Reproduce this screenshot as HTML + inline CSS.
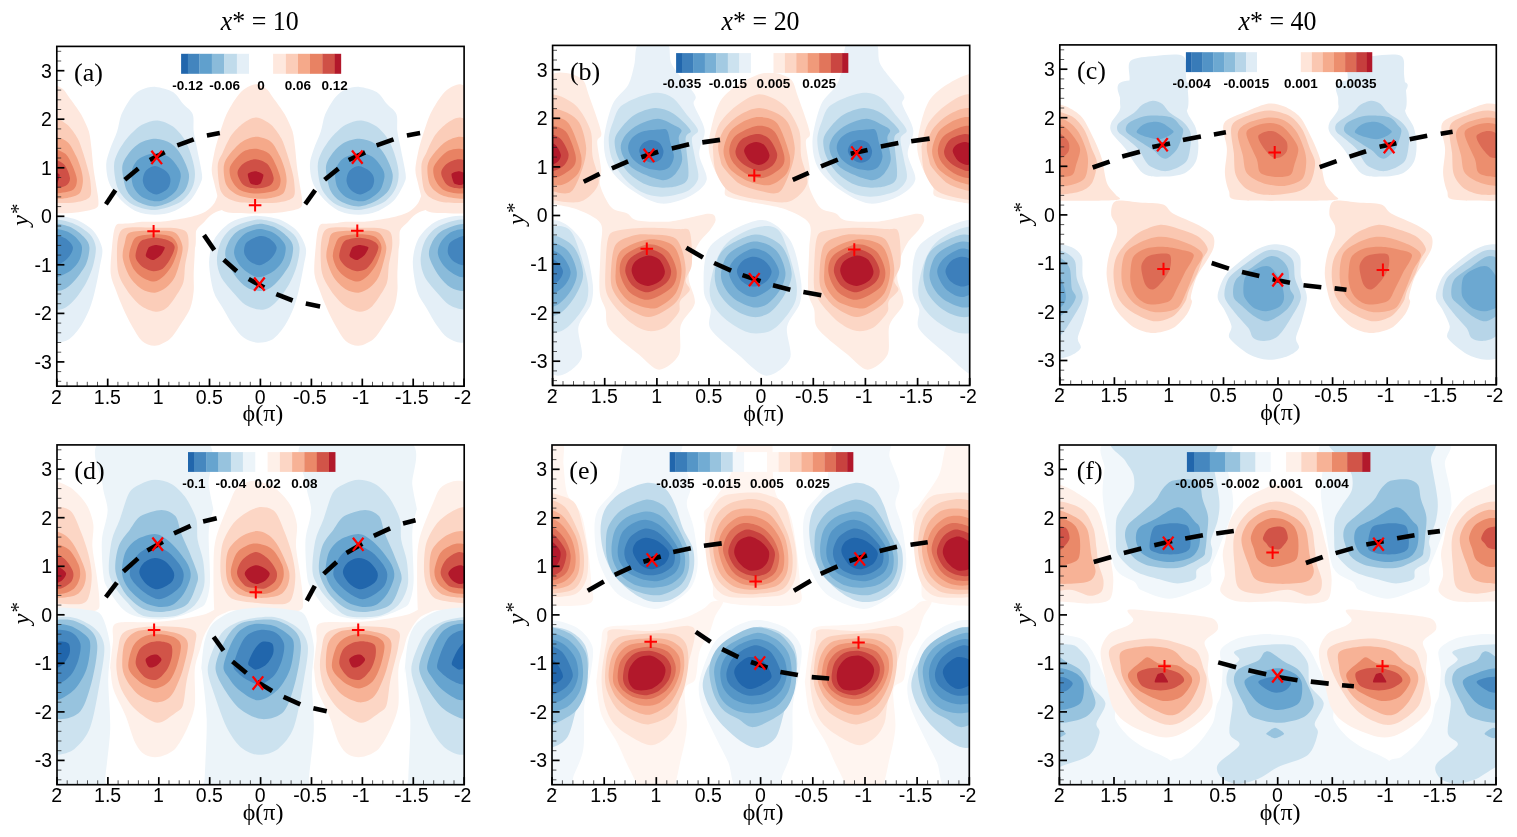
<!DOCTYPE html>
<html lang="en"><head><meta charset="utf-8"><title>Contour figure</title>
<style>
html,body{margin:0;padding:0;background:#fff}
svg{display:block}
.tk{font-family:"Liberation Sans",sans-serif;font-size:19.5px;fill:#000}
.cb{font-family:"Liberation Sans",sans-serif;font-size:13.5px;font-weight:bold;fill:#000;text-anchor:middle}
.sf{font-family:"Liberation Serif",serif;fill:#000}
</style></head>
<body>
<svg width="1517" height="837" viewBox="0 0 1517 837">
<rect width="1517" height="837" fill="#fff"/>
<g id="panel-a">
<clipPath id="clip-a"><rect x="56.8" y="46.4" width="407.3" height="339.8"/></clipPath>
<g clip-path="url(#clip-a)">
<path fill="#e4eff7" transform="translate(-203.7,0)" d="M155.8,86.9C160.4,87.3 168.9,89.5 173,92C177.1,94.6 180.4,100.7 183.3,104.1C186.3,107.4 191.2,110.3 192.8,114.4C194.3,118.5 193,126.5 193.7,131.6C194.3,136.8 195.9,142.5 197.1,148.8C198.3,155.2 201.4,168.6 201.9,173.8C202.4,178.9 202.3,179.2 200.5,183.2C198.8,187.2 194.3,196.2 190.2,200.5C186.1,204.7 178.3,209.5 173,211.6C167.7,213.8 160.4,214.7 154.9,214.7C149.5,214.7 141.9,213.8 136.9,211.6C131.8,209.5 125.5,204.7 121.4,200.5C117.3,196.2 111.6,188.7 109.3,183.2C107.1,177.8 106.1,169.5 106.2,164.3C106.4,159.2 108.6,153.7 110.2,148.8C111.8,143.9 115.4,136.8 117.1,131.6C118.8,126.5 119.2,119.6 121.4,114.4C123.6,109.3 128.6,100.9 131.7,97.2C134.8,93.5 138.4,91 142,89.5C145.6,87.9 151.2,86.5 155.8,86.9Z"/>
<path fill="#e4eff7" d="M155.8,86.9C160.4,87.3 168.9,89.5 173,92C177.1,94.6 180.4,100.7 183.3,104.1C186.3,107.4 191.2,110.3 192.8,114.4C194.3,118.5 193,126.5 193.7,131.6C194.3,136.8 195.9,142.5 197.1,148.8C198.3,155.2 201.4,168.6 201.9,173.8C202.4,178.9 202.3,179.2 200.5,183.2C198.8,187.2 194.3,196.2 190.2,200.5C186.1,204.7 178.3,209.5 173,211.6C167.7,213.8 160.4,214.7 154.9,214.7C149.5,214.7 141.9,213.8 136.9,211.6C131.8,209.5 125.5,204.7 121.4,200.5C117.3,196.2 111.6,188.7 109.3,183.2C107.1,177.8 106.1,169.5 106.2,164.3C106.4,159.2 108.6,153.7 110.2,148.8C111.8,143.9 115.4,136.8 117.1,131.6C118.8,126.5 119.2,119.6 121.4,114.4C123.6,109.3 128.6,100.9 131.7,97.2C134.8,93.5 138.4,91 142,89.5C145.6,87.9 151.2,86.5 155.8,86.9Z"/>
<path fill="#e4eff7" transform="translate(203.7,0)" d="M155.8,86.9C160.4,87.3 168.9,89.5 173,92C177.1,94.6 180.4,100.7 183.3,104.1C186.3,107.4 191.2,110.3 192.8,114.4C194.3,118.5 193,126.5 193.7,131.6C194.3,136.8 195.9,142.5 197.1,148.8C198.3,155.2 201.4,168.6 201.9,173.8C202.4,178.9 202.3,179.2 200.5,183.2C198.8,187.2 194.3,196.2 190.2,200.5C186.1,204.7 178.3,209.5 173,211.6C167.7,213.8 160.4,214.7 154.9,214.7C149.5,214.7 141.9,213.8 136.9,211.6C131.8,209.5 125.5,204.7 121.4,200.5C117.3,196.2 111.6,188.7 109.3,183.2C107.1,177.8 106.1,169.5 106.2,164.3C106.4,159.2 108.6,153.7 110.2,148.8C111.8,143.9 115.4,136.8 117.1,131.6C118.8,126.5 119.2,119.6 121.4,114.4C123.6,109.3 128.6,100.9 131.7,97.2C134.8,93.5 138.4,91 142,89.5C145.6,87.9 151.2,86.5 155.8,86.9Z"/>
<path fill="#fee8de" transform="translate(-203.7,0)" d="M255.6,84.3C258.7,84.3 263.3,86.7 265.9,88.6C268.5,90.5 270,93.3 272.8,97.2C275.6,101.1 281.9,109.3 284.9,114.4C287.8,119.6 291,126.5 292.6,131.6C294.1,136.8 294.5,143.7 295.2,148.8C295.8,154 296.3,160.9 296.9,166C297.5,171.2 298.7,178.1 299.5,183.2C300.3,188.4 302.1,196.7 302.1,200.5C302.1,204.2 302.8,206.4 299.5,208.2C296.1,210 286.3,211.7 279.7,212.5C273.1,213.3 263.3,213.4 255.6,213.4C247.9,213.4 233.5,213.4 228.1,212.5C222.7,211.6 220.9,209.1 219.5,207.3C218,205.5 219.4,204.1 218.6,200.5C217.8,196.8 215.3,187.9 214.3,183.2C213.3,178.6 211.6,174.6 211.7,169.5C211.9,164.3 213.9,154.5 215.2,148.8C216.5,143.2 218.7,136.8 220.3,131.6C222,126.5 223.9,119.6 226.4,114.4C228.8,109.3 233.8,101.1 236.7,97.2C239.5,93.3 242.4,90.5 245.3,88.6C248.1,86.7 252.5,84.3 255.6,84.3Z"/>
<path fill="#fee8de" d="M255.6,84.3C258.7,84.3 263.3,86.7 265.9,88.6C268.5,90.5 270,93.3 272.8,97.2C275.6,101.1 281.9,109.3 284.9,114.4C287.8,119.6 291,126.5 292.6,131.6C294.1,136.8 294.5,143.7 295.2,148.8C295.8,154 296.3,160.9 296.9,166C297.5,171.2 298.7,178.1 299.5,183.2C300.3,188.4 302.1,196.7 302.1,200.5C302.1,204.2 302.8,206.4 299.5,208.2C296.1,210 286.3,211.7 279.7,212.5C273.1,213.3 263.3,213.4 255.6,213.4C247.9,213.4 233.5,213.4 228.1,212.5C222.7,211.6 220.9,209.1 219.5,207.3C218,205.5 219.4,204.1 218.6,200.5C217.8,196.8 215.3,187.9 214.3,183.2C213.3,178.6 211.6,174.6 211.7,169.5C211.9,164.3 213.9,154.5 215.2,148.8C216.5,143.2 218.7,136.8 220.3,131.6C222,126.5 223.9,119.6 226.4,114.4C228.8,109.3 233.8,101.1 236.7,97.2C239.5,93.3 242.4,90.5 245.3,88.6C248.1,86.7 252.5,84.3 255.6,84.3Z"/>
<path fill="#fee8de" transform="translate(203.7,0)" d="M255.6,84.3C258.7,84.3 263.3,86.7 265.9,88.6C268.5,90.5 270,93.3 272.8,97.2C275.6,101.1 281.9,109.3 284.9,114.4C287.8,119.6 291,126.5 292.6,131.6C294.1,136.8 294.5,143.7 295.2,148.8C295.8,154 296.3,160.9 296.9,166C297.5,171.2 298.7,178.1 299.5,183.2C300.3,188.4 302.1,196.7 302.1,200.5C302.1,204.2 302.8,206.4 299.5,208.2C296.1,210 286.3,211.7 279.7,212.5C273.1,213.3 263.3,213.4 255.6,213.4C247.9,213.4 233.5,213.4 228.1,212.5C222.7,211.6 220.9,209.1 219.5,207.3C218,205.5 219.4,204.1 218.6,200.5C217.8,196.8 215.3,187.9 214.3,183.2C213.3,178.6 211.6,174.6 211.7,169.5C211.9,164.3 213.9,154.5 215.2,148.8C216.5,143.2 218.7,136.8 220.3,131.6C222,126.5 223.9,119.6 226.4,114.4C228.8,109.3 233.8,101.1 236.7,97.2C239.5,93.3 242.4,90.5 245.3,88.6C248.1,86.7 252.5,84.3 255.6,84.3Z"/>
<path fill="#fee8de" transform="translate(-203.7,0)" d="M115.4,226.5C117.3,222.8 118.9,224.2 124.8,223.6C130.8,223 147.2,222.7 154.9,222.7C162.7,222.7 170.6,223.2 176.5,223.6C182.3,224 190.9,222.2 193.7,225.3C196.4,228.5 195,237.3 195,244.6C195,251.9 193.9,266.9 193.7,273.8C193.5,280.8 194.2,285.9 193.7,291C193.1,296.2 192.3,303.1 190.2,308.2C188.2,313.4 183,320.8 179.9,325.5C176.8,330.1 173.3,336.2 169.6,339.2C165.8,342.3 159.1,345.5 154.9,345.8C150.8,346 145.5,344 142,340.9C138.6,337.9 134.6,330.4 131.7,325.5C128.9,320.5 125.4,313.4 123.1,308.2C120.8,303.1 118.1,296.2 116.2,291C114.4,285.9 111.4,280.3 110.7,273.8C110.1,267.4 111.2,255.1 111.9,248C112.6,240.9 113.4,230.2 115.4,226.5Z"/>
<path fill="#fee8de" d="M115.4,226.5C117.3,222.8 118.9,224.2 124.8,223.6C130.8,223 147.2,222.7 154.9,222.7C162.7,222.7 170.6,223.2 176.5,223.6C182.3,224 190.9,222.2 193.7,225.3C196.4,228.5 195,237.3 195,244.6C195,251.9 193.9,266.9 193.7,273.8C193.5,280.8 194.2,285.9 193.7,291C193.1,296.2 192.3,303.1 190.2,308.2C188.2,313.4 183,320.8 179.9,325.5C176.8,330.1 173.3,336.2 169.6,339.2C165.8,342.3 159.1,345.5 154.9,345.8C150.8,346 145.5,344 142,340.9C138.6,337.9 134.6,330.4 131.7,325.5C128.9,320.5 125.4,313.4 123.1,308.2C120.8,303.1 118.1,296.2 116.2,291C114.4,285.9 111.4,280.3 110.7,273.8C110.1,267.4 111.2,255.1 111.9,248C112.6,240.9 113.4,230.2 115.4,226.5Z"/>
<path fill="#fee8de" transform="translate(203.7,0)" d="M115.4,226.5C117.3,222.8 118.9,224.2 124.8,223.6C130.8,223 147.2,222.7 154.9,222.7C162.7,222.7 170.6,223.2 176.5,223.6C182.3,224 190.9,222.2 193.7,225.3C196.4,228.5 195,237.3 195,244.6C195,251.9 193.9,266.9 193.7,273.8C193.5,280.8 194.2,285.9 193.7,291C193.1,296.2 192.3,303.1 190.2,308.2C188.2,313.4 183,320.8 179.9,325.5C176.8,330.1 173.3,336.2 169.6,339.2C165.8,342.3 159.1,345.5 154.9,345.8C150.8,346 145.5,344 142,340.9C138.6,337.9 134.6,330.4 131.7,325.5C128.9,320.5 125.4,313.4 123.1,308.2C120.8,303.1 118.1,296.2 116.2,291C114.4,285.9 111.4,280.3 110.7,273.8C110.1,267.4 111.2,255.1 111.9,248C112.6,240.9 113.4,230.2 115.4,226.5Z"/>
<path fill="#e4eff7" transform="translate(-203.7,0)" d="M257.3,215.7C263,215.9 273.8,217.4 279.7,219.6C285.6,221.9 293,226.6 296.9,230.8C300.8,235.1 304.8,242.9 305.8,248C306.9,253.2 304.9,258.8 303.8,265.2C302.7,271.7 300.2,284.6 298.6,291C297.1,297.5 295.5,303.1 293.5,308.2C291.4,313.4 288,320.8 284.9,325.5C281.8,330.1 276.9,336.6 272.8,339.2C268.7,341.8 261.7,342.9 257.3,342.7C252.9,342.4 247.2,340.1 243.6,337.5C239.9,334.9 236.3,329.8 233.2,325.5C230.1,321.1 225.9,313.4 222.9,308.2C219.9,303.1 215.5,298 213.4,291C211.4,284.1 209,269.5 209.1,261.8C209.3,254 211.5,245.1 214.3,239.4C217.1,233.7 223.9,227.2 228.1,223.9C232.2,220.7 237.4,219.1 241.8,217.9C246.2,216.7 251.6,215.4 257.3,215.7Z"/>
<path fill="#e4eff7" d="M257.3,215.7C263,215.9 273.8,217.4 279.7,219.6C285.6,221.9 293,226.6 296.9,230.8C300.8,235.1 304.8,242.9 305.8,248C306.9,253.2 304.9,258.8 303.8,265.2C302.7,271.7 300.2,284.6 298.6,291C297.1,297.5 295.5,303.1 293.5,308.2C291.4,313.4 288,320.8 284.9,325.5C281.8,330.1 276.9,336.6 272.8,339.2C268.7,341.8 261.7,342.9 257.3,342.7C252.9,342.4 247.2,340.1 243.6,337.5C239.9,334.9 236.3,329.8 233.2,325.5C230.1,321.1 225.9,313.4 222.9,308.2C219.9,303.1 215.5,298 213.4,291C211.4,284.1 209,269.5 209.1,261.8C209.3,254 211.5,245.1 214.3,239.4C217.1,233.7 223.9,227.2 228.1,223.9C232.2,220.7 237.4,219.1 241.8,217.9C246.2,216.7 251.6,215.4 257.3,215.7Z"/>
<path fill="#e4eff7" transform="translate(203.7,0)" d="M257.3,215.7C263,215.9 273.8,217.4 279.7,219.6C285.6,221.9 293,226.6 296.9,230.8C300.8,235.1 304.8,242.9 305.8,248C306.9,253.2 304.9,258.8 303.8,265.2C302.7,271.7 300.2,284.6 298.6,291C297.1,297.5 295.5,303.1 293.5,308.2C291.4,313.4 288,320.8 284.9,325.5C281.8,330.1 276.9,336.6 272.8,339.2C268.7,341.8 261.7,342.9 257.3,342.7C252.9,342.4 247.2,340.1 243.6,337.5C239.9,334.9 236.3,329.8 233.2,325.5C230.1,321.1 225.9,313.4 222.9,308.2C219.9,303.1 215.5,298 213.4,291C211.4,284.1 209,269.5 209.1,261.8C209.3,254 211.5,245.1 214.3,239.4C217.1,233.7 223.9,227.2 228.1,223.9C232.2,220.7 237.4,219.1 241.8,217.9C246.2,216.7 251.6,215.4 257.3,215.7Z"/>
<path fill="#fee8de" transform="translate(-203.7,0)" d="M133.4,223.2C137.3,220.9 155.1,222.3 162.7,221.5C170.3,220.7 184.5,218.4 190.2,217C196,215.7 202.5,213.4 205.7,211.5C208.9,209.7 212.2,206 214.3,203.3C216.4,200.6 217.5,192.8 221.2,191.2C224.9,189.6 239.5,188.7 241.8,191.2C244.1,193.8 241.1,207.6 238.4,210.2C235.6,212.7 224.7,209.6 221.2,210.2C217.6,210.7 214,212.9 211.7,214.5C209.4,216.1 206,220 204,222.2C201.9,224.4 197.6,227.1 196.2,230.8C194.9,234.5 197.4,247.2 193.7,249.7C189.9,252.3 175.9,251.1 167.8,249.7C159.8,248.4 138,242.9 133.4,239.4C128.8,235.9 129.5,225.6 133.4,223.2Z"/>
<path fill="#fee8de" d="M133.4,223.2C137.3,220.9 155.1,222.3 162.7,221.5C170.3,220.7 184.5,218.4 190.2,217C196,215.7 202.5,213.4 205.7,211.5C208.9,209.7 212.2,206 214.3,203.3C216.4,200.6 217.5,192.8 221.2,191.2C224.9,189.6 239.5,188.7 241.8,191.2C244.1,193.8 241.1,207.6 238.4,210.2C235.6,212.7 224.7,209.6 221.2,210.2C217.6,210.7 214,212.9 211.7,214.5C209.4,216.1 206,220 204,222.2C201.9,224.4 197.6,227.1 196.2,230.8C194.9,234.5 197.4,247.2 193.7,249.7C189.9,252.3 175.9,251.1 167.8,249.7C159.8,248.4 138,242.9 133.4,239.4C128.8,235.9 129.5,225.6 133.4,223.2Z"/>
<path fill="#fee8de" transform="translate(203.7,0)" d="M133.4,223.2C137.3,220.9 155.1,222.3 162.7,221.5C170.3,220.7 184.5,218.4 190.2,217C196,215.7 202.5,213.4 205.7,211.5C208.9,209.7 212.2,206 214.3,203.3C216.4,200.6 217.5,192.8 221.2,191.2C224.9,189.6 239.5,188.7 241.8,191.2C244.1,193.8 241.1,207.6 238.4,210.2C235.6,212.7 224.7,209.6 221.2,210.2C217.6,210.7 214,212.9 211.7,214.5C209.4,216.1 206,220 204,222.2C201.9,224.4 197.6,227.1 196.2,230.8C194.9,234.5 197.4,247.2 193.7,249.7C189.9,252.3 175.9,251.1 167.8,249.7C159.8,248.4 138,242.9 133.4,239.4C128.8,235.9 129.5,225.6 133.4,223.2Z"/>
<path fill="#c0dbeb" transform="translate(-203.7,0)" d="M157.5,120.4C162.2,120.7 168.9,123.5 173,126.5C177.1,129.4 182.2,135.6 185.1,140.2C187.9,144.9 190.4,152.4 191.9,157.4C193.4,162.5 195,169.1 195,173.8C195,178.4 194.2,184.1 191.9,188.4C189.7,192.7 185.4,198.9 179.9,202.2C174.3,205.4 162.2,209.7 154.9,209.9C147.7,210.2 137.3,207.1 131.7,203.9C126.2,200.7 120.6,194.1 117.9,188.4C115.3,182.7 114,171.5 114,166C114,160.6 115.8,156.7 117.9,152.3C120.1,147.9 124.7,140.9 128.3,136.8C131.9,132.7 137.6,127.2 142,124.7C146.4,122.3 152.9,120.2 157.5,120.4Z"/>
<path fill="#c0dbeb" d="M157.5,120.4C162.2,120.7 168.9,123.5 173,126.5C177.1,129.4 182.2,135.6 185.1,140.2C187.9,144.9 190.4,152.4 191.9,157.4C193.4,162.5 195,169.1 195,173.8C195,178.4 194.2,184.1 191.9,188.4C189.7,192.7 185.4,198.9 179.9,202.2C174.3,205.4 162.2,209.7 154.9,209.9C147.7,210.2 137.3,207.1 131.7,203.9C126.2,200.7 120.6,194.1 117.9,188.4C115.3,182.7 114,171.5 114,166C114,160.6 115.8,156.7 117.9,152.3C120.1,147.9 124.7,140.9 128.3,136.8C131.9,132.7 137.6,127.2 142,124.7C146.4,122.3 152.9,120.2 157.5,120.4Z"/>
<path fill="#c0dbeb" transform="translate(203.7,0)" d="M157.5,120.4C162.2,120.7 168.9,123.5 173,126.5C177.1,129.4 182.2,135.6 185.1,140.2C187.9,144.9 190.4,152.4 191.9,157.4C193.4,162.5 195,169.1 195,173.8C195,178.4 194.2,184.1 191.9,188.4C189.7,192.7 185.4,198.9 179.9,202.2C174.3,205.4 162.2,209.7 154.9,209.9C147.7,210.2 137.3,207.1 131.7,203.9C126.2,200.7 120.6,194.1 117.9,188.4C115.3,182.7 114,171.5 114,166C114,160.6 115.8,156.7 117.9,152.3C120.1,147.9 124.7,140.9 128.3,136.8C131.9,132.7 137.6,127.2 142,124.7C146.4,122.3 152.9,120.2 157.5,120.4Z"/>
<path fill="#fbcdb9" transform="translate(-203.7,0)" d="M256.5,117.5C260.6,117.8 267.3,121.6 271.1,124.7C274.8,127.9 279.1,134.4 281.4,138.5C283.7,142.6 285,147.6 286.6,152.3C288.1,156.9 290.6,164.8 291.7,169.5C292.9,174.1 294.1,179.1 294.3,183.2C294.6,187.4 295.7,194.2 293.5,197C291.3,199.8 285.2,201.3 279.7,202.2C274.1,203.1 263.2,203.2 256.5,203C249.8,202.9 240.2,203 235,201.3C229.7,199.6 223.8,197.1 221.2,191.8C218.6,186.6 217.5,172 217.7,166C218,160.1 220.8,156.9 222.9,152.3C225,147.6 228.4,139.5 231.5,135.1C234.6,130.7 239.8,125.7 243.6,123C247.3,120.4 252.3,117.3 256.5,117.5Z"/>
<path fill="#fbcdb9" d="M256.5,117.5C260.6,117.8 267.3,121.6 271.1,124.7C274.8,127.9 279.1,134.4 281.4,138.5C283.7,142.6 285,147.6 286.6,152.3C288.1,156.9 290.6,164.8 291.7,169.5C292.9,174.1 294.1,179.1 294.3,183.2C294.6,187.4 295.7,194.2 293.5,197C291.3,199.8 285.2,201.3 279.7,202.2C274.1,203.1 263.2,203.2 256.5,203C249.8,202.9 240.2,203 235,201.3C229.7,199.6 223.8,197.1 221.2,191.8C218.6,186.6 217.5,172 217.7,166C218,160.1 220.8,156.9 222.9,152.3C225,147.6 228.4,139.5 231.5,135.1C234.6,130.7 239.8,125.7 243.6,123C247.3,120.4 252.3,117.3 256.5,117.5Z"/>
<path fill="#fbcdb9" transform="translate(203.7,0)" d="M256.5,117.5C260.6,117.8 267.3,121.6 271.1,124.7C274.8,127.9 279.1,134.4 281.4,138.5C283.7,142.6 285,147.6 286.6,152.3C288.1,156.9 290.6,164.8 291.7,169.5C292.9,174.1 294.1,179.1 294.3,183.2C294.6,187.4 295.7,194.2 293.5,197C291.3,199.8 285.2,201.3 279.7,202.2C274.1,203.1 263.2,203.2 256.5,203C249.8,202.9 240.2,203 235,201.3C229.7,199.6 223.8,197.1 221.2,191.8C218.6,186.6 217.5,172 217.7,166C218,160.1 220.8,156.9 222.9,152.3C225,147.6 228.4,139.5 231.5,135.1C234.6,130.7 239.8,125.7 243.6,123C247.3,120.4 252.3,117.3 256.5,117.5Z"/>
<path fill="#fbcdb9" transform="translate(-203.7,0)" d="M124.8,228.2C130.2,226.5 146.3,227.7 154.1,227.7C161.8,227.7 171.5,227.5 176.5,228.2C181.4,229 185,229.8 186.8,232.5C188.6,235.2 188.8,241.4 188.5,246.3C188.2,251.2 185.8,259.8 185.1,265.2C184.3,270.6 184.9,277.5 183.3,282.4C181.8,287.3 177.3,294 174.7,297.9C172.1,301.8 169,306.2 166.1,308.2C163.3,310.3 159.4,311.9 155.8,311.7C152.2,311.4 145.9,309.1 142,306.5C138.2,303.9 133.3,298.9 130,294.5C126.6,290.1 121.6,282.2 119.7,277.3C117.7,272.4 117.3,267.5 117.1,261.8C116.8,256.1 116.8,244.4 117.9,239.4C119.1,234.4 119.4,230 124.8,228.2Z"/>
<path fill="#fbcdb9" d="M124.8,228.2C130.2,226.5 146.3,227.7 154.1,227.7C161.8,227.7 171.5,227.5 176.5,228.2C181.4,229 185,229.8 186.8,232.5C188.6,235.2 188.8,241.4 188.5,246.3C188.2,251.2 185.8,259.8 185.1,265.2C184.3,270.6 184.9,277.5 183.3,282.4C181.8,287.3 177.3,294 174.7,297.9C172.1,301.8 169,306.2 166.1,308.2C163.3,310.3 159.4,311.9 155.8,311.7C152.2,311.4 145.9,309.1 142,306.5C138.2,303.9 133.3,298.9 130,294.5C126.6,290.1 121.6,282.2 119.7,277.3C117.7,272.4 117.3,267.5 117.1,261.8C116.8,256.1 116.8,244.4 117.9,239.4C119.1,234.4 119.4,230 124.8,228.2Z"/>
<path fill="#fbcdb9" transform="translate(203.7,0)" d="M124.8,228.2C130.2,226.5 146.3,227.7 154.1,227.7C161.8,227.7 171.5,227.5 176.5,228.2C181.4,229 185,229.8 186.8,232.5C188.6,235.2 188.8,241.4 188.5,246.3C188.2,251.2 185.8,259.8 185.1,265.2C184.3,270.6 184.9,277.5 183.3,282.4C181.8,287.3 177.3,294 174.7,297.9C172.1,301.8 169,306.2 166.1,308.2C163.3,310.3 159.4,311.9 155.8,311.7C152.2,311.4 145.9,309.1 142,306.5C138.2,303.9 133.3,298.9 130,294.5C126.6,290.1 121.6,282.2 119.7,277.3C117.7,272.4 117.3,267.5 117.1,261.8C116.8,256.1 116.8,244.4 117.9,239.4C119.1,234.4 119.4,230 124.8,228.2Z"/>
<path fill="#c0dbeb" transform="translate(-203.7,0)" d="M257.3,219.6C264,219.1 272.6,221.7 278,223.9C283.4,226.1 290.2,230.8 293.5,234.3C296.7,237.7 299,242.5 299.5,247.2C300,251.8 298.3,259.9 296.9,265.2C295.5,270.5 292.6,277.5 290,282.4C287.4,287.3 282.8,294.2 279.7,297.9C276.6,301.7 272.5,305.6 269.4,307.4C266.3,309.1 262.7,310 259,309.6C255.4,309.2 248.9,307.1 245.3,304.8C241.7,302.5 238.6,298.6 235,294.5C231.3,290.3 223.9,282.4 221.2,277.3C218.5,272.1 216.9,265.5 216.9,260.1C216.9,254.6 218.7,246 221.2,241.1C223.6,236.2 227.8,230.6 233.2,227.4C238.7,224.1 250.6,220.1 257.3,219.6Z"/>
<path fill="#c0dbeb" d="M257.3,219.6C264,219.1 272.6,221.7 278,223.9C283.4,226.1 290.2,230.8 293.5,234.3C296.7,237.7 299,242.5 299.5,247.2C300,251.8 298.3,259.9 296.9,265.2C295.5,270.5 292.6,277.5 290,282.4C287.4,287.3 282.8,294.2 279.7,297.9C276.6,301.7 272.5,305.6 269.4,307.4C266.3,309.1 262.7,310 259,309.6C255.4,309.2 248.9,307.1 245.3,304.8C241.7,302.5 238.6,298.6 235,294.5C231.3,290.3 223.9,282.4 221.2,277.3C218.5,272.1 216.9,265.5 216.9,260.1C216.9,254.6 218.7,246 221.2,241.1C223.6,236.2 227.8,230.6 233.2,227.4C238.7,224.1 250.6,220.1 257.3,219.6Z"/>
<path fill="#c0dbeb" transform="translate(203.7,0)" d="M257.3,219.6C264,219.1 272.6,221.7 278,223.9C283.4,226.1 290.2,230.8 293.5,234.3C296.7,237.7 299,242.5 299.5,247.2C300,251.8 298.3,259.9 296.9,265.2C295.5,270.5 292.6,277.5 290,282.4C287.4,287.3 282.8,294.2 279.7,297.9C276.6,301.7 272.5,305.6 269.4,307.4C266.3,309.1 262.7,310 259,309.6C255.4,309.2 248.9,307.1 245.3,304.8C241.7,302.5 238.6,298.6 235,294.5C231.3,290.3 223.9,282.4 221.2,277.3C218.5,272.1 216.9,265.5 216.9,260.1C216.9,254.6 218.7,246 221.2,241.1C223.6,236.2 227.8,230.6 233.2,227.4C238.7,224.1 250.6,220.1 257.3,219.6Z"/>
<path fill="#8abbda" transform="translate(-203.7,0)" d="M155.8,138.8C160.4,139 167.4,141.1 171.3,143.7C175.2,146.2 179,151.1 181.6,155.7C184.3,160.4 188.5,169.5 189,174.6C189.5,179.8 187.5,186.3 185.1,190.1C182.7,194 177.5,198 173,200.5C168.5,202.9 160.4,206.3 154.9,206.5C149.5,206.6 141.1,203.8 136.9,201.3C132.6,198.9 128.7,195.2 126.5,190.1C124.4,185.1 122,173.2 122.2,167.8C122.5,162.3 125.6,157.7 128.3,154C131,150.2 136.2,145.1 140.3,142.8C144.4,140.5 151.2,138.7 155.8,138.8Z"/>
<path fill="#8abbda" d="M155.8,138.8C160.4,139 167.4,141.1 171.3,143.7C175.2,146.2 179,151.1 181.6,155.7C184.3,160.4 188.5,169.5 189,174.6C189.5,179.8 187.5,186.3 185.1,190.1C182.7,194 177.5,198 173,200.5C168.5,202.9 160.4,206.3 154.9,206.5C149.5,206.6 141.1,203.8 136.9,201.3C132.6,198.9 128.7,195.2 126.5,190.1C124.4,185.1 122,173.2 122.2,167.8C122.5,162.3 125.6,157.7 128.3,154C131,150.2 136.2,145.1 140.3,142.8C144.4,140.5 151.2,138.7 155.8,138.8Z"/>
<path fill="#8abbda" transform="translate(203.7,0)" d="M155.8,138.8C160.4,139 167.4,141.1 171.3,143.7C175.2,146.2 179,151.1 181.6,155.7C184.3,160.4 188.5,169.5 189,174.6C189.5,179.8 187.5,186.3 185.1,190.1C182.7,194 177.5,198 173,200.5C168.5,202.9 160.4,206.3 154.9,206.5C149.5,206.6 141.1,203.8 136.9,201.3C132.6,198.9 128.7,195.2 126.5,190.1C124.4,185.1 122,173.2 122.2,167.8C122.5,162.3 125.6,157.7 128.3,154C131,150.2 136.2,145.1 140.3,142.8C144.4,140.5 151.2,138.7 155.8,138.8Z"/>
<path fill="#f5a98a" transform="translate(-203.7,0)" d="M256.5,136.8C260.9,136.8 267.6,139.1 271.1,141.9C274.6,144.8 277.6,151.6 279.7,155.7C281.8,159.8 283.8,165.6 284.9,169.5C285.9,173.3 286.8,177.9 286.6,181.5C286.3,185.1 285.5,191.1 283.1,193.6C280.8,196 275.1,197.1 271.1,197.9C267.1,198.6 261.4,199.1 256.5,198.7C251.6,198.3 242.9,197.4 238.4,195.3C233.9,193.2 228.5,189.4 226.4,185C224.2,180.6 223.3,170.7 223.8,166C224.3,161.4 227.1,157.6 229.8,154C232.5,150.4 237.8,144.5 241.8,141.9C245.8,139.4 252.1,136.8 256.5,136.8Z"/>
<path fill="#f5a98a" d="M256.5,136.8C260.9,136.8 267.6,139.1 271.1,141.9C274.6,144.8 277.6,151.6 279.7,155.7C281.8,159.8 283.8,165.6 284.9,169.5C285.9,173.3 286.8,177.9 286.6,181.5C286.3,185.1 285.5,191.1 283.1,193.6C280.8,196 275.1,197.1 271.1,197.9C267.1,198.6 261.4,199.1 256.5,198.7C251.6,198.3 242.9,197.4 238.4,195.3C233.9,193.2 228.5,189.4 226.4,185C224.2,180.6 223.3,170.7 223.8,166C224.3,161.4 227.1,157.6 229.8,154C232.5,150.4 237.8,144.5 241.8,141.9C245.8,139.4 252.1,136.8 256.5,136.8Z"/>
<path fill="#f5a98a" transform="translate(203.7,0)" d="M256.5,136.8C260.9,136.8 267.6,139.1 271.1,141.9C274.6,144.8 277.6,151.6 279.7,155.7C281.8,159.8 283.8,165.6 284.9,169.5C285.9,173.3 286.8,177.9 286.6,181.5C286.3,185.1 285.5,191.1 283.1,193.6C280.8,196 275.1,197.1 271.1,197.9C267.1,198.6 261.4,199.1 256.5,198.7C251.6,198.3 242.9,197.4 238.4,195.3C233.9,193.2 228.5,189.4 226.4,185C224.2,180.6 223.3,170.7 223.8,166C224.3,161.4 227.1,157.6 229.8,154C232.5,150.4 237.8,144.5 241.8,141.9C245.8,139.4 252.1,136.8 256.5,136.8Z"/>
<path fill="#f5a98a" transform="translate(-203.7,0)" d="M130,232.5C134.4,230.7 147.4,230.8 154.1,230.8C160.8,230.8 170.5,230.2 174.7,232.5C179,234.9 181.7,241.9 182.5,246.3C183.2,250.7 181.1,257.1 179.9,261.8C178.7,266.4 176.8,273.4 174.7,277.3C172.7,281.1 169.1,285.3 166.1,287.6C163.2,289.9 158.6,292.5 154.9,292.8C151.3,293 145.8,291.6 142,289.3C138.3,287 132.9,281.9 130,277.3C127.1,272.6 123.5,263.5 122.8,258.3C122,253.2 123.7,246.7 124.8,242.9C125.9,239 125.6,234.3 130,232.5Z"/>
<path fill="#f5a98a" d="M130,232.5C134.4,230.7 147.4,230.8 154.1,230.8C160.8,230.8 170.5,230.2 174.7,232.5C179,234.9 181.7,241.9 182.5,246.3C183.2,250.7 181.1,257.1 179.9,261.8C178.7,266.4 176.8,273.4 174.7,277.3C172.7,281.1 169.1,285.3 166.1,287.6C163.2,289.9 158.6,292.5 154.9,292.8C151.3,293 145.8,291.6 142,289.3C138.3,287 132.9,281.9 130,277.3C127.1,272.6 123.5,263.5 122.8,258.3C122,253.2 123.7,246.7 124.8,242.9C125.9,239 125.6,234.3 130,232.5Z"/>
<path fill="#f5a98a" transform="translate(203.7,0)" d="M130,232.5C134.4,230.7 147.4,230.8 154.1,230.8C160.8,230.8 170.5,230.2 174.7,232.5C179,234.9 181.7,241.9 182.5,246.3C183.2,250.7 181.1,257.1 179.9,261.8C178.7,266.4 176.8,273.4 174.7,277.3C172.7,281.1 169.1,285.3 166.1,287.6C163.2,289.9 158.6,292.5 154.9,292.8C151.3,293 145.8,291.6 142,289.3C138.3,287 132.9,281.9 130,277.3C127.1,272.6 123.5,263.5 122.8,258.3C122,253.2 123.7,246.7 124.8,242.9C125.9,239 125.6,234.3 130,232.5Z"/>
<path fill="#8abbda" transform="translate(-203.7,0)" d="M259,223.9C264.7,223.5 271.9,226.2 276.3,228.2C280.6,230.3 285.8,234.9 288.3,237.7C290.8,240.5 292.9,243.3 293.1,247.2C293.4,251 292,258.7 290,263.5C288,268.3 282.8,275.2 279.7,279C276.6,282.7 272.5,286.6 269.4,288.5C266.3,290.3 262.4,291.2 259,291C255.7,290.9 250.6,289.9 247,287.6C243.4,285.3 238.2,280.2 235,275.5C231.7,270.9 226.5,261.5 225.5,256.6C224.5,251.7 226.1,246.7 228.1,242.9C230,239 233.7,233.6 238.4,230.8C243,228 253.4,224.3 259,223.9Z"/>
<path fill="#8abbda" d="M259,223.9C264.7,223.5 271.9,226.2 276.3,228.2C280.6,230.3 285.8,234.9 288.3,237.7C290.8,240.5 292.9,243.3 293.1,247.2C293.4,251 292,258.7 290,263.5C288,268.3 282.8,275.2 279.7,279C276.6,282.7 272.5,286.6 269.4,288.5C266.3,290.3 262.4,291.2 259,291C255.7,290.9 250.6,289.9 247,287.6C243.4,285.3 238.2,280.2 235,275.5C231.7,270.9 226.5,261.5 225.5,256.6C224.5,251.7 226.1,246.7 228.1,242.9C230,239 233.7,233.6 238.4,230.8C243,228 253.4,224.3 259,223.9Z"/>
<path fill="#8abbda" transform="translate(203.7,0)" d="M259,223.9C264.7,223.5 271.9,226.2 276.3,228.2C280.6,230.3 285.8,234.9 288.3,237.7C290.8,240.5 292.9,243.3 293.1,247.2C293.4,251 292,258.7 290,263.5C288,268.3 282.8,275.2 279.7,279C276.6,282.7 272.5,286.6 269.4,288.5C266.3,290.3 262.4,291.2 259,291C255.7,290.9 250.6,289.9 247,287.6C243.4,285.3 238.2,280.2 235,275.5C231.7,270.9 226.5,261.5 225.5,256.6C224.5,251.7 226.1,246.7 228.1,242.9C230,239 233.7,233.6 238.4,230.8C243,228 253.4,224.3 259,223.9Z"/>
<path fill="#60a0cd" transform="translate(-203.7,0)" d="M155.8,153.1C160.4,152.9 166.2,155.2 169.6,157.4C172.9,159.6 176.5,164.9 178.2,167.8C179.8,170.6 181,173 180.8,176.4C180.5,179.7 178.6,186.8 176.5,190.1C174.3,193.5 169.2,197.1 166.1,198.7C163,200.4 159.4,201.6 155.8,201.3C152.2,201.1 145.4,199.2 142,197C138.7,194.8 135,190.6 133.4,186.7C131.9,182.8 130.9,175.3 131.7,171.2C132.5,167.1 135,161.9 138.6,159.2C142.2,156.4 151.2,153.4 155.8,153.1Z"/>
<path fill="#60a0cd" d="M155.8,153.1C160.4,152.9 166.2,155.2 169.6,157.4C172.9,159.6 176.5,164.9 178.2,167.8C179.8,170.6 181,173 180.8,176.4C180.5,179.7 178.6,186.8 176.5,190.1C174.3,193.5 169.2,197.1 166.1,198.7C163,200.4 159.4,201.6 155.8,201.3C152.2,201.1 145.4,199.2 142,197C138.7,194.8 135,190.6 133.4,186.7C131.9,182.8 130.9,175.3 131.7,171.2C132.5,167.1 135,161.9 138.6,159.2C142.2,156.4 151.2,153.4 155.8,153.1Z"/>
<path fill="#60a0cd" transform="translate(203.7,0)" d="M155.8,153.1C160.4,152.9 166.2,155.2 169.6,157.4C172.9,159.6 176.5,164.9 178.2,167.8C179.8,170.6 181,173 180.8,176.4C180.5,179.7 178.6,186.8 176.5,190.1C174.3,193.5 169.2,197.1 166.1,198.7C163,200.4 159.4,201.6 155.8,201.3C152.2,201.1 145.4,199.2 142,197C138.7,194.8 135,190.6 133.4,186.7C131.9,182.8 130.9,175.3 131.7,171.2C132.5,167.1 135,161.9 138.6,159.2C142.2,156.4 151.2,153.4 155.8,153.1Z"/>
<path fill="#e88263" transform="translate(-203.7,0)" d="M256.5,148.8C260.1,149.3 266.4,151.4 269.4,154C272.3,156.6 274.6,162.2 276.3,166C277.9,169.9 280.6,176.2 280.6,179.8C280.6,183.4 279.9,188.1 276.3,190.1C272.6,192.2 261.9,193.6 256.5,193.6C251,193.6 243.9,192.2 240.1,190.1C236.4,188.1 233.1,183.2 231.5,179.8C230,176.4 229,171.1 229.8,167.8C230.6,164.4 234.4,160 236.7,157.4C239,154.9 242.3,151.8 245.3,150.5C248.2,149.3 252.8,148.3 256.5,148.8Z"/>
<path fill="#e88263" d="M256.5,148.8C260.1,149.3 266.4,151.4 269.4,154C272.3,156.6 274.6,162.2 276.3,166C277.9,169.9 280.6,176.2 280.6,179.8C280.6,183.4 279.9,188.1 276.3,190.1C272.6,192.2 261.9,193.6 256.5,193.6C251,193.6 243.9,192.2 240.1,190.1C236.4,188.1 233.1,183.2 231.5,179.8C230,176.4 229,171.1 229.8,167.8C230.6,164.4 234.4,160 236.7,157.4C239,154.9 242.3,151.8 245.3,150.5C248.2,149.3 252.8,148.3 256.5,148.8Z"/>
<path fill="#e88263" transform="translate(203.7,0)" d="M256.5,148.8C260.1,149.3 266.4,151.4 269.4,154C272.3,156.6 274.6,162.2 276.3,166C277.9,169.9 280.6,176.2 280.6,179.8C280.6,183.4 279.9,188.1 276.3,190.1C272.6,192.2 261.9,193.6 256.5,193.6C251,193.6 243.9,192.2 240.1,190.1C236.4,188.1 233.1,183.2 231.5,179.8C230,176.4 229,171.1 229.8,167.8C230.6,164.4 234.4,160 236.7,157.4C239,154.9 242.3,151.8 245.3,150.5C248.2,149.3 252.8,148.3 256.5,148.8Z"/>
<path fill="#e88263" transform="translate(-203.7,0)" d="M136.9,236.8C140.2,235.3 148.9,234.3 154.1,234.3C159.2,234.3 167.7,234.9 171.3,236.8C174.8,238.8 177.6,243.2 177.8,247.2C178.1,251.2 175,259.2 173,263.5C171,267.8 167.2,272.8 164.4,275.5C161.6,278.3 157.4,281.3 154.1,281.6C150.7,281.8 145.1,279.2 142,277.3C138.9,275.3 135.4,271.8 133.4,268.7C131.5,265.6 129.4,260.2 129.1,256.6C128.9,253 130.5,247.5 131.7,244.6C132.9,241.6 133.5,238.4 136.9,236.8Z"/>
<path fill="#e88263" d="M136.9,236.8C140.2,235.3 148.9,234.3 154.1,234.3C159.2,234.3 167.7,234.9 171.3,236.8C174.8,238.8 177.6,243.2 177.8,247.2C178.1,251.2 175,259.2 173,263.5C171,267.8 167.2,272.8 164.4,275.5C161.6,278.3 157.4,281.3 154.1,281.6C150.7,281.8 145.1,279.2 142,277.3C138.9,275.3 135.4,271.8 133.4,268.7C131.5,265.6 129.4,260.2 129.1,256.6C128.9,253 130.5,247.5 131.7,244.6C132.9,241.6 133.5,238.4 136.9,236.8Z"/>
<path fill="#e88263" transform="translate(203.7,0)" d="M136.9,236.8C140.2,235.3 148.9,234.3 154.1,234.3C159.2,234.3 167.7,234.9 171.3,236.8C174.8,238.8 177.6,243.2 177.8,247.2C178.1,251.2 175,259.2 173,263.5C171,267.8 167.2,272.8 164.4,275.5C161.6,278.3 157.4,281.3 154.1,281.6C150.7,281.8 145.1,279.2 142,277.3C138.9,275.3 135.4,271.8 133.4,268.7C131.5,265.6 129.4,260.2 129.1,256.6C128.9,253 130.5,247.5 131.7,244.6C132.9,241.6 133.5,238.4 136.9,236.8Z"/>
<path fill="#60a0cd" transform="translate(-203.7,0)" d="M259,229.1C263.2,229 269.5,231 272.8,232.5C276.2,234.1 279.5,237.2 281.4,239.4C283.3,241.6 285.5,244.1 285.7,247.2C286,250.3 284.8,256.6 283.1,260.1C281.5,263.5 278.1,267.8 274.5,270.4C270.9,273 263.2,277 259,277.3C254.9,277.5 250.1,274.2 247,272.1C243.9,270 240.3,266.3 238.4,263.5C236.5,260.7 234.4,256.3 234.1,253.2C233.8,250.1 235,245.8 236.7,242.9C238.4,239.9 241.9,235.5 245.3,233.4C248.6,231.3 254.9,229.2 259,229.1Z"/>
<path fill="#60a0cd" d="M259,229.1C263.2,229 269.5,231 272.8,232.5C276.2,234.1 279.5,237.2 281.4,239.4C283.3,241.6 285.5,244.1 285.7,247.2C286,250.3 284.8,256.6 283.1,260.1C281.5,263.5 278.1,267.8 274.5,270.4C270.9,273 263.2,277 259,277.3C254.9,277.5 250.1,274.2 247,272.1C243.9,270 240.3,266.3 238.4,263.5C236.5,260.7 234.4,256.3 234.1,253.2C233.8,250.1 235,245.8 236.7,242.9C238.4,239.9 241.9,235.5 245.3,233.4C248.6,231.3 254.9,229.2 259,229.1Z"/>
<path fill="#60a0cd" transform="translate(203.7,0)" d="M259,229.1C263.2,229 269.5,231 272.8,232.5C276.2,234.1 279.5,237.2 281.4,239.4C283.3,241.6 285.5,244.1 285.7,247.2C286,250.3 284.8,256.6 283.1,260.1C281.5,263.5 278.1,267.8 274.5,270.4C270.9,273 263.2,277 259,277.3C254.9,277.5 250.1,274.2 247,272.1C243.9,270 240.3,266.3 238.4,263.5C236.5,260.7 234.4,256.3 234.1,253.2C233.8,250.1 235,245.8 236.7,242.9C238.4,239.9 241.9,235.5 245.3,233.4C248.6,231.3 254.9,229.2 259,229.1Z"/>
<path fill="#4385be" transform="translate(-203.7,0)" d="M154.9,166C158,166 163.8,169.3 166.1,171.2C168.4,173.1 170.2,176.4 170.4,178.9C170.7,181.5 169.9,186.1 167.8,188.4C165.8,190.7 159.8,194.2 156.7,194.4C153.6,194.7 149.3,192.1 147.2,190.1C145.1,188.2 143.2,184.4 142.9,181.5C142.6,178.7 143.7,173.5 145.5,171.2C147.3,168.9 151.8,166 154.9,166Z"/>
<path fill="#4385be" d="M154.9,166C158,166 163.8,169.3 166.1,171.2C168.4,173.1 170.2,176.4 170.4,178.9C170.7,181.5 169.9,186.1 167.8,188.4C165.8,190.7 159.8,194.2 156.7,194.4C153.6,194.7 149.3,192.1 147.2,190.1C145.1,188.2 143.2,184.4 142.9,181.5C142.6,178.7 143.7,173.5 145.5,171.2C147.3,168.9 151.8,166 154.9,166Z"/>
<path fill="#4385be" transform="translate(203.7,0)" d="M154.9,166C158,166 163.8,169.3 166.1,171.2C168.4,173.1 170.2,176.4 170.4,178.9C170.7,181.5 169.9,186.1 167.8,188.4C165.8,190.7 159.8,194.2 156.7,194.4C153.6,194.7 149.3,192.1 147.2,190.1C145.1,188.2 143.2,184.4 142.9,181.5C142.6,178.7 143.7,173.5 145.5,171.2C147.3,168.9 151.8,166 154.9,166Z"/>
<path fill="#cf5046" transform="translate(-203.7,0)" d="M255.6,159.2C259.2,159.3 264.9,161.5 267.6,164.3C270.4,167.2 273.4,174.9 273.7,178.1C273.9,181.3 272.1,184.3 269.4,185.8C266.7,187.4 259.5,188.5 255.6,188.4C251.7,188.3 246.3,187.3 243.6,185C240.8,182.6 237.5,176.1 237.5,172.9C237.5,169.7 240.8,165.5 243.6,163.5C246.3,161.4 252,159 255.6,159.2Z"/>
<path fill="#cf5046" d="M255.6,159.2C259.2,159.3 264.9,161.5 267.6,164.3C270.4,167.2 273.4,174.9 273.7,178.1C273.9,181.3 272.1,184.3 269.4,185.8C266.7,187.4 259.5,188.5 255.6,188.4C251.7,188.3 246.3,187.3 243.6,185C240.8,182.6 237.5,176.1 237.5,172.9C237.5,169.7 240.8,165.5 243.6,163.5C246.3,161.4 252,159 255.6,159.2Z"/>
<path fill="#cf5046" transform="translate(203.7,0)" d="M255.6,159.2C259.2,159.3 264.9,161.5 267.6,164.3C270.4,167.2 273.4,174.9 273.7,178.1C273.9,181.3 272.1,184.3 269.4,185.8C266.7,187.4 259.5,188.5 255.6,188.4C251.7,188.3 246.3,187.3 243.6,185C240.8,182.6 237.5,176.1 237.5,172.9C237.5,169.7 240.8,165.5 243.6,163.5C246.3,161.4 252,159 255.6,159.2Z"/>
<path fill="#cf5046" transform="translate(-203.7,0)" d="M142,240.3C144.6,239 151.1,237.7 154.9,237.7C158.8,237.7 164.9,238.9 167.8,240.3C170.8,241.6 174.5,243.8 174.7,246.8C175,249.8 171.4,256.8 169.6,260.1C167.8,263.3 165.1,267 162.7,268.7C160.2,270.3 156.1,271.4 153.2,271.2C150.4,271.1 146.1,269.2 143.8,267.8C141.4,266.4 139,263.6 137.7,261.8C136.5,260 135.5,258.1 135.5,255.8C135.5,253.4 136.8,248.6 137.7,246.3C138.7,244 139.5,241.6 142,240.3Z"/>
<path fill="#cf5046" d="M142,240.3C144.6,239 151.1,237.7 154.9,237.7C158.8,237.7 164.9,238.9 167.8,240.3C170.8,241.6 174.5,243.8 174.7,246.8C175,249.8 171.4,256.8 169.6,260.1C167.8,263.3 165.1,267 162.7,268.7C160.2,270.3 156.1,271.4 153.2,271.2C150.4,271.1 146.1,269.2 143.8,267.8C141.4,266.4 139,263.6 137.7,261.8C136.5,260 135.5,258.1 135.5,255.8C135.5,253.4 136.8,248.6 137.7,246.3C138.7,244 139.5,241.6 142,240.3Z"/>
<path fill="#cf5046" transform="translate(203.7,0)" d="M142,240.3C144.6,239 151.1,237.7 154.9,237.7C158.8,237.7 164.9,238.9 167.8,240.3C170.8,241.6 174.5,243.8 174.7,246.8C175,249.8 171.4,256.8 169.6,260.1C167.8,263.3 165.1,267 162.7,268.7C160.2,270.3 156.1,271.4 153.2,271.2C150.4,271.1 146.1,269.2 143.8,267.8C141.4,266.4 139,263.6 137.7,261.8C136.5,260 135.5,258.1 135.5,255.8C135.5,253.4 136.8,248.6 137.7,246.3C138.7,244 139.5,241.6 142,240.3Z"/>
<path fill="#4385be" transform="translate(-203.7,0)" d="M259.9,236C263.3,235.5 266.9,236.9 269.4,238.6C271.9,240.2 276.1,244.4 276.6,247.2C277.1,249.9 274.4,254.3 272.8,256.6C271.2,258.9 268,261.4 265.9,262.6C263.9,263.9 261.4,265.4 259,265.2C256.7,265.1 252.5,263.2 250.4,261.8C248.4,260.4 246.2,257.6 245.3,255.8C244.3,254 243.8,251.8 244.1,249.7C244.3,247.7 244.6,244.1 247,242C249.4,239.9 256.5,236.5 259.9,236Z"/>
<path fill="#4385be" d="M259.9,236C263.3,235.5 266.9,236.9 269.4,238.6C271.9,240.2 276.1,244.4 276.6,247.2C277.1,249.9 274.4,254.3 272.8,256.6C271.2,258.9 268,261.4 265.9,262.6C263.9,263.9 261.4,265.4 259,265.2C256.7,265.1 252.5,263.2 250.4,261.8C248.4,260.4 246.2,257.6 245.3,255.8C244.3,254 243.8,251.8 244.1,249.7C244.3,247.7 244.6,244.1 247,242C249.4,239.9 256.5,236.5 259.9,236Z"/>
<path fill="#4385be" transform="translate(203.7,0)" d="M259.9,236C263.3,235.5 266.9,236.9 269.4,238.6C271.9,240.2 276.1,244.4 276.6,247.2C277.1,249.9 274.4,254.3 272.8,256.6C271.2,258.9 268,261.4 265.9,262.6C263.9,263.9 261.4,265.4 259,265.2C256.7,265.1 252.5,263.2 250.4,261.8C248.4,260.4 246.2,257.6 245.3,255.8C244.3,254 243.8,251.8 244.1,249.7C244.3,247.7 244.6,244.1 247,242C249.4,239.9 256.5,236.5 259.9,236Z"/>
<path fill="#b2182b" transform="translate(-203.7,0)" d="M247.9,173.8C248.4,172.6 254.1,171.1 255.6,171.2C257.2,171.3 262.8,173.4 263.3,174.6C263.9,175.8 261.5,182.2 260.8,183.2C260.1,184.3 257.5,185 256.5,185C255.4,185 251.3,184.4 250.4,183.2C249.6,182.1 247.3,175 247.9,173.8Z"/>
<path fill="#b2182b" d="M247.9,173.8C248.4,172.6 254.1,171.1 255.6,171.2C257.2,171.3 262.8,173.4 263.3,174.6C263.9,175.8 261.5,182.2 260.8,183.2C260.1,184.3 257.5,185 256.5,185C255.4,185 251.3,184.4 250.4,183.2C249.6,182.1 247.3,175 247.9,173.8Z"/>
<path fill="#b2182b" transform="translate(203.7,0)" d="M247.9,173.8C248.4,172.6 254.1,171.1 255.6,171.2C257.2,171.3 262.8,173.4 263.3,174.6C263.9,175.8 261.5,182.2 260.8,183.2C260.1,184.3 257.5,185 256.5,185C255.4,185 251.3,184.4 250.4,183.2C249.6,182.1 247.3,175 247.9,173.8Z"/>
<path fill="#b2182b" transform="translate(-203.7,0)" d="M155.8,244.9C157.4,244.9 164.2,246.2 164.7,247.2C165.3,248.2 162.1,253.6 161,254.9C159.8,256.2 154.6,259.8 153.2,260.1C151.8,260.3 147.9,258 147.2,257.5C146.5,257 145.6,255.9 145.8,254.9C146,253.9 147.9,248.2 148.9,247.2C149.9,246.2 154.2,244.9 155.8,244.9Z"/>
<path fill="#b2182b" d="M155.8,244.9C157.4,244.9 164.2,246.2 164.7,247.2C165.3,248.2 162.1,253.6 161,254.9C159.8,256.2 154.6,259.8 153.2,260.1C151.8,260.3 147.9,258 147.2,257.5C146.5,257 145.6,255.9 145.8,254.9C146,253.9 147.9,248.2 148.9,247.2C149.9,246.2 154.2,244.9 155.8,244.9Z"/>
<path fill="#b2182b" transform="translate(203.7,0)" d="M155.8,244.9C157.4,244.9 164.2,246.2 164.7,247.2C165.3,248.2 162.1,253.6 161,254.9C159.8,256.2 154.6,259.8 153.2,260.1C151.8,260.3 147.9,258 147.2,257.5C146.5,257 145.6,255.9 145.8,254.9C146,253.9 147.9,248.2 148.9,247.2C149.9,246.2 154.2,244.9 155.8,244.9Z"/>
</g>
<rect x="181.1" y="53.8" width="7.16" height="20" fill="#2166ac"/>
<rect x="187.9" y="53.8" width="11.64" height="20" fill="#4385be"/>
<rect x="199.3" y="53.8" width="12.82" height="20" fill="#60a0cd"/>
<rect x="211.8" y="53.8" width="12.56" height="20" fill="#8abbda"/>
<rect x="224.1" y="53.8" width="13.09" height="20" fill="#c0dbeb"/>
<rect x="236.9" y="53.8" width="12.43" height="20" fill="#e4eff7"/>
<rect x="249" y="53.8" width="24.43" height="20" fill="#ffffff"/>
<rect x="273.1" y="53.8" width="13.09" height="20" fill="#fee8de"/>
<rect x="285.9" y="53.8" width="12.43" height="20" fill="#fbcdb9"/>
<rect x="298" y="53.8" width="12.30" height="20" fill="#f5a98a"/>
<rect x="310" y="53.8" width="12.69" height="20" fill="#e88263"/>
<rect x="322.4" y="53.8" width="12.69" height="20" fill="#cf5046"/>
<rect x="334.8" y="53.8" width="6.36" height="20" fill="#b2182b"/>
<text class="cb" x="187.7" y="89.9">-0.12</text>
<text class="cb" x="224.6" y="89.9">-0.06</text>
<text class="cb" x="261" y="89.9">0</text>
<text class="cb" x="297.8" y="89.9">0.06</text>
<text class="cb" x="334.7" y="89.9">0.12</text>
<g clip-path="url(#clip-a)">
<line x1="105.9" y1="204.2" x2="115.4" y2="190.1" stroke="#000" stroke-width="4.6"/>
<line x1="124.8" y1="179.8" x2="138.3" y2="168.6" stroke="#000" stroke-width="4.6"/>
<line x1="149.8" y1="160" x2="164.7" y2="152.3" stroke="#000" stroke-width="4.6"/>
<line x1="177.3" y1="145.4" x2="193.7" y2="139.4" stroke="#000" stroke-width="4.6"/>
<line x1="206.9" y1="135.4" x2="219.8" y2="133" stroke="#000" stroke-width="4.6"/>
<line x1="305.2" y1="204.2" x2="315.2" y2="190.1" stroke="#000" stroke-width="4.6"/>
<line x1="324.6" y1="179.8" x2="338.4" y2="168.6" stroke="#000" stroke-width="4.6"/>
<line x1="348.7" y1="160" x2="365.1" y2="152.3" stroke="#000" stroke-width="4.6"/>
<line x1="376.6" y1="145.4" x2="393.5" y2="139.4" stroke="#000" stroke-width="4.6"/>
<line x1="406.9" y1="135.4" x2="420.1" y2="133" stroke="#000" stroke-width="4.6"/>
<line x1="204" y1="235.1" x2="214.3" y2="250.1" stroke="#000" stroke-width="4.6"/>
<line x1="223.8" y1="259.7" x2="236.7" y2="271.2" stroke="#000" stroke-width="4.6"/>
<line x1="248.7" y1="279" x2="264.2" y2="287.6" stroke="#000" stroke-width="4.6"/>
<line x1="276.3" y1="294.1" x2="292.6" y2="300.5" stroke="#000" stroke-width="4.6"/>
<line x1="305.8" y1="303.6" x2="320.1" y2="306.5" stroke="#000" stroke-width="4.6"/>
<path d="M151.4,150.8 L162,164.1 M151.4,164.1 L162,150.8" stroke="#ff0000" stroke-width="2.25" fill="none"/>
<path d="M352,150.5 L362.6,163.7 M352,163.7 L362.6,150.5" stroke="#ff0000" stroke-width="2.25" fill="none"/>
<path d="M254.1,277.5 L264.7,290.8 M254.1,290.8 L264.7,277.5" stroke="#ff0000" stroke-width="2.25" fill="none"/>
<path d="M248.8,205.3 L261.4,205.3 M255.1,199 L255.1,211.6" stroke="#ff0000" stroke-width="2.0" fill="none"/>
<path d="M147.3,231.3 L159.9,231.3 M153.6,225 L153.6,237.6" stroke="#ff0000" stroke-width="2.0" fill="none"/>
<path d="M351,230.8 L363.6,230.8 M357.3,224.5 L357.3,237.1" stroke="#ff0000" stroke-width="2.0" fill="none"/>
</g>
<line x1="56.8" y1="386.2" x2="56.8" y2="378.6" stroke="#000" stroke-width="1.7"/>
<line x1="67" y1="386.2" x2="67" y2="381.8" stroke="#222" stroke-width="0.75"/>
<line x1="77.2" y1="386.2" x2="77.2" y2="381.8" stroke="#222" stroke-width="0.75"/>
<line x1="87.3" y1="386.2" x2="87.3" y2="381.8" stroke="#222" stroke-width="0.75"/>
<line x1="97.5" y1="386.2" x2="97.5" y2="381.8" stroke="#222" stroke-width="0.75"/>
<line x1="107.7" y1="386.2" x2="107.7" y2="378.6" stroke="#000" stroke-width="1.7"/>
<line x1="117.9" y1="386.2" x2="117.9" y2="381.8" stroke="#222" stroke-width="0.75"/>
<line x1="128.1" y1="386.2" x2="128.1" y2="381.8" stroke="#222" stroke-width="0.75"/>
<line x1="138.3" y1="386.2" x2="138.3" y2="381.8" stroke="#222" stroke-width="0.75"/>
<line x1="148.4" y1="386.2" x2="148.4" y2="381.8" stroke="#222" stroke-width="0.75"/>
<line x1="158.6" y1="386.2" x2="158.6" y2="378.6" stroke="#000" stroke-width="1.7"/>
<line x1="168.8" y1="386.2" x2="168.8" y2="381.8" stroke="#222" stroke-width="0.75"/>
<line x1="179" y1="386.2" x2="179" y2="381.8" stroke="#222" stroke-width="0.75"/>
<line x1="189.2" y1="386.2" x2="189.2" y2="381.8" stroke="#222" stroke-width="0.75"/>
<line x1="199.4" y1="386.2" x2="199.4" y2="381.8" stroke="#222" stroke-width="0.75"/>
<line x1="209.5" y1="386.2" x2="209.5" y2="378.6" stroke="#000" stroke-width="1.7"/>
<line x1="219.7" y1="386.2" x2="219.7" y2="381.8" stroke="#222" stroke-width="0.75"/>
<line x1="229.9" y1="386.2" x2="229.9" y2="381.8" stroke="#222" stroke-width="0.75"/>
<line x1="240.1" y1="386.2" x2="240.1" y2="381.8" stroke="#222" stroke-width="0.75"/>
<line x1="250.3" y1="386.2" x2="250.3" y2="381.8" stroke="#222" stroke-width="0.75"/>
<line x1="260.4" y1="386.2" x2="260.4" y2="378.6" stroke="#000" stroke-width="1.7"/>
<line x1="270.6" y1="386.2" x2="270.6" y2="381.8" stroke="#222" stroke-width="0.75"/>
<line x1="280.8" y1="386.2" x2="280.8" y2="381.8" stroke="#222" stroke-width="0.75"/>
<line x1="291" y1="386.2" x2="291" y2="381.8" stroke="#222" stroke-width="0.75"/>
<line x1="301.2" y1="386.2" x2="301.2" y2="381.8" stroke="#222" stroke-width="0.75"/>
<line x1="311.4" y1="386.2" x2="311.4" y2="378.6" stroke="#000" stroke-width="1.7"/>
<line x1="321.5" y1="386.2" x2="321.5" y2="381.8" stroke="#222" stroke-width="0.75"/>
<line x1="331.7" y1="386.2" x2="331.7" y2="381.8" stroke="#222" stroke-width="0.75"/>
<line x1="341.9" y1="386.2" x2="341.9" y2="381.8" stroke="#222" stroke-width="0.75"/>
<line x1="352.1" y1="386.2" x2="352.1" y2="381.8" stroke="#222" stroke-width="0.75"/>
<line x1="362.3" y1="386.2" x2="362.3" y2="378.6" stroke="#000" stroke-width="1.7"/>
<line x1="372.5" y1="386.2" x2="372.5" y2="381.8" stroke="#222" stroke-width="0.75"/>
<line x1="382.6" y1="386.2" x2="382.6" y2="381.8" stroke="#222" stroke-width="0.75"/>
<line x1="392.8" y1="386.2" x2="392.8" y2="381.8" stroke="#222" stroke-width="0.75"/>
<line x1="403" y1="386.2" x2="403" y2="381.8" stroke="#222" stroke-width="0.75"/>
<line x1="413.2" y1="386.2" x2="413.2" y2="378.6" stroke="#000" stroke-width="1.7"/>
<line x1="423.4" y1="386.2" x2="423.4" y2="381.8" stroke="#222" stroke-width="0.75"/>
<line x1="433.6" y1="386.2" x2="433.6" y2="381.8" stroke="#222" stroke-width="0.75"/>
<line x1="443.7" y1="386.2" x2="443.7" y2="381.8" stroke="#222" stroke-width="0.75"/>
<line x1="453.9" y1="386.2" x2="453.9" y2="381.8" stroke="#222" stroke-width="0.75"/>
<line x1="464.1" y1="386.2" x2="464.1" y2="378.6" stroke="#000" stroke-width="1.7"/>
<line x1="56.8" y1="51.3" x2="61.2" y2="51.3" stroke="#222" stroke-width="0.75"/>
<line x1="56.8" y1="61" x2="61.2" y2="61" stroke="#222" stroke-width="0.75"/>
<line x1="56.8" y1="70.7" x2="64.4" y2="70.7" stroke="#000" stroke-width="1.7"/>
<line x1="56.8" y1="80.4" x2="61.2" y2="80.4" stroke="#222" stroke-width="0.75"/>
<line x1="56.8" y1="90.1" x2="61.2" y2="90.1" stroke="#222" stroke-width="0.75"/>
<line x1="56.8" y1="99.8" x2="61.2" y2="99.8" stroke="#222" stroke-width="0.75"/>
<line x1="56.8" y1="109.5" x2="61.2" y2="109.5" stroke="#222" stroke-width="0.75"/>
<line x1="56.8" y1="119.2" x2="64.4" y2="119.2" stroke="#000" stroke-width="1.7"/>
<line x1="56.8" y1="128.9" x2="61.2" y2="128.9" stroke="#222" stroke-width="0.75"/>
<line x1="56.8" y1="138.6" x2="61.2" y2="138.6" stroke="#222" stroke-width="0.75"/>
<line x1="56.8" y1="148.3" x2="61.2" y2="148.3" stroke="#222" stroke-width="0.75"/>
<line x1="56.8" y1="158" x2="61.2" y2="158" stroke="#222" stroke-width="0.75"/>
<line x1="56.8" y1="167.8" x2="64.4" y2="167.8" stroke="#000" stroke-width="1.7"/>
<line x1="56.8" y1="177.5" x2="61.2" y2="177.5" stroke="#222" stroke-width="0.75"/>
<line x1="56.8" y1="187.2" x2="61.2" y2="187.2" stroke="#222" stroke-width="0.75"/>
<line x1="56.8" y1="196.9" x2="61.2" y2="196.9" stroke="#222" stroke-width="0.75"/>
<line x1="56.8" y1="206.6" x2="61.2" y2="206.6" stroke="#222" stroke-width="0.75"/>
<line x1="56.8" y1="216.3" x2="64.4" y2="216.3" stroke="#000" stroke-width="1.7"/>
<line x1="56.8" y1="226" x2="61.2" y2="226" stroke="#222" stroke-width="0.75"/>
<line x1="56.8" y1="235.7" x2="61.2" y2="235.7" stroke="#222" stroke-width="0.75"/>
<line x1="56.8" y1="245.4" x2="61.2" y2="245.4" stroke="#222" stroke-width="0.75"/>
<line x1="56.8" y1="255.1" x2="61.2" y2="255.1" stroke="#222" stroke-width="0.75"/>
<line x1="56.8" y1="264.8" x2="64.4" y2="264.8" stroke="#000" stroke-width="1.7"/>
<line x1="56.8" y1="274.6" x2="61.2" y2="274.6" stroke="#222" stroke-width="0.75"/>
<line x1="56.8" y1="284.3" x2="61.2" y2="284.3" stroke="#222" stroke-width="0.75"/>
<line x1="56.8" y1="294" x2="61.2" y2="294" stroke="#222" stroke-width="0.75"/>
<line x1="56.8" y1="303.7" x2="61.2" y2="303.7" stroke="#222" stroke-width="0.75"/>
<line x1="56.8" y1="313.4" x2="64.4" y2="313.4" stroke="#000" stroke-width="1.7"/>
<line x1="56.8" y1="323.1" x2="61.2" y2="323.1" stroke="#222" stroke-width="0.75"/>
<line x1="56.8" y1="332.8" x2="61.2" y2="332.8" stroke="#222" stroke-width="0.75"/>
<line x1="56.8" y1="342.5" x2="61.2" y2="342.5" stroke="#222" stroke-width="0.75"/>
<line x1="56.8" y1="352.2" x2="61.2" y2="352.2" stroke="#222" stroke-width="0.75"/>
<line x1="56.8" y1="361.9" x2="64.4" y2="361.9" stroke="#000" stroke-width="1.7"/>
<line x1="56.8" y1="371.6" x2="61.2" y2="371.6" stroke="#222" stroke-width="0.75"/>
<line x1="56.8" y1="381.3" x2="61.2" y2="381.3" stroke="#222" stroke-width="0.75"/>
<line x1="56.8" y1="391.1" x2="61.2" y2="391.1" stroke="#222" stroke-width="0.75"/>
<rect x="56.8" y="46.4" width="407.3" height="339.8" fill="none" stroke="#000" stroke-width="1.65"/>
<text class="tk" text-anchor="middle" x="56.5" y="403.5">2</text>
<text class="tk" text-anchor="middle" x="107.4" y="403.5">1.5</text>
<text class="tk" text-anchor="middle" x="158.3" y="403.5">1</text>
<text class="tk" text-anchor="middle" x="209.2" y="403.5">0.5</text>
<text class="tk" text-anchor="middle" x="260.1" y="403.5">0</text>
<text class="tk" text-anchor="middle" x="309.9" y="403.5">-0.5</text>
<text class="tk" text-anchor="middle" x="360.8" y="403.5">-1</text>
<text class="tk" text-anchor="middle" x="411.7" y="403.5">-1.5</text>
<text class="tk" text-anchor="middle" x="462.6" y="403.5">-2</text>
<text class="tk" text-anchor="end" x="51.8" y="368.8">-3</text>
<text class="tk" text-anchor="end" x="51.8" y="320.3">-2</text>
<text class="tk" text-anchor="end" x="51.8" y="271.7">-1</text>
<text class="tk" text-anchor="end" x="51.8" y="223.2">0</text>
<text class="tk" text-anchor="end" x="51.8" y="174.7">1</text>
<text class="tk" text-anchor="end" x="51.8" y="126.1">2</text>
<text class="tk" text-anchor="end" x="51.8" y="77.6">3</text>
<text class="sf" font-size="24" text-anchor="middle" x="262.9" y="421.4">ϕ(π)</text>
<text class="sf" font-size="24" font-style="italic" text-anchor="middle" transform="translate(28.4,215.1) rotate(-90)">y<tspan font-size="21" dy="-3.2">*</tspan></text>
<text class="sf" font-size="26" x="74.1" y="80.6">(a)</text>
<text class="sf" font-size="28" x="220.8" y="30.1" textLength="78" lengthAdjust="spacingAndGlyphs"><tspan font-style="italic">x</tspan>* = 10</text>
</g>
<g id="panel-b">
<clipPath id="clip-b"><rect x="552.6" y="45.4" width="417.1" height="340.1"/></clipPath>
<g clip-path="url(#clip-b)">
<path fill="#feece3" transform="translate(-208.6,0)" d="M766.1,72.7C773.9,71.8 785.2,75 789.9,78.6C794.7,82.2 794.9,88.4 797.9,96.5C800.8,104.5 808.6,125.3 809.8,132.2C811,139 805.8,136.4 805.8,142.1C805.8,147.7 809.3,163.3 809.8,169.8C810.2,176.4 807.2,180 808.8,185.7C810.3,191.3 816,203.3 820.1,207.5C824.2,211.7 832.1,211.5 835.9,213.5C839.8,215.4 839.3,219.2 845.9,220.4C852.4,221.6 868.9,222.4 879.6,221.4C890.3,220.4 910.5,214.1 917.2,213.8C923.9,213.5 923.9,217.1 924.2,219.4C924.5,221.7 921.7,225.7 919.2,229.3C916.7,232.9 910.3,238.4 907.3,243.2C904.3,248 900.9,255.6 899.4,261C897.9,266.5 896.8,273.1 897.4,279.5C898,285.8 904.5,296.4 903.4,303.3C902.2,310.1 891.9,317.3 889.5,325.1C887.1,332.8 890.8,348.1 887.5,354.8C884.2,361.5 873.6,369.7 867.7,369.7C861.7,369.7 855.3,360.9 847.8,354.8C840.4,348.7 823.2,335.9 818.1,329C813,322.2 815.6,314.9 814.1,309.2C812.6,303.6 808.9,300.4 808.2,291.4C807.4,282.4 809,259.3 809.2,249.1C809.3,238.9 812.7,229.3 809.2,223.4C805.7,217.4 793,212.4 786,209.5C778.9,206.6 767.5,205.1 762.2,203.9C756.8,202.8 755.6,203.1 750.3,201.9C744.9,200.8 730.4,198.4 726.5,196C722.6,193.6 726.3,189.6 724.5,185.7C722.7,181.8 717,176.1 714.6,169.8C712.2,163.6 708,153.9 708.6,144.1C709.2,134.2 714.1,113.3 718.6,104.4C723,95.5 731.2,89.3 738.4,84.6C745.5,79.8 758.4,73.6 766.1,72.7Z"/>
<path fill="#feece3" d="M766.1,72.7C773.9,71.8 785.2,75 789.9,78.6C794.7,82.2 794.9,88.4 797.9,96.5C800.8,104.5 808.6,125.3 809.8,132.2C811,139 805.8,136.4 805.8,142.1C805.8,147.7 809.3,163.3 809.8,169.8C810.2,176.4 807.2,180 808.8,185.7C810.3,191.3 816,203.3 820.1,207.5C824.2,211.7 832.1,211.5 835.9,213.5C839.8,215.4 839.3,219.2 845.9,220.4C852.4,221.6 868.9,222.4 879.6,221.4C890.3,220.4 910.5,214.1 917.2,213.8C923.9,213.5 923.9,217.1 924.2,219.4C924.5,221.7 921.7,225.7 919.2,229.3C916.7,232.9 910.3,238.4 907.3,243.2C904.3,248 900.9,255.6 899.4,261C897.9,266.5 896.8,273.1 897.4,279.5C898,285.8 904.5,296.4 903.4,303.3C902.2,310.1 891.9,317.3 889.5,325.1C887.1,332.8 890.8,348.1 887.5,354.8C884.2,361.5 873.6,369.7 867.7,369.7C861.7,369.7 855.3,360.9 847.8,354.8C840.4,348.7 823.2,335.9 818.1,329C813,322.2 815.6,314.9 814.1,309.2C812.6,303.6 808.9,300.4 808.2,291.4C807.4,282.4 809,259.3 809.2,249.1C809.3,238.9 812.7,229.3 809.2,223.4C805.7,217.4 793,212.4 786,209.5C778.9,206.6 767.5,205.1 762.2,203.9C756.8,202.8 755.6,203.1 750.3,201.9C744.9,200.8 730.4,198.4 726.5,196C722.6,193.6 726.3,189.6 724.5,185.7C722.7,181.8 717,176.1 714.6,169.8C712.2,163.6 708,153.9 708.6,144.1C709.2,134.2 714.1,113.3 718.6,104.4C723,95.5 731.2,89.3 738.4,84.6C745.5,79.8 758.4,73.6 766.1,72.7Z"/>
<path fill="#feece3" transform="translate(208.6,0)" d="M766.1,72.7C773.9,71.8 785.2,75 789.9,78.6C794.7,82.2 794.9,88.4 797.9,96.5C800.8,104.5 808.6,125.3 809.8,132.2C811,139 805.8,136.4 805.8,142.1C805.8,147.7 809.3,163.3 809.8,169.8C810.2,176.4 807.2,180 808.8,185.7C810.3,191.3 816,203.3 820.1,207.5C824.2,211.7 832.1,211.5 835.9,213.5C839.8,215.4 839.3,219.2 845.9,220.4C852.4,221.6 868.9,222.4 879.6,221.4C890.3,220.4 910.5,214.1 917.2,213.8C923.9,213.5 923.9,217.1 924.2,219.4C924.5,221.7 921.7,225.7 919.2,229.3C916.7,232.9 910.3,238.4 907.3,243.2C904.3,248 900.9,255.6 899.4,261C897.9,266.5 896.8,273.1 897.4,279.5C898,285.8 904.5,296.4 903.4,303.3C902.2,310.1 891.9,317.3 889.5,325.1C887.1,332.8 890.8,348.1 887.5,354.8C884.2,361.5 873.6,369.7 867.7,369.7C861.7,369.7 855.3,360.9 847.8,354.8C840.4,348.7 823.2,335.9 818.1,329C813,322.2 815.6,314.9 814.1,309.2C812.6,303.6 808.9,300.4 808.2,291.4C807.4,282.4 809,259.3 809.2,249.1C809.3,238.9 812.7,229.3 809.2,223.4C805.7,217.4 793,212.4 786,209.5C778.9,206.6 767.5,205.1 762.2,203.9C756.8,202.8 755.6,203.1 750.3,201.9C744.9,200.8 730.4,198.4 726.5,196C722.6,193.6 726.3,189.6 724.5,185.7C722.7,181.8 717,176.1 714.6,169.8C712.2,163.6 708,153.9 708.6,144.1C709.2,134.2 714.1,113.3 718.6,104.4C723,95.5 731.2,89.3 738.4,84.6C745.5,79.8 758.4,73.6 766.1,72.7Z"/>
<path fill="#e8f1f8" transform="translate(-208.6,0)" d="M639.2,43C634.3,46.3 635.9,58.6 634.3,64.8C632.7,71.1 631.6,78.7 628.3,84.7C625.1,90.6 616.1,96.2 612.5,104.5C608.8,112.8 604.4,130.7 603.9,140.2C603.5,149.7 605.4,160.5 609.5,167.9C613.6,175.4 623.6,184.4 631.3,189.7C639,195.1 652.1,202.7 661.1,203.6C670,204.5 684,199.3 690.8,195.7C697.6,192.1 705.4,186.1 706.7,179.8C707.9,173.6 699.4,161.5 699.1,154.1C698.8,146.6 705.5,137.7 704.7,130.3C703.9,122.8 695.3,109.8 693.8,104.5C692.3,99.1 698,100.5 694.8,94.6C691.5,88.6 676.1,72.6 672,64.8C667.8,57.1 671.9,46.3 667,43C662.1,39.7 644.2,39.7 639.2,43Z"/>
<path fill="#e8f1f8" d="M639.2,43C634.3,46.3 635.9,58.6 634.3,64.8C632.7,71.1 631.6,78.7 628.3,84.7C625.1,90.6 616.1,96.2 612.5,104.5C608.8,112.8 604.4,130.7 603.9,140.2C603.5,149.7 605.4,160.5 609.5,167.9C613.6,175.4 623.6,184.4 631.3,189.7C639,195.1 652.1,202.7 661.1,203.6C670,204.5 684,199.3 690.8,195.7C697.6,192.1 705.4,186.1 706.7,179.8C707.9,173.6 699.4,161.5 699.1,154.1C698.8,146.6 705.5,137.7 704.7,130.3C703.9,122.8 695.3,109.8 693.8,104.5C692.3,99.1 698,100.5 694.8,94.6C691.5,88.6 676.1,72.6 672,64.8C667.8,57.1 671.9,46.3 667,43C662.1,39.7 644.2,39.7 639.2,43Z"/>
<path fill="#e8f1f8" transform="translate(208.6,0)" d="M639.2,43C634.3,46.3 635.9,58.6 634.3,64.8C632.7,71.1 631.6,78.7 628.3,84.7C625.1,90.6 616.1,96.2 612.5,104.5C608.8,112.8 604.4,130.7 603.9,140.2C603.5,149.7 605.4,160.5 609.5,167.9C613.6,175.4 623.6,184.4 631.3,189.7C639,195.1 652.1,202.7 661.1,203.6C670,204.5 684,199.3 690.8,195.7C697.6,192.1 705.4,186.1 706.7,179.8C707.9,173.6 699.4,161.5 699.1,154.1C698.8,146.6 705.5,137.7 704.7,130.3C703.9,122.8 695.3,109.8 693.8,104.5C692.3,99.1 698,100.5 694.8,94.6C691.5,88.6 676.1,72.6 672,64.8C667.8,57.1 671.9,46.3 667,43C662.1,39.7 644.2,39.7 639.2,43Z"/>
<path fill="#e8f1f8" transform="translate(-208.6,0)" d="M760.2,220C772.1,219.1 783.8,230.9 789.9,239.8C796,248.8 799.4,270 800.8,279.5C802.3,289 801.9,296.1 799.9,303.3C797.8,310.4 788.5,318.7 787,327.1C785.5,335.4 793.1,351.5 789.9,358.8C786.8,366.1 773.9,376.2 766.1,375.7C758.4,375.1 746.7,361.8 738.4,354.8C730.1,347.8 714.8,335.9 710.6,329.1C706.5,322.2 711.7,315.2 710.6,309.2C709.6,303.3 703.7,298.9 703.7,289.4C703.7,279.9 702.1,256.2 710.6,245.8C719.1,235.4 748.3,220.9 760.2,220Z"/>
<path fill="#e8f1f8" d="M760.2,220C772.1,219.1 783.8,230.9 789.9,239.8C796,248.8 799.4,270 800.8,279.5C802.3,289 801.9,296.1 799.9,303.3C797.8,310.4 788.5,318.7 787,327.1C785.5,335.4 793.1,351.5 789.9,358.8C786.8,366.1 773.9,376.2 766.1,375.7C758.4,375.1 746.7,361.8 738.4,354.8C730.1,347.8 714.8,335.9 710.6,329.1C706.5,322.2 711.7,315.2 710.6,309.2C709.6,303.3 703.7,298.9 703.7,289.4C703.7,279.9 702.1,256.2 710.6,245.8C719.1,235.4 748.3,220.9 760.2,220Z"/>
<path fill="#e8f1f8" transform="translate(208.6,0)" d="M760.2,220C772.1,219.1 783.8,230.9 789.9,239.8C796,248.8 799.4,270 800.8,279.5C802.3,289 801.9,296.1 799.9,303.3C797.8,310.4 788.5,318.7 787,327.1C785.5,335.4 793.1,351.5 789.9,358.8C786.8,366.1 773.9,376.2 766.1,375.7C758.4,375.1 746.7,361.8 738.4,354.8C730.1,347.8 714.8,335.9 710.6,329.1C706.5,322.2 711.7,315.2 710.6,309.2C709.6,303.3 703.7,298.9 703.7,289.4C703.7,279.9 702.1,256.2 710.6,245.8C719.1,235.4 748.3,220.9 760.2,220Z"/>
<path fill="#cce2ef" transform="translate(-208.6,0)" d="M608.7,138.5C608.9,132.7 611.8,125.3 613.6,120.5C615.3,115.7 616.8,110.2 620.5,106.6C624.2,103.1 632.9,99 638.5,96.9C644.1,94.9 652.7,92.6 657.9,92.8C663.1,93 668.8,95 673.2,98.3C677.5,101.6 683.3,110.2 687,115C690.8,119.7 697.4,126.7 698.1,130.2C698.8,133.7 692.3,134.1 691.9,138.5C691.5,142.9 694.4,153.3 695.3,159.3C696.3,165.3 699.4,173.9 698.1,178.7C696.9,183.5 692.4,188.5 687,191.2C681.6,193.9 668.7,196.5 662.1,196.7C655.4,196.9 648.3,195.3 642.7,192.6C637.1,189.9 629.2,183.7 624.7,178.7C620.1,173.7 614.6,165.3 612.2,159.3C609.8,153.3 608.5,144.3 608.7,138.5Z"/>
<path fill="#cce2ef" d="M608.7,138.5C608.9,132.7 611.8,125.3 613.6,120.5C615.3,115.7 616.8,110.2 620.5,106.6C624.2,103.1 632.9,99 638.5,96.9C644.1,94.9 652.7,92.6 657.9,92.8C663.1,93 668.8,95 673.2,98.3C677.5,101.6 683.3,110.2 687,115C690.8,119.7 697.4,126.7 698.1,130.2C698.8,133.7 692.3,134.1 691.9,138.5C691.5,142.9 694.4,153.3 695.3,159.3C696.3,165.3 699.4,173.9 698.1,178.7C696.9,183.5 692.4,188.5 687,191.2C681.6,193.9 668.7,196.5 662.1,196.7C655.4,196.9 648.3,195.3 642.7,192.6C637.1,189.9 629.2,183.7 624.7,178.7C620.1,173.7 614.6,165.3 612.2,159.3C609.8,153.3 608.5,144.3 608.7,138.5Z"/>
<path fill="#cce2ef" transform="translate(208.6,0)" d="M608.7,138.5C608.9,132.7 611.8,125.3 613.6,120.5C615.3,115.7 616.8,110.2 620.5,106.6C624.2,103.1 632.9,99 638.5,96.9C644.1,94.9 652.7,92.6 657.9,92.8C663.1,93 668.8,95 673.2,98.3C677.5,101.6 683.3,110.2 687,115C690.8,119.7 697.4,126.7 698.1,130.2C698.8,133.7 692.3,134.1 691.9,138.5C691.5,142.9 694.4,153.3 695.3,159.3C696.3,165.3 699.4,173.9 698.1,178.7C696.9,183.5 692.4,188.5 687,191.2C681.6,193.9 668.7,196.5 662.1,196.7C655.4,196.9 648.3,195.3 642.7,192.6C637.1,189.9 629.2,183.7 624.7,178.7C620.1,173.7 614.6,165.3 612.2,159.3C609.8,153.3 608.5,144.3 608.7,138.5Z"/>
<path fill="#fcd6c5" transform="translate(-208.6,0)" d="M713.1,145.4C714,141.9 715.5,130.5 718.9,124.7C722.3,118.8 729.5,111.2 735.5,106.6C741.6,102.1 751.8,94.4 759.1,94.2C766.4,94 778.1,99.8 784.1,105.2C790.1,110.7 796.6,122.6 799.1,130.3C801.7,137.9 799.9,148 801.1,156C802.3,164.1 808.9,177 807.1,183.8C805.3,190.6 796.4,199.3 789.2,201.6C782.1,204 768.4,201.1 759.5,199.7C750.6,198.2 736.3,195.9 729.7,191.7C723.2,187.6 718.4,178.4 715.9,171.9C713.3,165.4 713.3,152.1 712.9,148.1C712.5,144.1 712.2,149 713.1,145.4Z"/>
<path fill="#fcd6c5" d="M713.1,145.4C714,141.9 715.5,130.5 718.9,124.7C722.3,118.8 729.5,111.2 735.5,106.6C741.6,102.1 751.8,94.4 759.1,94.2C766.4,94 778.1,99.8 784.1,105.2C790.1,110.7 796.6,122.6 799.1,130.3C801.7,137.9 799.9,148 801.1,156C802.3,164.1 808.9,177 807.1,183.8C805.3,190.6 796.4,199.3 789.2,201.6C782.1,204 768.4,201.1 759.5,199.7C750.6,198.2 736.3,195.9 729.7,191.7C723.2,187.6 718.4,178.4 715.9,171.9C713.3,165.4 713.3,152.1 712.9,148.1C712.5,144.1 712.2,149 713.1,145.4Z"/>
<path fill="#fcd6c5" transform="translate(208.6,0)" d="M713.1,145.4C714,141.9 715.5,130.5 718.9,124.7C722.3,118.8 729.5,111.2 735.5,106.6C741.6,102.1 751.8,94.4 759.1,94.2C766.4,94 778.1,99.8 784.1,105.2C790.1,110.7 796.6,122.6 799.1,130.3C801.7,137.9 799.9,148 801.1,156C802.3,164.1 808.9,177 807.1,183.8C805.3,190.6 796.4,199.3 789.2,201.6C782.1,204 768.4,201.1 759.5,199.7C750.6,198.2 736.3,195.9 729.7,191.7C723.2,187.6 718.4,178.4 715.9,171.9C713.3,165.4 713.3,152.1 712.9,148.1C712.5,144.1 712.2,149 713.1,145.4Z"/>
<path fill="#fcd6c5" transform="translate(-208.6,0)" d="M605.2,276.2C605.5,268.1 606.1,245.7 608,238.8C609.9,231.9 611.7,232.1 617.7,230.5C623.8,228.8 639.1,227.9 648.2,227.7C657.4,227.5 672.5,228.5 678.7,229.1C685,229.7 687.8,226.7 689.8,231.9C691.8,237.1 692.5,256.5 691.9,263.7C691.3,271 686,276.4 685.6,280.4C685.3,284.3 690.6,287 689.8,290.1C689,293.2 681.8,297.8 680.1,301.2C678.4,304.5 681,308.3 678.7,312.3C676.4,316.2 669.4,324.7 664.9,327.5C660.3,330.3 653.2,331.6 648.2,331C643.2,330.3 636.6,327 631.6,323.3C626.6,319.7 618.7,311.3 615,306.7C611.2,302.1 608.1,297.4 606.6,292.9C605.2,288.3 605,284.3 605.2,276.2Z"/>
<path fill="#fcd6c5" d="M605.2,276.2C605.5,268.1 606.1,245.7 608,238.8C609.9,231.9 611.7,232.1 617.7,230.5C623.8,228.8 639.1,227.9 648.2,227.7C657.4,227.5 672.5,228.5 678.7,229.1C685,229.7 687.8,226.7 689.8,231.9C691.8,237.1 692.5,256.5 691.9,263.7C691.3,271 686,276.4 685.6,280.4C685.3,284.3 690.6,287 689.8,290.1C689,293.2 681.8,297.8 680.1,301.2C678.4,304.5 681,308.3 678.7,312.3C676.4,316.2 669.4,324.7 664.9,327.5C660.3,330.3 653.2,331.6 648.2,331C643.2,330.3 636.6,327 631.6,323.3C626.6,319.7 618.7,311.3 615,306.7C611.2,302.1 608.1,297.4 606.6,292.9C605.2,288.3 605,284.3 605.2,276.2Z"/>
<path fill="#fcd6c5" transform="translate(208.6,0)" d="M605.2,276.2C605.5,268.1 606.1,245.7 608,238.8C609.9,231.9 611.7,232.1 617.7,230.5C623.8,228.8 639.1,227.9 648.2,227.7C657.4,227.5 672.5,228.5 678.7,229.1C685,229.7 687.8,226.7 689.8,231.9C691.8,237.1 692.5,256.5 691.9,263.7C691.3,271 686,276.4 685.6,280.4C685.3,284.3 690.6,287 689.8,290.1C689,293.2 681.8,297.8 680.1,301.2C678.4,304.5 681,308.3 678.7,312.3C676.4,316.2 669.4,324.7 664.9,327.5C660.3,330.3 653.2,331.6 648.2,331C643.2,330.3 636.6,327 631.6,323.3C626.6,319.7 618.7,311.3 615,306.7C611.2,302.1 608.1,297.4 606.6,292.9C605.2,288.3 605,284.3 605.2,276.2Z"/>
<path fill="#cce2ef" transform="translate(-208.6,0)" d="M709.6,289.4C709.9,282.3 713.5,267.1 716.6,259.7C719.7,252.2 724.2,244.7 730.5,239.8C736.7,234.9 750.8,228.1 758.2,226.9C765.6,225.8 774.5,224.6 780,231.9C785.5,239.2 792.5,265.4 794.9,275.5C797.3,285.6 797.5,292.8 795.9,299.3C794.3,305.9 787.9,314.4 784,319.1C780.1,323.9 775.2,329 770.1,331C765.1,333.1 756.2,334.2 750.3,333C744.3,331.8 735.8,327 730.5,323.1C725.1,319.2 717.7,312.3 714.6,307.2C711.5,302.2 709.3,296.5 709.6,289.4Z"/>
<path fill="#cce2ef" d="M709.6,289.4C709.9,282.3 713.5,267.1 716.6,259.7C719.7,252.2 724.2,244.7 730.5,239.8C736.7,234.9 750.8,228.1 758.2,226.9C765.6,225.8 774.5,224.6 780,231.9C785.5,239.2 792.5,265.4 794.9,275.5C797.3,285.6 797.5,292.8 795.9,299.3C794.3,305.9 787.9,314.4 784,319.1C780.1,323.9 775.2,329 770.1,331C765.1,333.1 756.2,334.2 750.3,333C744.3,331.8 735.8,327 730.5,323.1C725.1,319.2 717.7,312.3 714.6,307.2C711.5,302.2 709.3,296.5 709.6,289.4Z"/>
<path fill="#cce2ef" transform="translate(208.6,0)" d="M709.6,289.4C709.9,282.3 713.5,267.1 716.6,259.7C719.7,252.2 724.2,244.7 730.5,239.8C736.7,234.9 750.8,228.1 758.2,226.9C765.6,225.8 774.5,224.6 780,231.9C785.5,239.2 792.5,265.4 794.9,275.5C797.3,285.6 797.5,292.8 795.9,299.3C794.3,305.9 787.9,314.4 784,319.1C780.1,323.9 775.2,329 770.1,331C765.1,333.1 756.2,334.2 750.3,333C744.3,331.8 735.8,327 730.5,323.1C725.1,319.2 717.7,312.3 714.6,307.2C711.5,302.2 709.3,296.5 709.6,289.4Z"/>
<path fill="#a3cae2" transform="translate(-208.6,0)" d="M614.7,139.9C615.1,135.7 617.5,132.6 620.5,128.8C623.4,125.1 629.2,118.1 634.4,115C639.6,111.8 649.3,108.2 655.1,108C661,107.8 667.9,110.2 673.2,113.6C678.5,116.9 688.6,126.5 690.5,130.2C692.4,133.9 686,131.7 685.6,138.5C685.3,145.4 689.5,168.9 688.4,175.9C687.4,183 682.7,183.9 678.7,185.6C674.8,187.4 667.1,187.9 662.1,187.7C657.1,187.5 650.4,186.4 645.4,184.3C640.5,182.1 633,177.3 628.8,173.2C624.7,169 619.8,161.5 617.7,156.5C615.6,151.5 614.3,144.1 614.7,139.9Z"/>
<path fill="#a3cae2" d="M614.7,139.9C615.1,135.7 617.5,132.6 620.5,128.8C623.4,125.1 629.2,118.1 634.4,115C639.6,111.8 649.3,108.2 655.1,108C661,107.8 667.9,110.2 673.2,113.6C678.5,116.9 688.6,126.5 690.5,130.2C692.4,133.9 686,131.7 685.6,138.5C685.3,145.4 689.5,168.9 688.4,175.9C687.4,183 682.7,183.9 678.7,185.6C674.8,187.4 667.1,187.9 662.1,187.7C657.1,187.5 650.4,186.4 645.4,184.3C640.5,182.1 633,177.3 628.8,173.2C624.7,169 619.8,161.5 617.7,156.5C615.6,151.5 614.3,144.1 614.7,139.9Z"/>
<path fill="#a3cae2" transform="translate(208.6,0)" d="M614.7,139.9C615.1,135.7 617.5,132.6 620.5,128.8C623.4,125.1 629.2,118.1 634.4,115C639.6,111.8 649.3,108.2 655.1,108C661,107.8 667.9,110.2 673.2,113.6C678.5,116.9 688.6,126.5 690.5,130.2C692.4,133.9 686,131.7 685.6,138.5C685.3,145.4 689.5,168.9 688.4,175.9C687.4,183 682.7,183.9 678.7,185.6C674.8,187.4 667.1,187.9 662.1,187.7C657.1,187.5 650.4,186.4 645.4,184.3C640.5,182.1 633,177.3 628.8,173.2C624.7,169 619.8,161.5 617.7,156.5C615.6,151.5 614.3,144.1 614.7,139.9Z"/>
<path fill="#f8baa0" transform="translate(-208.6,0)" d="M718.2,145.4C718.8,140.9 721.2,133.4 724.5,128.8C727.7,124.2 734.5,118.1 739.7,115C744.9,111.8 753.1,108 759.1,108C765.1,108 775.3,112.2 779.9,115C784.5,117.7 787.4,121.1 789.6,126C791.8,131 794.5,141.8 794.8,148.1C795,154.4 793.5,161.3 791.2,167.9C788.9,174.5 784.1,188.7 779.3,192.1C774.6,195.5 765.4,192 759.5,190.7C753.5,189.5 745,187.2 739.7,183.8C734.3,180.4 726.7,171.6 723.8,167.9C720.9,164.3 721.1,162.7 720.3,159.3C719.5,155.9 717.6,150 718.2,145.4Z"/>
<path fill="#f8baa0" d="M718.2,145.4C718.8,140.9 721.2,133.4 724.5,128.8C727.7,124.2 734.5,118.1 739.7,115C744.9,111.8 753.1,108 759.1,108C765.1,108 775.3,112.2 779.9,115C784.5,117.7 787.4,121.1 789.6,126C791.8,131 794.5,141.8 794.8,148.1C795,154.4 793.5,161.3 791.2,167.9C788.9,174.5 784.1,188.7 779.3,192.1C774.6,195.5 765.4,192 759.5,190.7C753.5,189.5 745,187.2 739.7,183.8C734.3,180.4 726.7,171.6 723.8,167.9C720.9,164.3 721.1,162.7 720.3,159.3C719.5,155.9 717.6,150 718.2,145.4Z"/>
<path fill="#f8baa0" transform="translate(208.6,0)" d="M718.2,145.4C718.8,140.9 721.2,133.4 724.5,128.8C727.7,124.2 734.5,118.1 739.7,115C744.9,111.8 753.1,108 759.1,108C765.1,108 775.3,112.2 779.9,115C784.5,117.7 787.4,121.1 789.6,126C791.8,131 794.5,141.8 794.8,148.1C795,154.4 793.5,161.3 791.2,167.9C788.9,174.5 784.1,188.7 779.3,192.1C774.6,195.5 765.4,192 759.5,190.7C753.5,189.5 745,187.2 739.7,183.8C734.3,180.4 726.7,171.6 723.8,167.9C720.9,164.3 721.1,162.7 720.3,159.3C719.5,155.9 717.6,150 718.2,145.4Z"/>
<path fill="#f8baa0" transform="translate(-208.6,0)" d="M610.8,276.2C611,269.4 611.8,251.8 615,245.7C618.1,239.7 626.6,237.7 631.6,236C636.6,234.3 641.6,233.9 648.2,234.4C654.9,234.8 670.3,233.8 675.9,238.8C681.6,243.8 685,259.4 685.6,267.9C686.3,276.4 682.6,289.6 680.1,295.6C677.6,301.7 673.8,304.9 669,308.1C664.2,311.3 654.7,317.3 648.2,317.1C641.8,316.9 631.2,310.6 626,306.7C620.8,302.9 615.9,296 613.6,291.5C611.3,286.9 610.6,283.1 610.8,276.2Z"/>
<path fill="#f8baa0" d="M610.8,276.2C611,269.4 611.8,251.8 615,245.7C618.1,239.7 626.6,237.7 631.6,236C636.6,234.3 641.6,233.9 648.2,234.4C654.9,234.8 670.3,233.8 675.9,238.8C681.6,243.8 685,259.4 685.6,267.9C686.3,276.4 682.6,289.6 680.1,295.6C677.6,301.7 673.8,304.9 669,308.1C664.2,311.3 654.7,317.3 648.2,317.1C641.8,316.9 631.2,310.6 626,306.7C620.8,302.9 615.9,296 613.6,291.5C611.3,286.9 610.6,283.1 610.8,276.2Z"/>
<path fill="#f8baa0" transform="translate(208.6,0)" d="M610.8,276.2C611,269.4 611.8,251.8 615,245.7C618.1,239.7 626.6,237.7 631.6,236C636.6,234.3 641.6,233.9 648.2,234.4C654.9,234.8 670.3,233.8 675.9,238.8C681.6,243.8 685,259.4 685.6,267.9C686.3,276.4 682.6,289.6 680.1,295.6C677.6,301.7 673.8,304.9 669,308.1C664.2,311.3 654.7,317.3 648.2,317.1C641.8,316.9 631.2,310.6 626,306.7C620.8,302.9 615.9,296 613.6,291.5C611.3,286.9 610.6,283.1 610.8,276.2Z"/>
<path fill="#a3cae2" transform="translate(-208.6,0)" d="M714.8,273.4C715.4,267 717,255.7 723.1,249.9C729.1,244.1 746.2,235.3 755,234.6C763.7,234 775.8,239.9 781.3,245.7C786.8,251.5 791.3,266 791.7,273.4C792.1,280.9 787.3,289.8 784.1,295.6C780.8,301.4 774.8,309 770.2,312.3C765.6,315.5 759,317.5 753.6,317.1C748.2,316.7 739.4,313.1 734.2,309.5C729,305.8 721.8,298.3 718.9,292.9C716,287.4 714.1,279.9 714.8,273.4Z"/>
<path fill="#a3cae2" d="M714.8,273.4C715.4,267 717,255.7 723.1,249.9C729.1,244.1 746.2,235.3 755,234.6C763.7,234 775.8,239.9 781.3,245.7C786.8,251.5 791.3,266 791.7,273.4C792.1,280.9 787.3,289.8 784.1,295.6C780.8,301.4 774.8,309 770.2,312.3C765.6,315.5 759,317.5 753.6,317.1C748.2,316.7 739.4,313.1 734.2,309.5C729,305.8 721.8,298.3 718.9,292.9C716,287.4 714.1,279.9 714.8,273.4Z"/>
<path fill="#a3cae2" transform="translate(208.6,0)" d="M714.8,273.4C715.4,267 717,255.7 723.1,249.9C729.1,244.1 746.2,235.3 755,234.6C763.7,234 775.8,239.9 781.3,245.7C786.8,251.5 791.3,266 791.7,273.4C792.1,280.9 787.3,289.8 784.1,295.6C780.8,301.4 774.8,309 770.2,312.3C765.6,315.5 759,317.5 753.6,317.1C748.2,316.7 739.4,313.1 734.2,309.5C729,305.8 721.8,298.3 718.9,292.9C716,287.4 714.1,279.9 714.8,273.4Z"/>
<path fill="#79b0d5" transform="translate(-208.6,0)" d="M620.8,145.4C621.2,142.1 623.4,137.5 626,134.4C628.7,131.2 633.7,127 638.5,124.7C643.3,122.3 652.7,118.8 657.9,118.8C663.1,118.8 669.6,122.9 673.2,124.7C676.7,126.4 680.7,128.1 681.5,130.2C682.3,132.3 678.6,134.1 678.7,138.5C678.8,142.9 682.6,154.1 682.2,159.3C681.8,164.5 678.5,170 675.9,173.2C673.3,176.3 669,179.7 664.9,180.1C660.7,180.5 653.2,177.8 648.2,175.9C643.2,174.1 635.3,170.5 631.6,167.6C627.8,164.7 624.9,159.9 623.3,156.5C621.6,153.2 620.4,148.8 620.8,145.4Z"/>
<path fill="#79b0d5" d="M620.8,145.4C621.2,142.1 623.4,137.5 626,134.4C628.7,131.2 633.7,127 638.5,124.7C643.3,122.3 652.7,118.8 657.9,118.8C663.1,118.8 669.6,122.9 673.2,124.7C676.7,126.4 680.7,128.1 681.5,130.2C682.3,132.3 678.6,134.1 678.7,138.5C678.8,142.9 682.6,154.1 682.2,159.3C681.8,164.5 678.5,170 675.9,173.2C673.3,176.3 669,179.7 664.9,180.1C660.7,180.5 653.2,177.8 648.2,175.9C643.2,174.1 635.3,170.5 631.6,167.6C627.8,164.7 624.9,159.9 623.3,156.5C621.6,153.2 620.4,148.8 620.8,145.4Z"/>
<path fill="#79b0d5" transform="translate(208.6,0)" d="M620.8,145.4C621.2,142.1 623.4,137.5 626,134.4C628.7,131.2 633.7,127 638.5,124.7C643.3,122.3 652.7,118.8 657.9,118.8C663.1,118.8 669.6,122.9 673.2,124.7C676.7,126.4 680.7,128.1 681.5,130.2C682.3,132.3 678.6,134.1 678.7,138.5C678.8,142.9 682.6,154.1 682.2,159.3C681.8,164.5 678.5,170 675.9,173.2C673.3,176.3 669,179.7 664.9,180.1C660.7,180.5 653.2,177.8 648.2,175.9C643.2,174.1 635.3,170.5 631.6,167.6C627.8,164.7 624.9,159.9 623.3,156.5C621.6,153.2 620.4,148.8 620.8,145.4Z"/>
<path fill="#f09a7a" transform="translate(-208.6,0)" d="M723.8,148.2C724.5,144.1 727.2,135.5 730,131.6C732.8,127.6 738.1,124.1 742.5,121.9C746.8,119.7 753.9,116.8 759.1,117C764.3,117.2 772.6,117.5 777.1,123.3C781.7,129 788.1,147.7 789.6,155.1C791.1,162.6 789.7,168.7 786.8,173.2C783.9,177.6 775.8,183.7 770.2,185C764.6,186.2 755.2,183.7 749.4,181.5C743.6,179.3 735,173.7 731.4,170.4C727.7,167.1 726.3,162.6 725.1,159.3C724,156 723,152.4 723.8,148.2Z"/>
<path fill="#f09a7a" d="M723.8,148.2C724.5,144.1 727.2,135.5 730,131.6C732.8,127.6 738.1,124.1 742.5,121.9C746.8,119.7 753.9,116.8 759.1,117C764.3,117.2 772.6,117.5 777.1,123.3C781.7,129 788.1,147.7 789.6,155.1C791.1,162.6 789.7,168.7 786.8,173.2C783.9,177.6 775.8,183.7 770.2,185C764.6,186.2 755.2,183.7 749.4,181.5C743.6,179.3 735,173.7 731.4,170.4C727.7,167.1 726.3,162.6 725.1,159.3C724,156 723,152.4 723.8,148.2Z"/>
<path fill="#f09a7a" transform="translate(208.6,0)" d="M723.8,148.2C724.5,144.1 727.2,135.5 730,131.6C732.8,127.6 738.1,124.1 742.5,121.9C746.8,119.7 753.9,116.8 759.1,117C764.3,117.2 772.6,117.5 777.1,123.3C781.7,129 788.1,147.7 789.6,155.1C791.1,162.6 789.7,168.7 786.8,173.2C783.9,177.6 775.8,183.7 770.2,185C764.6,186.2 755.2,183.7 749.4,181.5C743.6,179.3 735,173.7 731.4,170.4C727.7,167.1 726.3,162.6 725.1,159.3C724,156 723,152.4 723.8,148.2Z"/>
<path fill="#f09a7a" transform="translate(-208.6,0)" d="M615.6,273.4C616.1,268 615.6,256.4 620.5,251.3C625.4,246.2 640.3,240.3 648.2,239.5C656.1,238.7 668.2,241.3 673.2,245.7C678.2,250.2 681.1,262.2 681.5,269.3C681.9,276.4 679.3,287.2 675.9,292.9C672.6,298.5 663.5,304.4 659.3,306.7C655.1,309 652.8,308.9 648.2,308.1C643.6,307.3 633.4,304.3 628.8,301.2C624.2,298 619.7,291.5 617.7,287.3C615.7,283.1 615.2,278.9 615.6,273.4Z"/>
<path fill="#f09a7a" d="M615.6,273.4C616.1,268 615.6,256.4 620.5,251.3C625.4,246.2 640.3,240.3 648.2,239.5C656.1,238.7 668.2,241.3 673.2,245.7C678.2,250.2 681.1,262.2 681.5,269.3C681.9,276.4 679.3,287.2 675.9,292.9C672.6,298.5 663.5,304.4 659.3,306.7C655.1,309 652.8,308.9 648.2,308.1C643.6,307.3 633.4,304.3 628.8,301.2C624.2,298 619.7,291.5 617.7,287.3C615.7,283.1 615.2,278.9 615.6,273.4Z"/>
<path fill="#f09a7a" transform="translate(208.6,0)" d="M615.6,273.4C616.1,268 615.6,256.4 620.5,251.3C625.4,246.2 640.3,240.3 648.2,239.5C656.1,238.7 668.2,241.3 673.2,245.7C678.2,250.2 681.1,262.2 681.5,269.3C681.9,276.4 679.3,287.2 675.9,292.9C672.6,298.5 663.5,304.4 659.3,306.7C655.1,309 652.8,308.9 648.2,308.1C643.6,307.3 633.4,304.3 628.8,301.2C624.2,298 619.7,291.5 617.7,287.3C615.7,283.1 615.2,278.9 615.6,273.4Z"/>
<path fill="#79b0d5" transform="translate(-208.6,0)" d="M721,273.4C721.6,268.5 723.7,258.8 728.6,254C733.5,249.3 746.5,242.2 753.6,241.6C760.6,240.9 771,245.3 775.7,249.9C780.5,254.5 784.8,266 785.4,272.1C786.1,278.1 782.6,285.3 779.9,290.1C777.2,294.9 771.4,301.3 767.4,303.9C763.5,306.5 758.3,308 753.6,307.4C748.8,306.8 739.9,302.8 735.5,299.8C731.2,296.8 726.6,291.3 724.5,287.3C722.3,283.4 720.4,278.4 721,273.4Z"/>
<path fill="#79b0d5" d="M721,273.4C721.6,268.5 723.7,258.8 728.6,254C733.5,249.3 746.5,242.2 753.6,241.6C760.6,240.9 771,245.3 775.7,249.9C780.5,254.5 784.8,266 785.4,272.1C786.1,278.1 782.6,285.3 779.9,290.1C777.2,294.9 771.4,301.3 767.4,303.9C763.5,306.5 758.3,308 753.6,307.4C748.8,306.8 739.9,302.8 735.5,299.8C731.2,296.8 726.6,291.3 724.5,287.3C722.3,283.4 720.4,278.4 721,273.4Z"/>
<path fill="#79b0d5" transform="translate(208.6,0)" d="M721,273.4C721.6,268.5 723.7,258.8 728.6,254C733.5,249.3 746.5,242.2 753.6,241.6C760.6,240.9 771,245.3 775.7,249.9C780.5,254.5 784.8,266 785.4,272.1C786.1,278.1 782.6,285.3 779.9,290.1C777.2,294.9 771.4,301.3 767.4,303.9C763.5,306.5 758.3,308 753.6,307.4C748.8,306.8 739.9,302.8 735.5,299.8C731.2,296.8 726.6,291.3 724.5,287.3C722.3,283.4 720.4,278.4 721,273.4Z"/>
<path fill="#5898c9" transform="translate(-208.6,0)" d="M628.1,148.2C627.9,145.1 629.4,141 631.6,138.5C633.8,136 638.5,132.9 642.7,131.6C646.8,130.2 655.7,129.7 659.3,129.5C662.9,129.3 665.3,128.2 666.9,130.2C668.6,132.2 669.4,138.7 670.4,142.7C671.4,146.6 674.1,152.8 673.9,156.5C673.7,160.3 671.2,165.5 669,167.6C666.8,169.7 662.8,170.4 659.3,170.4C655.8,170.4 649.4,169.3 645.4,167.6C641.5,166 635.6,162.2 633,159.3C630.4,156.4 628.3,151.3 628.1,148.2Z"/>
<path fill="#5898c9" d="M628.1,148.2C627.9,145.1 629.4,141 631.6,138.5C633.8,136 638.5,132.9 642.7,131.6C646.8,130.2 655.7,129.7 659.3,129.5C662.9,129.3 665.3,128.2 666.9,130.2C668.6,132.2 669.4,138.7 670.4,142.7C671.4,146.6 674.1,152.8 673.9,156.5C673.7,160.3 671.2,165.5 669,167.6C666.8,169.7 662.8,170.4 659.3,170.4C655.8,170.4 649.4,169.3 645.4,167.6C641.5,166 635.6,162.2 633,159.3C630.4,156.4 628.3,151.3 628.1,148.2Z"/>
<path fill="#5898c9" transform="translate(208.6,0)" d="M628.1,148.2C627.9,145.1 629.4,141 631.6,138.5C633.8,136 638.5,132.9 642.7,131.6C646.8,130.2 655.7,129.7 659.3,129.5C662.9,129.3 665.3,128.2 666.9,130.2C668.6,132.2 669.4,138.7 670.4,142.7C671.4,146.6 674.1,152.8 673.9,156.5C673.7,160.3 671.2,165.5 669,167.6C666.8,169.7 662.8,170.4 659.3,170.4C655.8,170.4 649.4,169.3 645.4,167.6C641.5,166 635.6,162.2 633,159.3C630.4,156.4 628.3,151.3 628.1,148.2Z"/>
<path fill="#e1755b" transform="translate(-208.6,0)" d="M729.3,149.6C729.7,145.7 731.3,139.3 735.5,135.7C739.8,132.2 751.9,126.4 757.7,125.8C763.5,125.1 770.4,127.2 774.4,131.6C778.3,136 783,149.7 784.1,155.1C785.1,160.6 784.4,164.2 781.3,167.6C778.2,171.1 768.7,177.2 763.3,178C757.9,178.9 749.8,175.6 745.2,173.2C740.7,170.8 735.2,165.6 732.8,162.1C730.4,158.5 728.9,153.6 729.3,149.6Z"/>
<path fill="#e1755b" d="M729.3,149.6C729.7,145.7 731.3,139.3 735.5,135.7C739.8,132.2 751.9,126.4 757.7,125.8C763.5,125.1 770.4,127.2 774.4,131.6C778.3,136 783,149.7 784.1,155.1C785.1,160.6 784.4,164.2 781.3,167.6C778.2,171.1 768.7,177.2 763.3,178C757.9,178.9 749.8,175.6 745.2,173.2C740.7,170.8 735.2,165.6 732.8,162.1C730.4,158.5 728.9,153.6 729.3,149.6Z"/>
<path fill="#e1755b" transform="translate(208.6,0)" d="M729.3,149.6C729.7,145.7 731.3,139.3 735.5,135.7C739.8,132.2 751.9,126.4 757.7,125.8C763.5,125.1 770.4,127.2 774.4,131.6C778.3,136 783,149.7 784.1,155.1C785.1,160.6 784.4,164.2 781.3,167.6C778.2,171.1 768.7,177.2 763.3,178C757.9,178.9 749.8,175.6 745.2,173.2C740.7,170.8 735.2,165.6 732.8,162.1C730.4,158.5 728.9,153.6 729.3,149.6Z"/>
<path fill="#e1755b" transform="translate(-208.6,0)" d="M619.8,272.1C619.2,266.7 620.4,259.6 624.7,255.4C628.9,251.3 641.8,245 648.2,244.3C654.7,243.7 663.4,247.3 667.6,251.3C671.9,255.2 676,265.3 676.6,270.7C677.3,276.1 676,282.9 671.8,287.3C667.5,291.7 654.7,299.2 648.2,299.8C641.8,300.4 633.1,295.6 628.8,291.5C624.5,287.3 620.4,277.5 619.8,272.1Z"/>
<path fill="#e1755b" d="M619.8,272.1C619.2,266.7 620.4,259.6 624.7,255.4C628.9,251.3 641.8,245 648.2,244.3C654.7,243.7 663.4,247.3 667.6,251.3C671.9,255.2 676,265.3 676.6,270.7C677.3,276.1 676,282.9 671.8,287.3C667.5,291.7 654.7,299.2 648.2,299.8C641.8,300.4 633.1,295.6 628.8,291.5C624.5,287.3 620.4,277.5 619.8,272.1Z"/>
<path fill="#e1755b" transform="translate(208.6,0)" d="M619.8,272.1C619.2,266.7 620.4,259.6 624.7,255.4C628.9,251.3 641.8,245 648.2,244.3C654.7,243.7 663.4,247.3 667.6,251.3C671.9,255.2 676,265.3 676.6,270.7C677.3,276.1 676,282.9 671.8,287.3C667.5,291.7 654.7,299.2 648.2,299.8C641.8,300.4 633.1,295.6 628.8,291.5C624.5,287.3 620.4,277.5 619.8,272.1Z"/>
<path fill="#5898c9" transform="translate(-208.6,0)" d="M728.6,272.1C728.4,267.5 731.8,261.7 735.5,258.2C739.3,254.7 748.4,248.9 753.6,248.5C758.8,248.1 766.4,251.9 770.2,255.4C774,259 779,267.3 779.2,272.1C779.4,276.8 775.4,283.6 771.6,287.3C767.7,291 758.8,296.8 753.6,297C748.4,297.2 740.7,292.4 736.9,288.7C733.2,285 728.8,276.6 728.6,272.1Z"/>
<path fill="#5898c9" d="M728.6,272.1C728.4,267.5 731.8,261.7 735.5,258.2C739.3,254.7 748.4,248.9 753.6,248.5C758.8,248.1 766.4,251.9 770.2,255.4C774,259 779,267.3 779.2,272.1C779.4,276.8 775.4,283.6 771.6,287.3C767.7,291 758.8,296.8 753.6,297C748.4,297.2 740.7,292.4 736.9,288.7C733.2,285 728.8,276.6 728.6,272.1Z"/>
<path fill="#5898c9" transform="translate(208.6,0)" d="M728.6,272.1C728.4,267.5 731.8,261.7 735.5,258.2C739.3,254.7 748.4,248.9 753.6,248.5C758.8,248.1 766.4,251.9 770.2,255.4C774,259 779,267.3 779.2,272.1C779.4,276.8 775.4,283.6 771.6,287.3C767.7,291 758.8,296.8 753.6,297C748.4,297.2 740.7,292.4 736.9,288.7C733.2,285 728.8,276.6 728.6,272.1Z"/>
<path fill="#3d7fbb" transform="translate(-208.6,0)" d="M639.2,151C639,148.6 640.9,145 642.7,143.4C644.4,141.7 648.5,140 651,139.9C653.5,139.8 657.4,141 659.3,142.7C661.2,144.3 663.3,148.5 663.5,151C663.7,153.5 662.4,157.5 660.7,159.3C659,161.1 654.9,162.8 652.4,162.8C649.9,162.8 646,161.1 644.1,159.3C642.1,157.5 639.4,153.4 639.2,151Z"/>
<path fill="#3d7fbb" d="M639.2,151C639,148.6 640.9,145 642.7,143.4C644.4,141.7 648.5,140 651,139.9C653.5,139.8 657.4,141 659.3,142.7C661.2,144.3 663.3,148.5 663.5,151C663.7,153.5 662.4,157.5 660.7,159.3C659,161.1 654.9,162.8 652.4,162.8C649.9,162.8 646,161.1 644.1,159.3C642.1,157.5 639.4,153.4 639.2,151Z"/>
<path fill="#3d7fbb" transform="translate(208.6,0)" d="M639.2,151C639,148.6 640.9,145 642.7,143.4C644.4,141.7 648.5,140 651,139.9C653.5,139.8 657.4,141 659.3,142.7C661.2,144.3 663.3,148.5 663.5,151C663.7,153.5 662.4,157.5 660.7,159.3C659,161.1 654.9,162.8 652.4,162.8C649.9,162.8 646,161.1 644.1,159.3C642.1,157.5 639.4,153.4 639.2,151Z"/>
<path fill="#ca4641" transform="translate(-208.6,0)" d="M735.5,151C736,148.1 738,142.4 741.1,139.9C744.2,137.4 752.2,134.3 756.3,134.1C760.5,133.9 765.7,135.6 768.8,138.5C771.9,141.5 776.5,149.8 777.1,153.8C777.8,157.7 775.5,162.3 773,164.9C770.5,167.5 764.4,170.9 760.5,171.1C756.5,171.3 750,168 746.6,166.2C743.3,164.5 740,161.6 738.3,159.3C736.7,157 735.1,153.9 735.5,151Z"/>
<path fill="#ca4641" d="M735.5,151C736,148.1 738,142.4 741.1,139.9C744.2,137.4 752.2,134.3 756.3,134.1C760.5,133.9 765.7,135.6 768.8,138.5C771.9,141.5 776.5,149.8 777.1,153.8C777.8,157.7 775.5,162.3 773,164.9C770.5,167.5 764.4,170.9 760.5,171.1C756.5,171.3 750,168 746.6,166.2C743.3,164.5 740,161.6 738.3,159.3C736.7,157 735.1,153.9 735.5,151Z"/>
<path fill="#ca4641" transform="translate(208.6,0)" d="M735.5,151C736,148.1 738,142.4 741.1,139.9C744.2,137.4 752.2,134.3 756.3,134.1C760.5,133.9 765.7,135.6 768.8,138.5C771.9,141.5 776.5,149.8 777.1,153.8C777.8,157.7 775.5,162.3 773,164.9C770.5,167.5 764.4,170.9 760.5,171.1C756.5,171.3 750,168 746.6,166.2C743.3,164.5 740,161.6 738.3,159.3C736.7,157 735.1,153.9 735.5,151Z"/>
<path fill="#ca4641" transform="translate(-208.6,0)" d="M625.3,271.4C624.9,267.2 626.8,261.5 630.2,258.2C633.6,254.9 643.2,249.6 648.2,249.2C653.2,248.8 660,252.2 663.5,255.4C666.9,258.6 670.7,266.5 671.1,270.7C671.5,274.8 669.7,279.9 666.2,283.1C662.8,286.4 653.2,291.7 648.2,292.2C643.2,292.6 636.4,289 633,285.9C629.5,282.8 625.8,275.5 625.3,271.4Z"/>
<path fill="#ca4641" d="M625.3,271.4C624.9,267.2 626.8,261.5 630.2,258.2C633.6,254.9 643.2,249.6 648.2,249.2C653.2,248.8 660,252.2 663.5,255.4C666.9,258.6 670.7,266.5 671.1,270.7C671.5,274.8 669.7,279.9 666.2,283.1C662.8,286.4 653.2,291.7 648.2,292.2C643.2,292.6 636.4,289 633,285.9C629.5,282.8 625.8,275.5 625.3,271.4Z"/>
<path fill="#ca4641" transform="translate(208.6,0)" d="M625.3,271.4C624.9,267.2 626.8,261.5 630.2,258.2C633.6,254.9 643.2,249.6 648.2,249.2C653.2,248.8 660,252.2 663.5,255.4C666.9,258.6 670.7,266.5 671.1,270.7C671.5,274.8 669.7,279.9 666.2,283.1C662.8,286.4 653.2,291.7 648.2,292.2C643.2,292.6 636.4,289 633,285.9C629.5,282.8 625.8,275.5 625.3,271.4Z"/>
<path fill="#3d7fbb" transform="translate(-208.6,0)" d="M736.9,271.4C736.9,268.2 740,263.2 742.5,261C745,258.8 750.2,256.8 753.6,256.8C756.9,256.8 762,258.8 764.7,261C767.4,263.2 771.4,268.2 771.6,271.4C771.8,274.5 768.7,279.5 766,281.8C763.3,284 757.1,286.6 753.6,286.6C750,286.6 745,284 742.5,281.8C740,279.5 736.9,274.5 736.9,271.4Z"/>
<path fill="#3d7fbb" d="M736.9,271.4C736.9,268.2 740,263.2 742.5,261C745,258.8 750.2,256.8 753.6,256.8C756.9,256.8 762,258.8 764.7,261C767.4,263.2 771.4,268.2 771.6,271.4C771.8,274.5 768.7,279.5 766,281.8C763.3,284 757.1,286.6 753.6,286.6C750,286.6 745,284 742.5,281.8C740,279.5 736.9,274.5 736.9,271.4Z"/>
<path fill="#3d7fbb" transform="translate(208.6,0)" d="M736.9,271.4C736.9,268.2 740,263.2 742.5,261C745,258.8 750.2,256.8 753.6,256.8C756.9,256.8 762,258.8 764.7,261C767.4,263.2 771.4,268.2 771.6,271.4C771.8,274.5 768.7,279.5 766,281.8C763.3,284 757.1,286.6 753.6,286.6C750,286.6 745,284 742.5,281.8C740,279.5 736.9,274.5 736.9,271.4Z"/>
<path fill="#b2182b" transform="translate(-208.6,0)" d="M744.1,151C743.9,148.6 746.2,146.1 748,144.8C749.8,143.4 753.8,141.9 756.3,142C758.8,142.1 762.7,143.5 764.7,145.4C766.6,147.4 769.3,152.7 769.5,155.1C769.7,157.6 767.7,160.6 766,162.1C764.4,163.5 760.9,165.1 758.4,164.9C755.9,164.6 751.5,162.8 749.4,160.7C747.3,158.6 744.3,153.4 744.1,151Z"/>
<path fill="#b2182b" d="M744.1,151C743.9,148.6 746.2,146.1 748,144.8C749.8,143.4 753.8,141.9 756.3,142C758.8,142.1 762.7,143.5 764.7,145.4C766.6,147.4 769.3,152.7 769.5,155.1C769.7,157.6 767.7,160.6 766,162.1C764.4,163.5 760.9,165.1 758.4,164.9C755.9,164.6 751.5,162.8 749.4,160.7C747.3,158.6 744.3,153.4 744.1,151Z"/>
<path fill="#b2182b" transform="translate(208.6,0)" d="M744.1,151C743.9,148.6 746.2,146.1 748,144.8C749.8,143.4 753.8,141.9 756.3,142C758.8,142.1 762.7,143.5 764.7,145.4C766.6,147.4 769.3,152.7 769.5,155.1C769.7,157.6 767.7,160.6 766,162.1C764.4,163.5 760.9,165.1 758.4,164.9C755.9,164.6 751.5,162.8 749.4,160.7C747.3,158.6 744.3,153.4 744.1,151Z"/>
<path fill="#b2182b" transform="translate(-208.6,0)" d="M631.6,270.7C631.4,267.6 633.2,263.3 635.7,261C638.2,258.7 644.7,255.6 648.2,255.4C651.8,255.2 656.8,257.2 659.3,259.6C661.8,262 664.6,268.2 664.9,271.4C665.1,274.5 663.2,278.2 660.7,280.4C658.2,282.6 651.8,285.7 648.2,285.9C644.7,286.1 639.6,284 637.1,281.8C634.6,279.5 631.8,273.8 631.6,270.7Z"/>
<path fill="#b2182b" d="M631.6,270.7C631.4,267.6 633.2,263.3 635.7,261C638.2,258.7 644.7,255.6 648.2,255.4C651.8,255.2 656.8,257.2 659.3,259.6C661.8,262 664.6,268.2 664.9,271.4C665.1,274.5 663.2,278.2 660.7,280.4C658.2,282.6 651.8,285.7 648.2,285.9C644.7,286.1 639.6,284 637.1,281.8C634.6,279.5 631.8,273.8 631.6,270.7Z"/>
<path fill="#b2182b" transform="translate(208.6,0)" d="M631.6,270.7C631.4,267.6 633.2,263.3 635.7,261C638.2,258.7 644.7,255.6 648.2,255.4C651.8,255.2 656.8,257.2 659.3,259.6C661.8,262 664.6,268.2 664.9,271.4C665.1,274.5 663.2,278.2 660.7,280.4C658.2,282.6 651.8,285.7 648.2,285.9C644.7,286.1 639.6,284 637.1,281.8C634.6,279.5 631.8,273.8 631.6,270.7Z"/>
</g>
<rect x="676.1" y="53.1" width="6.23" height="19.8" fill="#2166ac"/>
<rect x="682" y="53.1" width="11.37" height="19.8" fill="#3d7fbb"/>
<rect x="693.1" y="53.1" width="12.03" height="19.8" fill="#5898c9"/>
<rect x="704.8" y="53.1" width="11.51" height="19.8" fill="#79b0d5"/>
<rect x="716.1" y="53.1" width="12.03" height="19.8" fill="#a3cae2"/>
<rect x="727.8" y="53.1" width="11.77" height="19.8" fill="#cce2ef"/>
<rect x="739.3" y="53.1" width="11.90" height="19.8" fill="#e8f1f8"/>
<rect x="750.9" y="53.1" width="22.98" height="19.8" fill="#ffffff"/>
<rect x="773.5" y="53.1" width="11.64" height="19.8" fill="#feece3"/>
<rect x="784.9" y="53.1" width="11.77" height="19.8" fill="#fcd6c5"/>
<rect x="796.3" y="53.1" width="11.77" height="19.8" fill="#f8baa0"/>
<rect x="807.8" y="53.1" width="11.64" height="19.8" fill="#f09a7a"/>
<rect x="819.1" y="53.1" width="12.03" height="19.8" fill="#e1755b"/>
<rect x="830.9" y="53.1" width="11.51" height="19.8" fill="#ca4641"/>
<rect x="842.1" y="53.1" width="6.23" height="19.8" fill="#b2182b"/>
<text class="cb" x="682" y="88.3">-0.035</text>
<text class="cb" x="727.8" y="88.3">-0.015</text>
<text class="cb" x="773.5" y="88.3">0.005</text>
<text class="cb" x="819.1" y="88.3">0.025</text>
<g clip-path="url(#clip-b)">
<line x1="583.7" y1="181.8" x2="599.6" y2="173.9" stroke="#000" stroke-width="4.6"/>
<line x1="611.9" y1="168.3" x2="628.1" y2="161.4" stroke="#000" stroke-width="4.6"/>
<line x1="641.3" y1="157.2" x2="658.2" y2="151.7" stroke="#000" stroke-width="4.6"/>
<line x1="671.8" y1="148.5" x2="689.1" y2="144.3" stroke="#000" stroke-width="4.6"/>
<line x1="702.3" y1="142.4" x2="720" y2="139.9" stroke="#000" stroke-width="4.6"/>
<line x1="792.8" y1="179.8" x2="808.7" y2="172.9" stroke="#000" stroke-width="4.6"/>
<line x1="821" y1="166.3" x2="837.8" y2="159.6" stroke="#000" stroke-width="4.6"/>
<line x1="850.7" y1="153.7" x2="867.5" y2="150.1" stroke="#000" stroke-width="4.6"/>
<line x1="880.8" y1="146.5" x2="898.3" y2="143.1" stroke="#000" stroke-width="4.6"/>
<line x1="911.2" y1="141.2" x2="929.6" y2="138.6" stroke="#000" stroke-width="4.6"/>
<line x1="686.3" y1="247.8" x2="703" y2="257.5" stroke="#000" stroke-width="4.6"/>
<line x1="714.1" y1="263" x2="731.1" y2="270.7" stroke="#000" stroke-width="4.6"/>
<line x1="742.5" y1="275.1" x2="760.5" y2="281.1" stroke="#000" stroke-width="4.6"/>
<line x1="773" y1="285.2" x2="790.3" y2="289.8" stroke="#000" stroke-width="4.6"/>
<line x1="803.4" y1="292" x2="821.3" y2="295.3" stroke="#000" stroke-width="4.6"/>
<path d="M643.6,148.8 L654.2,162.1 M643.6,162.1 L654.2,148.8" stroke="#ff0000" stroke-width="2.25" fill="none"/>
<path d="M851.3,146.4 L861.9,159.7 M851.3,159.7 L861.9,146.4" stroke="#ff0000" stroke-width="2.25" fill="none"/>
<path d="M749,273.1 L759.6,286.3 M749,286.3 L759.6,273.1" stroke="#ff0000" stroke-width="2.25" fill="none"/>
<path d="M748,175.5 L760.6,175.5 M754.3,169.2 L754.3,181.8" stroke="#ff0000" stroke-width="2.0" fill="none"/>
<path d="M640.5,248.8 L653.1,248.8 M646.8,242.5 L646.8,255.1" stroke="#ff0000" stroke-width="2.0" fill="none"/>
<path d="M848,249.6 L860.6,249.6 M854.3,243.3 L854.3,255.9" stroke="#ff0000" stroke-width="2.0" fill="none"/>
</g>
<line x1="552.6" y1="385.5" x2="552.6" y2="377.9" stroke="#000" stroke-width="1.7"/>
<line x1="563" y1="385.5" x2="563" y2="381.1" stroke="#222" stroke-width="0.75"/>
<line x1="573.5" y1="385.5" x2="573.5" y2="381.1" stroke="#222" stroke-width="0.75"/>
<line x1="583.9" y1="385.5" x2="583.9" y2="381.1" stroke="#222" stroke-width="0.75"/>
<line x1="594.3" y1="385.5" x2="594.3" y2="381.1" stroke="#222" stroke-width="0.75"/>
<line x1="604.7" y1="385.5" x2="604.7" y2="377.9" stroke="#000" stroke-width="1.7"/>
<line x1="615.2" y1="385.5" x2="615.2" y2="381.1" stroke="#222" stroke-width="0.75"/>
<line x1="625.6" y1="385.5" x2="625.6" y2="381.1" stroke="#222" stroke-width="0.75"/>
<line x1="636" y1="385.5" x2="636" y2="381.1" stroke="#222" stroke-width="0.75"/>
<line x1="646.4" y1="385.5" x2="646.4" y2="381.1" stroke="#222" stroke-width="0.75"/>
<line x1="656.9" y1="385.5" x2="656.9" y2="377.9" stroke="#000" stroke-width="1.7"/>
<line x1="667.3" y1="385.5" x2="667.3" y2="381.1" stroke="#222" stroke-width="0.75"/>
<line x1="677.7" y1="385.5" x2="677.7" y2="381.1" stroke="#222" stroke-width="0.75"/>
<line x1="688.2" y1="385.5" x2="688.2" y2="381.1" stroke="#222" stroke-width="0.75"/>
<line x1="698.6" y1="385.5" x2="698.6" y2="381.1" stroke="#222" stroke-width="0.75"/>
<line x1="709" y1="385.5" x2="709" y2="377.9" stroke="#000" stroke-width="1.7"/>
<line x1="719.4" y1="385.5" x2="719.4" y2="381.1" stroke="#222" stroke-width="0.75"/>
<line x1="729.9" y1="385.5" x2="729.9" y2="381.1" stroke="#222" stroke-width="0.75"/>
<line x1="740.3" y1="385.5" x2="740.3" y2="381.1" stroke="#222" stroke-width="0.75"/>
<line x1="750.7" y1="385.5" x2="750.7" y2="381.1" stroke="#222" stroke-width="0.75"/>
<line x1="761.2" y1="385.5" x2="761.2" y2="377.9" stroke="#000" stroke-width="1.7"/>
<line x1="771.6" y1="385.5" x2="771.6" y2="381.1" stroke="#222" stroke-width="0.75"/>
<line x1="782" y1="385.5" x2="782" y2="381.1" stroke="#222" stroke-width="0.75"/>
<line x1="792.4" y1="385.5" x2="792.4" y2="381.1" stroke="#222" stroke-width="0.75"/>
<line x1="802.9" y1="385.5" x2="802.9" y2="381.1" stroke="#222" stroke-width="0.75"/>
<line x1="813.3" y1="385.5" x2="813.3" y2="377.9" stroke="#000" stroke-width="1.7"/>
<line x1="823.7" y1="385.5" x2="823.7" y2="381.1" stroke="#222" stroke-width="0.75"/>
<line x1="834.1" y1="385.5" x2="834.1" y2="381.1" stroke="#222" stroke-width="0.75"/>
<line x1="844.6" y1="385.5" x2="844.6" y2="381.1" stroke="#222" stroke-width="0.75"/>
<line x1="855" y1="385.5" x2="855" y2="381.1" stroke="#222" stroke-width="0.75"/>
<line x1="865.4" y1="385.5" x2="865.4" y2="377.9" stroke="#000" stroke-width="1.7"/>
<line x1="875.9" y1="385.5" x2="875.9" y2="381.1" stroke="#222" stroke-width="0.75"/>
<line x1="886.3" y1="385.5" x2="886.3" y2="381.1" stroke="#222" stroke-width="0.75"/>
<line x1="896.7" y1="385.5" x2="896.7" y2="381.1" stroke="#222" stroke-width="0.75"/>
<line x1="907.1" y1="385.5" x2="907.1" y2="381.1" stroke="#222" stroke-width="0.75"/>
<line x1="917.6" y1="385.5" x2="917.6" y2="377.9" stroke="#000" stroke-width="1.7"/>
<line x1="928" y1="385.5" x2="928" y2="381.1" stroke="#222" stroke-width="0.75"/>
<line x1="938.4" y1="385.5" x2="938.4" y2="381.1" stroke="#222" stroke-width="0.75"/>
<line x1="948.8" y1="385.5" x2="948.8" y2="381.1" stroke="#222" stroke-width="0.75"/>
<line x1="959.3" y1="385.5" x2="959.3" y2="381.1" stroke="#222" stroke-width="0.75"/>
<line x1="969.7" y1="385.5" x2="969.7" y2="377.9" stroke="#000" stroke-width="1.7"/>
<line x1="552.6" y1="50.3" x2="557" y2="50.3" stroke="#222" stroke-width="0.75"/>
<line x1="552.6" y1="60" x2="557" y2="60" stroke="#222" stroke-width="0.75"/>
<line x1="552.6" y1="69.7" x2="560.2" y2="69.7" stroke="#000" stroke-width="1.7"/>
<line x1="552.6" y1="79.4" x2="557" y2="79.4" stroke="#222" stroke-width="0.75"/>
<line x1="552.6" y1="89.1" x2="557" y2="89.1" stroke="#222" stroke-width="0.75"/>
<line x1="552.6" y1="98.8" x2="557" y2="98.8" stroke="#222" stroke-width="0.75"/>
<line x1="552.6" y1="108.6" x2="557" y2="108.6" stroke="#222" stroke-width="0.75"/>
<line x1="552.6" y1="118.3" x2="560.2" y2="118.3" stroke="#000" stroke-width="1.7"/>
<line x1="552.6" y1="128" x2="557" y2="128" stroke="#222" stroke-width="0.75"/>
<line x1="552.6" y1="137.7" x2="557" y2="137.7" stroke="#222" stroke-width="0.75"/>
<line x1="552.6" y1="147.4" x2="557" y2="147.4" stroke="#222" stroke-width="0.75"/>
<line x1="552.6" y1="157.1" x2="557" y2="157.1" stroke="#222" stroke-width="0.75"/>
<line x1="552.6" y1="166.9" x2="560.2" y2="166.9" stroke="#000" stroke-width="1.7"/>
<line x1="552.6" y1="176.6" x2="557" y2="176.6" stroke="#222" stroke-width="0.75"/>
<line x1="552.6" y1="186.3" x2="557" y2="186.3" stroke="#222" stroke-width="0.75"/>
<line x1="552.6" y1="196" x2="557" y2="196" stroke="#222" stroke-width="0.75"/>
<line x1="552.6" y1="205.7" x2="557" y2="205.7" stroke="#222" stroke-width="0.75"/>
<line x1="552.6" y1="215.5" x2="560.2" y2="215.5" stroke="#000" stroke-width="1.7"/>
<line x1="552.6" y1="225.2" x2="557" y2="225.2" stroke="#222" stroke-width="0.75"/>
<line x1="552.6" y1="234.9" x2="557" y2="234.9" stroke="#222" stroke-width="0.75"/>
<line x1="552.6" y1="244.6" x2="557" y2="244.6" stroke="#222" stroke-width="0.75"/>
<line x1="552.6" y1="254.3" x2="557" y2="254.3" stroke="#222" stroke-width="0.75"/>
<line x1="552.6" y1="264" x2="560.2" y2="264" stroke="#000" stroke-width="1.7"/>
<line x1="552.6" y1="273.8" x2="557" y2="273.8" stroke="#222" stroke-width="0.75"/>
<line x1="552.6" y1="283.5" x2="557" y2="283.5" stroke="#222" stroke-width="0.75"/>
<line x1="552.6" y1="293.2" x2="557" y2="293.2" stroke="#222" stroke-width="0.75"/>
<line x1="552.6" y1="302.9" x2="557" y2="302.9" stroke="#222" stroke-width="0.75"/>
<line x1="552.6" y1="312.6" x2="560.2" y2="312.6" stroke="#000" stroke-width="1.7"/>
<line x1="552.6" y1="322.3" x2="557" y2="322.3" stroke="#222" stroke-width="0.75"/>
<line x1="552.6" y1="332.1" x2="557" y2="332.1" stroke="#222" stroke-width="0.75"/>
<line x1="552.6" y1="341.8" x2="557" y2="341.8" stroke="#222" stroke-width="0.75"/>
<line x1="552.6" y1="351.5" x2="557" y2="351.5" stroke="#222" stroke-width="0.75"/>
<line x1="552.6" y1="361.2" x2="560.2" y2="361.2" stroke="#000" stroke-width="1.7"/>
<line x1="552.6" y1="370.9" x2="557" y2="370.9" stroke="#222" stroke-width="0.75"/>
<line x1="552.6" y1="380.6" x2="557" y2="380.6" stroke="#222" stroke-width="0.75"/>
<line x1="552.6" y1="390.4" x2="557" y2="390.4" stroke="#222" stroke-width="0.75"/>
<rect x="552.6" y="45.4" width="417.1" height="340.1" fill="none" stroke="#000" stroke-width="1.65"/>
<text class="tk" text-anchor="middle" x="552.3" y="402.8">2</text>
<text class="tk" text-anchor="middle" x="604.4" y="402.8">1.5</text>
<text class="tk" text-anchor="middle" x="656.6" y="402.8">1</text>
<text class="tk" text-anchor="middle" x="708.7" y="402.8">0.5</text>
<text class="tk" text-anchor="middle" x="760.9" y="402.8">0</text>
<text class="tk" text-anchor="middle" x="811.8" y="402.8">-0.5</text>
<text class="tk" text-anchor="middle" x="863.9" y="402.8">-1</text>
<text class="tk" text-anchor="middle" x="916.1" y="402.8">-1.5</text>
<text class="tk" text-anchor="middle" x="968.2" y="402.8">-2</text>
<text class="tk" text-anchor="end" x="547.6" y="368.1">-3</text>
<text class="tk" text-anchor="end" x="547.6" y="319.5">-2</text>
<text class="tk" text-anchor="end" x="547.6" y="270.9">-1</text>
<text class="tk" text-anchor="end" x="547.6" y="222.3">0</text>
<text class="tk" text-anchor="end" x="547.6" y="173.8">1</text>
<text class="tk" text-anchor="end" x="547.6" y="125.2">2</text>
<text class="tk" text-anchor="end" x="547.6" y="76.6">3</text>
<text class="sf" font-size="24" text-anchor="middle" x="763.7" y="420.7">ϕ(π)</text>
<text class="sf" font-size="24" font-style="italic" text-anchor="middle" transform="translate(524.2,214.2) rotate(-90)">y<tspan font-size="21" dy="-3.2">*</tspan></text>
<text class="sf" font-size="26" x="569.9" y="79.6">(b)</text>
<text class="sf" font-size="28" x="721.6" y="30.1" textLength="78" lengthAdjust="spacingAndGlyphs"><tspan font-style="italic">x</tspan>* = 20</text>
</g>
<g id="panel-c">
<clipPath id="clip-c"><rect x="1059.8" y="44.9" width="436.5" height="339.9"/></clipPath>
<g clip-path="url(#clip-c)">
<path fill="#dfecf5" transform="translate(-218.2,0)" d="M1122.2,81.7C1112.5,84.6 1121.2,96.7 1120.8,101.1C1120.4,105.5 1120.9,107.5 1119.4,110.8C1118,114.1 1112.2,119.9 1111.1,123.3C1109.9,126.6 1109.7,129.2 1111.8,133C1113.9,136.7 1120.3,142.2 1125,148.2C1129.6,154.2 1137.1,168.9 1143,173.2C1148.8,177.4 1157.5,176.6 1163.8,176.6C1170,176.6 1179.8,175.4 1184.6,173.2C1189.3,171 1193.6,166.2 1195.6,162.1C1197.7,157.9 1198.4,150.6 1198.4,145.4C1198.4,140.2 1197.3,132.4 1195.6,127.4C1194,122.4 1188.8,117 1187.3,112.2C1185.9,107.4 1186.3,100.1 1185.9,95.5C1185.6,91 1194.8,83.8 1185.2,81.7C1175.7,79.6 1131.8,78.8 1122.2,81.7Z"/>
<path fill="#dfecf5" d="M1122.2,81.7C1112.5,84.6 1121.2,96.7 1120.8,101.1C1120.4,105.5 1120.9,107.5 1119.4,110.8C1118,114.1 1112.2,119.9 1111.1,123.3C1109.9,126.6 1109.7,129.2 1111.8,133C1113.9,136.7 1120.3,142.2 1125,148.2C1129.6,154.2 1137.1,168.9 1143,173.2C1148.8,177.4 1157.5,176.6 1163.8,176.6C1170,176.6 1179.8,175.4 1184.6,173.2C1189.3,171 1193.6,166.2 1195.6,162.1C1197.7,157.9 1198.4,150.6 1198.4,145.4C1198.4,140.2 1197.3,132.4 1195.6,127.4C1194,122.4 1188.8,117 1187.3,112.2C1185.9,107.4 1186.3,100.1 1185.9,95.5C1185.6,91 1194.8,83.8 1185.2,81.7C1175.7,79.6 1131.8,78.8 1122.2,81.7Z"/>
<path fill="#dfecf5" transform="translate(218.2,0)" d="M1122.2,81.7C1112.5,84.6 1121.2,96.7 1120.8,101.1C1120.4,105.5 1120.9,107.5 1119.4,110.8C1118,114.1 1112.2,119.9 1111.1,123.3C1109.9,126.6 1109.7,129.2 1111.8,133C1113.9,136.7 1120.3,142.2 1125,148.2C1129.6,154.2 1137.1,168.9 1143,173.2C1148.8,177.4 1157.5,176.6 1163.8,176.6C1170,176.6 1179.8,175.4 1184.6,173.2C1189.3,171 1193.6,166.2 1195.6,162.1C1197.7,157.9 1198.4,150.6 1198.4,145.4C1198.4,140.2 1197.3,132.4 1195.6,127.4C1194,122.4 1188.8,117 1187.3,112.2C1185.9,107.4 1186.3,100.1 1185.9,95.5C1185.6,91 1194.8,83.8 1185.2,81.7C1175.7,79.6 1131.8,78.8 1122.2,81.7Z"/>
<path fill="#dfecf5" transform="translate(-218.2,0)" d="M1130.4,60.9C1134.3,57.1 1147.3,56.6 1155.2,55.9C1163.1,55.2 1178.3,53.1 1182.9,55.9C1187.5,58.7 1185.3,66.6 1185.9,74.7C1186.5,82.9 1190.9,104.5 1186.9,110.4C1182.9,116.4 1168.7,114.4 1159.1,114.4C1149.6,114.4 1129.1,114 1123.5,110.4C1117.8,106.9 1120.6,95.1 1121.5,90.6C1122.4,86.1 1128.1,85.2 1129.4,80.7C1130.7,76.2 1126.5,64.6 1130.4,60.9Z"/>
<path fill="#dfecf5" d="M1130.4,60.9C1134.3,57.1 1147.3,56.6 1155.2,55.9C1163.1,55.2 1178.3,53.1 1182.9,55.9C1187.5,58.7 1185.3,66.6 1185.9,74.7C1186.5,82.9 1190.9,104.5 1186.9,110.4C1182.9,116.4 1168.7,114.4 1159.1,114.4C1149.6,114.4 1129.1,114 1123.5,110.4C1117.8,106.9 1120.6,95.1 1121.5,90.6C1122.4,86.1 1128.1,85.2 1129.4,80.7C1130.7,76.2 1126.5,64.6 1130.4,60.9Z"/>
<path fill="#dfecf5" transform="translate(218.2,0)" d="M1130.4,60.9C1134.3,57.1 1147.3,56.6 1155.2,55.9C1163.1,55.2 1178.3,53.1 1182.9,55.9C1187.5,58.7 1185.3,66.6 1185.9,74.7C1186.5,82.9 1190.9,104.5 1186.9,110.4C1182.9,116.4 1168.7,114.4 1159.1,114.4C1149.6,114.4 1129.1,114 1123.5,110.4C1117.8,106.9 1120.6,95.1 1121.5,90.6C1122.4,86.1 1128.1,85.2 1129.4,80.7C1130.7,76.2 1126.5,64.6 1130.4,60.9Z"/>
<path fill="#fee5d9" transform="translate(-218.2,0)" d="M1223.9,123.5C1226.9,117.8 1240.1,114.5 1246.7,111.6C1253.4,108.6 1262.9,104.4 1268.6,103.6C1274.2,102.9 1279.7,104.5 1284.4,106.6C1289.2,108.7 1296.1,112.6 1300.3,117.5C1304.4,122.4 1309.2,133.1 1312.2,139.3C1315.1,145.6 1318.2,152.6 1320.1,159.1C1322,165.7 1323,177.6 1325.1,182.9C1327.1,188.3 1332.4,192.3 1334,194.8C1335.6,197.4 1341.6,198.9 1336,199.8C1330.3,200.7 1311.2,200.8 1296.3,200.8C1281.4,200.8 1246.9,201.3 1236.8,199.8C1226.7,198.3 1230.7,194.9 1228.9,190.9C1227.1,186.9 1225.2,179.3 1224.9,173C1224.6,166.8 1227.1,156.7 1226.9,149.2C1226.8,141.8 1221,129.1 1223.9,123.5Z"/>
<path fill="#fee5d9" d="M1223.9,123.5C1226.9,117.8 1240.1,114.5 1246.7,111.6C1253.4,108.6 1262.9,104.4 1268.6,103.6C1274.2,102.9 1279.7,104.5 1284.4,106.6C1289.2,108.7 1296.1,112.6 1300.3,117.5C1304.4,122.4 1309.2,133.1 1312.2,139.3C1315.1,145.6 1318.2,152.6 1320.1,159.1C1322,165.7 1323,177.6 1325.1,182.9C1327.1,188.3 1332.4,192.3 1334,194.8C1335.6,197.4 1341.6,198.9 1336,199.8C1330.3,200.7 1311.2,200.8 1296.3,200.8C1281.4,200.8 1246.9,201.3 1236.8,199.8C1226.7,198.3 1230.7,194.9 1228.9,190.9C1227.1,186.9 1225.2,179.3 1224.9,173C1224.6,166.8 1227.1,156.7 1226.9,149.2C1226.8,141.8 1221,129.1 1223.9,123.5Z"/>
<path fill="#fee5d9" transform="translate(218.2,0)" d="M1223.9,123.5C1226.9,117.8 1240.1,114.5 1246.7,111.6C1253.4,108.6 1262.9,104.4 1268.6,103.6C1274.2,102.9 1279.7,104.5 1284.4,106.6C1289.2,108.7 1296.1,112.6 1300.3,117.5C1304.4,122.4 1309.2,133.1 1312.2,139.3C1315.1,145.6 1318.2,152.6 1320.1,159.1C1322,165.7 1323,177.6 1325.1,182.9C1327.1,188.3 1332.4,192.3 1334,194.8C1335.6,197.4 1341.6,198.9 1336,199.8C1330.3,200.7 1311.2,200.8 1296.3,200.8C1281.4,200.8 1246.9,201.3 1236.8,199.8C1226.7,198.3 1230.7,194.9 1228.9,190.9C1227.1,186.9 1225.2,179.3 1224.9,173C1224.6,166.8 1227.1,156.7 1226.9,149.2C1226.8,141.8 1221,129.1 1223.9,123.5Z"/>
<path fill="#fee5d9" transform="translate(-218.2,0)" d="M1115.5,201.2C1119.7,199.4 1132.2,202 1139.3,202.5C1146.5,203.1 1158.1,202.9 1163.1,204.5C1168.2,206.2 1167.7,210.3 1173,213.5C1178.4,216.6 1192.8,222.1 1198.8,225.3C1204.7,228.6 1210.4,232 1212.7,235.3C1214.9,238.5 1214.6,243.3 1213.7,247.2C1212.8,251 1209.3,256.3 1206.7,260.7C1204.2,265.1 1199.2,271.2 1196.8,276.6C1194.4,281.9 1191.6,292.5 1190.9,296.4C1190.1,300.2 1192.5,299.7 1191.9,302.3C1191.3,305 1189.7,310.4 1186.9,314.2C1184.1,318.1 1178.1,325.3 1173,328.1C1168,330.9 1158.8,333.1 1153.2,333.1C1147.5,333.1 1140.4,330.9 1135.3,328.1C1130.3,325.3 1123.1,318.4 1119.5,314.2C1115.9,310.1 1113.5,306.3 1111.6,300.3C1109.6,294.4 1106.9,281.7 1106.6,274.6C1106.3,267.4 1108.1,258.7 1109.6,252.8C1111.1,246.9 1115.5,239.4 1116.5,235.3C1117.6,231.1 1117.3,228.5 1116.5,225.3C1115.7,222.2 1111.3,218.1 1111.2,214.4C1111,210.8 1111.3,202.9 1115.5,201.2Z"/>
<path fill="#fee5d9" d="M1115.5,201.2C1119.7,199.4 1132.2,202 1139.3,202.5C1146.5,203.1 1158.1,202.9 1163.1,204.5C1168.2,206.2 1167.7,210.3 1173,213.5C1178.4,216.6 1192.8,222.1 1198.8,225.3C1204.7,228.6 1210.4,232 1212.7,235.3C1214.9,238.5 1214.6,243.3 1213.7,247.2C1212.8,251 1209.3,256.3 1206.7,260.7C1204.2,265.1 1199.2,271.2 1196.8,276.6C1194.4,281.9 1191.6,292.5 1190.9,296.4C1190.1,300.2 1192.5,299.7 1191.9,302.3C1191.3,305 1189.7,310.4 1186.9,314.2C1184.1,318.1 1178.1,325.3 1173,328.1C1168,330.9 1158.8,333.1 1153.2,333.1C1147.5,333.1 1140.4,330.9 1135.3,328.1C1130.3,325.3 1123.1,318.4 1119.5,314.2C1115.9,310.1 1113.5,306.3 1111.6,300.3C1109.6,294.4 1106.9,281.7 1106.6,274.6C1106.3,267.4 1108.1,258.7 1109.6,252.8C1111.1,246.9 1115.5,239.4 1116.5,235.3C1117.6,231.1 1117.3,228.5 1116.5,225.3C1115.7,222.2 1111.3,218.1 1111.2,214.4C1111,210.8 1111.3,202.9 1115.5,201.2Z"/>
<path fill="#fee5d9" transform="translate(218.2,0)" d="M1115.5,201.2C1119.7,199.4 1132.2,202 1139.3,202.5C1146.5,203.1 1158.1,202.9 1163.1,204.5C1168.2,206.2 1167.7,210.3 1173,213.5C1178.4,216.6 1192.8,222.1 1198.8,225.3C1204.7,228.6 1210.4,232 1212.7,235.3C1214.9,238.5 1214.6,243.3 1213.7,247.2C1212.8,251 1209.3,256.3 1206.7,260.7C1204.2,265.1 1199.2,271.2 1196.8,276.6C1194.4,281.9 1191.6,292.5 1190.9,296.4C1190.1,300.2 1192.5,299.7 1191.9,302.3C1191.3,305 1189.7,310.4 1186.9,314.2C1184.1,318.1 1178.1,325.3 1173,328.1C1168,330.9 1158.8,333.1 1153.2,333.1C1147.5,333.1 1140.4,330.9 1135.3,328.1C1130.3,325.3 1123.1,318.4 1119.5,314.2C1115.9,310.1 1113.5,306.3 1111.6,300.3C1109.6,294.4 1106.9,281.7 1106.6,274.6C1106.3,267.4 1108.1,258.7 1109.6,252.8C1111.1,246.9 1115.5,239.4 1116.5,235.3C1117.6,231.1 1117.3,228.5 1116.5,225.3C1115.7,222.2 1111.3,218.1 1111.2,214.4C1111,210.8 1111.3,202.9 1115.5,201.2Z"/>
<path fill="#dfecf5" transform="translate(-218.2,0)" d="M1217.6,296.8C1217.6,291.7 1221.5,281.7 1224.6,276.6C1227.7,271.4 1233.4,266.8 1238.5,262.7C1243.5,258.5 1252.9,251.6 1258.3,248.8C1263.6,246 1269.4,244.5 1274.1,244.2C1278.9,244 1286.1,245.3 1290,247.2C1293.9,249.1 1298.3,252.3 1299.9,256.7C1301.6,261.1 1299.9,270.5 1300.9,276.6C1302,282.7 1306.7,290.8 1306.9,297.4C1307,303.9 1303.5,314.1 1301.9,320.2C1300.3,326.3 1296.4,333.9 1296,338C1295.5,342.2 1300.1,345.3 1298.9,347.9C1297.7,350.6 1292.6,354.1 1288,355.9C1283.4,357.7 1274.1,360.1 1268.2,359.8C1262.2,359.5 1254.2,357.2 1248.4,353.9C1242.6,350.6 1232.1,342.2 1229.5,338C1227,333.9 1232.3,330.3 1231.5,326.1C1230.8,322 1226.7,314.7 1224.6,310.3C1222.5,305.9 1217.6,301.8 1217.6,296.8Z"/>
<path fill="#dfecf5" d="M1217.6,296.8C1217.6,291.7 1221.5,281.7 1224.6,276.6C1227.7,271.4 1233.4,266.8 1238.5,262.7C1243.5,258.5 1252.9,251.6 1258.3,248.8C1263.6,246 1269.4,244.5 1274.1,244.2C1278.9,244 1286.1,245.3 1290,247.2C1293.9,249.1 1298.3,252.3 1299.9,256.7C1301.6,261.1 1299.9,270.5 1300.9,276.6C1302,282.7 1306.7,290.8 1306.9,297.4C1307,303.9 1303.5,314.1 1301.9,320.2C1300.3,326.3 1296.4,333.9 1296,338C1295.5,342.2 1300.1,345.3 1298.9,347.9C1297.7,350.6 1292.6,354.1 1288,355.9C1283.4,357.7 1274.1,360.1 1268.2,359.8C1262.2,359.5 1254.2,357.2 1248.4,353.9C1242.6,350.6 1232.1,342.2 1229.5,338C1227,333.9 1232.3,330.3 1231.5,326.1C1230.8,322 1226.7,314.7 1224.6,310.3C1222.5,305.9 1217.6,301.8 1217.6,296.8Z"/>
<path fill="#dfecf5" transform="translate(218.2,0)" d="M1217.6,296.8C1217.6,291.7 1221.5,281.7 1224.6,276.6C1227.7,271.4 1233.4,266.8 1238.5,262.7C1243.5,258.5 1252.9,251.6 1258.3,248.8C1263.6,246 1269.4,244.5 1274.1,244.2C1278.9,244 1286.1,245.3 1290,247.2C1293.9,249.1 1298.3,252.3 1299.9,256.7C1301.6,261.1 1299.9,270.5 1300.9,276.6C1302,282.7 1306.7,290.8 1306.9,297.4C1307,303.9 1303.5,314.1 1301.9,320.2C1300.3,326.3 1296.4,333.9 1296,338C1295.5,342.2 1300.1,345.3 1298.9,347.9C1297.7,350.6 1292.6,354.1 1288,355.9C1283.4,357.7 1274.1,360.1 1268.2,359.8C1262.2,359.5 1254.2,357.2 1248.4,353.9C1242.6,350.6 1232.1,342.2 1229.5,338C1227,333.9 1232.3,330.3 1231.5,326.1C1230.8,322 1226.7,314.7 1224.6,310.3C1222.5,305.9 1217.6,301.8 1217.6,296.8Z"/>
<path fill="#b7d5e8" transform="translate(-218.2,0)" d="M1118,131.6C1116.9,129.3 1116.2,126.2 1118.7,123.3C1121.2,120.4 1131.2,114.9 1134.7,112.2C1138.1,109.5 1138.9,107 1141.6,105.2C1144.3,103.5 1149.6,101 1152.7,100.8C1155.8,100.6 1159.9,102.2 1162.4,103.9C1164.9,105.6 1166.2,109.5 1169.3,112.2C1172.4,114.9 1180,119 1183.2,121.9C1186.3,124.8 1189,128.5 1190.1,131.6C1191.2,134.7 1191.4,138.1 1190.8,142.7C1190.2,147.2 1189.6,157.8 1185.9,162.1C1182.3,166.3 1172.1,170.7 1166.5,171.1C1160.9,171.5 1152.7,168.1 1148.5,164.9C1144.4,161.6 1142.1,153.6 1138.8,149.6C1135.5,145.7 1129.5,141.2 1126.3,138.5C1123.2,135.8 1119.2,133.9 1118,131.6Z"/>
<path fill="#b7d5e8" d="M1118,131.6C1116.9,129.3 1116.2,126.2 1118.7,123.3C1121.2,120.4 1131.2,114.9 1134.7,112.2C1138.1,109.5 1138.9,107 1141.6,105.2C1144.3,103.5 1149.6,101 1152.7,100.8C1155.8,100.6 1159.9,102.2 1162.4,103.9C1164.9,105.6 1166.2,109.5 1169.3,112.2C1172.4,114.9 1180,119 1183.2,121.9C1186.3,124.8 1189,128.5 1190.1,131.6C1191.2,134.7 1191.4,138.1 1190.8,142.7C1190.2,147.2 1189.6,157.8 1185.9,162.1C1182.3,166.3 1172.1,170.7 1166.5,171.1C1160.9,171.5 1152.7,168.1 1148.5,164.9C1144.4,161.6 1142.1,153.6 1138.8,149.6C1135.5,145.7 1129.5,141.2 1126.3,138.5C1123.2,135.8 1119.2,133.9 1118,131.6Z"/>
<path fill="#b7d5e8" transform="translate(218.2,0)" d="M1118,131.6C1116.9,129.3 1116.2,126.2 1118.7,123.3C1121.2,120.4 1131.2,114.9 1134.7,112.2C1138.1,109.5 1138.9,107 1141.6,105.2C1144.3,103.5 1149.6,101 1152.7,100.8C1155.8,100.6 1159.9,102.2 1162.4,103.9C1164.9,105.6 1166.2,109.5 1169.3,112.2C1172.4,114.9 1180,119 1183.2,121.9C1186.3,124.8 1189,128.5 1190.1,131.6C1191.2,134.7 1191.4,138.1 1190.8,142.7C1190.2,147.2 1189.6,157.8 1185.9,162.1C1182.3,166.3 1172.1,170.7 1166.5,171.1C1160.9,171.5 1152.7,168.1 1148.5,164.9C1144.4,161.6 1142.1,153.6 1138.8,149.6C1135.5,145.7 1129.5,141.2 1126.3,138.5C1123.2,135.8 1119.2,133.9 1118,131.6Z"/>
<path fill="#fac7b1" transform="translate(-218.2,0)" d="M1231.9,125.4C1234.4,119.6 1244.9,116.8 1250.7,114.5C1256.5,112.3 1264.6,110.3 1270.5,110.6C1276.5,110.9 1285.6,113.7 1290.4,116.5C1295.1,119.3 1299.3,124.5 1302.3,129.4C1305.2,134.3 1308.3,144.2 1310.2,149.2C1312.1,154.3 1315.1,158.1 1315.1,163.1C1315.1,168.2 1313,178.6 1310.2,182.9C1307.4,187.2 1302.9,190.1 1296.3,191.9C1289.8,193.6 1274,195.3 1266.6,194.8C1259.1,194.4 1251.4,191.9 1246.7,188.9C1242.1,185.9 1237.8,180.4 1235.8,175C1233.9,169.6 1234.4,160.6 1233.9,153.2C1233.3,145.8 1229.3,131.2 1231.9,125.4Z"/>
<path fill="#fac7b1" d="M1231.9,125.4C1234.4,119.6 1244.9,116.8 1250.7,114.5C1256.5,112.3 1264.6,110.3 1270.5,110.6C1276.5,110.9 1285.6,113.7 1290.4,116.5C1295.1,119.3 1299.3,124.5 1302.3,129.4C1305.2,134.3 1308.3,144.2 1310.2,149.2C1312.1,154.3 1315.1,158.1 1315.1,163.1C1315.1,168.2 1313,178.6 1310.2,182.9C1307.4,187.2 1302.9,190.1 1296.3,191.9C1289.8,193.6 1274,195.3 1266.6,194.8C1259.1,194.4 1251.4,191.9 1246.7,188.9C1242.1,185.9 1237.8,180.4 1235.8,175C1233.9,169.6 1234.4,160.6 1233.9,153.2C1233.3,145.8 1229.3,131.2 1231.9,125.4Z"/>
<path fill="#fac7b1" transform="translate(218.2,0)" d="M1231.9,125.4C1234.4,119.6 1244.9,116.8 1250.7,114.5C1256.5,112.3 1264.6,110.3 1270.5,110.6C1276.5,110.9 1285.6,113.7 1290.4,116.5C1295.1,119.3 1299.3,124.5 1302.3,129.4C1305.2,134.3 1308.3,144.2 1310.2,149.2C1312.1,154.3 1315.1,158.1 1315.1,163.1C1315.1,168.2 1313,178.6 1310.2,182.9C1307.4,187.2 1302.9,190.1 1296.3,191.9C1289.8,193.6 1274,195.3 1266.6,194.8C1259.1,194.4 1251.4,191.9 1246.7,188.9C1242.1,185.9 1237.8,180.4 1235.8,175C1233.9,169.6 1234.4,160.6 1233.9,153.2C1233.3,145.8 1229.3,131.2 1231.9,125.4Z"/>
<path fill="#fac7b1" transform="translate(-218.2,0)" d="M1135.3,234.9C1129.1,239.4 1120.8,248.8 1117.5,254.7C1114.2,260.7 1113.5,268.3 1113.5,274.6C1113.5,280.8 1115.1,291 1117.5,296.4C1119.9,301.7 1124,306.5 1129.4,310.3C1134.8,314 1146.6,320.3 1153.2,321.2C1159.7,322.1 1168.3,319 1173,316.2C1177.8,313.4 1182.5,306.2 1184.9,302.3C1187.3,298.5 1187.1,294.6 1188.9,290.4C1190.7,286.3 1194.7,279.3 1196.8,274.6C1198.9,269.8 1201.1,262.6 1202.8,258.7C1204.4,254.8 1208.3,252.1 1207.7,248.8C1207.1,245.5 1203.1,239.9 1198.8,236.9C1194.5,233.9 1184.9,230.8 1179,229C1173,227.2 1165.7,224.1 1159.1,225C1152.6,225.9 1141.6,230.5 1135.3,234.9Z"/>
<path fill="#fac7b1" d="M1135.3,234.9C1129.1,239.4 1120.8,248.8 1117.5,254.7C1114.2,260.7 1113.5,268.3 1113.5,274.6C1113.5,280.8 1115.1,291 1117.5,296.4C1119.9,301.7 1124,306.5 1129.4,310.3C1134.8,314 1146.6,320.3 1153.2,321.2C1159.7,322.1 1168.3,319 1173,316.2C1177.8,313.4 1182.5,306.2 1184.9,302.3C1187.3,298.5 1187.1,294.6 1188.9,290.4C1190.7,286.3 1194.7,279.3 1196.8,274.6C1198.9,269.8 1201.1,262.6 1202.8,258.7C1204.4,254.8 1208.3,252.1 1207.7,248.8C1207.1,245.5 1203.1,239.9 1198.8,236.9C1194.5,233.9 1184.9,230.8 1179,229C1173,227.2 1165.7,224.1 1159.1,225C1152.6,225.9 1141.6,230.5 1135.3,234.9Z"/>
<path fill="#fac7b1" transform="translate(218.2,0)" d="M1135.3,234.9C1129.1,239.4 1120.8,248.8 1117.5,254.7C1114.2,260.7 1113.5,268.3 1113.5,274.6C1113.5,280.8 1115.1,291 1117.5,296.4C1119.9,301.7 1124,306.5 1129.4,310.3C1134.8,314 1146.6,320.3 1153.2,321.2C1159.7,322.1 1168.3,319 1173,316.2C1177.8,313.4 1182.5,306.2 1184.9,302.3C1187.3,298.5 1187.1,294.6 1188.9,290.4C1190.7,286.3 1194.7,279.3 1196.8,274.6C1198.9,269.8 1201.1,262.6 1202.8,258.7C1204.4,254.8 1208.3,252.1 1207.7,248.8C1207.1,245.5 1203.1,239.9 1198.8,236.9C1194.5,233.9 1184.9,230.8 1179,229C1173,227.2 1165.7,224.1 1159.1,225C1152.6,225.9 1141.6,230.5 1135.3,234.9Z"/>
<path fill="#b7d5e8" transform="translate(-218.2,0)" d="M1224.6,296.8C1223.7,291.7 1225.6,283.4 1228.5,278.5C1231.5,273.7 1238.8,268.8 1244.4,264.7C1250.1,260.5 1260.6,252.7 1266.2,250.8C1271.9,248.8 1278.1,250.3 1282.1,251.8C1286.1,253.3 1291,256.7 1293,260.7C1294.9,264.7 1293.8,273 1295,278.5C1296.2,284 1301.4,291.7 1300.9,297.4C1300.5,303 1295.4,310.4 1292,316.2C1288.6,322 1282.3,332.3 1278.1,336C1273.9,339.8 1267.9,340.7 1264.2,341C1260.5,341.3 1255.7,340 1253.3,338C1250.9,336.1 1251.2,332 1248.4,328.1C1245.5,324.2 1238.1,316.9 1234.5,312.2C1230.9,307.5 1225.5,301.8 1224.6,296.8Z"/>
<path fill="#b7d5e8" d="M1224.6,296.8C1223.7,291.7 1225.6,283.4 1228.5,278.5C1231.5,273.7 1238.8,268.8 1244.4,264.7C1250.1,260.5 1260.6,252.7 1266.2,250.8C1271.9,248.8 1278.1,250.3 1282.1,251.8C1286.1,253.3 1291,256.7 1293,260.7C1294.9,264.7 1293.8,273 1295,278.5C1296.2,284 1301.4,291.7 1300.9,297.4C1300.5,303 1295.4,310.4 1292,316.2C1288.6,322 1282.3,332.3 1278.1,336C1273.9,339.8 1267.9,340.7 1264.2,341C1260.5,341.3 1255.7,340 1253.3,338C1250.9,336.1 1251.2,332 1248.4,328.1C1245.5,324.2 1238.1,316.9 1234.5,312.2C1230.9,307.5 1225.5,301.8 1224.6,296.8Z"/>
<path fill="#b7d5e8" transform="translate(218.2,0)" d="M1224.6,296.8C1223.7,291.7 1225.6,283.4 1228.5,278.5C1231.5,273.7 1238.8,268.8 1244.4,264.7C1250.1,260.5 1260.6,252.7 1266.2,250.8C1271.9,248.8 1278.1,250.3 1282.1,251.8C1286.1,253.3 1291,256.7 1293,260.7C1294.9,264.7 1293.8,273 1295,278.5C1296.2,284 1301.4,291.7 1300.9,297.4C1300.5,303 1295.4,310.4 1292,316.2C1288.6,322 1282.3,332.3 1278.1,336C1273.9,339.8 1267.9,340.7 1264.2,341C1260.5,341.3 1255.7,340 1253.3,338C1250.9,336.1 1251.2,332 1248.4,328.1C1245.5,324.2 1238.1,316.9 1234.5,312.2C1230.9,307.5 1225.5,301.8 1224.6,296.8Z"/>
<path fill="#8dbddb" transform="translate(-218.2,0)" d="M1126.3,131.6C1125,129.1 1126.1,125.5 1128.4,123.3C1130.7,121.1 1137.5,118.2 1141.6,117C1145.6,115.9 1150.9,115.5 1155.4,115.6C1160,115.7 1168.3,116.2 1172.1,117.7C1175.8,119.3 1178.7,124 1180.4,126C1182.1,128.1 1183.6,128.3 1183.2,131.6C1182.8,134.9 1179.9,144.3 1177.6,148.2C1175.3,152.2 1170.4,156.6 1167.9,157.9C1165.4,159.3 1163.3,158.5 1161,157.2C1158.7,156 1156.2,152.2 1152.7,149.6C1149.1,147 1141.4,142.6 1137.4,139.9C1133.5,137.2 1127.7,134.1 1126.3,131.6Z"/>
<path fill="#8dbddb" d="M1126.3,131.6C1125,129.1 1126.1,125.5 1128.4,123.3C1130.7,121.1 1137.5,118.2 1141.6,117C1145.6,115.9 1150.9,115.5 1155.4,115.6C1160,115.7 1168.3,116.2 1172.1,117.7C1175.8,119.3 1178.7,124 1180.4,126C1182.1,128.1 1183.6,128.3 1183.2,131.6C1182.8,134.9 1179.9,144.3 1177.6,148.2C1175.3,152.2 1170.4,156.6 1167.9,157.9C1165.4,159.3 1163.3,158.5 1161,157.2C1158.7,156 1156.2,152.2 1152.7,149.6C1149.1,147 1141.4,142.6 1137.4,139.9C1133.5,137.2 1127.7,134.1 1126.3,131.6Z"/>
<path fill="#8dbddb" transform="translate(218.2,0)" d="M1126.3,131.6C1125,129.1 1126.1,125.5 1128.4,123.3C1130.7,121.1 1137.5,118.2 1141.6,117C1145.6,115.9 1150.9,115.5 1155.4,115.6C1160,115.7 1168.3,116.2 1172.1,117.7C1175.8,119.3 1178.7,124 1180.4,126C1182.1,128.1 1183.6,128.3 1183.2,131.6C1182.8,134.9 1179.9,144.3 1177.6,148.2C1175.3,152.2 1170.4,156.6 1167.9,157.9C1165.4,159.3 1163.3,158.5 1161,157.2C1158.7,156 1156.2,152.2 1152.7,149.6C1149.1,147 1141.4,142.6 1137.4,139.9C1133.5,137.2 1127.7,134.1 1126.3,131.6Z"/>
<path fill="#f5ab8d" transform="translate(-218.2,0)" d="M1237.8,133.4C1238.4,128.6 1242.1,125.8 1246.7,123.5C1251.4,121.1 1262.9,117.9 1268.6,117.5C1274.2,117.1 1280.3,118.4 1284.4,120.5C1288.6,122.6 1293.3,127.1 1296.3,131.4C1299.3,135.7 1302.8,144.5 1304.2,149.2C1305.7,154 1306.5,158.6 1306.2,163.1C1305.9,167.6 1305.5,175.5 1302.3,179C1299,182.4 1290.4,185.3 1284.4,185.9C1278.5,186.5 1268.3,184.9 1262.6,182.9C1257,181 1249.7,177.2 1246.7,173C1243.8,168.9 1244.1,161.1 1242.8,155.2C1241.4,149.2 1237.2,138.1 1237.8,133.4Z"/>
<path fill="#f5ab8d" d="M1237.8,133.4C1238.4,128.6 1242.1,125.8 1246.7,123.5C1251.4,121.1 1262.9,117.9 1268.6,117.5C1274.2,117.1 1280.3,118.4 1284.4,120.5C1288.6,122.6 1293.3,127.1 1296.3,131.4C1299.3,135.7 1302.8,144.5 1304.2,149.2C1305.7,154 1306.5,158.6 1306.2,163.1C1305.9,167.6 1305.5,175.5 1302.3,179C1299,182.4 1290.4,185.3 1284.4,185.9C1278.5,186.5 1268.3,184.9 1262.6,182.9C1257,181 1249.7,177.2 1246.7,173C1243.8,168.9 1244.1,161.1 1242.8,155.2C1241.4,149.2 1237.2,138.1 1237.8,133.4Z"/>
<path fill="#f5ab8d" transform="translate(218.2,0)" d="M1237.8,133.4C1238.4,128.6 1242.1,125.8 1246.7,123.5C1251.4,121.1 1262.9,117.9 1268.6,117.5C1274.2,117.1 1280.3,118.4 1284.4,120.5C1288.6,122.6 1293.3,127.1 1296.3,131.4C1299.3,135.7 1302.8,144.5 1304.2,149.2C1305.7,154 1306.5,158.6 1306.2,163.1C1305.9,167.6 1305.5,175.5 1302.3,179C1299,182.4 1290.4,185.3 1284.4,185.9C1278.5,186.5 1268.3,184.9 1262.6,182.9C1257,181 1249.7,177.2 1246.7,173C1243.8,168.9 1244.1,161.1 1242.8,155.2C1241.4,149.2 1237.2,138.1 1237.8,133.4Z"/>
<path fill="#f5ab8d" transform="translate(-218.2,0)" d="M1121.5,270.6C1121.8,265.3 1122.8,256.9 1125.4,252.8C1128.1,248.6 1134.9,245.2 1139.3,242.8C1143.8,240.5 1150.4,238 1155.2,237.3C1159.9,236.5 1165.7,236.8 1171,237.9C1176.4,239 1186.1,242.3 1190.9,244.8C1195.6,247.4 1202.2,250.9 1202.8,254.7C1203.4,258.6 1197.2,265.3 1194.8,270.6C1192.5,276 1189.6,284.8 1186.9,290.4C1184.2,296.1 1181.7,305 1177,308.3C1172.2,311.5 1161.4,312.8 1155.2,312.2C1148.9,311.6 1140.1,307.9 1135.3,304.3C1130.6,300.7 1125.5,293.5 1123.5,288.5C1121.4,283.4 1121.2,276 1121.5,270.6Z"/>
<path fill="#f5ab8d" d="M1121.5,270.6C1121.8,265.3 1122.8,256.9 1125.4,252.8C1128.1,248.6 1134.9,245.2 1139.3,242.8C1143.8,240.5 1150.4,238 1155.2,237.3C1159.9,236.5 1165.7,236.8 1171,237.9C1176.4,239 1186.1,242.3 1190.9,244.8C1195.6,247.4 1202.2,250.9 1202.8,254.7C1203.4,258.6 1197.2,265.3 1194.8,270.6C1192.5,276 1189.6,284.8 1186.9,290.4C1184.2,296.1 1181.7,305 1177,308.3C1172.2,311.5 1161.4,312.8 1155.2,312.2C1148.9,311.6 1140.1,307.9 1135.3,304.3C1130.6,300.7 1125.5,293.5 1123.5,288.5C1121.4,283.4 1121.2,276 1121.5,270.6Z"/>
<path fill="#f5ab8d" transform="translate(218.2,0)" d="M1121.5,270.6C1121.8,265.3 1122.8,256.9 1125.4,252.8C1128.1,248.6 1134.9,245.2 1139.3,242.8C1143.8,240.5 1150.4,238 1155.2,237.3C1159.9,236.5 1165.7,236.8 1171,237.9C1176.4,239 1186.1,242.3 1190.9,244.8C1195.6,247.4 1202.2,250.9 1202.8,254.7C1203.4,258.6 1197.2,265.3 1194.8,270.6C1192.5,276 1189.6,284.8 1186.9,290.4C1184.2,296.1 1181.7,305 1177,308.3C1172.2,311.5 1161.4,312.8 1155.2,312.2C1148.9,311.6 1140.1,307.9 1135.3,304.3C1130.6,300.7 1125.5,293.5 1123.5,288.5C1121.4,283.4 1121.2,276 1121.5,270.6Z"/>
<path fill="#8dbddb" transform="translate(-218.2,0)" d="M1233.5,296.8C1232.5,292.9 1233,284.7 1235.5,280.5C1238,276.3 1245.4,272.2 1250.4,268.6C1255.3,265.1 1263.7,258.2 1268.2,256.7C1272.7,255.2 1277.1,256.9 1280.1,258.7C1283.1,260.5 1286.5,264.2 1288,268.6C1289.5,273.1 1289.1,284.1 1290,288.5C1290.9,292.8 1294.6,294.1 1294,297.4C1293.4,300.6 1289.9,306.7 1286,310.3C1282.2,313.8 1273,320.3 1268.2,321.2C1263.4,322.1 1258.2,318.4 1254.3,316.2C1250.4,314 1245.5,309.2 1242.4,306.3C1239.3,303.4 1234.5,300.6 1233.5,296.8Z"/>
<path fill="#8dbddb" d="M1233.5,296.8C1232.5,292.9 1233,284.7 1235.5,280.5C1238,276.3 1245.4,272.2 1250.4,268.6C1255.3,265.1 1263.7,258.2 1268.2,256.7C1272.7,255.2 1277.1,256.9 1280.1,258.7C1283.1,260.5 1286.5,264.2 1288,268.6C1289.5,273.1 1289.1,284.1 1290,288.5C1290.9,292.8 1294.6,294.1 1294,297.4C1293.4,300.6 1289.9,306.7 1286,310.3C1282.2,313.8 1273,320.3 1268.2,321.2C1263.4,322.1 1258.2,318.4 1254.3,316.2C1250.4,314 1245.5,309.2 1242.4,306.3C1239.3,303.4 1234.5,300.6 1233.5,296.8Z"/>
<path fill="#8dbddb" transform="translate(218.2,0)" d="M1233.5,296.8C1232.5,292.9 1233,284.7 1235.5,280.5C1238,276.3 1245.4,272.2 1250.4,268.6C1255.3,265.1 1263.7,258.2 1268.2,256.7C1272.7,255.2 1277.1,256.9 1280.1,258.7C1283.1,260.5 1286.5,264.2 1288,268.6C1289.5,273.1 1289.1,284.1 1290,288.5C1290.9,292.8 1294.6,294.1 1294,297.4C1293.4,300.6 1289.9,306.7 1286,310.3C1282.2,313.8 1273,320.3 1268.2,321.2C1263.4,322.1 1258.2,318.4 1254.3,316.2C1250.4,314 1245.5,309.2 1242.4,306.3C1239.3,303.4 1234.5,300.6 1233.5,296.8Z"/>
<path fill="#6ca8d1" transform="translate(-218.2,0)" d="M1136.7,132.3C1136.1,130.4 1140.6,126.2 1143,124.7C1145.4,123.1 1149.8,122.1 1152.7,121.9C1155.6,121.7 1159.7,122.2 1162.4,123.3C1165.1,124.3 1169,127.5 1170.7,128.8C1172.4,130.2 1174.1,131 1173.5,132.3C1172.8,133.5 1168.8,136.1 1166.5,137.1C1164.2,138.2 1161.1,139.2 1158.2,139.2C1155.3,139.2 1150.4,138.2 1147.1,137.1C1143.9,136.1 1137.4,134.1 1136.7,132.3Z"/>
<path fill="#6ca8d1" d="M1136.7,132.3C1136.1,130.4 1140.6,126.2 1143,124.7C1145.4,123.1 1149.8,122.1 1152.7,121.9C1155.6,121.7 1159.7,122.2 1162.4,123.3C1165.1,124.3 1169,127.5 1170.7,128.8C1172.4,130.2 1174.1,131 1173.5,132.3C1172.8,133.5 1168.8,136.1 1166.5,137.1C1164.2,138.2 1161.1,139.2 1158.2,139.2C1155.3,139.2 1150.4,138.2 1147.1,137.1C1143.9,136.1 1137.4,134.1 1136.7,132.3Z"/>
<path fill="#6ca8d1" transform="translate(218.2,0)" d="M1136.7,132.3C1136.1,130.4 1140.6,126.2 1143,124.7C1145.4,123.1 1149.8,122.1 1152.7,121.9C1155.6,121.7 1159.7,122.2 1162.4,123.3C1165.1,124.3 1169,127.5 1170.7,128.8C1172.4,130.2 1174.1,131 1173.5,132.3C1172.8,133.5 1168.8,136.1 1166.5,137.1C1164.2,138.2 1161.1,139.2 1158.2,139.2C1155.3,139.2 1150.4,138.2 1147.1,137.1C1143.9,136.1 1137.4,134.1 1136.7,132.3Z"/>
<path fill="#ec8e6e" transform="translate(-218.2,0)" d="M1246.3,133.4C1246.3,128.3 1253,127 1256.7,125.4C1260.3,123.9 1266.7,122.9 1270.5,123.1C1274.4,123.2 1279.2,124.3 1282.4,126.4C1285.7,128.6 1290,133.9 1292.3,137.3C1294.7,140.8 1298,145.1 1298.3,149.2C1298.6,153.4 1295.5,161.2 1294.3,165.1C1293.1,169 1293,173.2 1290.4,175C1287.7,176.8 1280.9,177.3 1276.5,177C1272,176.7 1263.6,175.7 1260.6,173C1257.6,170.3 1258.8,165.1 1256.7,159.1C1254.5,153.2 1246.3,138.4 1246.3,133.4Z"/>
<path fill="#ec8e6e" d="M1246.3,133.4C1246.3,128.3 1253,127 1256.7,125.4C1260.3,123.9 1266.7,122.9 1270.5,123.1C1274.4,123.2 1279.2,124.3 1282.4,126.4C1285.7,128.6 1290,133.9 1292.3,137.3C1294.7,140.8 1298,145.1 1298.3,149.2C1298.6,153.4 1295.5,161.2 1294.3,165.1C1293.1,169 1293,173.2 1290.4,175C1287.7,176.8 1280.9,177.3 1276.5,177C1272,176.7 1263.6,175.7 1260.6,173C1257.6,170.3 1258.8,165.1 1256.7,159.1C1254.5,153.2 1246.3,138.4 1246.3,133.4Z"/>
<path fill="#ec8e6e" transform="translate(218.2,0)" d="M1246.3,133.4C1246.3,128.3 1253,127 1256.7,125.4C1260.3,123.9 1266.7,122.9 1270.5,123.1C1274.4,123.2 1279.2,124.3 1282.4,126.4C1285.7,128.6 1290,133.9 1292.3,137.3C1294.7,140.8 1298,145.1 1298.3,149.2C1298.6,153.4 1295.5,161.2 1294.3,165.1C1293.1,169 1293,173.2 1290.4,175C1287.7,176.8 1280.9,177.3 1276.5,177C1272,176.7 1263.6,175.7 1260.6,173C1257.6,170.3 1258.8,165.1 1256.7,159.1C1254.5,153.2 1246.3,138.4 1246.3,133.4Z"/>
<path fill="#ec8e6e" transform="translate(-218.2,0)" d="M1130.4,272.6C1130.7,268.4 1131.1,260.3 1133.4,256.7C1135.6,253.2 1140.8,250.3 1145.3,248.8C1149.7,247.3 1157.8,246.7 1163.1,246.8C1168.5,247 1176.3,248.5 1181,249.8C1185.6,251 1193.2,251.7 1193.8,255.1C1194.4,258.6 1187.4,267.6 1184.9,272.6C1182.4,277.6 1179.4,284.1 1177,288.5C1174.6,292.8 1173.2,299 1169.1,301.3C1164.9,303.7 1154.1,305.1 1149.2,304.3C1144.3,303.6 1139.1,299.4 1136.3,296.4C1133.6,293.4 1131.9,288.1 1131,284.5C1130.1,280.9 1130,276.8 1130.4,272.6Z"/>
<path fill="#ec8e6e" d="M1130.4,272.6C1130.7,268.4 1131.1,260.3 1133.4,256.7C1135.6,253.2 1140.8,250.3 1145.3,248.8C1149.7,247.3 1157.8,246.7 1163.1,246.8C1168.5,247 1176.3,248.5 1181,249.8C1185.6,251 1193.2,251.7 1193.8,255.1C1194.4,258.6 1187.4,267.6 1184.9,272.6C1182.4,277.6 1179.4,284.1 1177,288.5C1174.6,292.8 1173.2,299 1169.1,301.3C1164.9,303.7 1154.1,305.1 1149.2,304.3C1144.3,303.6 1139.1,299.4 1136.3,296.4C1133.6,293.4 1131.9,288.1 1131,284.5C1130.1,280.9 1130,276.8 1130.4,272.6Z"/>
<path fill="#ec8e6e" transform="translate(218.2,0)" d="M1130.4,272.6C1130.7,268.4 1131.1,260.3 1133.4,256.7C1135.6,253.2 1140.8,250.3 1145.3,248.8C1149.7,247.3 1157.8,246.7 1163.1,246.8C1168.5,247 1176.3,248.5 1181,249.8C1185.6,251 1193.2,251.7 1193.8,255.1C1194.4,258.6 1187.4,267.6 1184.9,272.6C1182.4,277.6 1179.4,284.1 1177,288.5C1174.6,292.8 1173.2,299 1169.1,301.3C1164.9,303.7 1154.1,305.1 1149.2,304.3C1144.3,303.6 1139.1,299.4 1136.3,296.4C1133.6,293.4 1131.9,288.1 1131,284.5C1130.1,280.9 1130,276.8 1130.4,272.6Z"/>
<path fill="#6ca8d1" transform="translate(-218.2,0)" d="M1243.4,292.8C1243.3,289.3 1243.2,280.7 1245.4,276.9C1247.6,273.2 1254.6,269.5 1258.3,268C1262,266.5 1266.9,265.2 1270.2,267C1273.5,268.9 1278,276.1 1280.1,280.5C1282.2,285 1284.1,292.9 1284.1,296.8C1284.1,300.6 1282.8,304.1 1280.1,306.3C1277.4,308.5 1270.1,311 1266.2,311.3C1262.3,311.5 1257.3,309.9 1254.3,308.3C1251.3,306.6 1248,302.7 1246.4,300.3C1244.7,298 1243.6,296.3 1243.4,292.8Z"/>
<path fill="#6ca8d1" d="M1243.4,292.8C1243.3,289.3 1243.2,280.7 1245.4,276.9C1247.6,273.2 1254.6,269.5 1258.3,268C1262,266.5 1266.9,265.2 1270.2,267C1273.5,268.9 1278,276.1 1280.1,280.5C1282.2,285 1284.1,292.9 1284.1,296.8C1284.1,300.6 1282.8,304.1 1280.1,306.3C1277.4,308.5 1270.1,311 1266.2,311.3C1262.3,311.5 1257.3,309.9 1254.3,308.3C1251.3,306.6 1248,302.7 1246.4,300.3C1244.7,298 1243.6,296.3 1243.4,292.8Z"/>
<path fill="#6ca8d1" transform="translate(218.2,0)" d="M1243.4,292.8C1243.3,289.3 1243.2,280.7 1245.4,276.9C1247.6,273.2 1254.6,269.5 1258.3,268C1262,266.5 1266.9,265.2 1270.2,267C1273.5,268.9 1278,276.1 1280.1,280.5C1282.2,285 1284.1,292.9 1284.1,296.8C1284.1,300.6 1282.8,304.1 1280.1,306.3C1277.4,308.5 1270.1,311 1266.2,311.3C1262.3,311.5 1257.3,309.9 1254.3,308.3C1251.3,306.6 1248,302.7 1246.4,300.3C1244.7,298 1243.6,296.3 1243.4,292.8Z"/>
<path fill="#dc6b55" transform="translate(-218.2,0)" d="M1258.6,135.3C1259.7,133.9 1263.9,131.8 1266.6,131.4C1269.2,130.9 1273.5,130.9 1276.5,132.4C1279.5,133.9 1284.9,138.5 1286.4,141.3C1287.9,144.1 1287.7,148.8 1286.8,151.2C1285.9,153.6 1282.6,156.3 1280.5,157.2C1278.3,158.1 1274.9,158.3 1272.5,157.2C1270.1,156 1266.5,151.6 1264.6,149.2C1262.7,146.8 1260.5,143.4 1259.6,141.3C1258.7,139.2 1257.6,136.8 1258.6,135.3Z"/>
<path fill="#dc6b55" d="M1258.6,135.3C1259.7,133.9 1263.9,131.8 1266.6,131.4C1269.2,130.9 1273.5,130.9 1276.5,132.4C1279.5,133.9 1284.9,138.5 1286.4,141.3C1287.9,144.1 1287.7,148.8 1286.8,151.2C1285.9,153.6 1282.6,156.3 1280.5,157.2C1278.3,158.1 1274.9,158.3 1272.5,157.2C1270.1,156 1266.5,151.6 1264.6,149.2C1262.7,146.8 1260.5,143.4 1259.6,141.3C1258.7,139.2 1257.6,136.8 1258.6,135.3Z"/>
<path fill="#dc6b55" transform="translate(218.2,0)" d="M1258.6,135.3C1259.7,133.9 1263.9,131.8 1266.6,131.4C1269.2,130.9 1273.5,130.9 1276.5,132.4C1279.5,133.9 1284.9,138.5 1286.4,141.3C1287.9,144.1 1287.7,148.8 1286.8,151.2C1285.9,153.6 1282.6,156.3 1280.5,157.2C1278.3,158.1 1274.9,158.3 1272.5,157.2C1270.1,156 1266.5,151.6 1264.6,149.2C1262.7,146.8 1260.5,143.4 1259.6,141.3C1258.7,139.2 1257.6,136.8 1258.6,135.3Z"/>
<path fill="#dc6b55" transform="translate(-218.2,0)" d="M1141.3,266.6C1141.6,262.5 1144.6,258.7 1147.2,256.7C1149.9,254.8 1155.7,254 1159.1,253.8C1162.6,253.5 1168.4,252.9 1170,255.1C1171.7,257.4 1171.1,264.8 1170,268.6C1169,272.4 1165.6,277.4 1163.1,280.5C1160.6,283.6 1155.9,288.8 1153.2,289.4C1150.5,290 1147,287.9 1145.3,284.5C1143.5,281.1 1141,270.8 1141.3,266.6Z"/>
<path fill="#dc6b55" d="M1141.3,266.6C1141.6,262.5 1144.6,258.7 1147.2,256.7C1149.9,254.8 1155.7,254 1159.1,253.8C1162.6,253.5 1168.4,252.9 1170,255.1C1171.7,257.4 1171.1,264.8 1170,268.6C1169,272.4 1165.6,277.4 1163.1,280.5C1160.6,283.6 1155.9,288.8 1153.2,289.4C1150.5,290 1147,287.9 1145.3,284.5C1143.5,281.1 1141,270.8 1141.3,266.6Z"/>
<path fill="#dc6b55" transform="translate(218.2,0)" d="M1141.3,266.6C1141.6,262.5 1144.6,258.7 1147.2,256.7C1149.9,254.8 1155.7,254 1159.1,253.8C1162.6,253.5 1168.4,252.9 1170,255.1C1171.7,257.4 1171.1,264.8 1170,268.6C1169,272.4 1165.6,277.4 1163.1,280.5C1160.6,283.6 1155.9,288.8 1153.2,289.4C1150.5,290 1147,287.9 1145.3,284.5C1143.5,281.1 1141,270.8 1141.3,266.6Z"/>
</g>
<rect x="1185.9" y="52.2" width="5.52" height="19.9" fill="#2166ac"/>
<rect x="1191.2" y="52.2" width="11.37" height="19.9" fill="#387bb8"/>
<rect x="1202.2" y="52.2" width="11.22" height="19.9" fill="#5293c6"/>
<rect x="1213.2" y="52.2" width="11.37" height="19.9" fill="#6ca8d1"/>
<rect x="1224.2" y="52.2" width="11.22" height="19.9" fill="#8dbddb"/>
<rect x="1235.1" y="52.2" width="11.22" height="19.9" fill="#b7d5e8"/>
<rect x="1246.1" y="52.2" width="11.22" height="19.9" fill="#dfecf5"/>
<rect x="1257" y="52.2" width="44.12" height="19.9" fill="#ffffff"/>
<rect x="1300.8" y="52.2" width="11.37" height="19.9" fill="#fee5d9"/>
<rect x="1311.9" y="52.2" width="11.37" height="19.9" fill="#fac7b1"/>
<rect x="1322.9" y="52.2" width="11.37" height="19.9" fill="#f5ab8d"/>
<rect x="1334" y="52.2" width="11.37" height="19.9" fill="#ec8e6e"/>
<rect x="1345.1" y="52.2" width="11.37" height="19.9" fill="#dc6b55"/>
<rect x="1356.2" y="52.2" width="11.06" height="19.9" fill="#c63e3d"/>
<rect x="1366.9" y="52.2" width="5.36" height="19.9" fill="#b2182b"/>
<text class="cb" x="1191.6" y="87.8">-0.004</text>
<text class="cb" x="1246.5" y="87.8">-0.0015</text>
<text class="cb" x="1300.8" y="87.8">0.001</text>
<text class="cb" x="1355.9" y="87.8">0.0035</text>
<g clip-path="url(#clip-c)">
<line x1="1092.7" y1="167.5" x2="1109.6" y2="161.6" stroke="#000" stroke-width="4.6"/>
<line x1="1122.2" y1="156.5" x2="1139.9" y2="151.7" stroke="#000" stroke-width="4.6"/>
<line x1="1152.4" y1="147.1" x2="1170" y2="143.4" stroke="#000" stroke-width="4.6"/>
<line x1="1182.9" y1="139.9" x2="1200.9" y2="136.4" stroke="#000" stroke-width="4.6"/>
<line x1="1213.9" y1="134.4" x2="1225.9" y2="132.3" stroke="#000" stroke-width="4.6"/>
<line x1="1319.7" y1="167.1" x2="1336.6" y2="161.1" stroke="#000" stroke-width="4.6"/>
<line x1="1349.5" y1="156.6" x2="1366.1" y2="151.2" stroke="#000" stroke-width="4.6"/>
<line x1="1379.6" y1="146.8" x2="1396.4" y2="143.3" stroke="#000" stroke-width="4.6"/>
<line x1="1409.7" y1="139.3" x2="1427.2" y2="135.7" stroke="#000" stroke-width="4.6"/>
<line x1="1440.7" y1="133.8" x2="1452.6" y2="131.8" stroke="#000" stroke-width="4.6"/>
<line x1="1211.7" y1="263" x2="1228.9" y2="268.6" stroke="#000" stroke-width="4.6"/>
<line x1="1242" y1="271.9" x2="1259.3" y2="275.9" stroke="#000" stroke-width="4.6"/>
<line x1="1272.6" y1="279.3" x2="1290" y2="282.8" stroke="#000" stroke-width="4.6"/>
<line x1="1303.5" y1="285.2" x2="1321.3" y2="287.2" stroke="#000" stroke-width="4.6"/>
<line x1="1334.6" y1="288.4" x2="1346.5" y2="289.8" stroke="#000" stroke-width="4.6"/>
<path d="M1157.1,138.1 L1167.7,151.4 M1157.1,151.4 L1167.7,138.1" stroke="#ff0000" stroke-width="2.25" fill="none"/>
<path d="M1383.8,140 L1394.4,153.3 M1383.8,153.3 L1394.4,140" stroke="#ff0000" stroke-width="2.25" fill="none"/>
<path d="M1272.4,273.2 L1283,286.5 M1272.4,286.5 L1283,273.2" stroke="#ff0000" stroke-width="2.25" fill="none"/>
<path d="M1268.4,152.4 L1281,152.4 M1274.7,146.1 L1274.7,158.7" stroke="#ff0000" stroke-width="2.0" fill="none"/>
<path d="M1157.2,269 L1169.8,269 M1163.5,262.7 L1163.5,275.3" stroke="#ff0000" stroke-width="2.0" fill="none"/>
<path d="M1376.6,269.9 L1389.2,269.9 M1382.9,263.6 L1382.9,276.2" stroke="#ff0000" stroke-width="2.0" fill="none"/>
</g>
<line x1="1059.8" y1="384.8" x2="1059.8" y2="377.2" stroke="#000" stroke-width="1.7"/>
<line x1="1070.7" y1="384.8" x2="1070.7" y2="380.4" stroke="#222" stroke-width="0.75"/>
<line x1="1081.6" y1="384.8" x2="1081.6" y2="380.4" stroke="#222" stroke-width="0.75"/>
<line x1="1092.5" y1="384.8" x2="1092.5" y2="380.4" stroke="#222" stroke-width="0.75"/>
<line x1="1103.5" y1="384.8" x2="1103.5" y2="380.4" stroke="#222" stroke-width="0.75"/>
<line x1="1114.4" y1="384.8" x2="1114.4" y2="377.2" stroke="#000" stroke-width="1.7"/>
<line x1="1125.3" y1="384.8" x2="1125.3" y2="380.4" stroke="#222" stroke-width="0.75"/>
<line x1="1136.2" y1="384.8" x2="1136.2" y2="380.4" stroke="#222" stroke-width="0.75"/>
<line x1="1147.1" y1="384.8" x2="1147.1" y2="380.4" stroke="#222" stroke-width="0.75"/>
<line x1="1158" y1="384.8" x2="1158" y2="380.4" stroke="#222" stroke-width="0.75"/>
<line x1="1168.9" y1="384.8" x2="1168.9" y2="377.2" stroke="#000" stroke-width="1.7"/>
<line x1="1179.8" y1="384.8" x2="1179.8" y2="380.4" stroke="#222" stroke-width="0.75"/>
<line x1="1190.8" y1="384.8" x2="1190.8" y2="380.4" stroke="#222" stroke-width="0.75"/>
<line x1="1201.7" y1="384.8" x2="1201.7" y2="380.4" stroke="#222" stroke-width="0.75"/>
<line x1="1212.6" y1="384.8" x2="1212.6" y2="380.4" stroke="#222" stroke-width="0.75"/>
<line x1="1223.5" y1="384.8" x2="1223.5" y2="377.2" stroke="#000" stroke-width="1.7"/>
<line x1="1234.4" y1="384.8" x2="1234.4" y2="380.4" stroke="#222" stroke-width="0.75"/>
<line x1="1245.3" y1="384.8" x2="1245.3" y2="380.4" stroke="#222" stroke-width="0.75"/>
<line x1="1256.2" y1="384.8" x2="1256.2" y2="380.4" stroke="#222" stroke-width="0.75"/>
<line x1="1267.1" y1="384.8" x2="1267.1" y2="380.4" stroke="#222" stroke-width="0.75"/>
<line x1="1278" y1="384.8" x2="1278" y2="377.2" stroke="#000" stroke-width="1.7"/>
<line x1="1289" y1="384.8" x2="1289" y2="380.4" stroke="#222" stroke-width="0.75"/>
<line x1="1299.9" y1="384.8" x2="1299.9" y2="380.4" stroke="#222" stroke-width="0.75"/>
<line x1="1310.8" y1="384.8" x2="1310.8" y2="380.4" stroke="#222" stroke-width="0.75"/>
<line x1="1321.7" y1="384.8" x2="1321.7" y2="380.4" stroke="#222" stroke-width="0.75"/>
<line x1="1332.6" y1="384.8" x2="1332.6" y2="377.2" stroke="#000" stroke-width="1.7"/>
<line x1="1343.5" y1="384.8" x2="1343.5" y2="380.4" stroke="#222" stroke-width="0.75"/>
<line x1="1354.4" y1="384.8" x2="1354.4" y2="380.4" stroke="#222" stroke-width="0.75"/>
<line x1="1365.3" y1="384.8" x2="1365.3" y2="380.4" stroke="#222" stroke-width="0.75"/>
<line x1="1376.3" y1="384.8" x2="1376.3" y2="380.4" stroke="#222" stroke-width="0.75"/>
<line x1="1387.2" y1="384.8" x2="1387.2" y2="377.2" stroke="#000" stroke-width="1.7"/>
<line x1="1398.1" y1="384.8" x2="1398.1" y2="380.4" stroke="#222" stroke-width="0.75"/>
<line x1="1409" y1="384.8" x2="1409" y2="380.4" stroke="#222" stroke-width="0.75"/>
<line x1="1419.9" y1="384.8" x2="1419.9" y2="380.4" stroke="#222" stroke-width="0.75"/>
<line x1="1430.8" y1="384.8" x2="1430.8" y2="380.4" stroke="#222" stroke-width="0.75"/>
<line x1="1441.7" y1="384.8" x2="1441.7" y2="377.2" stroke="#000" stroke-width="1.7"/>
<line x1="1452.7" y1="384.8" x2="1452.7" y2="380.4" stroke="#222" stroke-width="0.75"/>
<line x1="1463.6" y1="384.8" x2="1463.6" y2="380.4" stroke="#222" stroke-width="0.75"/>
<line x1="1474.5" y1="384.8" x2="1474.5" y2="380.4" stroke="#222" stroke-width="0.75"/>
<line x1="1485.4" y1="384.8" x2="1485.4" y2="380.4" stroke="#222" stroke-width="0.75"/>
<line x1="1496.3" y1="384.8" x2="1496.3" y2="377.2" stroke="#000" stroke-width="1.7"/>
<line x1="1059.8" y1="49.8" x2="1064.2" y2="49.8" stroke="#222" stroke-width="0.75"/>
<line x1="1059.8" y1="59.5" x2="1064.2" y2="59.5" stroke="#222" stroke-width="0.75"/>
<line x1="1059.8" y1="69.2" x2="1067.4" y2="69.2" stroke="#000" stroke-width="1.7"/>
<line x1="1059.8" y1="78.9" x2="1064.2" y2="78.9" stroke="#222" stroke-width="0.75"/>
<line x1="1059.8" y1="88.6" x2="1064.2" y2="88.6" stroke="#222" stroke-width="0.75"/>
<line x1="1059.8" y1="98.3" x2="1064.2" y2="98.3" stroke="#222" stroke-width="0.75"/>
<line x1="1059.8" y1="108" x2="1064.2" y2="108" stroke="#222" stroke-width="0.75"/>
<line x1="1059.8" y1="117.7" x2="1067.4" y2="117.7" stroke="#000" stroke-width="1.7"/>
<line x1="1059.8" y1="127.4" x2="1064.2" y2="127.4" stroke="#222" stroke-width="0.75"/>
<line x1="1059.8" y1="137.2" x2="1064.2" y2="137.2" stroke="#222" stroke-width="0.75"/>
<line x1="1059.8" y1="146.9" x2="1064.2" y2="146.9" stroke="#222" stroke-width="0.75"/>
<line x1="1059.8" y1="156.6" x2="1064.2" y2="156.6" stroke="#222" stroke-width="0.75"/>
<line x1="1059.8" y1="166.3" x2="1067.4" y2="166.3" stroke="#000" stroke-width="1.7"/>
<line x1="1059.8" y1="176" x2="1064.2" y2="176" stroke="#222" stroke-width="0.75"/>
<line x1="1059.8" y1="185.7" x2="1064.2" y2="185.7" stroke="#222" stroke-width="0.75"/>
<line x1="1059.8" y1="195.4" x2="1064.2" y2="195.4" stroke="#222" stroke-width="0.75"/>
<line x1="1059.8" y1="205.1" x2="1064.2" y2="205.1" stroke="#222" stroke-width="0.75"/>
<line x1="1059.8" y1="214.9" x2="1067.4" y2="214.9" stroke="#000" stroke-width="1.7"/>
<line x1="1059.8" y1="224.6" x2="1064.2" y2="224.6" stroke="#222" stroke-width="0.75"/>
<line x1="1059.8" y1="234.3" x2="1064.2" y2="234.3" stroke="#222" stroke-width="0.75"/>
<line x1="1059.8" y1="244" x2="1064.2" y2="244" stroke="#222" stroke-width="0.75"/>
<line x1="1059.8" y1="253.7" x2="1064.2" y2="253.7" stroke="#222" stroke-width="0.75"/>
<line x1="1059.8" y1="263.4" x2="1067.4" y2="263.4" stroke="#000" stroke-width="1.7"/>
<line x1="1059.8" y1="273.1" x2="1064.2" y2="273.1" stroke="#222" stroke-width="0.75"/>
<line x1="1059.8" y1="282.8" x2="1064.2" y2="282.8" stroke="#222" stroke-width="0.75"/>
<line x1="1059.8" y1="292.5" x2="1064.2" y2="292.5" stroke="#222" stroke-width="0.75"/>
<line x1="1059.8" y1="302.3" x2="1064.2" y2="302.3" stroke="#222" stroke-width="0.75"/>
<line x1="1059.8" y1="312" x2="1067.4" y2="312" stroke="#000" stroke-width="1.7"/>
<line x1="1059.8" y1="321.7" x2="1064.2" y2="321.7" stroke="#222" stroke-width="0.75"/>
<line x1="1059.8" y1="331.4" x2="1064.2" y2="331.4" stroke="#222" stroke-width="0.75"/>
<line x1="1059.8" y1="341.1" x2="1064.2" y2="341.1" stroke="#222" stroke-width="0.75"/>
<line x1="1059.8" y1="350.8" x2="1064.2" y2="350.8" stroke="#222" stroke-width="0.75"/>
<line x1="1059.8" y1="360.5" x2="1067.4" y2="360.5" stroke="#000" stroke-width="1.7"/>
<line x1="1059.8" y1="370.2" x2="1064.2" y2="370.2" stroke="#222" stroke-width="0.75"/>
<line x1="1059.8" y1="379.9" x2="1064.2" y2="379.9" stroke="#222" stroke-width="0.75"/>
<line x1="1059.8" y1="389.7" x2="1064.2" y2="389.7" stroke="#222" stroke-width="0.75"/>
<rect x="1059.8" y="44.9" width="436.5" height="339.9" fill="none" stroke="#000" stroke-width="1.65"/>
<text class="tk" text-anchor="middle" x="1059.5" y="402.1">2</text>
<text class="tk" text-anchor="middle" x="1114.1" y="402.1">1.5</text>
<text class="tk" text-anchor="middle" x="1168.6" y="402.1">1</text>
<text class="tk" text-anchor="middle" x="1223.2" y="402.1">0.5</text>
<text class="tk" text-anchor="middle" x="1277.8" y="402.1">0</text>
<text class="tk" text-anchor="middle" x="1331.1" y="402.1">-0.5</text>
<text class="tk" text-anchor="middle" x="1385.7" y="402.1">-1</text>
<text class="tk" text-anchor="middle" x="1440.2" y="402.1">-1.5</text>
<text class="tk" text-anchor="middle" x="1494.8" y="402.1">-2</text>
<text class="tk" text-anchor="end" x="1054.8" y="367.4">-3</text>
<text class="tk" text-anchor="end" x="1054.8" y="318.9">-2</text>
<text class="tk" text-anchor="end" x="1054.8" y="270.3">-1</text>
<text class="tk" text-anchor="end" x="1054.8" y="221.8">0</text>
<text class="tk" text-anchor="end" x="1054.8" y="173.2">1</text>
<text class="tk" text-anchor="end" x="1054.8" y="124.6">2</text>
<text class="tk" text-anchor="end" x="1054.8" y="76.1">3</text>
<text class="sf" font-size="24" text-anchor="middle" x="1280.5" y="420">ϕ(π)</text>
<text class="sf" font-size="24" font-style="italic" text-anchor="middle" transform="translate(1031.4,213.7) rotate(-90)">y<tspan font-size="21" dy="-3.2">*</tspan></text>
<text class="sf" font-size="26" x="1077.1" y="79.1">(c)</text>
<text class="sf" font-size="28" x="1238.5" y="30.1" textLength="78" lengthAdjust="spacingAndGlyphs"><tspan font-style="italic">x</tspan>* = 40</text>
</g>
<g id="panel-d">
<clipPath id="clip-d"><rect x="57" y="444.9" width="407.2" height="339.8"/></clipPath>
<g clip-path="url(#clip-d)">
<path fill="#ecf4f9" transform="translate(-203.6,0)" d="M101.6,441C86.3,447.6 101.7,474.2 102.6,484.7C103.5,495.1 107.7,502.2 107.6,510.4C107.5,518.7 102.6,530.1 101.9,539.7C101.3,549.2 102.5,567 103.3,574.3C104.1,581.6 104.6,583 107.5,588.2C110.4,593.4 118.4,604.7 122.7,609C127.1,613.2 131.2,615.1 136.6,616.6C142,618.2 152.5,619.4 158.8,619.4C165,619.4 172.1,618.3 178.2,616.6C184.2,615 194.8,610.5 199,608.3C203.1,606.1 204.2,606.1 205.9,602C207.6,598 209.6,591.6 210,581.2C210.5,570.8 208.2,543.3 208.7,532.7C209.1,522.1 212.1,513.9 212.8,510.5C213.6,507.2 214.3,514.3 213.6,510.4C213,506.5 210,495.1 208.7,484.7C207.3,474.2 220.8,447.6 204.7,441C188.7,434.5 116.9,434.5 101.6,441Z"/>
<path fill="#ecf4f9" d="M101.6,441C86.3,447.6 101.7,474.2 102.6,484.7C103.5,495.1 107.7,502.2 107.6,510.4C107.5,518.7 102.6,530.1 101.9,539.7C101.3,549.2 102.5,567 103.3,574.3C104.1,581.6 104.6,583 107.5,588.2C110.4,593.4 118.4,604.7 122.7,609C127.1,613.2 131.2,615.1 136.6,616.6C142,618.2 152.5,619.4 158.8,619.4C165,619.4 172.1,618.3 178.2,616.6C184.2,615 194.8,610.5 199,608.3C203.1,606.1 204.2,606.1 205.9,602C207.6,598 209.6,591.6 210,581.2C210.5,570.8 208.2,543.3 208.7,532.7C209.1,522.1 212.1,513.9 212.8,510.5C213.6,507.2 214.3,514.3 213.6,510.4C213,506.5 210,495.1 208.7,484.7C207.3,474.2 220.8,447.6 204.7,441C188.7,434.5 116.9,434.5 101.6,441Z"/>
<path fill="#ecf4f9" transform="translate(203.6,0)" d="M101.6,441C86.3,447.6 101.7,474.2 102.6,484.7C103.5,495.1 107.7,502.2 107.6,510.4C107.5,518.7 102.6,530.1 101.9,539.7C101.3,549.2 102.5,567 103.3,574.3C104.1,581.6 104.6,583 107.5,588.2C110.4,593.4 118.4,604.7 122.7,609C127.1,613.2 131.2,615.1 136.6,616.6C142,618.2 152.5,619.4 158.8,619.4C165,619.4 172.1,618.3 178.2,616.6C184.2,615 194.8,610.5 199,608.3C203.1,606.1 204.2,606.1 205.9,602C207.6,598 209.6,591.6 210,581.2C210.5,570.8 208.2,543.3 208.7,532.7C209.1,522.1 212.1,513.9 212.8,510.5C213.6,507.2 214.3,514.3 213.6,510.4C213,506.5 210,495.1 208.7,484.7C207.3,474.2 220.8,447.6 204.7,441C188.7,434.5 116.9,434.5 101.6,441Z"/>
<path fill="#fef0e9" transform="translate(-203.6,0)" d="M254.3,480.7C259.6,480.8 268.8,484.1 274.1,487.6C279.5,491.2 286.6,499 290,504.5C293.4,510 296,518 296.9,524.3C297.8,530.6 295.5,539.1 296,546.6C296.5,554.1 299.1,566.4 300.1,574.3C301.2,582.2 302.9,593.9 302.9,599.3C302.9,604.7 304.3,608.5 300.1,610.3C296,612.2 285.2,611.7 275.2,611.7C265.2,611.7 242.6,609.9 233.6,610.3C224.7,610.8 218.5,614.7 215.6,614.5C212.7,614.3 214.5,615 214.2,609C213.9,602.9 213.3,584.7 213.5,574.3C213.7,563.9 213,550.7 215.6,539.7C218.1,528.6 227.1,508.5 230.5,500.5C233.9,492.6 234.8,489.6 238.4,486.6C242,483.7 248.9,480.5 254.3,480.7Z"/>
<path fill="#fef0e9" d="M254.3,480.7C259.6,480.8 268.8,484.1 274.1,487.6C279.5,491.2 286.6,499 290,504.5C293.4,510 296,518 296.9,524.3C297.8,530.6 295.5,539.1 296,546.6C296.5,554.1 299.1,566.4 300.1,574.3C301.2,582.2 302.9,593.9 302.9,599.3C302.9,604.7 304.3,608.5 300.1,610.3C296,612.2 285.2,611.7 275.2,611.7C265.2,611.7 242.6,609.9 233.6,610.3C224.7,610.8 218.5,614.7 215.6,614.5C212.7,614.3 214.5,615 214.2,609C213.9,602.9 213.3,584.7 213.5,574.3C213.7,563.9 213,550.7 215.6,539.7C218.1,528.6 227.1,508.5 230.5,500.5C233.9,492.6 234.8,489.6 238.4,486.6C242,483.7 248.9,480.5 254.3,480.7Z"/>
<path fill="#fef0e9" transform="translate(203.6,0)" d="M254.3,480.7C259.6,480.8 268.8,484.1 274.1,487.6C279.5,491.2 286.6,499 290,504.5C293.4,510 296,518 296.9,524.3C297.8,530.6 295.5,539.1 296,546.6C296.5,554.1 299.1,566.4 300.1,574.3C301.2,582.2 302.9,593.9 302.9,599.3C302.9,604.7 304.3,608.5 300.1,610.3C296,612.2 285.2,611.7 275.2,611.7C265.2,611.7 242.6,609.9 233.6,610.3C224.7,610.8 218.5,614.7 215.6,614.5C212.7,614.3 214.5,615 214.2,609C213.9,602.9 213.3,584.7 213.5,574.3C213.7,563.9 213,550.7 215.6,539.7C218.1,528.6 227.1,508.5 230.5,500.5C233.9,492.6 234.8,489.6 238.4,486.6C242,483.7 248.9,480.5 254.3,480.7Z"/>
<path fill="#fef0e9" transform="translate(-203.6,0)" d="M110.2,666.5C110.6,662.3 112.2,648 113,641.6C113.9,635.1 110.2,626.5 115.8,623.6C121.4,620.7 141.1,622.8 150.4,622.2C159.8,621.6 169.9,620.7 178.2,619.4C186.5,618.2 199.7,615.9 205.9,613.9C212.1,611.8 216.4,608.5 219.8,605.5C223.1,602.6 224.7,596.1 228.1,594.5C231.4,592.8 241.1,592.4 241.9,594.5C242.8,596.5 237.6,604.8 233.6,608.3C229.7,611.9 220,614.1 215.6,618C211.2,622 206.8,630.1 204.5,634.7C202.2,639.2 201.8,643.3 200.3,648.5C198.9,653.7 195.6,660.8 194.8,669.3C194,677.8 196,696.3 194.8,705.3C193.6,714.2 189.8,722.5 186.9,729.1C183.9,735.6 179.1,744.7 175,748.9C170.8,753 163.6,755.9 159.1,756.8C154.6,757.7 148.8,756.9 145.2,754.8C141.7,752.7 138.3,748.9 135.3,742.9C132.3,737 128.7,723.2 125.4,715.2C122.1,707.1 115.7,696.2 113.5,689.4C111.3,682.6 111,673 110.5,669.6C110,666.1 109.9,670.7 110.2,666.5Z"/>
<path fill="#fef0e9" d="M110.2,666.5C110.6,662.3 112.2,648 113,641.6C113.9,635.1 110.2,626.5 115.8,623.6C121.4,620.7 141.1,622.8 150.4,622.2C159.8,621.6 169.9,620.7 178.2,619.4C186.5,618.2 199.7,615.9 205.9,613.9C212.1,611.8 216.4,608.5 219.8,605.5C223.1,602.6 224.7,596.1 228.1,594.5C231.4,592.8 241.1,592.4 241.9,594.5C242.8,596.5 237.6,604.8 233.6,608.3C229.7,611.9 220,614.1 215.6,618C211.2,622 206.8,630.1 204.5,634.7C202.2,639.2 201.8,643.3 200.3,648.5C198.9,653.7 195.6,660.8 194.8,669.3C194,677.8 196,696.3 194.8,705.3C193.6,714.2 189.8,722.5 186.9,729.1C183.9,735.6 179.1,744.7 175,748.9C170.8,753 163.6,755.9 159.1,756.8C154.6,757.7 148.8,756.9 145.2,754.8C141.7,752.7 138.3,748.9 135.3,742.9C132.3,737 128.7,723.2 125.4,715.2C122.1,707.1 115.7,696.2 113.5,689.4C111.3,682.6 111,673 110.5,669.6C110,666.1 109.9,670.7 110.2,666.5Z"/>
<path fill="#fef0e9" transform="translate(203.6,0)" d="M110.2,666.5C110.6,662.3 112.2,648 113,641.6C113.9,635.1 110.2,626.5 115.8,623.6C121.4,620.7 141.1,622.8 150.4,622.2C159.8,621.6 169.9,620.7 178.2,619.4C186.5,618.2 199.7,615.9 205.9,613.9C212.1,611.8 216.4,608.5 219.8,605.5C223.1,602.6 224.7,596.1 228.1,594.5C231.4,592.8 241.1,592.4 241.9,594.5C242.8,596.5 237.6,604.8 233.6,608.3C229.7,611.9 220,614.1 215.6,618C211.2,622 206.8,630.1 204.5,634.7C202.2,639.2 201.8,643.3 200.3,648.5C198.9,653.7 195.6,660.8 194.8,669.3C194,677.8 196,696.3 194.8,705.3C193.6,714.2 189.8,722.5 186.9,729.1C183.9,735.6 179.1,744.7 175,748.9C170.8,753 163.6,755.9 159.1,756.8C154.6,757.7 148.8,756.9 145.2,754.8C141.7,752.7 138.3,748.9 135.3,742.9C132.3,737 128.7,723.2 125.4,715.2C122.1,707.1 115.7,696.2 113.5,689.4C111.3,682.6 111,673 110.5,669.6C110,666.1 109.9,670.7 110.2,666.5Z"/>
<path fill="#ecf4f9" transform="translate(-203.6,0)" d="M201,672.1C201.5,667.9 202.7,648.9 204.5,641.6C206.3,634.3 208.5,628.1 212.8,623.6C217.2,619 226.3,613.5 233.6,611.1C240.9,608.7 253,607.8 261.3,607.6C269.7,607.4 282.5,608.6 289.1,609.7C295.6,610.8 301.3,609.8 305,615.2C308.7,620.7 312.7,636.1 313.8,645.8C314.8,655.4 311.8,667 311.8,679.5C311.8,692 314.2,714.2 313.8,729.1C313.3,743.9 309.7,768.2 308.8,778.6C307.9,789 323.4,795.5 307.8,798.5C292.2,801.4 220.2,801.4 204.7,798.5C189.2,795.5 204.4,790.5 204.7,778.6C205,766.7 207.1,735.5 206.7,719.1C206.2,702.8 202.6,676.6 201.7,669.6C200.9,662.5 200.6,676.3 201,672.1Z"/>
<path fill="#ecf4f9" d="M201,672.1C201.5,667.9 202.7,648.9 204.5,641.6C206.3,634.3 208.5,628.1 212.8,623.6C217.2,619 226.3,613.5 233.6,611.1C240.9,608.7 253,607.8 261.3,607.6C269.7,607.4 282.5,608.6 289.1,609.7C295.6,610.8 301.3,609.8 305,615.2C308.7,620.7 312.7,636.1 313.8,645.8C314.8,655.4 311.8,667 311.8,679.5C311.8,692 314.2,714.2 313.8,729.1C313.3,743.9 309.7,768.2 308.8,778.6C307.9,789 323.4,795.5 307.8,798.5C292.2,801.4 220.2,801.4 204.7,798.5C189.2,795.5 204.4,790.5 204.7,778.6C205,766.7 207.1,735.5 206.7,719.1C206.2,702.8 202.6,676.6 201.7,669.6C200.9,662.5 200.6,676.3 201,672.1Z"/>
<path fill="#ecf4f9" transform="translate(203.6,0)" d="M201,672.1C201.5,667.9 202.7,648.9 204.5,641.6C206.3,634.3 208.5,628.1 212.8,623.6C217.2,619 226.3,613.5 233.6,611.1C240.9,608.7 253,607.8 261.3,607.6C269.7,607.4 282.5,608.6 289.1,609.7C295.6,610.8 301.3,609.8 305,615.2C308.7,620.7 312.7,636.1 313.8,645.8C314.8,655.4 311.8,667 311.8,679.5C311.8,692 314.2,714.2 313.8,729.1C313.3,743.9 309.7,768.2 308.8,778.6C307.9,789 323.4,795.5 307.8,798.5C292.2,801.4 220.2,801.4 204.7,798.5C189.2,795.5 204.4,790.5 204.7,778.6C205,766.7 207.1,735.5 206.7,719.1C206.2,702.8 202.6,676.6 201.7,669.6C200.9,662.5 200.6,676.3 201,672.1Z"/>
<path fill="#cce2ef" transform="translate(-203.6,0)" d="M108.9,571.5C108.2,564.5 110,548.9 111.6,541C113.3,533.1 117.3,526.1 120,518.9C122.6,511.6 126.2,497.9 129.4,492.6C132.6,487.3 137.4,485.6 141.3,483.7C145.1,481.7 150.7,479.7 155.1,479.7C159.6,479.7 166.5,481.1 171,483.7C175.5,486.2 181.1,491.3 184.9,496.6C188.7,501.8 194.3,512.4 196.2,518.9C198.1,525.3 196.5,533.4 197.6,539.7C198.6,545.9 202.1,554 203.1,560.4C204.2,566.9 204.9,577.2 204.5,582.6C204.1,588 202.2,592.7 200.3,596.5C198.5,600.2 195.8,604.7 192,607.6C188.3,610.5 182.7,614.6 175.4,615.9C168.1,617.1 150.8,618 143.5,615.9C136.2,613.8 131,606.2 126.9,602C122.7,597.9 118.5,592.7 115.8,588.2C113.1,583.6 109.5,578.6 108.9,571.5Z"/>
<path fill="#cce2ef" d="M108.9,571.5C108.2,564.5 110,548.9 111.6,541C113.3,533.1 117.3,526.1 120,518.9C122.6,511.6 126.2,497.9 129.4,492.6C132.6,487.3 137.4,485.6 141.3,483.7C145.1,481.7 150.7,479.7 155.1,479.7C159.6,479.7 166.5,481.1 171,483.7C175.5,486.2 181.1,491.3 184.9,496.6C188.7,501.8 194.3,512.4 196.2,518.9C198.1,525.3 196.5,533.4 197.6,539.7C198.6,545.9 202.1,554 203.1,560.4C204.2,566.9 204.9,577.2 204.5,582.6C204.1,588 202.2,592.7 200.3,596.5C198.5,600.2 195.8,604.7 192,607.6C188.3,610.5 182.7,614.6 175.4,615.9C168.1,617.1 150.8,618 143.5,615.9C136.2,613.8 131,606.2 126.9,602C122.7,597.9 118.5,592.7 115.8,588.2C113.1,583.6 109.5,578.6 108.9,571.5Z"/>
<path fill="#cce2ef" transform="translate(203.6,0)" d="M108.9,571.5C108.2,564.5 110,548.9 111.6,541C113.3,533.1 117.3,526.1 120,518.9C122.6,511.6 126.2,497.9 129.4,492.6C132.6,487.3 137.4,485.6 141.3,483.7C145.1,481.7 150.7,479.7 155.1,479.7C159.6,479.7 166.5,481.1 171,483.7C175.5,486.2 181.1,491.3 184.9,496.6C188.7,501.8 194.3,512.4 196.2,518.9C198.1,525.3 196.5,533.4 197.6,539.7C198.6,545.9 202.1,554 203.1,560.4C204.2,566.9 204.9,577.2 204.5,582.6C204.1,588 202.2,592.7 200.3,596.5C198.5,600.2 195.8,604.7 192,607.6C188.3,610.5 182.7,614.6 175.4,615.9C168.1,617.1 150.8,618 143.5,615.9C136.2,613.8 131,606.2 126.9,602C122.7,597.9 118.5,592.7 115.8,588.2C113.1,583.6 109.5,578.6 108.9,571.5Z"/>
<path fill="#fcd6c5" transform="translate(-203.6,0)" d="M220.4,571.5C220.2,564.9 220.5,551.1 222.5,543.8C224.5,536.5 229.9,527.8 233.6,523C237.4,518.2 243.3,514.3 247.5,511.9C251.6,509.5 257.2,507.1 261.3,507.1C265.5,507.1 271.7,508.1 275.2,511.9C278.7,515.8 282.4,526.5 284.9,532.7C287.4,539 290.3,547.3 291.8,553.5C293.4,559.8 295.1,568.3 295.3,574.3C295.5,580.3 294.6,589.3 293.2,593.7C291.9,598.1 291.1,602 286.3,603.4C281.5,604.9 269.2,604 261.3,603.4C253.4,602.8 239.2,601.5 233.6,599.3C228,597 225.9,592.3 223.9,588.2C221.9,584 220.7,578.2 220.4,571.5Z"/>
<path fill="#fcd6c5" d="M220.4,571.5C220.2,564.9 220.5,551.1 222.5,543.8C224.5,536.5 229.9,527.8 233.6,523C237.4,518.2 243.3,514.3 247.5,511.9C251.6,509.5 257.2,507.1 261.3,507.1C265.5,507.1 271.7,508.1 275.2,511.9C278.7,515.8 282.4,526.5 284.9,532.7C287.4,539 290.3,547.3 291.8,553.5C293.4,559.8 295.1,568.3 295.3,574.3C295.5,580.3 294.6,589.3 293.2,593.7C291.9,598.1 291.1,602 286.3,603.4C281.5,604.9 269.2,604 261.3,603.4C253.4,602.8 239.2,601.5 233.6,599.3C228,597 225.9,592.3 223.9,588.2C221.9,584 220.7,578.2 220.4,571.5Z"/>
<path fill="#fcd6c5" transform="translate(203.6,0)" d="M220.4,571.5C220.2,564.9 220.5,551.1 222.5,543.8C224.5,536.5 229.9,527.8 233.6,523C237.4,518.2 243.3,514.3 247.5,511.9C251.6,509.5 257.2,507.1 261.3,507.1C265.5,507.1 271.7,508.1 275.2,511.9C278.7,515.8 282.4,526.5 284.9,532.7C287.4,539 290.3,547.3 291.8,553.5C293.4,559.8 295.1,568.3 295.3,574.3C295.5,580.3 294.6,589.3 293.2,593.7C291.9,598.1 291.1,602 286.3,603.4C281.5,604.9 269.2,604 261.3,603.4C253.4,602.8 239.2,601.5 233.6,599.3C228,597 225.9,592.3 223.9,588.2C221.9,584 220.7,578.2 220.4,571.5Z"/>
<path fill="#fcd6c5" transform="translate(-203.6,0)" d="M124.4,631.9C118.8,635.4 119.1,644.1 117.9,649.7C116.7,655.4 115.9,663.6 116.5,669.6C117,675.5 118.6,683.5 121.4,689.4C124.3,695.3 130,704.2 135.3,709.2C140.7,714.2 151.2,722.1 157.1,722.7C163.1,723.3 171.1,715.8 175,713.2C178.8,710.6 181.1,710.3 182.9,705.3C184.7,700.2 185.1,688.4 186.9,679.5C188.7,670.6 193.9,653.2 194.8,645.8C195.7,638.3 198.8,632.8 192.8,629.9C186.9,627 165.4,626 155.1,626.3C144.9,626.6 130,628.4 124.4,631.9Z"/>
<path fill="#fcd6c5" d="M124.4,631.9C118.8,635.4 119.1,644.1 117.9,649.7C116.7,655.4 115.9,663.6 116.5,669.6C117,675.5 118.6,683.5 121.4,689.4C124.3,695.3 130,704.2 135.3,709.2C140.7,714.2 151.2,722.1 157.1,722.7C163.1,723.3 171.1,715.8 175,713.2C178.8,710.6 181.1,710.3 182.9,705.3C184.7,700.2 185.1,688.4 186.9,679.5C188.7,670.6 193.9,653.2 194.8,645.8C195.7,638.3 198.8,632.8 192.8,629.9C186.9,627 165.4,626 155.1,626.3C144.9,626.6 130,628.4 124.4,631.9Z"/>
<path fill="#fcd6c5" transform="translate(203.6,0)" d="M124.4,631.9C118.8,635.4 119.1,644.1 117.9,649.7C116.7,655.4 115.9,663.6 116.5,669.6C117,675.5 118.6,683.5 121.4,689.4C124.3,695.3 130,704.2 135.3,709.2C140.7,714.2 151.2,722.1 157.1,722.7C163.1,723.3 171.1,715.8 175,713.2C178.8,710.6 181.1,710.3 182.9,705.3C184.7,700.2 185.1,688.4 186.9,679.5C188.7,670.6 193.9,653.2 194.8,645.8C195.7,638.3 198.8,632.8 192.8,629.9C186.9,627 165.4,626 155.1,626.3C144.9,626.6 130,628.4 124.4,631.9Z"/>
<path fill="#cce2ef" transform="translate(-203.6,0)" d="M207.7,669.6C207.7,662.1 212.1,651.7 214.6,645.8C217.2,639.8 220.1,633.8 224.5,629.9C229,626 236.9,621.9 244.4,620C251.8,618.1 266.1,615.8 274.1,617C282.1,618.2 292.8,623.6 297.9,627.9C303,632.2 306.9,638 307.8,645.8C308.7,653.5 305.9,667.3 303.9,679.5C301.8,691.7 297.8,716.7 293.9,727.1C290.1,737.5 283.4,744.7 278.1,748.9C272.7,753 263.9,755.1 258.2,754.8C252.6,754.5 245.2,751.1 240.4,746.9C235.6,742.7 230.4,734.8 226.5,727.1C222.7,719.3 217.5,704 214.6,695.3C211.8,686.7 207.7,677 207.7,669.6Z"/>
<path fill="#cce2ef" d="M207.7,669.6C207.7,662.1 212.1,651.7 214.6,645.8C217.2,639.8 220.1,633.8 224.5,629.9C229,626 236.9,621.9 244.4,620C251.8,618.1 266.1,615.8 274.1,617C282.1,618.2 292.8,623.6 297.9,627.9C303,632.2 306.9,638 307.8,645.8C308.7,653.5 305.9,667.3 303.9,679.5C301.8,691.7 297.8,716.7 293.9,727.1C290.1,737.5 283.4,744.7 278.1,748.9C272.7,753 263.9,755.1 258.2,754.8C252.6,754.5 245.2,751.1 240.4,746.9C235.6,742.7 230.4,734.8 226.5,727.1C222.7,719.3 217.5,704 214.6,695.3C211.8,686.7 207.7,677 207.7,669.6Z"/>
<path fill="#cce2ef" transform="translate(203.6,0)" d="M207.7,669.6C207.7,662.1 212.1,651.7 214.6,645.8C217.2,639.8 220.1,633.8 224.5,629.9C229,626 236.9,621.9 244.4,620C251.8,618.1 266.1,615.8 274.1,617C282.1,618.2 292.8,623.6 297.9,627.9C303,632.2 306.9,638 307.8,645.8C308.7,653.5 305.9,667.3 303.9,679.5C301.8,691.7 297.8,716.7 293.9,727.1C290.1,737.5 283.4,744.7 278.1,748.9C272.7,753 263.9,755.1 258.2,754.8C252.6,754.5 245.2,751.1 240.4,746.9C235.6,742.7 230.4,734.8 226.5,727.1C222.7,719.3 217.5,704 214.6,695.3C211.8,686.7 207.7,677 207.7,669.6Z"/>
<path fill="#97c3de" transform="translate(-203.6,0)" d="M115.5,571.5C114.5,564.5 116.4,552.8 118.6,546.6C120.7,540.3 126.3,534.5 129.7,530C133,525.4 136,519.1 140.7,516.1C145.5,513.1 156.3,509.9 161.5,509.9C166.7,509.9 172.5,512.7 175.4,516.1C178.3,519.5 178.9,527.3 180.9,532.7C183,538.1 186.8,545.9 189.3,552.1C191.8,558.4 196.5,569.3 197.6,574.3C198.6,579.3 197.9,580.8 196.2,585.4C194.5,590 191.3,600.9 186.5,604.8C181.7,608.8 170.8,611.1 164.3,611.7C157.9,612.4 149.3,611.7 143.5,609C137.7,606.3 129.7,599.3 125.5,593.7C121.3,588.1 116.6,578.6 115.5,571.5Z"/>
<path fill="#97c3de" d="M115.5,571.5C114.5,564.5 116.4,552.8 118.6,546.6C120.7,540.3 126.3,534.5 129.7,530C133,525.4 136,519.1 140.7,516.1C145.5,513.1 156.3,509.9 161.5,509.9C166.7,509.9 172.5,512.7 175.4,516.1C178.3,519.5 178.9,527.3 180.9,532.7C183,538.1 186.8,545.9 189.3,552.1C191.8,558.4 196.5,569.3 197.6,574.3C198.6,579.3 197.9,580.8 196.2,585.4C194.5,590 191.3,600.9 186.5,604.8C181.7,608.8 170.8,611.1 164.3,611.7C157.9,612.4 149.3,611.7 143.5,609C137.7,606.3 129.7,599.3 125.5,593.7C121.3,588.1 116.6,578.6 115.5,571.5Z"/>
<path fill="#97c3de" transform="translate(203.6,0)" d="M115.5,571.5C114.5,564.5 116.4,552.8 118.6,546.6C120.7,540.3 126.3,534.5 129.7,530C133,525.4 136,519.1 140.7,516.1C145.5,513.1 156.3,509.9 161.5,509.9C166.7,509.9 172.5,512.7 175.4,516.1C178.3,519.5 178.9,527.3 180.9,532.7C183,538.1 186.8,545.9 189.3,552.1C191.8,558.4 196.5,569.3 197.6,574.3C198.6,579.3 197.9,580.8 196.2,585.4C194.5,590 191.3,600.9 186.5,604.8C181.7,608.8 170.8,611.1 164.3,611.7C157.9,612.4 149.3,611.7 143.5,609C137.7,606.3 129.7,599.3 125.5,593.7C121.3,588.1 116.6,578.6 115.5,571.5Z"/>
<path fill="#f7b296" transform="translate(-203.6,0)" d="M226,571.5C225.8,566.3 225.9,555.9 228.1,550.7C230.3,545.5 236.2,539.8 240.5,536.9C244.9,533.9 252.6,531.1 257.2,531.1C261.8,531.1 267.5,533.9 271,536.9C274.6,539.8 278,545.5 280.7,550.7C283.4,555.9 288,566.3 289.1,571.5C290.1,576.7 289.1,581.9 287.7,585.4C286.2,588.9 283.3,593.2 279.4,595.1C275.4,597 267.2,597.9 261.3,597.9C255.5,597.9 245.3,597 240.5,595.1C235.8,593.2 231.6,588.9 229.5,585.4C227.3,581.9 226.2,576.7 226,571.5Z"/>
<path fill="#f7b296" d="M226,571.5C225.8,566.3 225.9,555.9 228.1,550.7C230.3,545.5 236.2,539.8 240.5,536.9C244.9,533.9 252.6,531.1 257.2,531.1C261.8,531.1 267.5,533.9 271,536.9C274.6,539.8 278,545.5 280.7,550.7C283.4,555.9 288,566.3 289.1,571.5C290.1,576.7 289.1,581.9 287.7,585.4C286.2,588.9 283.3,593.2 279.4,595.1C275.4,597 267.2,597.9 261.3,597.9C255.5,597.9 245.3,597 240.5,595.1C235.8,593.2 231.6,588.9 229.5,585.4C227.3,581.9 226.2,576.7 226,571.5Z"/>
<path fill="#f7b296" transform="translate(203.6,0)" d="M226,571.5C225.8,566.3 225.9,555.9 228.1,550.7C230.3,545.5 236.2,539.8 240.5,536.9C244.9,533.9 252.6,531.1 257.2,531.1C261.8,531.1 267.5,533.9 271,536.9C274.6,539.8 278,545.5 280.7,550.7C283.4,555.9 288,566.3 289.1,571.5C290.1,576.7 289.1,581.9 287.7,585.4C286.2,588.9 283.3,593.2 279.4,595.1C275.4,597 267.2,597.9 261.3,597.9C255.5,597.9 245.3,597 240.5,595.1C235.8,593.2 231.6,588.9 229.5,585.4C227.3,581.9 226.2,576.7 226,571.5Z"/>
<path fill="#f7b296" transform="translate(-203.6,0)" d="M122.4,667.6C122,661.9 122.5,649.1 124.4,643.8C126.3,638.4 130.7,634 135.3,631.9C139.9,629.8 148.6,629.6 155.1,629.9C161.7,630.2 174,631.8 178.9,633.9C183.8,636 187.3,638.4 187.9,643.8C188.5,649.1 184.8,662.7 182.9,669.6C181,676.4 177.3,684.9 175,689.4C172.6,693.9 170,697.4 167,699.3C164.1,701.2 159.3,702.9 155.1,702.3C151,701.7 143.4,698.5 139.3,695.3C135.1,692.2 129.9,685.6 127.4,681.5C124.9,677.3 122.9,673.2 122.4,667.6Z"/>
<path fill="#f7b296" d="M122.4,667.6C122,661.9 122.5,649.1 124.4,643.8C126.3,638.4 130.7,634 135.3,631.9C139.9,629.8 148.6,629.6 155.1,629.9C161.7,630.2 174,631.8 178.9,633.9C183.8,636 187.3,638.4 187.9,643.8C188.5,649.1 184.8,662.7 182.9,669.6C181,676.4 177.3,684.9 175,689.4C172.6,693.9 170,697.4 167,699.3C164.1,701.2 159.3,702.9 155.1,702.3C151,701.7 143.4,698.5 139.3,695.3C135.1,692.2 129.9,685.6 127.4,681.5C124.9,677.3 122.9,673.2 122.4,667.6Z"/>
<path fill="#f7b296" transform="translate(203.6,0)" d="M122.4,667.6C122,661.9 122.5,649.1 124.4,643.8C126.3,638.4 130.7,634 135.3,631.9C139.9,629.8 148.6,629.6 155.1,629.9C161.7,630.2 174,631.8 178.9,633.9C183.8,636 187.3,638.4 187.9,643.8C188.5,649.1 184.8,662.7 182.9,669.6C181,676.4 177.3,684.9 175,689.4C172.6,693.9 170,697.4 167,699.3C164.1,701.2 159.3,702.9 155.1,702.3C151,701.7 143.4,698.5 139.3,695.3C135.1,692.2 129.9,685.6 127.4,681.5C124.9,677.3 122.9,673.2 122.4,667.6Z"/>
<path fill="#97c3de" transform="translate(-203.6,0)" d="M215.6,669.6C215,663.6 218.3,655.4 220.6,649.7C222.8,644.1 226.9,636.1 230.5,631.9C234.1,627.7 237.8,623.8 244.4,622C250.9,620.2 266.7,618.8 274.1,620C281.5,621.2 289.9,626 293.9,629.9C298,633.8 300.6,638.3 300.9,645.8C301.2,653.2 298.4,669.7 295.9,679.5C293.4,689.3 289.1,705.3 284,711.2C279,717.2 268.8,719.4 262.2,719.1C255.7,718.8 246.1,713.7 240.4,709.2C234.8,704.8 228.3,695.3 224.5,689.4C220.8,683.5 216.2,675.5 215.6,669.6Z"/>
<path fill="#97c3de" d="M215.6,669.6C215,663.6 218.3,655.4 220.6,649.7C222.8,644.1 226.9,636.1 230.5,631.9C234.1,627.7 237.8,623.8 244.4,622C250.9,620.2 266.7,618.8 274.1,620C281.5,621.2 289.9,626 293.9,629.9C298,633.8 300.6,638.3 300.9,645.8C301.2,653.2 298.4,669.7 295.9,679.5C293.4,689.3 289.1,705.3 284,711.2C279,717.2 268.8,719.4 262.2,719.1C255.7,718.8 246.1,713.7 240.4,709.2C234.8,704.8 228.3,695.3 224.5,689.4C220.8,683.5 216.2,675.5 215.6,669.6Z"/>
<path fill="#97c3de" transform="translate(203.6,0)" d="M215.6,669.6C215,663.6 218.3,655.4 220.6,649.7C222.8,644.1 226.9,636.1 230.5,631.9C234.1,627.7 237.8,623.8 244.4,622C250.9,620.2 266.7,618.8 274.1,620C281.5,621.2 289.9,626 293.9,629.9C298,633.8 300.6,638.3 300.9,645.8C301.2,653.2 298.4,669.7 295.9,679.5C293.4,689.3 289.1,705.3 284,711.2C279,717.2 268.8,719.4 262.2,719.1C255.7,718.8 246.1,713.7 240.4,709.2C234.8,704.8 228.3,695.3 224.5,689.4C220.8,683.5 216.2,675.5 215.6,669.6Z"/>
<path fill="#66a4cf" transform="translate(-203.6,0)" d="M122,572.9C121.6,567.5 123.3,557.1 125.5,552.1C127.7,547.1 132.2,542.4 136.6,539.7C141,537 150,534.1 154.6,534.1C159.2,534.1 163.5,537.2 167.1,539.7C170.6,542.1 175,547 178.2,550.7C181.3,554.5 186,560.7 187.9,564.6C189.7,568.6 191.3,572.7 190.6,577.1C190,581.4 186.4,589.6 183.7,593.7C181,597.9 176.4,602.8 172.6,604.8C168.9,606.8 163.1,607.3 158.8,606.9C154.4,606.5 148.1,604.8 143.5,602C138.9,599.2 131.5,592.5 128.3,588.2C125,583.8 122.4,578.3 122,572.9Z"/>
<path fill="#66a4cf" d="M122,572.9C121.6,567.5 123.3,557.1 125.5,552.1C127.7,547.1 132.2,542.4 136.6,539.7C141,537 150,534.1 154.6,534.1C159.2,534.1 163.5,537.2 167.1,539.7C170.6,542.1 175,547 178.2,550.7C181.3,554.5 186,560.7 187.9,564.6C189.7,568.6 191.3,572.7 190.6,577.1C190,581.4 186.4,589.6 183.7,593.7C181,597.9 176.4,602.8 172.6,604.8C168.9,606.8 163.1,607.3 158.8,606.9C154.4,606.5 148.1,604.8 143.5,602C138.9,599.2 131.5,592.5 128.3,588.2C125,583.8 122.4,578.3 122,572.9Z"/>
<path fill="#66a4cf" transform="translate(203.6,0)" d="M122,572.9C121.6,567.5 123.3,557.1 125.5,552.1C127.7,547.1 132.2,542.4 136.6,539.7C141,537 150,534.1 154.6,534.1C159.2,534.1 163.5,537.2 167.1,539.7C170.6,542.1 175,547 178.2,550.7C181.3,554.5 186,560.7 187.9,564.6C189.7,568.6 191.3,572.7 190.6,577.1C190,581.4 186.4,589.6 183.7,593.7C181,597.9 176.4,602.8 172.6,604.8C168.9,606.8 163.1,607.3 158.8,606.9C154.4,606.5 148.1,604.8 143.5,602C138.9,599.2 131.5,592.5 128.3,588.2C125,583.8 122.4,578.3 122,572.9Z"/>
<path fill="#ea8969" transform="translate(-203.6,0)" d="M230.8,571.5C231,567 233.9,557.5 236.4,553.5C238.9,549.6 244.1,546.7 247.5,545.2C250.8,543.7 254.8,543.2 258.6,543.8C262.3,544.4 268.9,546.2 272.4,549.4C276,552.5 280.5,560.4 282.1,564.6C283.8,568.8 284.1,573.5 283.5,577.1C282.9,580.6 280.7,585.7 278,588.2C275.3,590.7 270.1,593.1 265.5,593.7C260.9,594.3 252,593.8 247.5,592.3C242.9,590.9 237.5,587.1 235,584C232.5,580.9 230.6,576.1 230.8,571.5Z"/>
<path fill="#ea8969" d="M230.8,571.5C231,567 233.9,557.5 236.4,553.5C238.9,549.6 244.1,546.7 247.5,545.2C250.8,543.7 254.8,543.2 258.6,543.8C262.3,544.4 268.9,546.2 272.4,549.4C276,552.5 280.5,560.4 282.1,564.6C283.8,568.8 284.1,573.5 283.5,577.1C282.9,580.6 280.7,585.7 278,588.2C275.3,590.7 270.1,593.1 265.5,593.7C260.9,594.3 252,593.8 247.5,592.3C242.9,590.9 237.5,587.1 235,584C232.5,580.9 230.6,576.1 230.8,571.5Z"/>
<path fill="#ea8969" transform="translate(203.6,0)" d="M230.8,571.5C231,567 233.9,557.5 236.4,553.5C238.9,549.6 244.1,546.7 247.5,545.2C250.8,543.7 254.8,543.2 258.6,543.8C262.3,544.4 268.9,546.2 272.4,549.4C276,552.5 280.5,560.4 282.1,564.6C283.8,568.8 284.1,573.5 283.5,577.1C282.9,580.6 280.7,585.7 278,588.2C275.3,590.7 270.1,593.1 265.5,593.7C260.9,594.3 252,593.8 247.5,592.3C242.9,590.9 237.5,587.1 235,584C232.5,580.9 230.6,576.1 230.8,571.5Z"/>
<path fill="#ea8969" transform="translate(-203.6,0)" d="M128.4,667.6C127.5,662.2 130.8,650.5 133.3,645.8C135.9,641 141.1,637.6 145.2,635.9C149.4,634.1 156.6,634 161.1,634.3C165.6,634.6 172,636.1 175,637.8C177.9,639.6 180.6,641.6 180.9,645.8C181.2,649.9 178.7,660.3 177,665.6C175.2,671 172.3,678 169,681.5C165.7,684.9 159.6,688.4 155.1,688.4C150.7,688.4 143.3,684.6 139.3,681.5C135.3,678.3 129.3,672.9 128.4,667.6Z"/>
<path fill="#ea8969" d="M128.4,667.6C127.5,662.2 130.8,650.5 133.3,645.8C135.9,641 141.1,637.6 145.2,635.9C149.4,634.1 156.6,634 161.1,634.3C165.6,634.6 172,636.1 175,637.8C177.9,639.6 180.6,641.6 180.9,645.8C181.2,649.9 178.7,660.3 177,665.6C175.2,671 172.3,678 169,681.5C165.7,684.9 159.6,688.4 155.1,688.4C150.7,688.4 143.3,684.6 139.3,681.5C135.3,678.3 129.3,672.9 128.4,667.6Z"/>
<path fill="#ea8969" transform="translate(203.6,0)" d="M128.4,667.6C127.5,662.2 130.8,650.5 133.3,645.8C135.9,641 141.1,637.6 145.2,635.9C149.4,634.1 156.6,634 161.1,634.3C165.6,634.6 172,636.1 175,637.8C177.9,639.6 180.6,641.6 180.9,645.8C181.2,649.9 178.7,660.3 177,665.6C175.2,671 172.3,678 169,681.5C165.7,684.9 159.6,688.4 155.1,688.4C150.7,688.4 143.3,684.6 139.3,681.5C135.3,678.3 129.3,672.9 128.4,667.6Z"/>
<path fill="#66a4cf" transform="translate(-203.6,0)" d="M223.5,667.6C223.5,663.4 226.3,655.1 228.5,649.7C230.7,644.4 234.6,635.8 238.4,631.9C242.3,628 248.9,624.9 254.3,624C259.6,623.1 268.8,624.2 274.1,625.9C279.5,627.7 287,632.9 290,635.9C292.9,638.8 293.9,640.7 293.9,645.8C293.9,650.8 292.4,663 290,669.6C287.6,676.1 282.8,684.8 278.1,689.4C273.3,694 264.2,700.3 258.2,700.3C252.3,700.3 242.9,692.8 238.4,689.4C234,686 230.7,680.8 228.5,677.5C226.3,674.2 223.5,671.8 223.5,667.6Z"/>
<path fill="#66a4cf" d="M223.5,667.6C223.5,663.4 226.3,655.1 228.5,649.7C230.7,644.4 234.6,635.8 238.4,631.9C242.3,628 248.9,624.9 254.3,624C259.6,623.1 268.8,624.2 274.1,625.9C279.5,627.7 287,632.9 290,635.9C292.9,638.8 293.9,640.7 293.9,645.8C293.9,650.8 292.4,663 290,669.6C287.6,676.1 282.8,684.8 278.1,689.4C273.3,694 264.2,700.3 258.2,700.3C252.3,700.3 242.9,692.8 238.4,689.4C234,686 230.7,680.8 228.5,677.5C226.3,674.2 223.5,671.8 223.5,667.6Z"/>
<path fill="#66a4cf" transform="translate(203.6,0)" d="M223.5,667.6C223.5,663.4 226.3,655.1 228.5,649.7C230.7,644.4 234.6,635.8 238.4,631.9C242.3,628 248.9,624.9 254.3,624C259.6,623.1 268.8,624.2 274.1,625.9C279.5,627.7 287,632.9 290,635.9C292.9,638.8 293.9,640.7 293.9,645.8C293.9,650.8 292.4,663 290,669.6C287.6,676.1 282.8,684.8 278.1,689.4C273.3,694 264.2,700.3 258.2,700.3C252.3,700.3 242.9,692.8 238.4,689.4C234,686 230.7,680.8 228.5,677.5C226.3,674.2 223.5,671.8 223.5,667.6Z"/>
<path fill="#4587bf" transform="translate(-203.6,0)" d="M129.7,572.9C129.9,568.8 133.9,560 136.6,556.3C139.3,552.5 144.6,549.4 147.7,548C150.8,546.5 154,545.8 157.4,546.6C160.7,547.4 166.5,550.8 169.9,553.5C173.2,556.2 177.5,561.5 179.6,564.6C181.6,567.7 183.5,571.2 183.7,574.3C183.9,577.4 183,582.3 180.9,585.4C178.9,588.5 173.2,593 169.9,595.1C166.5,597.2 162.3,599.5 158.8,599.3C155.2,599 149.8,596 146.3,593.7C142.8,591.4 137.7,587.1 135.2,584C132.7,580.9 129.4,577.1 129.7,572.9Z"/>
<path fill="#4587bf" d="M129.7,572.9C129.9,568.8 133.9,560 136.6,556.3C139.3,552.5 144.6,549.4 147.7,548C150.8,546.5 154,545.8 157.4,546.6C160.7,547.4 166.5,550.8 169.9,553.5C173.2,556.2 177.5,561.5 179.6,564.6C181.6,567.7 183.5,571.2 183.7,574.3C183.9,577.4 183,582.3 180.9,585.4C178.9,588.5 173.2,593 169.9,595.1C166.5,597.2 162.3,599.5 158.8,599.3C155.2,599 149.8,596 146.3,593.7C142.8,591.4 137.7,587.1 135.2,584C132.7,580.9 129.4,577.1 129.7,572.9Z"/>
<path fill="#4587bf" transform="translate(203.6,0)" d="M129.7,572.9C129.9,568.8 133.9,560 136.6,556.3C139.3,552.5 144.6,549.4 147.7,548C150.8,546.5 154,545.8 157.4,546.6C160.7,547.4 166.5,550.8 169.9,553.5C173.2,556.2 177.5,561.5 179.6,564.6C181.6,567.7 183.5,571.2 183.7,574.3C183.9,577.4 183,582.3 180.9,585.4C178.9,588.5 173.2,593 169.9,595.1C166.5,597.2 162.3,599.5 158.8,599.3C155.2,599 149.8,596 146.3,593.7C142.8,591.4 137.7,587.1 135.2,584C132.7,580.9 129.4,577.1 129.7,572.9Z"/>
<path fill="#d15448" transform="translate(-203.6,0)" d="M237.1,573.6C236.7,569.9 239.1,563.7 241.9,560.4C244.7,557.2 251.8,552.3 255.8,552.1C259.7,551.9 265.1,556.1 268.3,559.1C271.4,562 275.5,568.2 276.6,571.5C277.6,574.9 276.9,578.7 275.2,581.2C273.5,583.7 268.3,587.1 265.5,588.2C262.7,589.2 259.6,588.6 256.5,588.2C253.4,587.8 247.6,587.6 244.7,585.4C241.8,583.2 237.5,577.4 237.1,573.6Z"/>
<path fill="#d15448" d="M237.1,573.6C236.7,569.9 239.1,563.7 241.9,560.4C244.7,557.2 251.8,552.3 255.8,552.1C259.7,551.9 265.1,556.1 268.3,559.1C271.4,562 275.5,568.2 276.6,571.5C277.6,574.9 276.9,578.7 275.2,581.2C273.5,583.7 268.3,587.1 265.5,588.2C262.7,589.2 259.6,588.6 256.5,588.2C253.4,587.8 247.6,587.6 244.7,585.4C241.8,583.2 237.5,577.4 237.1,573.6Z"/>
<path fill="#d15448" transform="translate(203.6,0)" d="M237.1,573.6C236.7,569.9 239.1,563.7 241.9,560.4C244.7,557.2 251.8,552.3 255.8,552.1C259.7,551.9 265.1,556.1 268.3,559.1C271.4,562 275.5,568.2 276.6,571.5C277.6,574.9 276.9,578.7 275.2,581.2C273.5,583.7 268.3,587.1 265.5,588.2C262.7,589.2 259.6,588.6 256.5,588.2C253.4,587.8 247.6,587.6 244.7,585.4C241.8,583.2 237.5,577.4 237.1,573.6Z"/>
<path fill="#d15448" transform="translate(-203.6,0)" d="M135.9,664.6C135,660.4 137.3,653 139.3,649.7C141.3,646.5 145.9,644.1 149.2,642.8C152.5,641.6 157.8,641.1 161.1,641.4C164.4,641.7 169.4,642.6 171,644.8C172.6,646.9 172.6,652 172,655.7C171.4,659.4 169.3,666 167,669.6C164.8,673.1 160.4,678.3 157.1,679.5C153.9,680.7 148.4,679.7 145.2,677.5C142,675.3 136.8,668.8 135.9,664.6Z"/>
<path fill="#d15448" d="M135.9,664.6C135,660.4 137.3,653 139.3,649.7C141.3,646.5 145.9,644.1 149.2,642.8C152.5,641.6 157.8,641.1 161.1,641.4C164.4,641.7 169.4,642.6 171,644.8C172.6,646.9 172.6,652 172,655.7C171.4,659.4 169.3,666 167,669.6C164.8,673.1 160.4,678.3 157.1,679.5C153.9,680.7 148.4,679.7 145.2,677.5C142,675.3 136.8,668.8 135.9,664.6Z"/>
<path fill="#d15448" transform="translate(203.6,0)" d="M135.9,664.6C135,660.4 137.3,653 139.3,649.7C141.3,646.5 145.9,644.1 149.2,642.8C152.5,641.6 157.8,641.1 161.1,641.4C164.4,641.7 169.4,642.6 171,644.8C172.6,646.9 172.6,652 172,655.7C171.4,659.4 169.3,666 167,669.6C164.8,673.1 160.4,678.3 157.1,679.5C153.9,680.7 148.4,679.7 145.2,677.5C142,675.3 136.8,668.8 135.9,664.6Z"/>
<path fill="#4587bf" transform="translate(-203.6,0)" d="M233.5,665.6C233.8,662.3 236.5,654.2 238.4,649.7C240.4,645.3 243.1,638.8 246.4,635.9C249.6,632.9 255.8,630.4 260.2,629.9C264.7,629.5 272.5,630.8 276.1,632.9C279.7,635 283.1,639.8 284,643.8C284.9,647.8 283.5,654.9 282,659.7C280.6,664.4 277.4,671.8 274.1,675.5C270.8,679.2 264.4,683.8 260.2,684.4C256.1,685 249.9,681.4 246.4,679.5C242.8,677.6 238.4,673.6 236.4,671.6C234.5,669.5 233.2,668.9 233.5,665.6Z"/>
<path fill="#4587bf" d="M233.5,665.6C233.8,662.3 236.5,654.2 238.4,649.7C240.4,645.3 243.1,638.8 246.4,635.9C249.6,632.9 255.8,630.4 260.2,629.9C264.7,629.5 272.5,630.8 276.1,632.9C279.7,635 283.1,639.8 284,643.8C284.9,647.8 283.5,654.9 282,659.7C280.6,664.4 277.4,671.8 274.1,675.5C270.8,679.2 264.4,683.8 260.2,684.4C256.1,685 249.9,681.4 246.4,679.5C242.8,677.6 238.4,673.6 236.4,671.6C234.5,669.5 233.2,668.9 233.5,665.6Z"/>
<path fill="#4587bf" transform="translate(203.6,0)" d="M233.5,665.6C233.8,662.3 236.5,654.2 238.4,649.7C240.4,645.3 243.1,638.8 246.4,635.9C249.6,632.9 255.8,630.4 260.2,629.9C264.7,629.5 272.5,630.8 276.1,632.9C279.7,635 283.1,639.8 284,643.8C284.9,647.8 283.5,654.9 282,659.7C280.6,664.4 277.4,671.8 274.1,675.5C270.8,679.2 264.4,683.8 260.2,684.4C256.1,685 249.9,681.4 246.4,679.5C242.8,677.6 238.4,673.6 236.4,671.6C234.5,669.5 233.2,668.9 233.5,665.6Z"/>
<path fill="#2166ac" transform="translate(-203.6,0)" d="M139.4,572.9C138.9,569.8 141.2,565.4 143.5,563.2C145.8,561 151.3,558.3 154.6,558.1C157.9,557.9 162.8,559.6 165.7,561.8C168.6,564.1 173.2,569.8 174,572.9C174.8,576 173.7,580.2 171.2,582.6C168.7,585.1 161.1,589.1 157.4,589.3C153.6,589.5 149,586.5 146.3,584C143.6,581.6 139.8,576 139.4,572.9Z"/>
<path fill="#2166ac" d="M139.4,572.9C138.9,569.8 141.2,565.4 143.5,563.2C145.8,561 151.3,558.3 154.6,558.1C157.9,557.9 162.8,559.6 165.7,561.8C168.6,564.1 173.2,569.8 174,572.9C174.8,576 173.7,580.2 171.2,582.6C168.7,585.1 161.1,589.1 157.4,589.3C153.6,589.5 149,586.5 146.3,584C143.6,581.6 139.8,576 139.4,572.9Z"/>
<path fill="#2166ac" transform="translate(203.6,0)" d="M139.4,572.9C138.9,569.8 141.2,565.4 143.5,563.2C145.8,561 151.3,558.3 154.6,558.1C157.9,557.9 162.8,559.6 165.7,561.8C168.6,564.1 173.2,569.8 174,572.9C174.8,576 173.7,580.2 171.2,582.6C168.7,585.1 161.1,589.1 157.4,589.3C153.6,589.5 149,586.5 146.3,584C143.6,581.6 139.8,576 139.4,572.9Z"/>
<path fill="#b2192b" transform="translate(-203.6,0)" d="M244.7,573.6C244.7,571.7 247.1,569.3 248.9,568.1C250.6,566.8 254.2,565.3 256.5,565.3C258.8,565.3 262.1,566.8 264.1,568.1C266.1,569.3 269.4,571.7 269.7,573.6C269.9,575.5 267.5,579 265.5,580.5C263.5,582.1 259,584 256.5,584C254,584 250.6,582.1 248.9,580.5C247.1,579 244.7,575.5 244.7,573.6Z"/>
<path fill="#b2192b" d="M244.7,573.6C244.7,571.7 247.1,569.3 248.9,568.1C250.6,566.8 254.2,565.3 256.5,565.3C258.8,565.3 262.1,566.8 264.1,568.1C266.1,569.3 269.4,571.7 269.7,573.6C269.9,575.5 267.5,579 265.5,580.5C263.5,582.1 259,584 256.5,584C254,584 250.6,582.1 248.9,580.5C247.1,579 244.7,575.5 244.7,573.6Z"/>
<path fill="#b2192b" transform="translate(203.6,0)" d="M244.7,573.6C244.7,571.7 247.1,569.3 248.9,568.1C250.6,566.8 254.2,565.3 256.5,565.3C258.8,565.3 262.1,566.8 264.1,568.1C266.1,569.3 269.4,571.7 269.7,573.6C269.9,575.5 267.5,579 265.5,580.5C263.5,582.1 259,584 256.5,584C254,584 250.6,582.1 248.9,580.5C247.1,579 244.7,575.5 244.7,573.6Z"/>
<path fill="#b2192b" transform="translate(-203.6,0)" d="M145.6,659.7C145.9,657.9 149.5,656 151.2,655.3C152.9,654.6 155.6,654 157.1,654.7C158.7,655.4 161.6,658 161.5,659.7C161.3,661.4 158,664.9 156.1,666C154.3,667.1 150.8,668.1 149.2,667.2C147.6,666.2 145.3,661.4 145.6,659.7Z"/>
<path fill="#b2192b" d="M145.6,659.7C145.9,657.9 149.5,656 151.2,655.3C152.9,654.6 155.6,654 157.1,654.7C158.7,655.4 161.6,658 161.5,659.7C161.3,661.4 158,664.9 156.1,666C154.3,667.1 150.8,668.1 149.2,667.2C147.6,666.2 145.3,661.4 145.6,659.7Z"/>
<path fill="#b2192b" transform="translate(203.6,0)" d="M145.6,659.7C145.9,657.9 149.5,656 151.2,655.3C152.9,654.6 155.6,654 157.1,654.7C158.7,655.4 161.6,658 161.5,659.7C161.3,661.4 158,664.9 156.1,666C154.3,667.1 150.8,668.1 149.2,667.2C147.6,666.2 145.3,661.4 145.6,659.7Z"/>
<path fill="#2166ac" transform="translate(-203.6,0)" d="M248.3,662.6C248.9,660.1 252.2,652.9 254.3,649.7C256.4,646.6 259.5,642.8 262.2,641.8C264.9,640.9 270.5,641.6 272.1,643.4C273.8,645.2 274,650.5 273.1,653.7C272.2,656.9 268.7,662.2 266.2,664.6C263.7,667 258.6,669.3 256.3,669.6C253.9,669.9 251.5,667.6 250.3,666.6C249.1,665.6 247.7,665.2 248.3,662.6Z"/>
<path fill="#2166ac" d="M248.3,662.6C248.9,660.1 252.2,652.9 254.3,649.7C256.4,646.6 259.5,642.8 262.2,641.8C264.9,640.9 270.5,641.6 272.1,643.4C273.8,645.2 274,650.5 273.1,653.7C272.2,656.9 268.7,662.2 266.2,664.6C263.7,667 258.6,669.3 256.3,669.6C253.9,669.9 251.5,667.6 250.3,666.6C249.1,665.6 247.7,665.2 248.3,662.6Z"/>
<path fill="#2166ac" transform="translate(203.6,0)" d="M248.3,662.6C248.9,660.1 252.2,652.9 254.3,649.7C256.4,646.6 259.5,642.8 262.2,641.8C264.9,640.9 270.5,641.6 272.1,643.4C273.8,645.2 274,650.5 273.1,653.7C272.2,656.9 268.7,662.2 266.2,664.6C263.7,667 258.6,669.3 256.3,669.6C253.9,669.9 251.5,667.6 250.3,666.6C249.1,665.6 247.7,665.2 248.3,662.6Z"/>
</g>
<rect x="188" y="452.1" width="6.31" height="19.8" fill="#2166ac"/>
<rect x="194" y="452.1" width="12.64" height="19.8" fill="#4587bf"/>
<rect x="206.4" y="452.1" width="12.32" height="19.8" fill="#66a4cf"/>
<rect x="218.4" y="452.1" width="12.80" height="19.8" fill="#97c3de"/>
<rect x="230.9" y="452.1" width="12.32" height="19.8" fill="#cce2ef"/>
<rect x="242.9" y="452.1" width="12.80" height="19.8" fill="#ecf4f9"/>
<rect x="255.4" y="452.1" width="12.48" height="19.8" fill="#ffffff"/>
<rect x="267.6" y="452.1" width="12.64" height="19.8" fill="#fef0e9"/>
<rect x="279.9" y="452.1" width="12.48" height="19.8" fill="#fcd6c5"/>
<rect x="292.1" y="452.1" width="12.64" height="19.8" fill="#f7b296"/>
<rect x="304.4" y="452.1" width="12.64" height="19.8" fill="#ea8969"/>
<rect x="316.8" y="452.1" width="12.48" height="19.8" fill="#d15448"/>
<rect x="329" y="452.1" width="6.47" height="19.8" fill="#b2192b"/>
<text class="cb" x="194" y="488">-0.1</text>
<text class="cb" x="230.9" y="488">-0.04</text>
<text class="cb" x="267.6" y="488">0.02</text>
<text class="cb" x="304.4" y="488">0.08</text>
<g clip-path="url(#clip-d)">
<line x1="105.8" y1="597.2" x2="116.9" y2="582.6" stroke="#000" stroke-width="4.6"/>
<line x1="123.4" y1="571.5" x2="138" y2="558.4" stroke="#000" stroke-width="4.6"/>
<line x1="147.4" y1="550.5" x2="162.9" y2="541.7" stroke="#000" stroke-width="4.6"/>
<line x1="174" y1="533.4" x2="190.6" y2="525.8" stroke="#000" stroke-width="4.6"/>
<line x1="203.1" y1="521.4" x2="216.7" y2="518.2" stroke="#000" stroke-width="4.6"/>
<line x1="306.8" y1="600.7" x2="314.8" y2="585.8" stroke="#000" stroke-width="4.6"/>
<line x1="323.7" y1="573.9" x2="336.6" y2="562" stroke="#000" stroke-width="4.6"/>
<line x1="346.5" y1="553.1" x2="362.3" y2="543.7" stroke="#000" stroke-width="4.6"/>
<line x1="373.8" y1="535.8" x2="390.1" y2="528.3" stroke="#000" stroke-width="4.6"/>
<line x1="403" y1="523.5" x2="415.5" y2="520.3" stroke="#000" stroke-width="4.6"/>
<line x1="213.6" y1="636.9" x2="223.5" y2="650.7" stroke="#000" stroke-width="4.6"/>
<line x1="232.5" y1="661.6" x2="246.4" y2="673.1" stroke="#000" stroke-width="4.6"/>
<line x1="257.3" y1="681.9" x2="272.1" y2="691" stroke="#000" stroke-width="4.6"/>
<line x1="283.6" y1="696.9" x2="300.3" y2="704.3" stroke="#000" stroke-width="4.6"/>
<line x1="313.4" y1="708.2" x2="326.7" y2="711.2" stroke="#000" stroke-width="4.6"/>
<path d="M152.4,537.5 L163,550.7 M152.4,550.7 L163,537.5" stroke="#ff0000" stroke-width="2.25" fill="none"/>
<path d="M352.9,537.7 L363.5,550.9 M352.9,550.9 L363.5,537.7" stroke="#ff0000" stroke-width="2.25" fill="none"/>
<path d="M252.6,676.4 L263.2,689.7 M252.6,689.7 L263.2,676.4" stroke="#ff0000" stroke-width="2.25" fill="none"/>
<path d="M249.5,592.3 L262.1,592.3 M255.8,586 L255.8,598.6" stroke="#ff0000" stroke-width="2.0" fill="none"/>
<path d="M147.8,629.9 L160.4,629.9 M154.1,623.6 L154.1,636.2" stroke="#ff0000" stroke-width="2.0" fill="none"/>
<path d="M351.9,629.9 L364.5,629.9 M358.2,623.6 L358.2,636.2" stroke="#ff0000" stroke-width="2.0" fill="none"/>
</g>
<line x1="57" y1="784.7" x2="57" y2="777.1" stroke="#000" stroke-width="1.7"/>
<line x1="67.2" y1="784.7" x2="67.2" y2="780.3" stroke="#222" stroke-width="0.75"/>
<line x1="77.4" y1="784.7" x2="77.4" y2="780.3" stroke="#222" stroke-width="0.75"/>
<line x1="87.5" y1="784.7" x2="87.5" y2="780.3" stroke="#222" stroke-width="0.75"/>
<line x1="97.7" y1="784.7" x2="97.7" y2="780.3" stroke="#222" stroke-width="0.75"/>
<line x1="107.9" y1="784.7" x2="107.9" y2="777.1" stroke="#000" stroke-width="1.7"/>
<line x1="118.1" y1="784.7" x2="118.1" y2="780.3" stroke="#222" stroke-width="0.75"/>
<line x1="128.3" y1="784.7" x2="128.3" y2="780.3" stroke="#222" stroke-width="0.75"/>
<line x1="138.4" y1="784.7" x2="138.4" y2="780.3" stroke="#222" stroke-width="0.75"/>
<line x1="148.6" y1="784.7" x2="148.6" y2="780.3" stroke="#222" stroke-width="0.75"/>
<line x1="158.8" y1="784.7" x2="158.8" y2="777.1" stroke="#000" stroke-width="1.7"/>
<line x1="169" y1="784.7" x2="169" y2="780.3" stroke="#222" stroke-width="0.75"/>
<line x1="179.2" y1="784.7" x2="179.2" y2="780.3" stroke="#222" stroke-width="0.75"/>
<line x1="189.3" y1="784.7" x2="189.3" y2="780.3" stroke="#222" stroke-width="0.75"/>
<line x1="199.5" y1="784.7" x2="199.5" y2="780.3" stroke="#222" stroke-width="0.75"/>
<line x1="209.7" y1="784.7" x2="209.7" y2="777.1" stroke="#000" stroke-width="1.7"/>
<line x1="219.9" y1="784.7" x2="219.9" y2="780.3" stroke="#222" stroke-width="0.75"/>
<line x1="230.1" y1="784.7" x2="230.1" y2="780.3" stroke="#222" stroke-width="0.75"/>
<line x1="240.2" y1="784.7" x2="240.2" y2="780.3" stroke="#222" stroke-width="0.75"/>
<line x1="250.4" y1="784.7" x2="250.4" y2="780.3" stroke="#222" stroke-width="0.75"/>
<line x1="260.6" y1="784.7" x2="260.6" y2="777.1" stroke="#000" stroke-width="1.7"/>
<line x1="270.8" y1="784.7" x2="270.8" y2="780.3" stroke="#222" stroke-width="0.75"/>
<line x1="281" y1="784.7" x2="281" y2="780.3" stroke="#222" stroke-width="0.75"/>
<line x1="291.1" y1="784.7" x2="291.1" y2="780.3" stroke="#222" stroke-width="0.75"/>
<line x1="301.3" y1="784.7" x2="301.3" y2="780.3" stroke="#222" stroke-width="0.75"/>
<line x1="311.5" y1="784.7" x2="311.5" y2="777.1" stroke="#000" stroke-width="1.7"/>
<line x1="321.7" y1="784.7" x2="321.7" y2="780.3" stroke="#222" stroke-width="0.75"/>
<line x1="331.9" y1="784.7" x2="331.9" y2="780.3" stroke="#222" stroke-width="0.75"/>
<line x1="342" y1="784.7" x2="342" y2="780.3" stroke="#222" stroke-width="0.75"/>
<line x1="352.2" y1="784.7" x2="352.2" y2="780.3" stroke="#222" stroke-width="0.75"/>
<line x1="362.4" y1="784.7" x2="362.4" y2="777.1" stroke="#000" stroke-width="1.7"/>
<line x1="372.6" y1="784.7" x2="372.6" y2="780.3" stroke="#222" stroke-width="0.75"/>
<line x1="382.8" y1="784.7" x2="382.8" y2="780.3" stroke="#222" stroke-width="0.75"/>
<line x1="392.9" y1="784.7" x2="392.9" y2="780.3" stroke="#222" stroke-width="0.75"/>
<line x1="403.1" y1="784.7" x2="403.1" y2="780.3" stroke="#222" stroke-width="0.75"/>
<line x1="413.3" y1="784.7" x2="413.3" y2="777.1" stroke="#000" stroke-width="1.7"/>
<line x1="423.5" y1="784.7" x2="423.5" y2="780.3" stroke="#222" stroke-width="0.75"/>
<line x1="433.7" y1="784.7" x2="433.7" y2="780.3" stroke="#222" stroke-width="0.75"/>
<line x1="443.8" y1="784.7" x2="443.8" y2="780.3" stroke="#222" stroke-width="0.75"/>
<line x1="454" y1="784.7" x2="454" y2="780.3" stroke="#222" stroke-width="0.75"/>
<line x1="464.2" y1="784.7" x2="464.2" y2="777.1" stroke="#000" stroke-width="1.7"/>
<line x1="57" y1="449.8" x2="61.4" y2="449.8" stroke="#222" stroke-width="0.75"/>
<line x1="57" y1="459.5" x2="61.4" y2="459.5" stroke="#222" stroke-width="0.75"/>
<line x1="57" y1="469.2" x2="64.6" y2="469.2" stroke="#000" stroke-width="1.7"/>
<line x1="57" y1="478.9" x2="61.4" y2="478.9" stroke="#222" stroke-width="0.75"/>
<line x1="57" y1="488.6" x2="61.4" y2="488.6" stroke="#222" stroke-width="0.75"/>
<line x1="57" y1="498.3" x2="61.4" y2="498.3" stroke="#222" stroke-width="0.75"/>
<line x1="57" y1="508" x2="61.4" y2="508" stroke="#222" stroke-width="0.75"/>
<line x1="57" y1="517.7" x2="64.6" y2="517.7" stroke="#000" stroke-width="1.7"/>
<line x1="57" y1="527.4" x2="61.4" y2="527.4" stroke="#222" stroke-width="0.75"/>
<line x1="57" y1="537.1" x2="61.4" y2="537.1" stroke="#222" stroke-width="0.75"/>
<line x1="57" y1="546.8" x2="61.4" y2="546.8" stroke="#222" stroke-width="0.75"/>
<line x1="57" y1="556.5" x2="61.4" y2="556.5" stroke="#222" stroke-width="0.75"/>
<line x1="57" y1="566.3" x2="64.6" y2="566.3" stroke="#000" stroke-width="1.7"/>
<line x1="57" y1="576" x2="61.4" y2="576" stroke="#222" stroke-width="0.75"/>
<line x1="57" y1="585.7" x2="61.4" y2="585.7" stroke="#222" stroke-width="0.75"/>
<line x1="57" y1="595.4" x2="61.4" y2="595.4" stroke="#222" stroke-width="0.75"/>
<line x1="57" y1="605.1" x2="61.4" y2="605.1" stroke="#222" stroke-width="0.75"/>
<line x1="57" y1="614.8" x2="64.6" y2="614.8" stroke="#000" stroke-width="1.7"/>
<line x1="57" y1="624.5" x2="61.4" y2="624.5" stroke="#222" stroke-width="0.75"/>
<line x1="57" y1="634.2" x2="61.4" y2="634.2" stroke="#222" stroke-width="0.75"/>
<line x1="57" y1="643.9" x2="61.4" y2="643.9" stroke="#222" stroke-width="0.75"/>
<line x1="57" y1="653.6" x2="61.4" y2="653.6" stroke="#222" stroke-width="0.75"/>
<line x1="57" y1="663.3" x2="64.6" y2="663.3" stroke="#000" stroke-width="1.7"/>
<line x1="57" y1="673.1" x2="61.4" y2="673.1" stroke="#222" stroke-width="0.75"/>
<line x1="57" y1="682.8" x2="61.4" y2="682.8" stroke="#222" stroke-width="0.75"/>
<line x1="57" y1="692.5" x2="61.4" y2="692.5" stroke="#222" stroke-width="0.75"/>
<line x1="57" y1="702.2" x2="61.4" y2="702.2" stroke="#222" stroke-width="0.75"/>
<line x1="57" y1="711.9" x2="64.6" y2="711.9" stroke="#000" stroke-width="1.7"/>
<line x1="57" y1="721.6" x2="61.4" y2="721.6" stroke="#222" stroke-width="0.75"/>
<line x1="57" y1="731.3" x2="61.4" y2="731.3" stroke="#222" stroke-width="0.75"/>
<line x1="57" y1="741" x2="61.4" y2="741" stroke="#222" stroke-width="0.75"/>
<line x1="57" y1="750.7" x2="61.4" y2="750.7" stroke="#222" stroke-width="0.75"/>
<line x1="57" y1="760.4" x2="64.6" y2="760.4" stroke="#000" stroke-width="1.7"/>
<line x1="57" y1="770.1" x2="61.4" y2="770.1" stroke="#222" stroke-width="0.75"/>
<line x1="57" y1="779.8" x2="61.4" y2="779.8" stroke="#222" stroke-width="0.75"/>
<line x1="57" y1="789.6" x2="61.4" y2="789.6" stroke="#222" stroke-width="0.75"/>
<rect x="57" y="444.9" width="407.2" height="339.8" fill="none" stroke="#000" stroke-width="1.65"/>
<text class="tk" text-anchor="middle" x="56.7" y="802">2</text>
<text class="tk" text-anchor="middle" x="107.6" y="802">1.5</text>
<text class="tk" text-anchor="middle" x="158.5" y="802">1</text>
<text class="tk" text-anchor="middle" x="209.4" y="802">0.5</text>
<text class="tk" text-anchor="middle" x="260.3" y="802">0</text>
<text class="tk" text-anchor="middle" x="310" y="802">-0.5</text>
<text class="tk" text-anchor="middle" x="360.9" y="802">-1</text>
<text class="tk" text-anchor="middle" x="411.8" y="802">-1.5</text>
<text class="tk" text-anchor="middle" x="462.7" y="802">-2</text>
<text class="tk" text-anchor="end" x="52" y="767.3">-3</text>
<text class="tk" text-anchor="end" x="52" y="718.8">-2</text>
<text class="tk" text-anchor="end" x="52" y="670.2">-1</text>
<text class="tk" text-anchor="end" x="52" y="621.7">0</text>
<text class="tk" text-anchor="end" x="52" y="573.2">1</text>
<text class="tk" text-anchor="end" x="52" y="524.6">2</text>
<text class="tk" text-anchor="end" x="52" y="476.1">3</text>
<text class="sf" font-size="24" text-anchor="middle" x="263.1" y="819.9">ϕ(π)</text>
<text class="sf" font-size="24" font-style="italic" text-anchor="middle" transform="translate(28.6,613.6) rotate(-90)">y<tspan font-size="21" dy="-3.2">*</tspan></text>
<text class="sf" font-size="26" x="74.3" y="479.1">(d)</text>
</g>
<g id="panel-e">
<clipPath id="clip-e"><rect x="552" y="445" width="417.3" height="339.7"/></clipPath>
<g clip-path="url(#clip-e)">
<path fill="#f2f7fb" transform="translate(-208.6,0)" d="M627.3,441C618.1,447.6 621.9,474.2 617.4,484.7C613,495.1 601,503 597.6,510.4C594.2,517.9 594.3,526.2 594.6,534.2C594.9,542.3 596.2,555 599.6,564C603,572.9 609.7,587 617.4,593.7C625.2,600.4 643.1,607.1 651.1,608.6C659.2,610.1 665,606.7 671,603.6C676.9,600.5 686.8,593.7 690.8,587.8C694.8,581.8 697.3,572.9 697.7,564C698.2,555 695.4,537.2 693.8,528.3C692.1,519.4 687.3,511 686.8,504.5C686.4,497.9 691.7,491.8 690.8,484.7C689.9,477.5 682.7,463.4 680.9,456.9C679.1,450.4 686.9,443.4 678.9,441C670.9,438.7 636.6,434.5 627.3,441Z"/>
<path fill="#f2f7fb" d="M627.3,441C618.1,447.6 621.9,474.2 617.4,484.7C613,495.1 601,503 597.6,510.4C594.2,517.9 594.3,526.2 594.6,534.2C594.9,542.3 596.2,555 599.6,564C603,572.9 609.7,587 617.4,593.7C625.2,600.4 643.1,607.1 651.1,608.6C659.2,610.1 665,606.7 671,603.6C676.9,600.5 686.8,593.7 690.8,587.8C694.8,581.8 697.3,572.9 697.7,564C698.2,555 695.4,537.2 693.8,528.3C692.1,519.4 687.3,511 686.8,504.5C686.4,497.9 691.7,491.8 690.8,484.7C689.9,477.5 682.7,463.4 680.9,456.9C679.1,450.4 686.9,443.4 678.9,441C670.9,438.7 636.6,434.5 627.3,441Z"/>
<path fill="#f2f7fb" transform="translate(208.6,0)" d="M627.3,441C618.1,447.6 621.9,474.2 617.4,484.7C613,495.1 601,503 597.6,510.4C594.2,517.9 594.3,526.2 594.6,534.2C594.9,542.3 596.2,555 599.6,564C603,572.9 609.7,587 617.4,593.7C625.2,600.4 643.1,607.1 651.1,608.6C659.2,610.1 665,606.7 671,603.6C676.9,600.5 686.8,593.7 690.8,587.8C694.8,581.8 697.3,572.9 697.7,564C698.2,555 695.4,537.2 693.8,528.3C692.1,519.4 687.3,511 686.8,504.5C686.4,497.9 691.7,491.8 690.8,484.7C689.9,477.5 682.7,463.4 680.9,456.9C679.1,450.4 686.9,443.4 678.9,441C670.9,438.7 636.6,434.5 627.3,441Z"/>
<path fill="#fff5f0" transform="translate(-208.6,0)" d="M740.4,441C734.4,446.1 734.9,465.2 730.5,474.7C726,484.3 714.6,498.5 710.6,504.5C706.6,510.4 704,508.5 703.7,514.4C703.4,520.3 707.3,533.7 708.6,544.1C710,554.6 711.4,575.5 712.6,583.8C713.8,592.1 710.9,596.4 716.6,599.7C722.2,602.9 738.1,605 750.3,605.6C762.5,606.2 790.4,606.9 797.9,603.6C805.3,600.4 800.1,592.7 799.9,583.8C799.6,574.9 797.4,554.6 795.9,544.1C794.4,533.7 792.9,521.8 789.9,514.4C787,507 778.7,502 776.1,494.6C773.4,487.1 773,472.9 772.1,464.8C771.2,456.8 774.9,444.6 770.1,441C765.4,437.5 746.3,436 740.4,441Z"/>
<path fill="#fff5f0" d="M740.4,441C734.4,446.1 734.9,465.2 730.5,474.7C726,484.3 714.6,498.5 710.6,504.5C706.6,510.4 704,508.5 703.7,514.4C703.4,520.3 707.3,533.7 708.6,544.1C710,554.6 711.4,575.5 712.6,583.8C713.8,592.1 710.9,596.4 716.6,599.7C722.2,602.9 738.1,605 750.3,605.6C762.5,606.2 790.4,606.9 797.9,603.6C805.3,600.4 800.1,592.7 799.9,583.8C799.6,574.9 797.4,554.6 795.9,544.1C794.4,533.7 792.9,521.8 789.9,514.4C787,507 778.7,502 776.1,494.6C773.4,487.1 773,472.9 772.1,464.8C771.2,456.8 774.9,444.6 770.1,441C765.4,437.5 746.3,436 740.4,441Z"/>
<path fill="#fff5f0" transform="translate(208.6,0)" d="M740.4,441C734.4,446.1 734.9,465.2 730.5,474.7C726,484.3 714.6,498.5 710.6,504.5C706.6,510.4 704,508.5 703.7,514.4C703.4,520.3 707.3,533.7 708.6,544.1C710,554.6 711.4,575.5 712.6,583.8C713.8,592.1 710.9,596.4 716.6,599.7C722.2,602.9 738.1,605 750.3,605.6C762.5,606.2 790.4,606.9 797.9,603.6C805.3,600.4 800.1,592.7 799.9,583.8C799.6,574.9 797.4,554.6 795.9,544.1C794.4,533.7 792.9,521.8 789.9,514.4C787,507 778.7,502 776.1,494.6C773.4,487.1 773,472.9 772.1,464.8C771.2,456.8 774.9,444.6 770.1,441C765.4,437.5 746.3,436 740.4,441Z"/>
<path fill="#fff5f0" transform="translate(-208.6,0)" d="M596.9,676.5C597.6,670.4 599.8,651.9 601.1,644.7C602.3,637.4 600.7,630.9 605.2,628C609.8,625.1 623.5,626 631.6,625.2C639.7,624.5 651,624.4 659.3,623.2C667.6,621.9 680.4,619.1 687,616.9C693.7,614.7 699.9,610.9 703.7,608.6C707.4,606.3 709.1,602.7 712,601.7C714.9,600.6 722.7,599.4 723.1,601.7C723.5,604 716.8,612.1 714.8,616.9C712.7,621.7 711.5,628.4 709.2,633.6C706.9,638.8 701.6,644.7 699.5,651.6C697.4,658.4 697.5,673.6 695.3,679.3C693.1,685 686.1,682.2 684.8,689.4C683.6,696.6 687.4,716.7 686.8,727.1C686.2,737.5 683.3,749.3 680.9,758.8C678.5,768.3 676.6,785.8 671,790.5C665.3,795.3 649.5,793.8 643.2,790.5C637,787.3 633.2,775.8 629.3,768.7C625.5,761.6 621.6,751 617.4,742.9C613.3,734.9 604.7,723.8 601.6,715.2C598.4,706.5 597.3,691.2 596.6,685.4C595.9,679.6 596.3,682.7 596.9,676.5Z"/>
<path fill="#fff5f0" d="M596.9,676.5C597.6,670.4 599.8,651.9 601.1,644.7C602.3,637.4 600.7,630.9 605.2,628C609.8,625.1 623.5,626 631.6,625.2C639.7,624.5 651,624.4 659.3,623.2C667.6,621.9 680.4,619.1 687,616.9C693.7,614.7 699.9,610.9 703.7,608.6C707.4,606.3 709.1,602.7 712,601.7C714.9,600.6 722.7,599.4 723.1,601.7C723.5,604 716.8,612.1 714.8,616.9C712.7,621.7 711.5,628.4 709.2,633.6C706.9,638.8 701.6,644.7 699.5,651.6C697.4,658.4 697.5,673.6 695.3,679.3C693.1,685 686.1,682.2 684.8,689.4C683.6,696.6 687.4,716.7 686.8,727.1C686.2,737.5 683.3,749.3 680.9,758.8C678.5,768.3 676.6,785.8 671,790.5C665.3,795.3 649.5,793.8 643.2,790.5C637,787.3 633.2,775.8 629.3,768.7C625.5,761.6 621.6,751 617.4,742.9C613.3,734.9 604.7,723.8 601.6,715.2C598.4,706.5 597.3,691.2 596.6,685.4C595.9,679.6 596.3,682.7 596.9,676.5Z"/>
<path fill="#fff5f0" transform="translate(208.6,0)" d="M596.9,676.5C597.6,670.4 599.8,651.9 601.1,644.7C602.3,637.4 600.7,630.9 605.2,628C609.8,625.1 623.5,626 631.6,625.2C639.7,624.5 651,624.4 659.3,623.2C667.6,621.9 680.4,619.1 687,616.9C693.7,614.7 699.9,610.9 703.7,608.6C707.4,606.3 709.1,602.7 712,601.7C714.9,600.6 722.7,599.4 723.1,601.7C723.5,604 716.8,612.1 714.8,616.9C712.7,621.7 711.5,628.4 709.2,633.6C706.9,638.8 701.6,644.7 699.5,651.6C697.4,658.4 697.5,673.6 695.3,679.3C693.1,685 686.1,682.2 684.8,689.4C683.6,696.6 687.4,716.7 686.8,727.1C686.2,737.5 683.3,749.3 680.9,758.8C678.5,768.3 676.6,785.8 671,790.5C665.3,795.3 649.5,793.8 643.2,790.5C637,787.3 633.2,775.8 629.3,768.7C625.5,761.6 621.6,751 617.4,742.9C613.3,734.9 604.7,723.8 601.6,715.2C598.4,706.5 597.3,691.2 596.6,685.4C595.9,679.6 596.3,682.7 596.9,676.5Z"/>
<path fill="#f2f7fb" transform="translate(-208.6,0)" d="M716.6,639.8C711.2,645.8 707.4,656.5 704.7,663.6C702,670.8 699,680.6 698.7,687.4C698.4,694.3 700,701.5 702.7,709.2C705.4,717 712.7,730.9 716.6,739C720.4,747 725.2,755 728.5,762.8C731.7,770.5 730.9,786.4 738.4,790.5C745.8,794.7 771.5,792.6 778,790.5C784.6,788.4 779.9,782.9 782,776.6C784.1,770.4 790.3,759.6 791.9,748.9C793.6,738.2 791.7,717.2 792.9,705.3C794.1,693.4 798.7,678.5 799.9,669.6C801,660.6 802.9,652 800.8,645.8C798.8,639.5 792.1,631.8 786,627.9C779.9,624.1 767,620.6 760.2,620C753.4,619.4 746.9,621 740.4,624C733.8,626.9 721.9,633.9 716.6,639.8Z"/>
<path fill="#f2f7fb" d="M716.6,639.8C711.2,645.8 707.4,656.5 704.7,663.6C702,670.8 699,680.6 698.7,687.4C698.4,694.3 700,701.5 702.7,709.2C705.4,717 712.7,730.9 716.6,739C720.4,747 725.2,755 728.5,762.8C731.7,770.5 730.9,786.4 738.4,790.5C745.8,794.7 771.5,792.6 778,790.5C784.6,788.4 779.9,782.9 782,776.6C784.1,770.4 790.3,759.6 791.9,748.9C793.6,738.2 791.7,717.2 792.9,705.3C794.1,693.4 798.7,678.5 799.9,669.6C801,660.6 802.9,652 800.8,645.8C798.8,639.5 792.1,631.8 786,627.9C779.9,624.1 767,620.6 760.2,620C753.4,619.4 746.9,621 740.4,624C733.8,626.9 721.9,633.9 716.6,639.8Z"/>
<path fill="#f2f7fb" transform="translate(208.6,0)" d="M716.6,639.8C711.2,645.8 707.4,656.5 704.7,663.6C702,670.8 699,680.6 698.7,687.4C698.4,694.3 700,701.5 702.7,709.2C705.4,717 712.7,730.9 716.6,739C720.4,747 725.2,755 728.5,762.8C731.7,770.5 730.9,786.4 738.4,790.5C745.8,794.7 771.5,792.6 778,790.5C784.6,788.4 779.9,782.9 782,776.6C784.1,770.4 790.3,759.6 791.9,748.9C793.6,738.2 791.7,717.2 792.9,705.3C794.1,693.4 798.7,678.5 799.9,669.6C801,660.6 802.9,652 800.8,645.8C798.8,639.5 792.1,631.8 786,627.9C779.9,624.1 767,620.6 760.2,620C753.4,619.4 746.9,621 740.4,624C733.8,626.9 721.9,633.9 716.6,639.8Z"/>
<path fill="#c2dcec" transform="translate(-208.6,0)" d="M600.6,528.3C600.9,521.7 602.4,513.8 605.5,508.5C608.7,503.1 615.2,496.5 621.4,492.6C627.6,488.7 640.6,483.3 647.2,482.7C653.7,482.1 660.9,485.4 665,488.6C669.2,491.9 672.3,498.5 674.9,504.5C677.6,510.4 680.2,521.7 682.9,528.3C685.5,534.8 691.1,542.2 692.8,548.1C694.4,554.1 694.7,562 693.8,567.9C692.9,573.9 690.3,583 686.8,587.8C683.4,592.5 676.3,597.6 671,599.7C665.6,601.7 657.1,602.8 651.1,601.6C645.2,600.5 637,595.9 631.3,591.7C625.7,587.6 617.6,579.8 613.5,573.9C609.3,567.9 605.5,558.9 603.6,552.1C601.6,545.2 600.3,534.8 600.6,528.3Z"/>
<path fill="#c2dcec" d="M600.6,528.3C600.9,521.7 602.4,513.8 605.5,508.5C608.7,503.1 615.2,496.5 621.4,492.6C627.6,488.7 640.6,483.3 647.2,482.7C653.7,482.1 660.9,485.4 665,488.6C669.2,491.9 672.3,498.5 674.9,504.5C677.6,510.4 680.2,521.7 682.9,528.3C685.5,534.8 691.1,542.2 692.8,548.1C694.4,554.1 694.7,562 693.8,567.9C692.9,573.9 690.3,583 686.8,587.8C683.4,592.5 676.3,597.6 671,599.7C665.6,601.7 657.1,602.8 651.1,601.6C645.2,600.5 637,595.9 631.3,591.7C625.7,587.6 617.6,579.8 613.5,573.9C609.3,567.9 605.5,558.9 603.6,552.1C601.6,545.2 600.3,534.8 600.6,528.3Z"/>
<path fill="#c2dcec" transform="translate(208.6,0)" d="M600.6,528.3C600.9,521.7 602.4,513.8 605.5,508.5C608.7,503.1 615.2,496.5 621.4,492.6C627.6,488.7 640.6,483.3 647.2,482.7C653.7,482.1 660.9,485.4 665,488.6C669.2,491.9 672.3,498.5 674.9,504.5C677.6,510.4 680.2,521.7 682.9,528.3C685.5,534.8 691.1,542.2 692.8,548.1C694.4,554.1 694.7,562 693.8,567.9C692.9,573.9 690.3,583 686.8,587.8C683.4,592.5 676.3,597.6 671,599.7C665.6,601.7 657.1,602.8 651.1,601.6C645.2,600.5 637,595.9 631.3,591.7C625.7,587.6 617.6,579.8 613.5,573.9C609.3,567.9 605.5,558.9 603.6,552.1C601.6,545.2 600.3,534.8 600.6,528.3Z"/>
<path fill="#fee5d9" transform="translate(-208.6,0)" d="M705,539.9C705,532.4 705.3,524.2 707.8,517.7C710.3,511.3 715.3,500.7 721.7,496.9C728.1,493.2 743.6,492.9 750.3,492.6C757,492.2 761.1,492.9 766.1,494.6C771.2,496.3 780.1,498.3 784.1,503.9C788,509.4 790.5,523.9 792.4,531.6C794.2,539.3 796.1,548.1 796.5,555.1C797,562.2 797,572.9 795.1,578.7C793.3,584.5 789.9,591.2 784.1,594C778.2,596.8 764.7,597 756.3,597.4C748,597.8 734.9,598.3 728.6,596.7C722.4,595.2 717.9,591.4 714.8,587C711.6,582.7 709.3,574.7 707.8,567.6C706.4,560.6 705,547.4 705,539.9Z"/>
<path fill="#fee5d9" d="M705,539.9C705,532.4 705.3,524.2 707.8,517.7C710.3,511.3 715.3,500.7 721.7,496.9C728.1,493.2 743.6,492.9 750.3,492.6C757,492.2 761.1,492.9 766.1,494.6C771.2,496.3 780.1,498.3 784.1,503.9C788,509.4 790.5,523.9 792.4,531.6C794.2,539.3 796.1,548.1 796.5,555.1C797,562.2 797,572.9 795.1,578.7C793.3,584.5 789.9,591.2 784.1,594C778.2,596.8 764.7,597 756.3,597.4C748,597.8 734.9,598.3 728.6,596.7C722.4,595.2 717.9,591.4 714.8,587C711.6,582.7 709.3,574.7 707.8,567.6C706.4,560.6 705,547.4 705,539.9Z"/>
<path fill="#fee5d9" transform="translate(208.6,0)" d="M705,539.9C705,532.4 705.3,524.2 707.8,517.7C710.3,511.3 715.3,500.7 721.7,496.9C728.1,493.2 743.6,492.9 750.3,492.6C757,492.2 761.1,492.9 766.1,494.6C771.2,496.3 780.1,498.3 784.1,503.9C788,509.4 790.5,523.9 792.4,531.6C794.2,539.3 796.1,548.1 796.5,555.1C797,562.2 797,572.9 795.1,578.7C793.3,584.5 789.9,591.2 784.1,594C778.2,596.8 764.7,597 756.3,597.4C748,597.8 734.9,598.3 728.6,596.7C722.4,595.2 717.9,591.4 714.8,587C711.6,582.7 709.3,574.7 707.8,567.6C706.4,560.6 705,547.4 705,539.9Z"/>
<path fill="#fee5d9" transform="translate(-208.6,0)" d="M607.1,639.8C605.6,646.7 602,666 601.6,675.5C601.2,685 602.8,696.1 604.5,703.3C606.3,710.4 609.5,718.1 613.5,723.1C617.5,728.2 625.7,733.7 631.3,737C637,740.3 645.8,745.3 651.1,745.3C656.5,745.3 663.3,740.3 667,737C670.7,733.7 674.1,728.2 675.9,723.1C677.7,718.1 677.3,711.3 678.9,703.3C680.5,695.2 684.5,679.7 686.8,669.6C689.2,659.5 694.5,642.4 694.8,635.9C695.1,629.3 695.4,626.7 688.8,625.9C682.3,625.2 662.7,630.4 651.1,630.9C639.5,631.4 618.1,628.2 611.5,629.5C604.9,630.9 608.6,632.9 607.1,639.8Z"/>
<path fill="#fee5d9" d="M607.1,639.8C605.6,646.7 602,666 601.6,675.5C601.2,685 602.8,696.1 604.5,703.3C606.3,710.4 609.5,718.1 613.5,723.1C617.5,728.2 625.7,733.7 631.3,737C637,740.3 645.8,745.3 651.1,745.3C656.5,745.3 663.3,740.3 667,737C670.7,733.7 674.1,728.2 675.9,723.1C677.7,718.1 677.3,711.3 678.9,703.3C680.5,695.2 684.5,679.7 686.8,669.6C689.2,659.5 694.5,642.4 694.8,635.9C695.1,629.3 695.4,626.7 688.8,625.9C682.3,625.2 662.7,630.4 651.1,630.9C639.5,631.4 618.1,628.2 611.5,629.5C604.9,630.9 608.6,632.9 607.1,639.8Z"/>
<path fill="#fee5d9" transform="translate(208.6,0)" d="M607.1,639.8C605.6,646.7 602,666 601.6,675.5C601.2,685 602.8,696.1 604.5,703.3C606.3,710.4 609.5,718.1 613.5,723.1C617.5,728.2 625.7,733.7 631.3,737C637,740.3 645.8,745.3 651.1,745.3C656.5,745.3 663.3,740.3 667,737C670.7,733.7 674.1,728.2 675.9,723.1C677.7,718.1 677.3,711.3 678.9,703.3C680.5,695.2 684.5,679.7 686.8,669.6C689.2,659.5 694.5,642.4 694.8,635.9C695.1,629.3 695.4,626.7 688.8,625.9C682.3,625.2 662.7,630.4 651.1,630.9C639.5,631.4 618.1,628.2 611.5,629.5C604.9,630.9 608.6,632.9 607.1,639.8Z"/>
<path fill="#c2dcec" transform="translate(-208.6,0)" d="M702.7,685.4C702.7,679.5 705.4,671.6 708.6,665.6C711.9,659.7 718.3,651.1 724.5,645.8C730.8,640.4 744.6,632.7 750.3,629.9C755.9,627.1 757.7,626.6 762.2,626.9C766.6,627.2 775.3,629.1 780,631.9C784.8,634.7 791.4,640.1 793.9,645.8C796.4,651.4 798.1,660.6 796.9,669.6C795.7,678.5 789.1,695.1 786,705.3C782.8,715.4 780.2,730.6 776.1,737C771.9,743.4 763.6,747.3 758.2,747.9C752.9,748.5 746,744.7 740.4,741C734.7,737.2 725.3,728.5 720.5,723.1C715.8,717.8 711.3,710.9 708.6,705.3C706,699.6 702.7,691.4 702.7,685.4Z"/>
<path fill="#c2dcec" d="M702.7,685.4C702.7,679.5 705.4,671.6 708.6,665.6C711.9,659.7 718.3,651.1 724.5,645.8C730.8,640.4 744.6,632.7 750.3,629.9C755.9,627.1 757.7,626.6 762.2,626.9C766.6,627.2 775.3,629.1 780,631.9C784.8,634.7 791.4,640.1 793.9,645.8C796.4,651.4 798.1,660.6 796.9,669.6C795.7,678.5 789.1,695.1 786,705.3C782.8,715.4 780.2,730.6 776.1,737C771.9,743.4 763.6,747.3 758.2,747.9C752.9,748.5 746,744.7 740.4,741C734.7,737.2 725.3,728.5 720.5,723.1C715.8,717.8 711.3,710.9 708.6,705.3C706,699.6 702.7,691.4 702.7,685.4Z"/>
<path fill="#c2dcec" transform="translate(208.6,0)" d="M702.7,685.4C702.7,679.5 705.4,671.6 708.6,665.6C711.9,659.7 718.3,651.1 724.5,645.8C730.8,640.4 744.6,632.7 750.3,629.9C755.9,627.1 757.7,626.6 762.2,626.9C766.6,627.2 775.3,629.1 780,631.9C784.8,634.7 791.4,640.1 793.9,645.8C796.4,651.4 798.1,660.6 796.9,669.6C795.7,678.5 789.1,695.1 786,705.3C782.8,715.4 780.2,730.6 776.1,737C771.9,743.4 763.6,747.3 758.2,747.9C752.9,748.5 746,744.7 740.4,741C734.7,737.2 725.3,728.5 720.5,723.1C715.8,717.8 711.3,710.9 708.6,705.3C706,699.6 702.7,691.4 702.7,685.4Z"/>
<path fill="#97c3de" transform="translate(-208.6,0)" d="M605.9,545.4C606,540.7 605.8,532.6 608,527.4C610.2,522.2 614.9,515 620.5,510.8C626.1,506.6 639.2,500.6 645.4,499.7C651.7,498.8 658.1,502.1 662.1,504.6C666,507 669.1,512.3 671.8,516.3C674.5,520.4 677.6,526.4 680.1,531.6C682.6,536.8 687.2,545.2 688.4,551C689.7,556.8 689.7,565.2 688.4,570.4C687.2,575.6 684,582 680.1,585.6C676.1,589.3 667.3,593.4 662.1,594.7C656.9,595.9 650.6,595.1 645.4,594C640.2,592.8 632.2,589.9 627.4,587C622.6,584.1 616.6,578.7 613.6,574.6C610.5,570.4 608.5,563.7 607.3,559.3C606.2,554.9 605.8,550.2 605.9,545.4Z"/>
<path fill="#97c3de" d="M605.9,545.4C606,540.7 605.8,532.6 608,527.4C610.2,522.2 614.9,515 620.5,510.8C626.1,506.6 639.2,500.6 645.4,499.7C651.7,498.8 658.1,502.1 662.1,504.6C666,507 669.1,512.3 671.8,516.3C674.5,520.4 677.6,526.4 680.1,531.6C682.6,536.8 687.2,545.2 688.4,551C689.7,556.8 689.7,565.2 688.4,570.4C687.2,575.6 684,582 680.1,585.6C676.1,589.3 667.3,593.4 662.1,594.7C656.9,595.9 650.6,595.1 645.4,594C640.2,592.8 632.2,589.9 627.4,587C622.6,584.1 616.6,578.7 613.6,574.6C610.5,570.4 608.5,563.7 607.3,559.3C606.2,554.9 605.8,550.2 605.9,545.4Z"/>
<path fill="#97c3de" transform="translate(208.6,0)" d="M605.9,545.4C606,540.7 605.8,532.6 608,527.4C610.2,522.2 614.9,515 620.5,510.8C626.1,506.6 639.2,500.6 645.4,499.7C651.7,498.8 658.1,502.1 662.1,504.6C666,507 669.1,512.3 671.8,516.3C674.5,520.4 677.6,526.4 680.1,531.6C682.6,536.8 687.2,545.2 688.4,551C689.7,556.8 689.7,565.2 688.4,570.4C687.2,575.6 684,582 680.1,585.6C676.1,589.3 667.3,593.4 662.1,594.7C656.9,595.9 650.6,595.1 645.4,594C640.2,592.8 632.2,589.9 627.4,587C622.6,584.1 616.6,578.7 613.6,574.6C610.5,570.4 608.5,563.7 607.3,559.3C606.2,554.9 605.8,550.2 605.9,545.4Z"/>
<path fill="#fbcfbb" transform="translate(-208.6,0)" d="M709.2,542.7C709.6,535.6 711.8,523.5 714.8,517.7C717.7,511.9 723,506.7 728.6,503.9C734.2,501.1 745.5,498.6 752.2,499C758.8,499.4 767.8,501.7 773,506.6C778.2,511.5 783.9,524.3 786.8,531.6C789.7,538.9 791.8,548.5 792.4,555.1C793,561.8 792.7,570.7 791,575.9C789.3,581.1 786.5,587.1 781.3,589.8C776.1,592.5 763.4,593.5 756.3,594C749.3,594.4 739.8,594.4 734.2,592.6C728.5,590.7 722.2,585.6 718.9,581.5C715.6,577.3 713.4,570.7 712,564.9C710.5,559 708.8,549.7 709.2,542.7Z"/>
<path fill="#fbcfbb" d="M709.2,542.7C709.6,535.6 711.8,523.5 714.8,517.7C717.7,511.9 723,506.7 728.6,503.9C734.2,501.1 745.5,498.6 752.2,499C758.8,499.4 767.8,501.7 773,506.6C778.2,511.5 783.9,524.3 786.8,531.6C789.7,538.9 791.8,548.5 792.4,555.1C793,561.8 792.7,570.7 791,575.9C789.3,581.1 786.5,587.1 781.3,589.8C776.1,592.5 763.4,593.5 756.3,594C749.3,594.4 739.8,594.4 734.2,592.6C728.5,590.7 722.2,585.6 718.9,581.5C715.6,577.3 713.4,570.7 712,564.9C710.5,559 708.8,549.7 709.2,542.7Z"/>
<path fill="#fbcfbb" transform="translate(208.6,0)" d="M709.2,542.7C709.6,535.6 711.8,523.5 714.8,517.7C717.7,511.9 723,506.7 728.6,503.9C734.2,501.1 745.5,498.6 752.2,499C758.8,499.4 767.8,501.7 773,506.6C778.2,511.5 783.9,524.3 786.8,531.6C789.7,538.9 791.8,548.5 792.4,555.1C793,561.8 792.7,570.7 791,575.9C789.3,581.1 786.5,587.1 781.3,589.8C776.1,592.5 763.4,593.5 756.3,594C749.3,594.4 739.8,594.4 734.2,592.6C728.5,590.7 722.2,585.6 718.9,581.5C715.6,577.3 713.4,570.7 712,564.9C710.5,559 708.8,549.7 709.2,542.7Z"/>
<path fill="#fbcfbb" transform="translate(-208.6,0)" d="M605,677.9C605,671.7 606.1,657.6 608,651.6C609.9,645.6 612.1,640.4 617.7,637.7C623.3,635.1 637.1,634.4 645.4,633.8C653.8,633.3 667.1,632.8 673.2,634.3C679.2,635.7 683.4,639 685.6,643.3C687.9,647.5 688.6,656 688.4,662.7C688.2,669.3 686.1,681 684.3,687.6C682.4,694.3 678.6,702.5 675.9,707C673.2,711.6 670.4,715.5 666.2,718.1C662.1,720.7 653.4,724.1 648.2,724.4C643,724.6 636.2,721.7 631.6,719.5C627,717.3 621.3,713.8 617.7,709.8C614.2,705.9 609.9,698 608,693.2C606.1,688.4 605,684.2 605,677.9Z"/>
<path fill="#fbcfbb" d="M605,677.9C605,671.7 606.1,657.6 608,651.6C609.9,645.6 612.1,640.4 617.7,637.7C623.3,635.1 637.1,634.4 645.4,633.8C653.8,633.3 667.1,632.8 673.2,634.3C679.2,635.7 683.4,639 685.6,643.3C687.9,647.5 688.6,656 688.4,662.7C688.2,669.3 686.1,681 684.3,687.6C682.4,694.3 678.6,702.5 675.9,707C673.2,711.6 670.4,715.5 666.2,718.1C662.1,720.7 653.4,724.1 648.2,724.4C643,724.6 636.2,721.7 631.6,719.5C627,717.3 621.3,713.8 617.7,709.8C614.2,705.9 609.9,698 608,693.2C606.1,688.4 605,684.2 605,677.9Z"/>
<path fill="#fbcfbb" transform="translate(208.6,0)" d="M605,677.9C605,671.7 606.1,657.6 608,651.6C609.9,645.6 612.1,640.4 617.7,637.7C623.3,635.1 637.1,634.4 645.4,633.8C653.8,633.3 667.1,632.8 673.2,634.3C679.2,635.7 683.4,639 685.6,643.3C687.9,647.5 688.6,656 688.4,662.7C688.2,669.3 686.1,681 684.3,687.6C682.4,694.3 678.6,702.5 675.9,707C673.2,711.6 670.4,715.5 666.2,718.1C662.1,720.7 653.4,724.1 648.2,724.4C643,724.6 636.2,721.7 631.6,719.5C627,717.3 621.3,713.8 617.7,709.8C614.2,705.9 609.9,698 608,693.2C606.1,688.4 605,684.2 605,677.9Z"/>
<path fill="#97c3de" transform="translate(-208.6,0)" d="M709.2,671C709.2,665.2 710.9,658.9 713.4,654.4C715.9,649.8 719.8,644.5 725.8,640.5C731.9,636.4 745.7,628.4 753.6,627.3C761.5,626.3 772.5,629.9 778.5,633.6C784.5,637.2 791.1,645.8 793.8,651.6C796.5,657.4 796.5,666.1 796.5,672.4C796.5,678.6 795.8,687.1 793.8,693.2C791.7,699.2 788.6,707.5 782.7,712.6C776.7,717.7 760.9,726.1 754.2,727.1C747.6,728.1 743.1,721.7 738.4,719.1C733.7,716.6 726.8,713.7 723.1,709.8C719.3,705.9 715.4,699 713.4,693.2C711.3,687.3 709.2,676.8 709.2,671Z"/>
<path fill="#97c3de" d="M709.2,671C709.2,665.2 710.9,658.9 713.4,654.4C715.9,649.8 719.8,644.5 725.8,640.5C731.9,636.4 745.7,628.4 753.6,627.3C761.5,626.3 772.5,629.9 778.5,633.6C784.5,637.2 791.1,645.8 793.8,651.6C796.5,657.4 796.5,666.1 796.5,672.4C796.5,678.6 795.8,687.1 793.8,693.2C791.7,699.2 788.6,707.5 782.7,712.6C776.7,717.7 760.9,726.1 754.2,727.1C747.6,728.1 743.1,721.7 738.4,719.1C733.7,716.6 726.8,713.7 723.1,709.8C719.3,705.9 715.4,699 713.4,693.2C711.3,687.3 709.2,676.8 709.2,671Z"/>
<path fill="#97c3de" transform="translate(208.6,0)" d="M709.2,671C709.2,665.2 710.9,658.9 713.4,654.4C715.9,649.8 719.8,644.5 725.8,640.5C731.9,636.4 745.7,628.4 753.6,627.3C761.5,626.3 772.5,629.9 778.5,633.6C784.5,637.2 791.1,645.8 793.8,651.6C796.5,657.4 796.5,666.1 796.5,672.4C796.5,678.6 795.8,687.1 793.8,693.2C791.7,699.2 788.6,707.5 782.7,712.6C776.7,717.7 760.9,726.1 754.2,727.1C747.6,728.1 743.1,721.7 738.4,719.1C733.7,716.6 726.8,713.7 723.1,709.8C719.3,705.9 715.4,699 713.4,693.2C711.3,687.3 709.2,676.8 709.2,671Z"/>
<path fill="#72acd3" transform="translate(-208.6,0)" d="M611.5,548.2C611.7,543.4 612.8,534.8 615,530.2C617.1,525.6 621.5,520.5 626,517.7C630.6,514.9 640.5,511.9 645.4,511.5C650.4,511.1 655.6,512.8 659.3,515C663,517.1 667.3,522.1 670.4,526C673.5,530 677.9,536.7 680.1,541.3C682.3,545.9 684.5,551.8 685,556.5C685.4,561.3 685.1,569 682.9,573.2C680.7,577.3 674.8,582.1 670.4,584.3C666,586.4 658.8,587.5 653.8,587.7C648.8,587.9 641.9,587.4 637.1,585.6C632.3,583.9 625.4,579.5 621.9,575.9C618.3,572.4 615.1,566.2 613.6,562.1C612,557.9 611.3,553 611.5,548.2Z"/>
<path fill="#72acd3" d="M611.5,548.2C611.7,543.4 612.8,534.8 615,530.2C617.1,525.6 621.5,520.5 626,517.7C630.6,514.9 640.5,511.9 645.4,511.5C650.4,511.1 655.6,512.8 659.3,515C663,517.1 667.3,522.1 670.4,526C673.5,530 677.9,536.7 680.1,541.3C682.3,545.9 684.5,551.8 685,556.5C685.4,561.3 685.1,569 682.9,573.2C680.7,577.3 674.8,582.1 670.4,584.3C666,586.4 658.8,587.5 653.8,587.7C648.8,587.9 641.9,587.4 637.1,585.6C632.3,583.9 625.4,579.5 621.9,575.9C618.3,572.4 615.1,566.2 613.6,562.1C612,557.9 611.3,553 611.5,548.2Z"/>
<path fill="#72acd3" transform="translate(208.6,0)" d="M611.5,548.2C611.7,543.4 612.8,534.8 615,530.2C617.1,525.6 621.5,520.5 626,517.7C630.6,514.9 640.5,511.9 645.4,511.5C650.4,511.1 655.6,512.8 659.3,515C663,517.1 667.3,522.1 670.4,526C673.5,530 677.9,536.7 680.1,541.3C682.3,545.9 684.5,551.8 685,556.5C685.4,561.3 685.1,569 682.9,573.2C680.7,577.3 674.8,582.1 670.4,584.3C666,586.4 658.8,587.5 653.8,587.7C648.8,587.9 641.9,587.4 637.1,585.6C632.3,583.9 625.4,579.5 621.9,575.9C618.3,572.4 615.1,566.2 613.6,562.1C612,557.9 611.3,553 611.5,548.2Z"/>
<path fill="#f7b296" transform="translate(-208.6,0)" d="M713.4,545.4C713.9,539.8 716,529.9 718.9,524.7C721.8,519.5 727.8,513.2 732.8,510.8C737.8,508.4 746.6,508.1 752.2,508.7C757.8,509.3 765.4,510.9 770.2,515C775,519 781.4,529.7 784.1,535.7C786.8,541.8 787.8,549.5 788.2,555.1C788.6,560.8 788.5,568.6 786.8,573.2C785.2,577.7 781.7,583.1 777.1,585.6C772.6,588.1 762.6,589.6 756.3,589.8C750.1,590 740.7,589.1 735.5,587C730.3,585 724.7,579.7 721.7,575.9C718.7,572.2 716.7,566.7 715.4,562.1C714.2,557.5 712.8,551.1 713.4,545.4Z"/>
<path fill="#f7b296" d="M713.4,545.4C713.9,539.8 716,529.9 718.9,524.7C721.8,519.5 727.8,513.2 732.8,510.8C737.8,508.4 746.6,508.1 752.2,508.7C757.8,509.3 765.4,510.9 770.2,515C775,519 781.4,529.7 784.1,535.7C786.8,541.8 787.8,549.5 788.2,555.1C788.6,560.8 788.5,568.6 786.8,573.2C785.2,577.7 781.7,583.1 777.1,585.6C772.6,588.1 762.6,589.6 756.3,589.8C750.1,590 740.7,589.1 735.5,587C730.3,585 724.7,579.7 721.7,575.9C718.7,572.2 716.7,566.7 715.4,562.1C714.2,557.5 712.8,551.1 713.4,545.4Z"/>
<path fill="#f7b296" transform="translate(208.6,0)" d="M713.4,545.4C713.9,539.8 716,529.9 718.9,524.7C721.8,519.5 727.8,513.2 732.8,510.8C737.8,508.4 746.6,508.1 752.2,508.7C757.8,509.3 765.4,510.9 770.2,515C775,519 781.4,529.7 784.1,535.7C786.8,541.8 787.8,549.5 788.2,555.1C788.6,560.8 788.5,568.6 786.8,573.2C785.2,577.7 781.7,583.1 777.1,585.6C772.6,588.1 762.6,589.6 756.3,589.8C750.1,590 740.7,589.1 735.5,587C730.3,585 724.7,579.7 721.7,575.9C718.7,572.2 716.7,566.7 715.4,562.1C714.2,557.5 712.8,551.1 713.4,545.4Z"/>
<path fill="#f7b296" transform="translate(-208.6,0)" d="M608.7,677.9C608.1,671.7 610,661.1 612.2,655.7C614.4,650.3 618.3,644.5 623.3,641.9C628.3,639.3 638.8,638.7 645.4,638.4C652.1,638.1 662.2,638.2 667.6,639.8C673,641.4 679,645 681.5,648.8C684,652.7 684.5,660 684.3,665.4C684,670.9 682.4,679 680.1,684.9C677.8,690.7 673.6,699.8 669,704.3C664.4,708.7 655.2,713.8 649.6,714.7C644,715.5 636.6,712.4 631.6,709.8C626.6,707.2 619.8,702.1 616.3,697.3C612.9,692.5 609.3,684.2 608.7,677.9Z"/>
<path fill="#f7b296" d="M608.7,677.9C608.1,671.7 610,661.1 612.2,655.7C614.4,650.3 618.3,644.5 623.3,641.9C628.3,639.3 638.8,638.7 645.4,638.4C652.1,638.1 662.2,638.2 667.6,639.8C673,641.4 679,645 681.5,648.8C684,652.7 684.5,660 684.3,665.4C684,670.9 682.4,679 680.1,684.9C677.8,690.7 673.6,699.8 669,704.3C664.4,708.7 655.2,713.8 649.6,714.7C644,715.5 636.6,712.4 631.6,709.8C626.6,707.2 619.8,702.1 616.3,697.3C612.9,692.5 609.3,684.2 608.7,677.9Z"/>
<path fill="#f7b296" transform="translate(208.6,0)" d="M608.7,677.9C608.1,671.7 610,661.1 612.2,655.7C614.4,650.3 618.3,644.5 623.3,641.9C628.3,639.3 638.8,638.7 645.4,638.4C652.1,638.1 662.2,638.2 667.6,639.8C673,641.4 679,645 681.5,648.8C684,652.7 684.5,660 684.3,665.4C684,670.9 682.4,679 680.1,684.9C677.8,690.7 673.6,699.8 669,704.3C664.4,708.7 655.2,713.8 649.6,714.7C644,715.5 636.6,712.4 631.6,709.8C626.6,707.2 619.8,702.1 616.3,697.3C612.9,692.5 609.3,684.2 608.7,677.9Z"/>
<path fill="#72acd3" transform="translate(-208.6,0)" d="M714.1,672.4C713.9,666.1 716.3,660.1 718.9,655.7C721.5,651.4 725.8,646.7 731.4,643.3C737,639.8 749.7,633.5 756.3,632.9C763,632.2 771,636.1 775.7,639.1C780.5,642.1 785.8,648 788.2,653C790.6,658 791.7,666.6 791.7,672.4C791.7,678.2 790.6,686.6 788.2,691.8C785.8,697 780.9,703.8 775.7,707C770.5,710.3 759.8,712.9 753.6,713.3C747.3,713.7 739.1,712.2 734.2,709.8C729.2,707.4 723.3,702.9 720.3,697.3C717.3,691.7 714.3,678.6 714.1,672.4Z"/>
<path fill="#72acd3" d="M714.1,672.4C713.9,666.1 716.3,660.1 718.9,655.7C721.5,651.4 725.8,646.7 731.4,643.3C737,639.8 749.7,633.5 756.3,632.9C763,632.2 771,636.1 775.7,639.1C780.5,642.1 785.8,648 788.2,653C790.6,658 791.7,666.6 791.7,672.4C791.7,678.2 790.6,686.6 788.2,691.8C785.8,697 780.9,703.8 775.7,707C770.5,710.3 759.8,712.9 753.6,713.3C747.3,713.7 739.1,712.2 734.2,709.8C729.2,707.4 723.3,702.9 720.3,697.3C717.3,691.7 714.3,678.6 714.1,672.4Z"/>
<path fill="#72acd3" transform="translate(208.6,0)" d="M714.1,672.4C713.9,666.1 716.3,660.1 718.9,655.7C721.5,651.4 725.8,646.7 731.4,643.3C737,639.8 749.7,633.5 756.3,632.9C763,632.2 771,636.1 775.7,639.1C780.5,642.1 785.8,648 788.2,653C790.6,658 791.7,666.6 791.7,672.4C791.7,678.2 790.6,686.6 788.2,691.8C785.8,697 780.9,703.8 775.7,707C770.5,710.3 759.8,712.9 753.6,713.3C747.3,713.7 739.1,712.2 734.2,709.8C729.2,707.4 723.3,702.9 720.3,697.3C717.3,691.7 714.3,678.6 714.1,672.4Z"/>
<path fill="#5596c7" transform="translate(-208.6,0)" d="M617.7,549.6C618,545.2 619.6,536.9 621.9,533C624.2,529 629.4,525.2 633,523.3C636.5,521.3 641.7,519.7 645.4,519.8C649.2,519.9 654.4,521.8 657.9,524C661.5,526.1 665.9,530.5 669,534.4C672.1,538.2 677,545.4 678.7,549.6C680.4,553.8 680.7,558.5 680.1,562.1C679.5,565.6 677.7,570.4 674.6,573.2C671.4,576 663.7,579.8 659.3,580.8C654.9,581.8 650,581.2 645.4,580.1C640.9,579 632.7,575.9 628.8,573.2C625,570.5 621.5,565.6 619.8,562.1C618.1,558.5 617.4,554 617.7,549.6Z"/>
<path fill="#5596c7" d="M617.7,549.6C618,545.2 619.6,536.9 621.9,533C624.2,529 629.4,525.2 633,523.3C636.5,521.3 641.7,519.7 645.4,519.8C649.2,519.9 654.4,521.8 657.9,524C661.5,526.1 665.9,530.5 669,534.4C672.1,538.2 677,545.4 678.7,549.6C680.4,553.8 680.7,558.5 680.1,562.1C679.5,565.6 677.7,570.4 674.6,573.2C671.4,576 663.7,579.8 659.3,580.8C654.9,581.8 650,581.2 645.4,580.1C640.9,579 632.7,575.9 628.8,573.2C625,570.5 621.5,565.6 619.8,562.1C618.1,558.5 617.4,554 617.7,549.6Z"/>
<path fill="#5596c7" transform="translate(208.6,0)" d="M617.7,549.6C618,545.2 619.6,536.9 621.9,533C624.2,529 629.4,525.2 633,523.3C636.5,521.3 641.7,519.7 645.4,519.8C649.2,519.9 654.4,521.8 657.9,524C661.5,526.1 665.9,530.5 669,534.4C672.1,538.2 677,545.4 678.7,549.6C680.4,553.8 680.7,558.5 680.1,562.1C679.5,565.6 677.7,570.4 674.6,573.2C671.4,576 663.7,579.8 659.3,580.8C654.9,581.8 650,581.2 645.4,580.1C640.9,579 632.7,575.9 628.8,573.2C625,570.5 621.5,565.6 619.8,562.1C618.1,558.5 617.4,554 617.7,549.6Z"/>
<path fill="#ee9374" transform="translate(-208.6,0)" d="M718.2,548.2C717.8,542 720.3,534.8 723.1,530.2C725.9,525.6 732.4,519.8 736.9,517.7C741.5,515.6 748.8,515.5 753.6,516.3C758.3,517.2 764.9,519.9 768.8,523.3C772.8,526.6 777.6,533.7 779.9,538.5C782.2,543.3 783.6,550.4 784.1,555.1C784.5,559.9 784.3,566.4 782.7,570.4C781,574.3 776.9,579.2 773,581.5C769,583.8 761.3,585.4 756.3,585.6C751.3,585.9 744.3,585 739.7,582.9C735.1,580.8 729.1,577 725.8,571.8C722.6,566.6 718.6,554.5 718.2,548.2Z"/>
<path fill="#ee9374" d="M718.2,548.2C717.8,542 720.3,534.8 723.1,530.2C725.9,525.6 732.4,519.8 736.9,517.7C741.5,515.6 748.8,515.5 753.6,516.3C758.3,517.2 764.9,519.9 768.8,523.3C772.8,526.6 777.6,533.7 779.9,538.5C782.2,543.3 783.6,550.4 784.1,555.1C784.5,559.9 784.3,566.4 782.7,570.4C781,574.3 776.9,579.2 773,581.5C769,583.8 761.3,585.4 756.3,585.6C751.3,585.9 744.3,585 739.7,582.9C735.1,580.8 729.1,577 725.8,571.8C722.6,566.6 718.6,554.5 718.2,548.2Z"/>
<path fill="#ee9374" transform="translate(208.6,0)" d="M718.2,548.2C717.8,542 720.3,534.8 723.1,530.2C725.9,525.6 732.4,519.8 736.9,517.7C741.5,515.6 748.8,515.5 753.6,516.3C758.3,517.2 764.9,519.9 768.8,523.3C772.8,526.6 777.6,533.7 779.9,538.5C782.2,543.3 783.6,550.4 784.1,555.1C784.5,559.9 784.3,566.4 782.7,570.4C781,574.3 776.9,579.2 773,581.5C769,583.8 761.3,585.4 756.3,585.6C751.3,585.9 744.3,585 739.7,582.9C735.1,580.8 729.1,577 725.8,571.8C722.6,566.6 718.6,554.5 718.2,548.2Z"/>
<path fill="#ee9374" transform="translate(-208.6,0)" d="M612.9,677.9C613,673.6 614.2,663.3 616.3,658.5C618.5,653.7 622.6,648.4 627.4,646C632.2,643.6 642.2,642.7 648.2,642.6C654.2,642.5 663,643.4 667.6,645.3C672.2,647.3 676.8,651.9 678.7,655.7C680.6,659.6 680.9,666 680.1,671C679.3,676 676.3,684.2 673.2,689C670,693.8 663.9,700.4 659.3,702.9C654.7,705.4 647.7,706.3 642.7,705.6C637.7,705 630.1,701.4 626,698.7C622,696 617.6,690.7 615.6,687.6C613.7,684.5 612.8,682.3 612.9,677.9Z"/>
<path fill="#ee9374" d="M612.9,677.9C613,673.6 614.2,663.3 616.3,658.5C618.5,653.7 622.6,648.4 627.4,646C632.2,643.6 642.2,642.7 648.2,642.6C654.2,642.5 663,643.4 667.6,645.3C672.2,647.3 676.8,651.9 678.7,655.7C680.6,659.6 680.9,666 680.1,671C679.3,676 676.3,684.2 673.2,689C670,693.8 663.9,700.4 659.3,702.9C654.7,705.4 647.7,706.3 642.7,705.6C637.7,705 630.1,701.4 626,698.7C622,696 617.6,690.7 615.6,687.6C613.7,684.5 612.8,682.3 612.9,677.9Z"/>
<path fill="#ee9374" transform="translate(208.6,0)" d="M612.9,677.9C613,673.6 614.2,663.3 616.3,658.5C618.5,653.7 622.6,648.4 627.4,646C632.2,643.6 642.2,642.7 648.2,642.6C654.2,642.5 663,643.4 667.6,645.3C672.2,647.3 676.8,651.9 678.7,655.7C680.6,659.6 680.9,666 680.1,671C679.3,676 676.3,684.2 673.2,689C670,693.8 663.9,700.4 659.3,702.9C654.7,705.4 647.7,706.3 642.7,705.6C637.7,705 630.1,701.4 626,698.7C622,696 617.6,690.7 615.6,687.6C613.7,684.5 612.8,682.3 612.9,677.9Z"/>
<path fill="#5596c7" transform="translate(-208.6,0)" d="M720.3,672.4C720.5,668 722,662.5 724.5,658.5C727,654.6 732.1,649 736.9,646C741.7,643.1 750.9,639.3 756.3,639.1C761.7,638.9 768.8,641.7 773,644.7C777.1,647.6 782,653.9 784.1,658.5C786.1,663.1 787.2,670.4 786.8,675.1C786.4,679.9 784.2,686.4 781.3,690.4C778.4,694.3 772.2,699.4 767.4,701.5C762.6,703.6 754.6,704.7 749.4,704.3C744.2,703.8 736.7,701.2 732.8,698.7C728.8,696.2 724.9,691.6 723.1,687.6C721.2,683.7 720.1,676.7 720.3,672.4Z"/>
<path fill="#5596c7" d="M720.3,672.4C720.5,668 722,662.5 724.5,658.5C727,654.6 732.1,649 736.9,646C741.7,643.1 750.9,639.3 756.3,639.1C761.7,638.9 768.8,641.7 773,644.7C777.1,647.6 782,653.9 784.1,658.5C786.1,663.1 787.2,670.4 786.8,675.1C786.4,679.9 784.2,686.4 781.3,690.4C778.4,694.3 772.2,699.4 767.4,701.5C762.6,703.6 754.6,704.7 749.4,704.3C744.2,703.8 736.7,701.2 732.8,698.7C728.8,696.2 724.9,691.6 723.1,687.6C721.2,683.7 720.1,676.7 720.3,672.4Z"/>
<path fill="#5596c7" transform="translate(208.6,0)" d="M720.3,672.4C720.5,668 722,662.5 724.5,658.5C727,654.6 732.1,649 736.9,646C741.7,643.1 750.9,639.3 756.3,639.1C761.7,638.9 768.8,641.7 773,644.7C777.1,647.6 782,653.9 784.1,658.5C786.1,663.1 787.2,670.4 786.8,675.1C786.4,679.9 784.2,686.4 781.3,690.4C778.4,694.3 772.2,699.4 767.4,701.5C762.6,703.6 754.6,704.7 749.4,704.3C744.2,703.8 736.7,701.2 732.8,698.7C728.8,696.2 724.9,691.6 723.1,687.6C721.2,683.7 720.1,676.7 720.3,672.4Z"/>
<path fill="#3a7db9" transform="translate(-208.6,0)" d="M624.4,551C624.9,547.2 627.2,540.5 630.2,537.1C633.2,533.8 640.1,529.6 644.1,528.8C648,528 653,529.7 656.5,531.6C660.1,533.5 664.9,538.2 667.6,541.3C670.3,544.4 673.7,548.8 674.6,552.4C675.4,555.9 675,561.7 673.2,564.9C671.3,568 665.8,571.6 662.1,573.2C658.3,574.7 652.4,575.7 648.2,575.2C644.1,574.8 637.6,572.4 634.4,570.4C631.1,568.4 628.2,565 626.7,562.1C625.2,559.2 623.9,554.7 624.4,551Z"/>
<path fill="#3a7db9" d="M624.4,551C624.9,547.2 627.2,540.5 630.2,537.1C633.2,533.8 640.1,529.6 644.1,528.8C648,528 653,529.7 656.5,531.6C660.1,533.5 664.9,538.2 667.6,541.3C670.3,544.4 673.7,548.8 674.6,552.4C675.4,555.9 675,561.7 673.2,564.9C671.3,568 665.8,571.6 662.1,573.2C658.3,574.7 652.4,575.7 648.2,575.2C644.1,574.8 637.6,572.4 634.4,570.4C631.1,568.4 628.2,565 626.7,562.1C625.2,559.2 623.9,554.7 624.4,551Z"/>
<path fill="#3a7db9" transform="translate(208.6,0)" d="M624.4,551C624.9,547.2 627.2,540.5 630.2,537.1C633.2,533.8 640.1,529.6 644.1,528.8C648,528 653,529.7 656.5,531.6C660.1,533.5 664.9,538.2 667.6,541.3C670.3,544.4 673.7,548.8 674.6,552.4C675.4,555.9 675,561.7 673.2,564.9C671.3,568 665.8,571.6 662.1,573.2C658.3,574.7 652.4,575.7 648.2,575.2C644.1,574.8 637.6,572.4 634.4,570.4C631.1,568.4 628.2,565 626.7,562.1C625.2,559.2 623.9,554.7 624.4,551Z"/>
<path fill="#de6f58" transform="translate(-208.6,0)" d="M723.1,551C722.4,545.2 725.7,537.1 728.6,533C731.5,528.8 737.7,524.2 742.5,523.3C747.3,522.3 755.9,524.4 760.5,526.7C765.1,529 770.2,534.3 773,538.5C775.8,542.8 778.8,550.2 779.2,555.1C779.6,560.1 778.1,568 775.7,571.8C773.4,575.5 767.6,578.9 763.3,580.1C758.9,581.3 751.2,581.3 746.6,580.1C742.1,578.9 736.3,576.1 732.8,571.8C729.2,567.4 723.7,556.8 723.1,551Z"/>
<path fill="#de6f58" d="M723.1,551C722.4,545.2 725.7,537.1 728.6,533C731.5,528.8 737.7,524.2 742.5,523.3C747.3,522.3 755.9,524.4 760.5,526.7C765.1,529 770.2,534.3 773,538.5C775.8,542.8 778.8,550.2 779.2,555.1C779.6,560.1 778.1,568 775.7,571.8C773.4,575.5 767.6,578.9 763.3,580.1C758.9,581.3 751.2,581.3 746.6,580.1C742.1,578.9 736.3,576.1 732.8,571.8C729.2,567.4 723.7,556.8 723.1,551Z"/>
<path fill="#de6f58" transform="translate(208.6,0)" d="M723.1,551C722.4,545.2 725.7,537.1 728.6,533C731.5,528.8 737.7,524.2 742.5,523.3C747.3,522.3 755.9,524.4 760.5,526.7C765.1,529 770.2,534.3 773,538.5C775.8,542.8 778.8,550.2 779.2,555.1C779.6,560.1 778.1,568 775.7,571.8C773.4,575.5 767.6,578.9 763.3,580.1C758.9,581.3 751.2,581.3 746.6,580.1C742.1,578.9 736.3,576.1 732.8,571.8C729.2,567.4 723.7,556.8 723.1,551Z"/>
<path fill="#de6f58" transform="translate(-208.6,0)" d="M617.7,677.9C617.5,673.8 618.4,665.4 620.5,661.3C622.6,657.1 627,652.4 631.6,650.2C636.2,648 645.6,646.5 651,646.7C656.4,646.9 664,649 667.6,651.6C671.3,654.2 674.2,660.3 675.2,664.1C676.3,667.8 675.9,672.6 674.6,676.5C673.2,680.5 669.8,687.1 666.2,690.4C662.7,693.7 655.8,697.7 651,698.7C646.2,699.8 638.7,698.8 634.4,697.3C630,695.9 624.4,691.9 621.9,689C619.4,686.1 617.9,682.1 617.7,677.9Z"/>
<path fill="#de6f58" d="M617.7,677.9C617.5,673.8 618.4,665.4 620.5,661.3C622.6,657.1 627,652.4 631.6,650.2C636.2,648 645.6,646.5 651,646.7C656.4,646.9 664,649 667.6,651.6C671.3,654.2 674.2,660.3 675.2,664.1C676.3,667.8 675.9,672.6 674.6,676.5C673.2,680.5 669.8,687.1 666.2,690.4C662.7,693.7 655.8,697.7 651,698.7C646.2,699.8 638.7,698.8 634.4,697.3C630,695.9 624.4,691.9 621.9,689C619.4,686.1 617.9,682.1 617.7,677.9Z"/>
<path fill="#de6f58" transform="translate(208.6,0)" d="M617.7,677.9C617.5,673.8 618.4,665.4 620.5,661.3C622.6,657.1 627,652.4 631.6,650.2C636.2,648 645.6,646.5 651,646.7C656.4,646.9 664,649 667.6,651.6C671.3,654.2 674.2,660.3 675.2,664.1C676.3,667.8 675.9,672.6 674.6,676.5C673.2,680.5 669.8,687.1 666.2,690.4C662.7,693.7 655.8,697.7 651,698.7C646.2,699.8 638.7,698.8 634.4,697.3C630,695.9 624.4,691.9 621.9,689C619.4,686.1 617.9,682.1 617.7,677.9Z"/>
<path fill="#3a7db9" transform="translate(-208.6,0)" d="M726.5,672.4C727.1,669 729,663.2 731.4,659.9C733.8,656.6 738.7,652.4 742.5,650.2C746.2,648 752.2,645.1 756.3,645.3C760.5,645.6 766.9,648.6 770.2,651.6C773.5,654.6 776.9,661.7 778.5,665.4C780.2,669.2 781.9,673.2 781.3,676.5C780.7,679.9 777.3,684.9 774.4,687.6C771.4,690.3 766,693.4 761.9,694.6C757.7,695.7 750.8,696.1 746.6,695.2C742.5,694.4 737,691 734.2,689C731.4,687 729.1,684.6 727.9,682.1C726.8,679.6 726,675.7 726.5,672.4Z"/>
<path fill="#3a7db9" d="M726.5,672.4C727.1,669 729,663.2 731.4,659.9C733.8,656.6 738.7,652.4 742.5,650.2C746.2,648 752.2,645.1 756.3,645.3C760.5,645.6 766.9,648.6 770.2,651.6C773.5,654.6 776.9,661.7 778.5,665.4C780.2,669.2 781.9,673.2 781.3,676.5C780.7,679.9 777.3,684.9 774.4,687.6C771.4,690.3 766,693.4 761.9,694.6C757.7,695.7 750.8,696.1 746.6,695.2C742.5,694.4 737,691 734.2,689C731.4,687 729.1,684.6 727.9,682.1C726.8,679.6 726,675.7 726.5,672.4Z"/>
<path fill="#3a7db9" transform="translate(208.6,0)" d="M726.5,672.4C727.1,669 729,663.2 731.4,659.9C733.8,656.6 738.7,652.4 742.5,650.2C746.2,648 752.2,645.1 756.3,645.3C760.5,645.6 766.9,648.6 770.2,651.6C773.5,654.6 776.9,661.7 778.5,665.4C780.2,669.2 781.9,673.2 781.3,676.5C780.7,679.9 777.3,684.9 774.4,687.6C771.4,690.3 766,693.4 761.9,694.6C757.7,695.7 750.8,696.1 746.6,695.2C742.5,694.4 737,691 734.2,689C731.4,687 729.1,684.6 727.9,682.1C726.8,679.6 726,675.7 726.5,672.4Z"/>
<path fill="#2166ac" transform="translate(-208.6,0)" d="M633,552.4C632.1,548.9 633.9,544.9 635.7,542.7C637.6,540.5 642.3,538.1 645.4,537.8C648.6,537.5 653.6,539.2 656.5,540.6C659.4,541.9 662.9,544.9 664.9,546.8C666.8,548.8 669.3,551.3 669.3,553.8C669.3,556.3 667.4,561.1 664.9,563.5C662.3,565.8 655.9,569 652.4,569.3C648.8,569.6 644.2,568.1 641.3,565.5C638.4,563 633.8,555.8 633,552.4Z"/>
<path fill="#2166ac" d="M633,552.4C632.1,548.9 633.9,544.9 635.7,542.7C637.6,540.5 642.3,538.1 645.4,537.8C648.6,537.5 653.6,539.2 656.5,540.6C659.4,541.9 662.9,544.9 664.9,546.8C666.8,548.8 669.3,551.3 669.3,553.8C669.3,556.3 667.4,561.1 664.9,563.5C662.3,565.8 655.9,569 652.4,569.3C648.8,569.6 644.2,568.1 641.3,565.5C638.4,563 633.8,555.8 633,552.4Z"/>
<path fill="#2166ac" transform="translate(208.6,0)" d="M633,552.4C632.1,548.9 633.9,544.9 635.7,542.7C637.6,540.5 642.3,538.1 645.4,537.8C648.6,537.5 653.6,539.2 656.5,540.6C659.4,541.9 662.9,544.9 664.9,546.8C666.8,548.8 669.3,551.3 669.3,553.8C669.3,556.3 667.4,561.1 664.9,563.5C662.3,565.8 655.9,569 652.4,569.3C648.8,569.6 644.2,568.1 641.3,565.5C638.4,563 633.8,555.8 633,552.4Z"/>
<path fill="#c8423f" transform="translate(-208.6,0)" d="M728.3,552.4C728.1,547.8 731.4,540.6 734.2,537.1C736.9,533.7 742.5,529.9 746.6,529.5C750.8,529.1 758.1,532 761.9,534.4C765.6,536.7 769.6,542.3 771.6,545.4C773.6,548.6 775.3,551.4 775,555.1C774.8,558.9 772.6,567.3 770.2,570.4C767.8,573.5 762.6,575.3 759.1,575.9C755.6,576.6 750.2,575.8 746.6,574.6C743.1,573.3 738.3,571 735.5,567.6C732.8,564.3 728.5,557 728.3,552.4Z"/>
<path fill="#c8423f" d="M728.3,552.4C728.1,547.8 731.4,540.6 734.2,537.1C736.9,533.7 742.5,529.9 746.6,529.5C750.8,529.1 758.1,532 761.9,534.4C765.6,536.7 769.6,542.3 771.6,545.4C773.6,548.6 775.3,551.4 775,555.1C774.8,558.9 772.6,567.3 770.2,570.4C767.8,573.5 762.6,575.3 759.1,575.9C755.6,576.6 750.2,575.8 746.6,574.6C743.1,573.3 738.3,571 735.5,567.6C732.8,564.3 728.5,557 728.3,552.4Z"/>
<path fill="#c8423f" transform="translate(208.6,0)" d="M728.3,552.4C728.1,547.8 731.4,540.6 734.2,537.1C736.9,533.7 742.5,529.9 746.6,529.5C750.8,529.1 758.1,532 761.9,534.4C765.6,536.7 769.6,542.3 771.6,545.4C773.6,548.6 775.3,551.4 775,555.1C774.8,558.9 772.6,567.3 770.2,570.4C767.8,573.5 762.6,575.3 759.1,575.9C755.6,576.6 750.2,575.8 746.6,574.6C743.1,573.3 738.3,571 735.5,567.6C732.8,564.3 728.5,557 728.3,552.4Z"/>
<path fill="#c8423f" transform="translate(-208.6,0)" d="M623,676.5C623.2,673.2 624.1,666.2 626,662.7C628,659.1 632,654.7 635.7,653C639.5,651.2 646.6,650.4 651,650.9C655.4,651.4 661.8,654 664.9,656.4C667.9,658.8 670.5,663.4 671.1,666.8C671.7,670.3 670.8,675.8 669,679.3C667.2,682.8 662.8,688 659.3,690.4C655.8,692.8 649.6,695 645.4,695.2C641.3,695.5 634.7,693.3 631.6,691.8C628.5,690.2 625.9,687.1 624.7,684.9C623.4,682.6 622.8,679.9 623,676.5Z"/>
<path fill="#c8423f" d="M623,676.5C623.2,673.2 624.1,666.2 626,662.7C628,659.1 632,654.7 635.7,653C639.5,651.2 646.6,650.4 651,650.9C655.4,651.4 661.8,654 664.9,656.4C667.9,658.8 670.5,663.4 671.1,666.8C671.7,670.3 670.8,675.8 669,679.3C667.2,682.8 662.8,688 659.3,690.4C655.8,692.8 649.6,695 645.4,695.2C641.3,695.5 634.7,693.3 631.6,691.8C628.5,690.2 625.9,687.1 624.7,684.9C623.4,682.6 622.8,679.9 623,676.5Z"/>
<path fill="#c8423f" transform="translate(208.6,0)" d="M623,676.5C623.2,673.2 624.1,666.2 626,662.7C628,659.1 632,654.7 635.7,653C639.5,651.2 646.6,650.4 651,650.9C655.4,651.4 661.8,654 664.9,656.4C667.9,658.8 670.5,663.4 671.1,666.8C671.7,670.3 670.8,675.8 669,679.3C667.2,682.8 662.8,688 659.3,690.4C655.8,692.8 649.6,695 645.4,695.2C641.3,695.5 634.7,693.3 631.6,691.8C628.5,690.2 625.9,687.1 624.7,684.9C623.4,682.6 622.8,679.9 623,676.5Z"/>
<path fill="#2166ac" transform="translate(-208.6,0)" d="M734.2,672.4C734,669.5 736,666.3 738.3,664.1C740.6,661.8 745.7,657.5 749.4,657.1C753.1,656.7 759.9,658.4 763.3,661.3C766.6,664.2 771.8,673 771.6,676.5C771.4,680.1 765.2,683 761.9,684.9C758.6,686.7 752.7,689.2 749.4,689C746.1,688.8 742,686 739.7,683.5C737.4,681 734.4,675.3 734.2,672.4Z"/>
<path fill="#2166ac" d="M734.2,672.4C734,669.5 736,666.3 738.3,664.1C740.6,661.8 745.7,657.5 749.4,657.1C753.1,656.7 759.9,658.4 763.3,661.3C766.6,664.2 771.8,673 771.6,676.5C771.4,680.1 765.2,683 761.9,684.9C758.6,686.7 752.7,689.2 749.4,689C746.1,688.8 742,686 739.7,683.5C737.4,681 734.4,675.3 734.2,672.4Z"/>
<path fill="#2166ac" transform="translate(208.6,0)" d="M734.2,672.4C734,669.5 736,666.3 738.3,664.1C740.6,661.8 745.7,657.5 749.4,657.1C753.1,656.7 759.9,658.4 763.3,661.3C766.6,664.2 771.8,673 771.6,676.5C771.4,680.1 765.2,683 761.9,684.9C758.6,686.7 752.7,689.2 749.4,689C746.1,688.8 742,686 739.7,683.5C737.4,681 734.4,675.3 734.2,672.4Z"/>
<path fill="#b2182b" transform="translate(-208.6,0)" d="M734.2,552.4C734,549 736,543.7 738.3,541.3C740.6,538.9 746.1,536.4 749.4,536.4C752.7,536.4 757.6,539.1 760.5,541.3C763.4,543.5 767.8,547.9 768.8,551C769.9,554.1 768.7,559.4 767.4,562.1C766.2,564.8 763.2,567.8 760.5,569C757.8,570.3 752.5,571.2 749.4,570.4C746.3,569.6 742,566.2 739.7,563.5C737.4,560.8 734.4,555.7 734.2,552.4Z"/>
<path fill="#b2182b" d="M734.2,552.4C734,549 736,543.7 738.3,541.3C740.6,538.9 746.1,536.4 749.4,536.4C752.7,536.4 757.6,539.1 760.5,541.3C763.4,543.5 767.8,547.9 768.8,551C769.9,554.1 768.7,559.4 767.4,562.1C766.2,564.8 763.2,567.8 760.5,569C757.8,570.3 752.5,571.2 749.4,570.4C746.3,569.6 742,566.2 739.7,563.5C737.4,560.8 734.4,555.7 734.2,552.4Z"/>
<path fill="#b2182b" transform="translate(208.6,0)" d="M734.2,552.4C734,549 736,543.7 738.3,541.3C740.6,538.9 746.1,536.4 749.4,536.4C752.7,536.4 757.6,539.1 760.5,541.3C763.4,543.5 767.8,547.9 768.8,551C769.9,554.1 768.7,559.4 767.4,562.1C766.2,564.8 763.2,567.8 760.5,569C757.8,570.3 752.5,571.2 749.4,570.4C746.3,569.6 742,566.2 739.7,563.5C737.4,560.8 734.4,555.7 734.2,552.4Z"/>
<path fill="#b2182b" transform="translate(-208.6,0)" d="M628.1,676.5C628.1,673.8 628.6,669.6 630.2,666.8C631.8,664 635.4,659.5 638.5,657.8C641.6,656.2 647.7,655.2 651,655.7C654.3,656.3 658.5,659.2 660.7,661.3C662.9,663.4 665.3,666.7 665.5,669.6C665.8,672.5 664.3,677.8 662.1,680.7C659.9,683.6 654.7,687.6 651,689C647.2,690.4 640.2,690.7 637.1,690.1C634,689.5 631.5,686.9 630.2,684.9C628.8,682.8 628.1,679.2 628.1,676.5Z"/>
<path fill="#b2182b" d="M628.1,676.5C628.1,673.8 628.6,669.6 630.2,666.8C631.8,664 635.4,659.5 638.5,657.8C641.6,656.2 647.7,655.2 651,655.7C654.3,656.3 658.5,659.2 660.7,661.3C662.9,663.4 665.3,666.7 665.5,669.6C665.8,672.5 664.3,677.8 662.1,680.7C659.9,683.6 654.7,687.6 651,689C647.2,690.4 640.2,690.7 637.1,690.1C634,689.5 631.5,686.9 630.2,684.9C628.8,682.8 628.1,679.2 628.1,676.5Z"/>
<path fill="#b2182b" transform="translate(208.6,0)" d="M628.1,676.5C628.1,673.8 628.6,669.6 630.2,666.8C631.8,664 635.4,659.5 638.5,657.8C641.6,656.2 647.7,655.2 651,655.7C654.3,656.3 658.5,659.2 660.7,661.3C662.9,663.4 665.3,666.7 665.5,669.6C665.8,672.5 664.3,677.8 662.1,680.7C659.9,683.6 654.7,687.6 651,689C647.2,690.4 640.2,690.7 637.1,690.1C634,689.5 631.5,686.9 630.2,684.9C628.8,682.8 628.1,679.2 628.1,676.5Z"/>
</g>
<rect x="669.7" y="452.1" width="6.00" height="19.8" fill="#2166ac"/>
<rect x="675.4" y="452.1" width="11.85" height="19.8" fill="#3a7db9"/>
<rect x="687" y="452.1" width="11.53" height="19.8" fill="#5596c7"/>
<rect x="698.2" y="452.1" width="12.01" height="19.8" fill="#72acd3"/>
<rect x="709.9" y="452.1" width="11.53" height="19.8" fill="#97c3de"/>
<rect x="721.2" y="452.1" width="11.85" height="19.8" fill="#c2dcec"/>
<rect x="732.7" y="452.1" width="11.69" height="19.8" fill="#f2f7fb"/>
<rect x="744.1" y="452.1" width="23.24" height="19.8" fill="#ffffff"/>
<rect x="767" y="452.1" width="11.85" height="19.8" fill="#fff5f0"/>
<rect x="778.6" y="452.1" width="11.69" height="19.8" fill="#fee5d9"/>
<rect x="790" y="452.1" width="11.69" height="19.8" fill="#fbcfbb"/>
<rect x="801.4" y="452.1" width="11.85" height="19.8" fill="#f7b296"/>
<rect x="812.9" y="452.1" width="11.85" height="19.8" fill="#ee9374"/>
<rect x="824.5" y="452.1" width="11.85" height="19.8" fill="#de6f58"/>
<rect x="836" y="452.1" width="11.53" height="19.8" fill="#c8423f"/>
<rect x="847.2" y="452.1" width="6.15" height="19.8" fill="#b2182b"/>
<text class="cb" x="675.4" y="488">-0.035</text>
<text class="cb" x="721.5" y="488">-0.015</text>
<text class="cb" x="767" y="488">0.005</text>
<text class="cb" x="812.9" y="488">0.025</text>
<g clip-path="url(#clip-e)">
<line x1="587.7" y1="590.7" x2="603.9" y2="581.4" stroke="#000" stroke-width="4.6"/>
<line x1="614.7" y1="574.8" x2="630.9" y2="567.3" stroke="#000" stroke-width="4.6"/>
<line x1="643.4" y1="561.8" x2="660.7" y2="556.5" stroke="#000" stroke-width="4.6"/>
<line x1="673.2" y1="552.1" x2="690.8" y2="548.2" stroke="#000" stroke-width="4.6"/>
<line x1="703.9" y1="545.7" x2="721.7" y2="543.4" stroke="#000" stroke-width="4.6"/>
<line x1="793.9" y1="590.7" x2="810.8" y2="580.8" stroke="#000" stroke-width="4.6"/>
<line x1="820.7" y1="573.9" x2="837.5" y2="566.3" stroke="#000" stroke-width="4.6"/>
<line x1="849.4" y1="561" x2="866.9" y2="555.4" stroke="#000" stroke-width="4.6"/>
<line x1="879.6" y1="551.1" x2="897" y2="546.7" stroke="#000" stroke-width="4.6"/>
<line x1="910.5" y1="544.7" x2="927.7" y2="542.2" stroke="#000" stroke-width="4.6"/>
<line x1="695.8" y1="631.9" x2="710.6" y2="641.8" stroke="#000" stroke-width="4.6"/>
<line x1="722.1" y1="649.1" x2="738.4" y2="657.1" stroke="#000" stroke-width="4.6"/>
<line x1="750.9" y1="662" x2="767.5" y2="667.6" stroke="#000" stroke-width="4.6"/>
<line x1="780.4" y1="671.9" x2="797.9" y2="675.1" stroke="#000" stroke-width="4.6"/>
<line x1="811.7" y1="677.1" x2="829.2" y2="678.5" stroke="#000" stroke-width="4.6"/>
<path d="M646.7,553.4 L657.3,566.6 M646.7,566.6 L657.3,553.4" stroke="#ff0000" stroke-width="2.25" fill="none"/>
<path d="M854.4,552.4 L865,565.6 M854.4,565.6 L865,552.4" stroke="#ff0000" stroke-width="2.25" fill="none"/>
<path d="M754.5,656.4 L765.1,669.7 M754.5,669.7 L765.1,656.4" stroke="#ff0000" stroke-width="2.25" fill="none"/>
<path d="M749.3,581.5 L761.9,581.5 M755.6,575.2 L755.6,587.8" stroke="#ff0000" stroke-width="2.0" fill="none"/>
<path d="M644.4,641.8 L657,641.8 M650.7,635.5 L650.7,648.1" stroke="#ff0000" stroke-width="2.0" fill="none"/>
<path d="M852.2,642.5 L864.8,642.5 M858.5,636.2 L858.5,648.8" stroke="#ff0000" stroke-width="2.0" fill="none"/>
</g>
<line x1="552" y1="784.7" x2="552" y2="777.1" stroke="#000" stroke-width="1.7"/>
<line x1="562.4" y1="784.7" x2="562.4" y2="780.3" stroke="#222" stroke-width="0.75"/>
<line x1="572.9" y1="784.7" x2="572.9" y2="780.3" stroke="#222" stroke-width="0.75"/>
<line x1="583.3" y1="784.7" x2="583.3" y2="780.3" stroke="#222" stroke-width="0.75"/>
<line x1="593.7" y1="784.7" x2="593.7" y2="780.3" stroke="#222" stroke-width="0.75"/>
<line x1="604.2" y1="784.7" x2="604.2" y2="777.1" stroke="#000" stroke-width="1.7"/>
<line x1="614.6" y1="784.7" x2="614.6" y2="780.3" stroke="#222" stroke-width="0.75"/>
<line x1="625" y1="784.7" x2="625" y2="780.3" stroke="#222" stroke-width="0.75"/>
<line x1="635.5" y1="784.7" x2="635.5" y2="780.3" stroke="#222" stroke-width="0.75"/>
<line x1="645.9" y1="784.7" x2="645.9" y2="780.3" stroke="#222" stroke-width="0.75"/>
<line x1="656.3" y1="784.7" x2="656.3" y2="777.1" stroke="#000" stroke-width="1.7"/>
<line x1="666.8" y1="784.7" x2="666.8" y2="780.3" stroke="#222" stroke-width="0.75"/>
<line x1="677.2" y1="784.7" x2="677.2" y2="780.3" stroke="#222" stroke-width="0.75"/>
<line x1="687.6" y1="784.7" x2="687.6" y2="780.3" stroke="#222" stroke-width="0.75"/>
<line x1="698.1" y1="784.7" x2="698.1" y2="780.3" stroke="#222" stroke-width="0.75"/>
<line x1="708.5" y1="784.7" x2="708.5" y2="777.1" stroke="#000" stroke-width="1.7"/>
<line x1="718.9" y1="784.7" x2="718.9" y2="780.3" stroke="#222" stroke-width="0.75"/>
<line x1="729.4" y1="784.7" x2="729.4" y2="780.3" stroke="#222" stroke-width="0.75"/>
<line x1="739.8" y1="784.7" x2="739.8" y2="780.3" stroke="#222" stroke-width="0.75"/>
<line x1="750.2" y1="784.7" x2="750.2" y2="780.3" stroke="#222" stroke-width="0.75"/>
<line x1="760.6" y1="784.7" x2="760.6" y2="777.1" stroke="#000" stroke-width="1.7"/>
<line x1="771.1" y1="784.7" x2="771.1" y2="780.3" stroke="#222" stroke-width="0.75"/>
<line x1="781.5" y1="784.7" x2="781.5" y2="780.3" stroke="#222" stroke-width="0.75"/>
<line x1="791.9" y1="784.7" x2="791.9" y2="780.3" stroke="#222" stroke-width="0.75"/>
<line x1="802.4" y1="784.7" x2="802.4" y2="780.3" stroke="#222" stroke-width="0.75"/>
<line x1="812.8" y1="784.7" x2="812.8" y2="777.1" stroke="#000" stroke-width="1.7"/>
<line x1="823.2" y1="784.7" x2="823.2" y2="780.3" stroke="#222" stroke-width="0.75"/>
<line x1="833.7" y1="784.7" x2="833.7" y2="780.3" stroke="#222" stroke-width="0.75"/>
<line x1="844.1" y1="784.7" x2="844.1" y2="780.3" stroke="#222" stroke-width="0.75"/>
<line x1="854.5" y1="784.7" x2="854.5" y2="780.3" stroke="#222" stroke-width="0.75"/>
<line x1="865" y1="784.7" x2="865" y2="777.1" stroke="#000" stroke-width="1.7"/>
<line x1="875.4" y1="784.7" x2="875.4" y2="780.3" stroke="#222" stroke-width="0.75"/>
<line x1="885.8" y1="784.7" x2="885.8" y2="780.3" stroke="#222" stroke-width="0.75"/>
<line x1="896.3" y1="784.7" x2="896.3" y2="780.3" stroke="#222" stroke-width="0.75"/>
<line x1="906.7" y1="784.7" x2="906.7" y2="780.3" stroke="#222" stroke-width="0.75"/>
<line x1="917.1" y1="784.7" x2="917.1" y2="777.1" stroke="#000" stroke-width="1.7"/>
<line x1="927.6" y1="784.7" x2="927.6" y2="780.3" stroke="#222" stroke-width="0.75"/>
<line x1="938" y1="784.7" x2="938" y2="780.3" stroke="#222" stroke-width="0.75"/>
<line x1="948.4" y1="784.7" x2="948.4" y2="780.3" stroke="#222" stroke-width="0.75"/>
<line x1="958.9" y1="784.7" x2="958.9" y2="780.3" stroke="#222" stroke-width="0.75"/>
<line x1="969.3" y1="784.7" x2="969.3" y2="777.1" stroke="#000" stroke-width="1.7"/>
<line x1="552" y1="449.9" x2="556.4" y2="449.9" stroke="#222" stroke-width="0.75"/>
<line x1="552" y1="459.6" x2="556.4" y2="459.6" stroke="#222" stroke-width="0.75"/>
<line x1="552" y1="469.3" x2="559.6" y2="469.3" stroke="#000" stroke-width="1.7"/>
<line x1="552" y1="479" x2="556.4" y2="479" stroke="#222" stroke-width="0.75"/>
<line x1="552" y1="488.7" x2="556.4" y2="488.7" stroke="#222" stroke-width="0.75"/>
<line x1="552" y1="498.4" x2="556.4" y2="498.4" stroke="#222" stroke-width="0.75"/>
<line x1="552" y1="508.1" x2="556.4" y2="508.1" stroke="#222" stroke-width="0.75"/>
<line x1="552" y1="517.8" x2="559.6" y2="517.8" stroke="#000" stroke-width="1.7"/>
<line x1="552" y1="527.5" x2="556.4" y2="527.5" stroke="#222" stroke-width="0.75"/>
<line x1="552" y1="537.2" x2="556.4" y2="537.2" stroke="#222" stroke-width="0.75"/>
<line x1="552" y1="546.9" x2="556.4" y2="546.9" stroke="#222" stroke-width="0.75"/>
<line x1="552" y1="556.6" x2="556.4" y2="556.6" stroke="#222" stroke-width="0.75"/>
<line x1="552" y1="566.3" x2="559.6" y2="566.3" stroke="#000" stroke-width="1.7"/>
<line x1="552" y1="576" x2="556.4" y2="576" stroke="#222" stroke-width="0.75"/>
<line x1="552" y1="585.7" x2="556.4" y2="585.7" stroke="#222" stroke-width="0.75"/>
<line x1="552" y1="595.4" x2="556.4" y2="595.4" stroke="#222" stroke-width="0.75"/>
<line x1="552" y1="605.1" x2="556.4" y2="605.1" stroke="#222" stroke-width="0.75"/>
<line x1="552" y1="614.9" x2="559.6" y2="614.9" stroke="#000" stroke-width="1.7"/>
<line x1="552" y1="624.6" x2="556.4" y2="624.6" stroke="#222" stroke-width="0.75"/>
<line x1="552" y1="634.3" x2="556.4" y2="634.3" stroke="#222" stroke-width="0.75"/>
<line x1="552" y1="644" x2="556.4" y2="644" stroke="#222" stroke-width="0.75"/>
<line x1="552" y1="653.7" x2="556.4" y2="653.7" stroke="#222" stroke-width="0.75"/>
<line x1="552" y1="663.4" x2="559.6" y2="663.4" stroke="#000" stroke-width="1.7"/>
<line x1="552" y1="673.1" x2="556.4" y2="673.1" stroke="#222" stroke-width="0.75"/>
<line x1="552" y1="682.8" x2="556.4" y2="682.8" stroke="#222" stroke-width="0.75"/>
<line x1="552" y1="692.5" x2="556.4" y2="692.5" stroke="#222" stroke-width="0.75"/>
<line x1="552" y1="702.2" x2="556.4" y2="702.2" stroke="#222" stroke-width="0.75"/>
<line x1="552" y1="711.9" x2="559.6" y2="711.9" stroke="#000" stroke-width="1.7"/>
<line x1="552" y1="721.6" x2="556.4" y2="721.6" stroke="#222" stroke-width="0.75"/>
<line x1="552" y1="731.3" x2="556.4" y2="731.3" stroke="#222" stroke-width="0.75"/>
<line x1="552" y1="741" x2="556.4" y2="741" stroke="#222" stroke-width="0.75"/>
<line x1="552" y1="750.7" x2="556.4" y2="750.7" stroke="#222" stroke-width="0.75"/>
<line x1="552" y1="760.4" x2="559.6" y2="760.4" stroke="#000" stroke-width="1.7"/>
<line x1="552" y1="770.1" x2="556.4" y2="770.1" stroke="#222" stroke-width="0.75"/>
<line x1="552" y1="779.8" x2="556.4" y2="779.8" stroke="#222" stroke-width="0.75"/>
<line x1="552" y1="789.6" x2="556.4" y2="789.6" stroke="#222" stroke-width="0.75"/>
<rect x="552" y="445" width="417.3" height="339.7" fill="none" stroke="#000" stroke-width="1.65"/>
<text class="tk" text-anchor="middle" x="551.7" y="802">2</text>
<text class="tk" text-anchor="middle" x="603.9" y="802">1.5</text>
<text class="tk" text-anchor="middle" x="656" y="802">1</text>
<text class="tk" text-anchor="middle" x="708.2" y="802">0.5</text>
<text class="tk" text-anchor="middle" x="760.4" y="802">0</text>
<text class="tk" text-anchor="middle" x="811.3" y="802">-0.5</text>
<text class="tk" text-anchor="middle" x="863.5" y="802">-1</text>
<text class="tk" text-anchor="middle" x="915.6" y="802">-1.5</text>
<text class="tk" text-anchor="middle" x="967.8" y="802">-2</text>
<text class="tk" text-anchor="end" x="547" y="767.3">-3</text>
<text class="tk" text-anchor="end" x="547" y="718.8">-2</text>
<text class="tk" text-anchor="end" x="547" y="670.3">-1</text>
<text class="tk" text-anchor="end" x="547" y="621.8">0</text>
<text class="tk" text-anchor="end" x="547" y="573.2">1</text>
<text class="tk" text-anchor="end" x="547" y="524.7">2</text>
<text class="tk" text-anchor="end" x="547" y="476.2">3</text>
<text class="sf" font-size="24" text-anchor="middle" x="763.1" y="819.9">ϕ(π)</text>
<text class="sf" font-size="24" font-style="italic" text-anchor="middle" transform="translate(523.6,613.6) rotate(-90)">y<tspan font-size="21" dy="-3.2">*</tspan></text>
<text class="sf" font-size="26" x="569.3" y="479.2">(e)</text>
</g>
<g id="panel-f">
<clipPath id="clip-f"><rect x="1059.4" y="445" width="436.6" height="339.7"/></clipPath>
<g clip-path="url(#clip-f)">
<path fill="#f1f7fb" transform="translate(-218.3,0)" d="M1109.6,441C1091.6,445.2 1105.7,460.8 1104.6,468.8C1103.6,476.8 1102.3,485.9 1102.6,494.6C1103,503.2 1105,515.5 1106.9,526.6C1108.8,537.6 1111.1,559.9 1115.2,568.2C1119.4,576.5 1130.7,578.7 1134.7,582C1138.6,585.4 1136.4,587.9 1141.6,590.3C1146.8,592.8 1161,598.7 1169.3,598.7C1177.6,598.7 1190.8,592.8 1197,590.3C1203.3,587.9 1208.8,585.4 1210.9,582C1213,578.7 1209.6,573.4 1210.9,568.2C1212.1,563 1215.9,556.7 1219.2,547.4C1222.5,538 1232,518.2 1233.1,505.8C1234.2,493.4 1227.8,474.5 1226.6,464.8C1225.3,455.1 1242.1,444.6 1224.6,441C1207,437.5 1127.6,436.9 1109.6,441Z"/>
<path fill="#f1f7fb" d="M1109.6,441C1091.6,445.2 1105.7,460.8 1104.6,468.8C1103.6,476.8 1102.3,485.9 1102.6,494.6C1103,503.2 1105,515.5 1106.9,526.6C1108.8,537.6 1111.1,559.9 1115.2,568.2C1119.4,576.5 1130.7,578.7 1134.7,582C1138.6,585.4 1136.4,587.9 1141.6,590.3C1146.8,592.8 1161,598.7 1169.3,598.7C1177.6,598.7 1190.8,592.8 1197,590.3C1203.3,587.9 1208.8,585.4 1210.9,582C1213,578.7 1209.6,573.4 1210.9,568.2C1212.1,563 1215.9,556.7 1219.2,547.4C1222.5,538 1232,518.2 1233.1,505.8C1234.2,493.4 1227.8,474.5 1226.6,464.8C1225.3,455.1 1242.1,444.6 1224.6,441C1207,437.5 1127.6,436.9 1109.6,441Z"/>
<path fill="#f1f7fb" transform="translate(218.3,0)" d="M1109.6,441C1091.6,445.2 1105.7,460.8 1104.6,468.8C1103.6,476.8 1102.3,485.9 1102.6,494.6C1103,503.2 1105,515.5 1106.9,526.6C1108.8,537.6 1111.1,559.9 1115.2,568.2C1119.4,576.5 1130.7,578.7 1134.7,582C1138.6,585.4 1136.4,587.9 1141.6,590.3C1146.8,592.8 1161,598.7 1169.3,598.7C1177.6,598.7 1190.8,592.8 1197,590.3C1203.3,587.9 1208.8,585.4 1210.9,582C1213,578.7 1209.6,573.4 1210.9,568.2C1212.1,563 1215.9,556.7 1219.2,547.4C1222.5,538 1232,518.2 1233.1,505.8C1234.2,493.4 1227.8,474.5 1226.6,464.8C1225.3,455.1 1242.1,444.6 1224.6,441C1207,437.5 1127.6,436.9 1109.6,441Z"/>
<path fill="#fef0e9" transform="translate(-218.3,0)" d="M1225.4,540.4C1226.6,535.2 1227.3,525.9 1230.3,519.7C1233.3,513.4 1240.1,503.6 1245.5,498.9C1251,494.1 1261.5,489.9 1266.3,487.8C1271.2,485.6 1273.4,483.6 1278.1,484.7C1282.8,485.7 1292.3,490.7 1297.9,494.6C1303.6,498.4 1311.6,503 1315.8,510.4C1319.9,517.9 1323.6,536.1 1325.7,544.1C1327.8,552.2 1328.8,558.3 1329.7,564C1330.6,569.6 1331.9,576.5 1331.6,581.8C1331.3,587.2 1331.2,596.4 1327.7,599.7C1324.1,602.9 1315.3,603.3 1307.9,603.6C1300.4,603.9 1288.5,601.9 1278.1,601.6C1267.7,601.3 1247.1,603.1 1238.5,601.6C1229.8,600.2 1222.7,595.7 1220.6,591.7C1218.6,587.7 1224.4,580.7 1224.8,575.1C1225.1,569.5 1222.6,559.5 1222.7,554.3C1222.8,549.1 1224.3,545.6 1225.4,540.4Z"/>
<path fill="#fef0e9" d="M1225.4,540.4C1226.6,535.2 1227.3,525.9 1230.3,519.7C1233.3,513.4 1240.1,503.6 1245.5,498.9C1251,494.1 1261.5,489.9 1266.3,487.8C1271.2,485.6 1273.4,483.6 1278.1,484.7C1282.8,485.7 1292.3,490.7 1297.9,494.6C1303.6,498.4 1311.6,503 1315.8,510.4C1319.9,517.9 1323.6,536.1 1325.7,544.1C1327.8,552.2 1328.8,558.3 1329.7,564C1330.6,569.6 1331.9,576.5 1331.6,581.8C1331.3,587.2 1331.2,596.4 1327.7,599.7C1324.1,602.9 1315.3,603.3 1307.9,603.6C1300.4,603.9 1288.5,601.9 1278.1,601.6C1267.7,601.3 1247.1,603.1 1238.5,601.6C1229.8,600.2 1222.7,595.7 1220.6,591.7C1218.6,587.7 1224.4,580.7 1224.8,575.1C1225.1,569.5 1222.6,559.5 1222.7,554.3C1222.8,549.1 1224.3,545.6 1225.4,540.4Z"/>
<path fill="#fef0e9" transform="translate(218.3,0)" d="M1225.4,540.4C1226.6,535.2 1227.3,525.9 1230.3,519.7C1233.3,513.4 1240.1,503.6 1245.5,498.9C1251,494.1 1261.5,489.9 1266.3,487.8C1271.2,485.6 1273.4,483.6 1278.1,484.7C1282.8,485.7 1292.3,490.7 1297.9,494.6C1303.6,498.4 1311.6,503 1315.8,510.4C1319.9,517.9 1323.6,536.1 1325.7,544.1C1327.8,552.2 1328.8,558.3 1329.7,564C1330.6,569.6 1331.9,576.5 1331.6,581.8C1331.3,587.2 1331.2,596.4 1327.7,599.7C1324.1,602.9 1315.3,603.3 1307.9,603.6C1300.4,603.9 1288.5,601.9 1278.1,601.6C1267.7,601.3 1247.1,603.1 1238.5,601.6C1229.8,600.2 1222.7,595.7 1220.6,591.7C1218.6,587.7 1224.4,580.7 1224.8,575.1C1225.1,569.5 1222.6,559.5 1222.7,554.3C1222.8,549.1 1224.3,545.6 1225.4,540.4Z"/>
<path fill="#f1f7fb" transform="translate(-218.3,0)" d="M1220.6,649.9C1222.7,645.7 1232.1,640.1 1238.5,638C1244.8,635.9 1260.3,634.1 1268.2,634.1C1276.1,634.1 1292.4,635.9 1297.9,638C1303.5,640.1 1306.9,645.7 1309.8,649.9C1312.7,654.1 1316.6,662.9 1319.7,669.7C1322.9,676.6 1331.8,694.9 1333.6,701.5C1335.5,708.1 1332,714.8 1333.6,719.3C1335.2,723.8 1341.8,731.5 1345.5,735.2C1349.2,738.9 1355.6,743.6 1361.4,747.1C1367.2,750.5 1384.9,756.7 1389.1,761C1393.4,765.2 1392.6,771.1 1393.1,778.8C1393.6,786.5 1423.3,813.2 1393.1,818.5C1363,823.7 1197.2,823.7 1167.1,818.5C1136.9,813.2 1166.5,786.5 1167.1,778.8C1167.6,771.1 1168.9,763.9 1171,761C1173.2,758 1179.2,759.4 1182.9,757C1186.6,754.6 1194.8,747.6 1198.8,743.1C1202.8,738.6 1210.3,728.3 1212.7,723.3C1215.1,718.3 1215.6,709.1 1216.6,705.4C1217.7,701.7 1219.8,700.3 1220.6,695.5C1221.4,690.8 1222.6,675.8 1222.6,669.7C1222.6,663.7 1218.5,654.1 1220.6,649.9Z"/>
<path fill="#f1f7fb" d="M1220.6,649.9C1222.7,645.7 1232.1,640.1 1238.5,638C1244.8,635.9 1260.3,634.1 1268.2,634.1C1276.1,634.1 1292.4,635.9 1297.9,638C1303.5,640.1 1306.9,645.7 1309.8,649.9C1312.7,654.1 1316.6,662.9 1319.7,669.7C1322.9,676.6 1331.8,694.9 1333.6,701.5C1335.5,708.1 1332,714.8 1333.6,719.3C1335.2,723.8 1341.8,731.5 1345.5,735.2C1349.2,738.9 1355.6,743.6 1361.4,747.1C1367.2,750.5 1384.9,756.7 1389.1,761C1393.4,765.2 1392.6,771.1 1393.1,778.8C1393.6,786.5 1423.3,813.2 1393.1,818.5C1363,823.7 1197.2,823.7 1167.1,818.5C1136.9,813.2 1166.5,786.5 1167.1,778.8C1167.6,771.1 1168.9,763.9 1171,761C1173.2,758 1179.2,759.4 1182.9,757C1186.6,754.6 1194.8,747.6 1198.8,743.1C1202.8,738.6 1210.3,728.3 1212.7,723.3C1215.1,718.3 1215.6,709.1 1216.6,705.4C1217.7,701.7 1219.8,700.3 1220.6,695.5C1221.4,690.8 1222.6,675.8 1222.6,669.7C1222.6,663.7 1218.5,654.1 1220.6,649.9Z"/>
<path fill="#f1f7fb" transform="translate(218.3,0)" d="M1220.6,649.9C1222.7,645.7 1232.1,640.1 1238.5,638C1244.8,635.9 1260.3,634.1 1268.2,634.1C1276.1,634.1 1292.4,635.9 1297.9,638C1303.5,640.1 1306.9,645.7 1309.8,649.9C1312.7,654.1 1316.6,662.9 1319.7,669.7C1322.9,676.6 1331.8,694.9 1333.6,701.5C1335.5,708.1 1332,714.8 1333.6,719.3C1335.2,723.8 1341.8,731.5 1345.5,735.2C1349.2,738.9 1355.6,743.6 1361.4,747.1C1367.2,750.5 1384.9,756.7 1389.1,761C1393.4,765.2 1392.6,771.1 1393.1,778.8C1393.6,786.5 1423.3,813.2 1393.1,818.5C1363,823.7 1197.2,823.7 1167.1,818.5C1136.9,813.2 1166.5,786.5 1167.1,778.8C1167.6,771.1 1168.9,763.9 1171,761C1173.2,758 1179.2,759.4 1182.9,757C1186.6,754.6 1194.8,747.6 1198.8,743.1C1202.8,738.6 1210.3,728.3 1212.7,723.3C1215.1,718.3 1215.6,709.1 1216.6,705.4C1217.7,701.7 1219.8,700.3 1220.6,695.5C1221.4,690.8 1222.6,675.8 1222.6,669.7C1222.6,663.7 1218.5,654.1 1220.6,649.9Z"/>
<path fill="#fef0e9" transform="translate(-218.3,0)" d="M1100.6,651.5C1101.2,644.6 1105.6,637.5 1109.6,633.6C1113.6,629.8 1123.8,627.8 1127.4,625.7C1131,623.6 1133.2,622.1 1133.4,619.7C1133.5,617.4 1124.5,611 1128.4,609.8C1132.3,608.6 1148.6,610.9 1159.1,611.8C1169.7,612.7 1190.5,614.6 1198.8,615.8C1207.1,617 1211.8,617.7 1214.7,619.7C1217.5,621.8 1219.1,626.4 1217.6,629.7C1216.1,632.9 1206.1,637.7 1204.7,641.6C1203.4,645.4 1208.3,650.7 1208.7,655.4C1209.2,660.2 1207.1,666.1 1207.7,673.3C1208.3,680.4 1213.4,696.2 1212.7,703C1211.9,709.9 1207.8,714.1 1202.8,718.9C1197.7,723.6 1185.5,732.1 1179,734.7C1172.4,737.4 1166.6,738.2 1159.1,736.7C1151.7,735.2 1136.2,729 1129.4,724.8C1122.6,720.7 1117.1,715.8 1113.5,709C1110,702.1 1107.5,687.9 1105.6,679.2C1103.7,670.6 1100.1,658.3 1100.6,651.5Z"/>
<path fill="#fef0e9" d="M1100.6,651.5C1101.2,644.6 1105.6,637.5 1109.6,633.6C1113.6,629.8 1123.8,627.8 1127.4,625.7C1131,623.6 1133.2,622.1 1133.4,619.7C1133.5,617.4 1124.5,611 1128.4,609.8C1132.3,608.6 1148.6,610.9 1159.1,611.8C1169.7,612.7 1190.5,614.6 1198.8,615.8C1207.1,617 1211.8,617.7 1214.7,619.7C1217.5,621.8 1219.1,626.4 1217.6,629.7C1216.1,632.9 1206.1,637.7 1204.7,641.6C1203.4,645.4 1208.3,650.7 1208.7,655.4C1209.2,660.2 1207.1,666.1 1207.7,673.3C1208.3,680.4 1213.4,696.2 1212.7,703C1211.9,709.9 1207.8,714.1 1202.8,718.9C1197.7,723.6 1185.5,732.1 1179,734.7C1172.4,737.4 1166.6,738.2 1159.1,736.7C1151.7,735.2 1136.2,729 1129.4,724.8C1122.6,720.7 1117.1,715.8 1113.5,709C1110,702.1 1107.5,687.9 1105.6,679.2C1103.7,670.6 1100.1,658.3 1100.6,651.5Z"/>
<path fill="#fef0e9" transform="translate(218.3,0)" d="M1100.6,651.5C1101.2,644.6 1105.6,637.5 1109.6,633.6C1113.6,629.8 1123.8,627.8 1127.4,625.7C1131,623.6 1133.2,622.1 1133.4,619.7C1133.5,617.4 1124.5,611 1128.4,609.8C1132.3,608.6 1148.6,610.9 1159.1,611.8C1169.7,612.7 1190.5,614.6 1198.8,615.8C1207.1,617 1211.8,617.7 1214.7,619.7C1217.5,621.8 1219.1,626.4 1217.6,629.7C1216.1,632.9 1206.1,637.7 1204.7,641.6C1203.4,645.4 1208.3,650.7 1208.7,655.4C1209.2,660.2 1207.1,666.1 1207.7,673.3C1208.3,680.4 1213.4,696.2 1212.7,703C1211.9,709.9 1207.8,714.1 1202.8,718.9C1197.7,723.6 1185.5,732.1 1179,734.7C1172.4,737.4 1166.6,738.2 1159.1,736.7C1151.7,735.2 1136.2,729 1129.4,724.8C1122.6,720.7 1117.1,715.8 1113.5,709C1110,702.1 1107.5,687.9 1105.6,679.2C1103.7,670.6 1100.1,658.3 1100.6,651.5Z"/>
<path fill="#cce2ef" transform="translate(-218.3,0)" d="M1114.5,441C1101.7,444 1122.6,455.8 1125.4,460.9C1128.3,465.9 1132.2,470.3 1133.4,474.7C1134.6,479.2 1134.8,485.9 1133.4,490.6C1131.9,495.3 1126.1,501.6 1123.6,505.8C1121.1,509.9 1117.8,513.5 1116.6,518.3C1115.5,523 1115.7,532.3 1115.9,537.7C1116.1,543.1 1115.2,549.3 1118,554.3C1120.8,559.3 1128.4,567.2 1134.7,570.9C1140.9,574.7 1153.2,577.4 1159.6,579.3C1166,581.1 1172.3,583.4 1177.6,583.4C1182.9,583.4 1192,581.3 1195,579.3C1197.9,577.2 1194.8,572.3 1197,569.6C1199.2,566.9 1207.2,564.1 1209.5,561.2C1211.8,558.3 1212.1,553.3 1212.3,550.1C1212.5,547 1210.1,545 1210.9,540.4C1211.7,535.9 1216.6,525.9 1217.8,519.7C1219.1,513.4 1220,507.7 1219.2,498.9C1218.4,490 1214,469.5 1212.7,460.9C1211.4,452.2 1225.4,444 1210.7,441C1196,438.1 1127.3,438.1 1114.5,441Z"/>
<path fill="#cce2ef" d="M1114.5,441C1101.7,444 1122.6,455.8 1125.4,460.9C1128.3,465.9 1132.2,470.3 1133.4,474.7C1134.6,479.2 1134.8,485.9 1133.4,490.6C1131.9,495.3 1126.1,501.6 1123.6,505.8C1121.1,509.9 1117.8,513.5 1116.6,518.3C1115.5,523 1115.7,532.3 1115.9,537.7C1116.1,543.1 1115.2,549.3 1118,554.3C1120.8,559.3 1128.4,567.2 1134.7,570.9C1140.9,574.7 1153.2,577.4 1159.6,579.3C1166,581.1 1172.3,583.4 1177.6,583.4C1182.9,583.4 1192,581.3 1195,579.3C1197.9,577.2 1194.8,572.3 1197,569.6C1199.2,566.9 1207.2,564.1 1209.5,561.2C1211.8,558.3 1212.1,553.3 1212.3,550.1C1212.5,547 1210.1,545 1210.9,540.4C1211.7,535.9 1216.6,525.9 1217.8,519.7C1219.1,513.4 1220,507.7 1219.2,498.9C1218.4,490 1214,469.5 1212.7,460.9C1211.4,452.2 1225.4,444 1210.7,441C1196,438.1 1127.3,438.1 1114.5,441Z"/>
<path fill="#cce2ef" transform="translate(218.3,0)" d="M1114.5,441C1101.7,444 1122.6,455.8 1125.4,460.9C1128.3,465.9 1132.2,470.3 1133.4,474.7C1134.6,479.2 1134.8,485.9 1133.4,490.6C1131.9,495.3 1126.1,501.6 1123.6,505.8C1121.1,509.9 1117.8,513.5 1116.6,518.3C1115.5,523 1115.7,532.3 1115.9,537.7C1116.1,543.1 1115.2,549.3 1118,554.3C1120.8,559.3 1128.4,567.2 1134.7,570.9C1140.9,574.7 1153.2,577.4 1159.6,579.3C1166,581.1 1172.3,583.4 1177.6,583.4C1182.9,583.4 1192,581.3 1195,579.3C1197.9,577.2 1194.8,572.3 1197,569.6C1199.2,566.9 1207.2,564.1 1209.5,561.2C1211.8,558.3 1212.1,553.3 1212.3,550.1C1212.5,547 1210.1,545 1210.9,540.4C1211.7,535.9 1216.6,525.9 1217.8,519.7C1219.1,513.4 1220,507.7 1219.2,498.9C1218.4,490 1214,469.5 1212.7,460.9C1211.4,452.2 1225.4,444 1210.7,441C1196,438.1 1127.3,438.1 1114.5,441Z"/>
<path fill="#fcd6c5" transform="translate(-218.3,0)" d="M1233.5,540.2C1234.1,534.2 1235.9,528.8 1238.5,524.3C1241,519.9 1245.9,513.7 1250.4,510.4C1254.8,507.2 1263.1,503.7 1268.2,502.5C1273.3,501.3 1279,501.3 1284.1,502.5C1289.1,503.7 1297.7,506.6 1301.9,510.4C1306.1,514.3 1309.9,522.6 1311.8,528.3C1313.8,533.9 1314,542.8 1314.8,548.1C1315.5,553.5 1315.7,559.2 1316.8,564C1317.8,568.7 1321.3,575.7 1321.7,579.8C1322.2,584 1321.8,589.3 1319.7,591.7C1317.7,594.1 1312.6,596 1307.9,595.7C1303.1,595.4 1295.5,590 1288,589.7C1280.6,589.4 1265.7,594 1258.3,593.7C1250.8,593.4 1242,592.2 1238.5,587.8C1234.9,583.3 1235.2,571.1 1234.5,564C1233.7,556.8 1232.9,546.1 1233.5,540.2Z"/>
<path fill="#fcd6c5" d="M1233.5,540.2C1234.1,534.2 1235.9,528.8 1238.5,524.3C1241,519.9 1245.9,513.7 1250.4,510.4C1254.8,507.2 1263.1,503.7 1268.2,502.5C1273.3,501.3 1279,501.3 1284.1,502.5C1289.1,503.7 1297.7,506.6 1301.9,510.4C1306.1,514.3 1309.9,522.6 1311.8,528.3C1313.8,533.9 1314,542.8 1314.8,548.1C1315.5,553.5 1315.7,559.2 1316.8,564C1317.8,568.7 1321.3,575.7 1321.7,579.8C1322.2,584 1321.8,589.3 1319.7,591.7C1317.7,594.1 1312.6,596 1307.9,595.7C1303.1,595.4 1295.5,590 1288,589.7C1280.6,589.4 1265.7,594 1258.3,593.7C1250.8,593.4 1242,592.2 1238.5,587.8C1234.9,583.3 1235.2,571.1 1234.5,564C1233.7,556.8 1232.9,546.1 1233.5,540.2Z"/>
<path fill="#fcd6c5" transform="translate(218.3,0)" d="M1233.5,540.2C1234.1,534.2 1235.9,528.8 1238.5,524.3C1241,519.9 1245.9,513.7 1250.4,510.4C1254.8,507.2 1263.1,503.7 1268.2,502.5C1273.3,501.3 1279,501.3 1284.1,502.5C1289.1,503.7 1297.7,506.6 1301.9,510.4C1306.1,514.3 1309.9,522.6 1311.8,528.3C1313.8,533.9 1314,542.8 1314.8,548.1C1315.5,553.5 1315.7,559.2 1316.8,564C1317.8,568.7 1321.3,575.7 1321.7,579.8C1322.2,584 1321.8,589.3 1319.7,591.7C1317.7,594.1 1312.6,596 1307.9,595.7C1303.1,595.4 1295.5,590 1288,589.7C1280.6,589.4 1265.7,594 1258.3,593.7C1250.8,593.4 1242,592.2 1238.5,587.8C1234.9,583.3 1235.2,571.1 1234.5,564C1233.7,556.8 1232.9,546.1 1233.5,540.2Z"/>
<path fill="#fcd6c5" transform="translate(-218.3,0)" d="M1109.6,649.5C1111.7,645.9 1118.6,643.2 1125.4,641.6C1132.3,639.9 1147.1,638.3 1155.2,638.6C1163.2,638.9 1172.7,641.6 1179,643.5C1185.2,645.5 1193.1,647.6 1196.8,651.5C1200.5,655.3 1202.3,664.9 1203.8,669.3C1205.2,673.8 1207.2,675.9 1206.7,681.2C1206.3,686.6 1204.3,699.1 1200.8,705C1197.2,711 1188,717.9 1182.9,720.9C1177.9,723.8 1172.4,725.4 1167.1,724.8C1161.7,724.2 1152.3,719.9 1147.2,716.9C1142.2,713.9 1137.5,710.1 1133.4,705C1129.2,699.9 1122.8,689.1 1119.5,683.2C1116.2,677.2 1113,670.4 1111.6,665.3C1110.1,660.3 1107.5,653.1 1109.6,649.5Z"/>
<path fill="#fcd6c5" d="M1109.6,649.5C1111.7,645.9 1118.6,643.2 1125.4,641.6C1132.3,639.9 1147.1,638.3 1155.2,638.6C1163.2,638.9 1172.7,641.6 1179,643.5C1185.2,645.5 1193.1,647.6 1196.8,651.5C1200.5,655.3 1202.3,664.9 1203.8,669.3C1205.2,673.8 1207.2,675.9 1206.7,681.2C1206.3,686.6 1204.3,699.1 1200.8,705C1197.2,711 1188,717.9 1182.9,720.9C1177.9,723.8 1172.4,725.4 1167.1,724.8C1161.7,724.2 1152.3,719.9 1147.2,716.9C1142.2,713.9 1137.5,710.1 1133.4,705C1129.2,699.9 1122.8,689.1 1119.5,683.2C1116.2,677.2 1113,670.4 1111.6,665.3C1110.1,660.3 1107.5,653.1 1109.6,649.5Z"/>
<path fill="#fcd6c5" transform="translate(218.3,0)" d="M1109.6,649.5C1111.7,645.9 1118.6,643.2 1125.4,641.6C1132.3,639.9 1147.1,638.3 1155.2,638.6C1163.2,638.9 1172.7,641.6 1179,643.5C1185.2,645.5 1193.1,647.6 1196.8,651.5C1200.5,655.3 1202.3,664.9 1203.8,669.3C1205.2,673.8 1207.2,675.9 1206.7,681.2C1206.3,686.6 1204.3,699.1 1200.8,705C1197.2,711 1188,717.9 1182.9,720.9C1177.9,723.8 1172.4,725.4 1167.1,724.8C1161.7,724.2 1152.3,719.9 1147.2,716.9C1142.2,713.9 1137.5,710.1 1133.4,705C1129.2,699.9 1122.8,689.1 1119.5,683.2C1116.2,677.2 1113,670.4 1111.6,665.3C1110.1,660.3 1107.5,653.1 1109.6,649.5Z"/>
<path fill="#cce2ef" transform="translate(-218.3,0)" d="M1226.6,683.2C1226,678.5 1226.6,673.3 1228.5,669.7C1230.5,666.2 1238.6,662.6 1239.4,659.8C1240.3,657.1 1231.7,653.6 1234.5,651.5C1237.3,649.4 1250.3,646.6 1258.3,645.6C1266.3,644.5 1282.1,644 1288,644.6C1294,645.2 1295,646.7 1297.9,649.5C1300.9,652.3 1306.1,658 1307.9,663.4C1309.6,668.8 1307.5,679.3 1309.8,685.2C1312.2,691.2 1323,697.3 1323.7,703.1C1324.5,708.8 1315.7,718.8 1314.8,723.3C1313.9,727.8 1318.8,728.4 1317.8,733.2C1316.7,738 1313.8,749.9 1307.9,755C1301.9,760.1 1285.5,763.3 1278.1,766.9C1270.7,770.5 1264.2,776.3 1258.3,778.8C1252.3,781.3 1243.8,783.8 1238.5,783.8C1233.1,783.8 1225.7,781.6 1222.6,778.8C1219.5,776 1215.1,770 1217.6,764.9C1220.2,759.9 1237.7,749.8 1239.4,745.1C1241.2,740.3 1230.6,739.7 1229.5,733.2C1228.5,726.6 1233,709 1232.5,701.5C1232.1,694 1227.2,688 1226.6,683.2Z"/>
<path fill="#cce2ef" d="M1226.6,683.2C1226,678.5 1226.6,673.3 1228.5,669.7C1230.5,666.2 1238.6,662.6 1239.4,659.8C1240.3,657.1 1231.7,653.6 1234.5,651.5C1237.3,649.4 1250.3,646.6 1258.3,645.6C1266.3,644.5 1282.1,644 1288,644.6C1294,645.2 1295,646.7 1297.9,649.5C1300.9,652.3 1306.1,658 1307.9,663.4C1309.6,668.8 1307.5,679.3 1309.8,685.2C1312.2,691.2 1323,697.3 1323.7,703.1C1324.5,708.8 1315.7,718.8 1314.8,723.3C1313.9,727.8 1318.8,728.4 1317.8,733.2C1316.7,738 1313.8,749.9 1307.9,755C1301.9,760.1 1285.5,763.3 1278.1,766.9C1270.7,770.5 1264.2,776.3 1258.3,778.8C1252.3,781.3 1243.8,783.8 1238.5,783.8C1233.1,783.8 1225.7,781.6 1222.6,778.8C1219.5,776 1215.1,770 1217.6,764.9C1220.2,759.9 1237.7,749.8 1239.4,745.1C1241.2,740.3 1230.6,739.7 1229.5,733.2C1228.5,726.6 1233,709 1232.5,701.5C1232.1,694 1227.2,688 1226.6,683.2Z"/>
<path fill="#cce2ef" transform="translate(218.3,0)" d="M1226.6,683.2C1226,678.5 1226.6,673.3 1228.5,669.7C1230.5,666.2 1238.6,662.6 1239.4,659.8C1240.3,657.1 1231.7,653.6 1234.5,651.5C1237.3,649.4 1250.3,646.6 1258.3,645.6C1266.3,644.5 1282.1,644 1288,644.6C1294,645.2 1295,646.7 1297.9,649.5C1300.9,652.3 1306.1,658 1307.9,663.4C1309.6,668.8 1307.5,679.3 1309.8,685.2C1312.2,691.2 1323,697.3 1323.7,703.1C1324.5,708.8 1315.7,718.8 1314.8,723.3C1313.9,727.8 1318.8,728.4 1317.8,733.2C1316.7,738 1313.8,749.9 1307.9,755C1301.9,760.1 1285.5,763.3 1278.1,766.9C1270.7,770.5 1264.2,776.3 1258.3,778.8C1252.3,781.3 1243.8,783.8 1238.5,783.8C1233.1,783.8 1225.7,781.6 1222.6,778.8C1219.5,776 1215.1,770 1217.6,764.9C1220.2,759.9 1237.7,749.8 1239.4,745.1C1241.2,740.3 1230.6,739.7 1229.5,733.2C1228.5,726.6 1233,709 1232.5,701.5C1232.1,694 1227.2,688 1226.6,683.2Z"/>
<path fill="#97c3de" transform="translate(-218.3,0)" d="M1125.2,537.7C1124.6,533.1 1125.3,528.9 1127.7,525.2C1130.2,521.5 1137.4,516.5 1141.6,512.7C1145.7,509 1152.3,503.8 1155.4,500.2C1158.6,496.7 1159.9,492.1 1162.4,489.2C1164.9,486.2 1167.9,482.3 1172.1,480.8C1176.2,479.4 1185.9,478.8 1190.1,479.5C1194.3,480.1 1197.9,482.1 1199.8,485C1201.7,487.9 1201.3,494.1 1202.6,498.9C1203.8,503.6 1207.5,511.1 1208.1,516.9C1208.7,522.7 1207.1,532.7 1206.7,537.7C1206.3,542.7 1206,547.2 1205.3,550.1C1204.7,553.1 1205.9,554.6 1202.6,557.1C1199.2,559.6 1188.6,565.1 1183.2,566.8C1177.8,568.4 1172.1,568.5 1166.5,568.2C1160.9,567.9 1150.9,566.6 1145.7,564.7C1140.5,562.8 1135,559.7 1131.9,555.7C1128.8,551.6 1125.9,542.2 1125.2,537.7Z"/>
<path fill="#97c3de" d="M1125.2,537.7C1124.6,533.1 1125.3,528.9 1127.7,525.2C1130.2,521.5 1137.4,516.5 1141.6,512.7C1145.7,509 1152.3,503.8 1155.4,500.2C1158.6,496.7 1159.9,492.1 1162.4,489.2C1164.9,486.2 1167.9,482.3 1172.1,480.8C1176.2,479.4 1185.9,478.8 1190.1,479.5C1194.3,480.1 1197.9,482.1 1199.8,485C1201.7,487.9 1201.3,494.1 1202.6,498.9C1203.8,503.6 1207.5,511.1 1208.1,516.9C1208.7,522.7 1207.1,532.7 1206.7,537.7C1206.3,542.7 1206,547.2 1205.3,550.1C1204.7,553.1 1205.9,554.6 1202.6,557.1C1199.2,559.6 1188.6,565.1 1183.2,566.8C1177.8,568.4 1172.1,568.5 1166.5,568.2C1160.9,567.9 1150.9,566.6 1145.7,564.7C1140.5,562.8 1135,559.7 1131.9,555.7C1128.8,551.6 1125.9,542.2 1125.2,537.7Z"/>
<path fill="#97c3de" transform="translate(218.3,0)" d="M1125.2,537.7C1124.6,533.1 1125.3,528.9 1127.7,525.2C1130.2,521.5 1137.4,516.5 1141.6,512.7C1145.7,509 1152.3,503.8 1155.4,500.2C1158.6,496.7 1159.9,492.1 1162.4,489.2C1164.9,486.2 1167.9,482.3 1172.1,480.8C1176.2,479.4 1185.9,478.8 1190.1,479.5C1194.3,480.1 1197.9,482.1 1199.8,485C1201.7,487.9 1201.3,494.1 1202.6,498.9C1203.8,503.6 1207.5,511.1 1208.1,516.9C1208.7,522.7 1207.1,532.7 1206.7,537.7C1206.3,542.7 1206,547.2 1205.3,550.1C1204.7,553.1 1205.9,554.6 1202.6,557.1C1199.2,559.6 1188.6,565.1 1183.2,566.8C1177.8,568.4 1172.1,568.5 1166.5,568.2C1160.9,567.9 1150.9,566.6 1145.7,564.7C1140.5,562.8 1135,559.7 1131.9,555.7C1128.8,551.6 1125.9,542.2 1125.2,537.7Z"/>
<path fill="#f7b296" transform="translate(-218.3,0)" d="M1241.4,540.2C1241.4,533.9 1244.9,526.6 1248.4,522.3C1251.8,518 1259.8,513.2 1264.2,511.4C1268.7,509.6 1273.4,509.4 1278.1,510.4C1282.9,511.5 1291.8,515.4 1296,518.4C1300.1,521.3 1303.8,524.6 1305.9,530.3C1308,535.9 1308.6,549.8 1309.8,556C1311,562.3 1314.4,568 1313.8,571.9C1313.2,575.8 1311.2,580 1305.9,581.8C1300.5,583.6 1285.5,584.1 1278.1,583.8C1270.7,583.5 1260.8,582.8 1256.3,579.8C1251.8,576.9 1250.6,569.9 1248.4,564C1246.1,558 1241.4,546.4 1241.4,540.2Z"/>
<path fill="#f7b296" d="M1241.4,540.2C1241.4,533.9 1244.9,526.6 1248.4,522.3C1251.8,518 1259.8,513.2 1264.2,511.4C1268.7,509.6 1273.4,509.4 1278.1,510.4C1282.9,511.5 1291.8,515.4 1296,518.4C1300.1,521.3 1303.8,524.6 1305.9,530.3C1308,535.9 1308.6,549.8 1309.8,556C1311,562.3 1314.4,568 1313.8,571.9C1313.2,575.8 1311.2,580 1305.9,581.8C1300.5,583.6 1285.5,584.1 1278.1,583.8C1270.7,583.5 1260.8,582.8 1256.3,579.8C1251.8,576.9 1250.6,569.9 1248.4,564C1246.1,558 1241.4,546.4 1241.4,540.2Z"/>
<path fill="#f7b296" transform="translate(218.3,0)" d="M1241.4,540.2C1241.4,533.9 1244.9,526.6 1248.4,522.3C1251.8,518 1259.8,513.2 1264.2,511.4C1268.7,509.6 1273.4,509.4 1278.1,510.4C1282.9,511.5 1291.8,515.4 1296,518.4C1300.1,521.3 1303.8,524.6 1305.9,530.3C1308,535.9 1308.6,549.8 1309.8,556C1311,562.3 1314.4,568 1313.8,571.9C1313.2,575.8 1311.2,580 1305.9,581.8C1300.5,583.6 1285.5,584.1 1278.1,583.8C1270.7,583.5 1260.8,582.8 1256.3,579.8C1251.8,576.9 1250.6,569.9 1248.4,564C1246.1,558 1241.4,546.4 1241.4,540.2Z"/>
<path fill="#f7b296" transform="translate(-218.3,0)" d="M1121.5,651.5C1124.9,648.6 1137,647.1 1143.3,646.5C1149.5,645.9 1158.3,646.8 1163.1,647.5C1167.9,648.2 1171.7,649.4 1175,651.5C1178.3,653.5 1181.6,658.7 1184.9,661.4C1188.2,664.1 1194.6,666.3 1196.8,669.3C1199,672.3 1200.7,676.5 1199.8,681.2C1198.9,686 1194,696.3 1190.9,701C1187.7,705.8 1182.5,710.9 1179,712.9C1175.4,715 1171.5,715.8 1167.1,714.9C1162.6,714 1154,709.7 1149.2,707C1144.5,704.3 1139.2,701.2 1135.3,697.1C1131.5,692.9 1125.7,684 1123.5,679.2C1121.2,674.5 1120.8,669.5 1120.5,665.3C1120.2,661.2 1118,654.3 1121.5,651.5Z"/>
<path fill="#f7b296" d="M1121.5,651.5C1124.9,648.6 1137,647.1 1143.3,646.5C1149.5,645.9 1158.3,646.8 1163.1,647.5C1167.9,648.2 1171.7,649.4 1175,651.5C1178.3,653.5 1181.6,658.7 1184.9,661.4C1188.2,664.1 1194.6,666.3 1196.8,669.3C1199,672.3 1200.7,676.5 1199.8,681.2C1198.9,686 1194,696.3 1190.9,701C1187.7,705.8 1182.5,710.9 1179,712.9C1175.4,715 1171.5,715.8 1167.1,714.9C1162.6,714 1154,709.7 1149.2,707C1144.5,704.3 1139.2,701.2 1135.3,697.1C1131.5,692.9 1125.7,684 1123.5,679.2C1121.2,674.5 1120.8,669.5 1120.5,665.3C1120.2,661.2 1118,654.3 1121.5,651.5Z"/>
<path fill="#f7b296" transform="translate(218.3,0)" d="M1121.5,651.5C1124.9,648.6 1137,647.1 1143.3,646.5C1149.5,645.9 1158.3,646.8 1163.1,647.5C1167.9,648.2 1171.7,649.4 1175,651.5C1178.3,653.5 1181.6,658.7 1184.9,661.4C1188.2,664.1 1194.6,666.3 1196.8,669.3C1199,672.3 1200.7,676.5 1199.8,681.2C1198.9,686 1194,696.3 1190.9,701C1187.7,705.8 1182.5,710.9 1179,712.9C1175.4,715 1171.5,715.8 1167.1,714.9C1162.6,714 1154,709.7 1149.2,707C1144.5,704.3 1139.2,701.2 1135.3,697.1C1131.5,692.9 1125.7,684 1123.5,679.2C1121.2,674.5 1120.8,669.5 1120.5,665.3C1120.2,661.2 1118,654.3 1121.5,651.5Z"/>
<path fill="#97c3de" transform="translate(-218.3,0)" d="M1234.1,682.2C1233.2,676.8 1234.8,672.6 1238.5,669.3C1242.1,666 1254.4,662.9 1258.3,660.4C1262.1,657.9 1262.4,653.7 1264.2,652.5C1266,651.2 1267.2,650.5 1270.2,651.9C1273.2,653.2 1279.9,658.8 1284.1,661.4C1288.2,664 1294.7,666.3 1297.9,669.3C1301.2,672.3 1303.5,676.2 1305.9,681.2C1308.2,686.3 1314.1,697.7 1313.8,703C1313.5,708.4 1309.2,713.9 1303.9,716.9C1298.5,719.9 1285.8,722.8 1278.1,722.8C1270.4,722.8 1257.4,719.6 1252.3,716.9C1247.3,714.2 1247.1,710.2 1244.4,705C1241.7,699.8 1235,687.6 1234.1,682.2Z"/>
<path fill="#97c3de" d="M1234.1,682.2C1233.2,676.8 1234.8,672.6 1238.5,669.3C1242.1,666 1254.4,662.9 1258.3,660.4C1262.1,657.9 1262.4,653.7 1264.2,652.5C1266,651.2 1267.2,650.5 1270.2,651.9C1273.2,653.2 1279.9,658.8 1284.1,661.4C1288.2,664 1294.7,666.3 1297.9,669.3C1301.2,672.3 1303.5,676.2 1305.9,681.2C1308.2,686.3 1314.1,697.7 1313.8,703C1313.5,708.4 1309.2,713.9 1303.9,716.9C1298.5,719.9 1285.8,722.8 1278.1,722.8C1270.4,722.8 1257.4,719.6 1252.3,716.9C1247.3,714.2 1247.1,710.2 1244.4,705C1241.7,699.8 1235,687.6 1234.1,682.2Z"/>
<path fill="#97c3de" transform="translate(218.3,0)" d="M1234.1,682.2C1233.2,676.8 1234.8,672.6 1238.5,669.3C1242.1,666 1254.4,662.9 1258.3,660.4C1262.1,657.9 1262.4,653.7 1264.2,652.5C1266,651.2 1267.2,650.5 1270.2,651.9C1273.2,653.2 1279.9,658.8 1284.1,661.4C1288.2,664 1294.7,666.3 1297.9,669.3C1301.2,672.3 1303.5,676.2 1305.9,681.2C1308.2,686.3 1314.1,697.7 1313.8,703C1313.5,708.4 1309.2,713.9 1303.9,716.9C1298.5,719.9 1285.8,722.8 1278.1,722.8C1270.4,722.8 1257.4,719.6 1252.3,716.9C1247.3,714.2 1247.1,710.2 1244.4,705C1241.7,699.8 1235,687.6 1234.1,682.2Z"/>
<path fill="#97c3de" transform="translate(-218.3,0)" d="M1266.2,733.8C1266.2,732.7 1273.4,727.8 1275.1,727.8C1276.9,727.8 1284.1,732.7 1284.1,733.8C1284.1,734.8 1276.9,738.3 1275.1,738.3C1273.4,738.3 1266.2,734.8 1266.2,733.8Z"/>
<path fill="#97c3de" d="M1266.2,733.8C1266.2,732.7 1273.4,727.8 1275.1,727.8C1276.9,727.8 1284.1,732.7 1284.1,733.8C1284.1,734.8 1276.9,738.3 1275.1,738.3C1273.4,738.3 1266.2,734.8 1266.2,733.8Z"/>
<path fill="#97c3de" transform="translate(218.3,0)" d="M1266.2,733.8C1266.2,732.7 1273.4,727.8 1275.1,727.8C1276.9,727.8 1284.1,732.7 1284.1,733.8C1284.1,734.8 1276.9,738.3 1275.1,738.3C1273.4,738.3 1266.2,734.8 1266.2,733.8Z"/>
<path fill="#66a4cf" transform="translate(-218.3,0)" d="M1136,540.4C1135.6,536.7 1135.9,531.2 1138.8,528C1141.7,524.7 1150,522 1155.4,519C1160.9,515.9 1170.5,509.2 1174.9,507.9C1179.2,506.5 1181.6,508 1184.6,510C1187.5,511.9 1192,518.3 1194.3,521C1196.5,523.7 1199.1,524.2 1199.8,528C1200.5,531.7 1200.4,541.6 1199.1,546C1197.9,550.4 1195.3,554.7 1191.5,557.1C1187.6,559.5 1178.9,561.5 1173.5,561.9C1168.1,562.3 1160.2,561.2 1155.4,559.9C1150.7,558.5 1144.5,555.8 1141.6,552.9C1138.7,550 1136.5,544.2 1136,540.4Z"/>
<path fill="#66a4cf" d="M1136,540.4C1135.6,536.7 1135.9,531.2 1138.8,528C1141.7,524.7 1150,522 1155.4,519C1160.9,515.9 1170.5,509.2 1174.9,507.9C1179.2,506.5 1181.6,508 1184.6,510C1187.5,511.9 1192,518.3 1194.3,521C1196.5,523.7 1199.1,524.2 1199.8,528C1200.5,531.7 1200.4,541.6 1199.1,546C1197.9,550.4 1195.3,554.7 1191.5,557.1C1187.6,559.5 1178.9,561.5 1173.5,561.9C1168.1,562.3 1160.2,561.2 1155.4,559.9C1150.7,558.5 1144.5,555.8 1141.6,552.9C1138.7,550 1136.5,544.2 1136,540.4Z"/>
<path fill="#66a4cf" transform="translate(218.3,0)" d="M1136,540.4C1135.6,536.7 1135.9,531.2 1138.8,528C1141.7,524.7 1150,522 1155.4,519C1160.9,515.9 1170.5,509.2 1174.9,507.9C1179.2,506.5 1181.6,508 1184.6,510C1187.5,511.9 1192,518.3 1194.3,521C1196.5,523.7 1199.1,524.2 1199.8,528C1200.5,531.7 1200.4,541.6 1199.1,546C1197.9,550.4 1195.3,554.7 1191.5,557.1C1187.6,559.5 1178.9,561.5 1173.5,561.9C1168.1,562.3 1160.2,561.2 1155.4,559.9C1150.7,558.5 1144.5,555.8 1141.6,552.9C1138.7,550 1136.5,544.2 1136,540.4Z"/>
<path fill="#ea8969" transform="translate(-218.3,0)" d="M1250.8,537.7C1251.2,534.1 1253.7,528.1 1256.6,525.2C1259.6,522.3 1266.3,519.1 1270.5,518.3C1274.7,517.4 1280.8,518.4 1284.4,519.7C1287.9,520.9 1292,523.7 1294.1,526.6C1296.1,529.5 1297.8,534.3 1298.2,539.1C1298.6,543.8 1298.9,554.6 1296.8,558.5C1294.8,562.3 1288.3,563.5 1284.4,564.7C1280.4,566 1274.4,567.5 1270.5,566.8C1266.5,566.1 1260.5,562.6 1258,559.9C1255.5,557.1 1254.9,552.1 1253.9,548.8C1252.8,545.4 1250.4,541.2 1250.8,537.7Z"/>
<path fill="#ea8969" d="M1250.8,537.7C1251.2,534.1 1253.7,528.1 1256.6,525.2C1259.6,522.3 1266.3,519.1 1270.5,518.3C1274.7,517.4 1280.8,518.4 1284.4,519.7C1287.9,520.9 1292,523.7 1294.1,526.6C1296.1,529.5 1297.8,534.3 1298.2,539.1C1298.6,543.8 1298.9,554.6 1296.8,558.5C1294.8,562.3 1288.3,563.5 1284.4,564.7C1280.4,566 1274.4,567.5 1270.5,566.8C1266.5,566.1 1260.5,562.6 1258,559.9C1255.5,557.1 1254.9,552.1 1253.9,548.8C1252.8,545.4 1250.4,541.2 1250.8,537.7Z"/>
<path fill="#ea8969" transform="translate(218.3,0)" d="M1250.8,537.7C1251.2,534.1 1253.7,528.1 1256.6,525.2C1259.6,522.3 1266.3,519.1 1270.5,518.3C1274.7,517.4 1280.8,518.4 1284.4,519.7C1287.9,520.9 1292,523.7 1294.1,526.6C1296.1,529.5 1297.8,534.3 1298.2,539.1C1298.6,543.8 1298.9,554.6 1296.8,558.5C1294.8,562.3 1288.3,563.5 1284.4,564.7C1280.4,566 1274.4,567.5 1270.5,566.8C1266.5,566.1 1260.5,562.6 1258,559.9C1255.5,557.1 1254.9,552.1 1253.9,548.8C1252.8,545.4 1250.4,541.2 1250.8,537.7Z"/>
<path fill="#ea8969" transform="translate(-218.3,0)" d="M1128.4,673.3C1129.9,670 1138.3,663.8 1141.3,661.4C1144.3,659 1145.6,657.1 1148.2,657.4C1150.9,657.7 1154.8,662.2 1159.1,663.4C1163.5,664.6 1172.5,663.9 1177,665.3C1181.4,666.8 1186.7,670.8 1188.9,673.3C1191.1,675.8 1193,678.6 1191.9,682.2C1190.7,685.8 1185.3,694.2 1181,697.1C1176.6,699.9 1168.8,701.6 1163.1,701C1157.5,700.4 1148,695.8 1143.3,693.1C1138.5,690.4 1133.6,686.2 1131.4,683.2C1129.2,680.2 1126.9,676.5 1128.4,673.3Z"/>
<path fill="#ea8969" d="M1128.4,673.3C1129.9,670 1138.3,663.8 1141.3,661.4C1144.3,659 1145.6,657.1 1148.2,657.4C1150.9,657.7 1154.8,662.2 1159.1,663.4C1163.5,664.6 1172.5,663.9 1177,665.3C1181.4,666.8 1186.7,670.8 1188.9,673.3C1191.1,675.8 1193,678.6 1191.9,682.2C1190.7,685.8 1185.3,694.2 1181,697.1C1176.6,699.9 1168.8,701.6 1163.1,701C1157.5,700.4 1148,695.8 1143.3,693.1C1138.5,690.4 1133.6,686.2 1131.4,683.2C1129.2,680.2 1126.9,676.5 1128.4,673.3Z"/>
<path fill="#ea8969" transform="translate(218.3,0)" d="M1128.4,673.3C1129.9,670 1138.3,663.8 1141.3,661.4C1144.3,659 1145.6,657.1 1148.2,657.4C1150.9,657.7 1154.8,662.2 1159.1,663.4C1163.5,664.6 1172.5,663.9 1177,665.3C1181.4,666.8 1186.7,670.8 1188.9,673.3C1191.1,675.8 1193,678.6 1191.9,682.2C1190.7,685.8 1185.3,694.2 1181,697.1C1176.6,699.9 1168.8,701.6 1163.1,701C1157.5,700.4 1148,695.8 1143.3,693.1C1138.5,690.4 1133.6,686.2 1131.4,683.2C1129.2,680.2 1126.9,676.5 1128.4,673.3Z"/>
<path fill="#66a4cf" transform="translate(-218.3,0)" d="M1244.4,682.2C1244.4,677.7 1253.2,675.4 1258.3,673.3C1263.3,671.2 1272.8,668.3 1278.1,668.3C1283.5,668.3 1290.4,671 1294,673.3C1297.5,675.5 1301.2,678.7 1301.9,683.2C1302.6,687.7 1302.5,699 1298.9,703C1295.4,707 1284.2,710 1278.1,710C1272,710 1263.3,707.2 1258.3,703C1253.2,698.9 1244.4,686.7 1244.4,682.2Z"/>
<path fill="#66a4cf" d="M1244.4,682.2C1244.4,677.7 1253.2,675.4 1258.3,673.3C1263.3,671.2 1272.8,668.3 1278.1,668.3C1283.5,668.3 1290.4,671 1294,673.3C1297.5,675.5 1301.2,678.7 1301.9,683.2C1302.6,687.7 1302.5,699 1298.9,703C1295.4,707 1284.2,710 1278.1,710C1272,710 1263.3,707.2 1258.3,703C1253.2,698.9 1244.4,686.7 1244.4,682.2Z"/>
<path fill="#66a4cf" transform="translate(218.3,0)" d="M1244.4,682.2C1244.4,677.7 1253.2,675.4 1258.3,673.3C1263.3,671.2 1272.8,668.3 1278.1,668.3C1283.5,668.3 1290.4,671 1294,673.3C1297.5,675.5 1301.2,678.7 1301.9,683.2C1302.6,687.7 1302.5,699 1298.9,703C1295.4,707 1284.2,710 1278.1,710C1272,710 1263.3,707.2 1258.3,703C1253.2,698.9 1244.4,686.7 1244.4,682.2Z"/>
<path fill="#4587bf" transform="translate(-218.3,0)" d="M1149.6,547.4C1149.3,543.7 1150.8,531.5 1153.4,528C1155.9,524.4 1162.5,524.4 1166.5,523.8C1170.6,523.2 1177.1,523.2 1180.4,523.8C1183.7,524.4 1187.3,524.4 1188.7,528C1190.2,531.5 1191.3,543.5 1190.1,547.4C1188.9,551.2 1184.1,552.6 1180.4,553.6C1176.7,554.7 1168.9,554.5 1165.1,554.3C1161.4,554.1 1157.8,553.3 1155.4,552.2C1153.1,551.2 1149.9,551 1149.6,547.4Z"/>
<path fill="#4587bf" d="M1149.6,547.4C1149.3,543.7 1150.8,531.5 1153.4,528C1155.9,524.4 1162.5,524.4 1166.5,523.8C1170.6,523.2 1177.1,523.2 1180.4,523.8C1183.7,524.4 1187.3,524.4 1188.7,528C1190.2,531.5 1191.3,543.5 1190.1,547.4C1188.9,551.2 1184.1,552.6 1180.4,553.6C1176.7,554.7 1168.9,554.5 1165.1,554.3C1161.4,554.1 1157.8,553.3 1155.4,552.2C1153.1,551.2 1149.9,551 1149.6,547.4Z"/>
<path fill="#4587bf" transform="translate(218.3,0)" d="M1149.6,547.4C1149.3,543.7 1150.8,531.5 1153.4,528C1155.9,524.4 1162.5,524.4 1166.5,523.8C1170.6,523.2 1177.1,523.2 1180.4,523.8C1183.7,524.4 1187.3,524.4 1188.7,528C1190.2,531.5 1191.3,543.5 1190.1,547.4C1188.9,551.2 1184.1,552.6 1180.4,553.6C1176.7,554.7 1168.9,554.5 1165.1,554.3C1161.4,554.1 1157.8,553.3 1155.4,552.2C1153.1,551.2 1149.9,551 1149.6,547.4Z"/>
<path fill="#d15448" transform="translate(-218.3,0)" d="M1262.9,538.4C1263.1,536.3 1265.5,531.1 1267.7,529.4C1269.9,527.6 1274.8,526.7 1277.4,526.6C1280,526.5 1283.5,526.9 1285,528.7C1286.6,530.4 1288.1,535.8 1287.8,538.4C1287.5,541 1284.3,544.3 1283,546C1281.6,547.7 1280.7,549.1 1278.8,549.5C1276.9,549.8 1272.4,549 1270.5,548.1C1268.6,547.1 1267.5,544.7 1266.3,543.2C1265.2,541.8 1262.7,540.4 1262.9,538.4Z"/>
<path fill="#d15448" d="M1262.9,538.4C1263.1,536.3 1265.5,531.1 1267.7,529.4C1269.9,527.6 1274.8,526.7 1277.4,526.6C1280,526.5 1283.5,526.9 1285,528.7C1286.6,530.4 1288.1,535.8 1287.8,538.4C1287.5,541 1284.3,544.3 1283,546C1281.6,547.7 1280.7,549.1 1278.8,549.5C1276.9,549.8 1272.4,549 1270.5,548.1C1268.6,547.1 1267.5,544.7 1266.3,543.2C1265.2,541.8 1262.7,540.4 1262.9,538.4Z"/>
<path fill="#d15448" transform="translate(218.3,0)" d="M1262.9,538.4C1263.1,536.3 1265.5,531.1 1267.7,529.4C1269.9,527.6 1274.8,526.7 1277.4,526.6C1280,526.5 1283.5,526.9 1285,528.7C1286.6,530.4 1288.1,535.8 1287.8,538.4C1287.5,541 1284.3,544.3 1283,546C1281.6,547.7 1280.7,549.1 1278.8,549.5C1276.9,549.8 1272.4,549 1270.5,548.1C1268.6,547.1 1267.5,544.7 1266.3,543.2C1265.2,541.8 1262.7,540.4 1262.9,538.4Z"/>
<path fill="#d15448" transform="translate(-218.3,0)" d="M1137.3,673.3C1138.5,670.8 1145.4,669.1 1149.2,668.3C1153.1,667.6 1158.6,667.6 1163.1,668.3C1167.6,669.1 1175.8,671.3 1179,673.3C1182.1,675.2 1185.1,678.8 1183.9,681.2C1182.7,683.6 1175.4,687.8 1171,689.1C1166.7,690.5 1159.6,690.7 1155.2,690.1C1150.7,689.5 1144,687.7 1141.3,685.2C1138.6,682.6 1136.1,675.8 1137.3,673.3Z"/>
<path fill="#d15448" d="M1137.3,673.3C1138.5,670.8 1145.4,669.1 1149.2,668.3C1153.1,667.6 1158.6,667.6 1163.1,668.3C1167.6,669.1 1175.8,671.3 1179,673.3C1182.1,675.2 1185.1,678.8 1183.9,681.2C1182.7,683.6 1175.4,687.8 1171,689.1C1166.7,690.5 1159.6,690.7 1155.2,690.1C1150.7,689.5 1144,687.7 1141.3,685.2C1138.6,682.6 1136.1,675.8 1137.3,673.3Z"/>
<path fill="#d15448" transform="translate(218.3,0)" d="M1137.3,673.3C1138.5,670.8 1145.4,669.1 1149.2,668.3C1153.1,667.6 1158.6,667.6 1163.1,668.3C1167.6,669.1 1175.8,671.3 1179,673.3C1182.1,675.2 1185.1,678.8 1183.9,681.2C1182.7,683.6 1175.4,687.8 1171,689.1C1166.7,690.5 1159.6,690.7 1155.2,690.1C1150.7,689.5 1144,687.7 1141.3,685.2C1138.6,682.6 1136.1,675.8 1137.3,673.3Z"/>
<path fill="#4587bf" transform="translate(-218.3,0)" d="M1258.3,682.2C1258,680 1266.6,678 1270.2,677.2C1273.7,676.5 1279,676.4 1282.1,677.2C1285.2,678.1 1290.7,681.1 1291,683.2C1291.3,685.3 1286.9,689.8 1284.1,691.1C1281.2,692.5 1276,693.5 1272.2,692.1C1268.3,690.8 1258.6,684.4 1258.3,682.2Z"/>
<path fill="#4587bf" d="M1258.3,682.2C1258,680 1266.6,678 1270.2,677.2C1273.7,676.5 1279,676.4 1282.1,677.2C1285.2,678.1 1290.7,681.1 1291,683.2C1291.3,685.3 1286.9,689.8 1284.1,691.1C1281.2,692.5 1276,693.5 1272.2,692.1C1268.3,690.8 1258.6,684.4 1258.3,682.2Z"/>
<path fill="#4587bf" transform="translate(218.3,0)" d="M1258.3,682.2C1258,680 1266.6,678 1270.2,677.2C1273.7,676.5 1279,676.4 1282.1,677.2C1285.2,678.1 1290.7,681.1 1291,683.2C1291.3,685.3 1286.9,689.8 1284.1,691.1C1281.2,692.5 1276,693.5 1272.2,692.1C1268.3,690.8 1258.6,684.4 1258.3,682.2Z"/>
<path fill="#b2192b" transform="translate(-218.3,0)" d="M1154.8,682.2C1154.1,681.7 1157,674.9 1157.6,674.3C1158.1,673.7 1162.4,672.7 1163.1,673.3C1163.8,673.8 1168.6,681.6 1168.1,682.2C1167.5,682.8 1155.5,682.7 1154.8,682.2Z"/>
<path fill="#b2192b" d="M1154.8,682.2C1154.1,681.7 1157,674.9 1157.6,674.3C1158.1,673.7 1162.4,672.7 1163.1,673.3C1163.8,673.8 1168.6,681.6 1168.1,682.2C1167.5,682.8 1155.5,682.7 1154.8,682.2Z"/>
<path fill="#b2192b" transform="translate(218.3,0)" d="M1154.8,682.2C1154.1,681.7 1157,674.9 1157.6,674.3C1158.1,673.7 1162.4,672.7 1163.1,673.3C1163.8,673.8 1168.6,681.6 1168.1,682.2C1167.5,682.8 1155.5,682.7 1154.8,682.2Z"/>
</g>
<rect x="1186.9" y="452.1" width="7.42" height="19.8" fill="#2166ac"/>
<rect x="1194" y="452.1" width="16.12" height="19.8" fill="#4587bf"/>
<rect x="1209.8" y="452.1" width="15.49" height="19.8" fill="#66a4cf"/>
<rect x="1225" y="452.1" width="15.65" height="19.8" fill="#97c3de"/>
<rect x="1240.4" y="452.1" width="15.33" height="19.8" fill="#cce2ef"/>
<rect x="1255.4" y="452.1" width="15.65" height="19.8" fill="#f1f7fb"/>
<rect x="1270.7" y="452.1" width="15.65" height="19.8" fill="#ffffff"/>
<rect x="1286.1" y="452.1" width="15.49" height="19.8" fill="#fef0e9"/>
<rect x="1301.3" y="452.1" width="15.80" height="19.8" fill="#fcd6c5"/>
<rect x="1316.8" y="452.1" width="15.49" height="19.8" fill="#f7b296"/>
<rect x="1332" y="452.1" width="15.49" height="19.8" fill="#ea8969"/>
<rect x="1347.2" y="452.1" width="15.33" height="19.8" fill="#d15448"/>
<rect x="1362.2" y="452.1" width="8.21" height="19.8" fill="#b2192b"/>
<text class="cb" x="1194.5" y="488">-0.005</text>
<text class="cb" x="1240.4" y="488">-0.002</text>
<text class="cb" x="1285.8" y="488">0.001</text>
<text class="cb" x="1332" y="488">0.004</text>
<g clip-path="url(#clip-f)">
<line x1="1093.7" y1="562" x2="1111.2" y2="557" stroke="#000" stroke-width="4.6"/>
<line x1="1123.8" y1="552.9" x2="1141.3" y2="548.5" stroke="#000" stroke-width="4.6"/>
<line x1="1154.3" y1="545.3" x2="1172.1" y2="541.1" stroke="#000" stroke-width="4.6"/>
<line x1="1185.2" y1="538.4" x2="1202.9" y2="535.2" stroke="#000" stroke-width="4.6"/>
<line x1="1216.2" y1="533.5" x2="1233.8" y2="531" stroke="#000" stroke-width="4.6"/>
<line x1="1305.9" y1="563" x2="1322.7" y2="557" stroke="#000" stroke-width="4.6"/>
<line x1="1335.6" y1="553.1" x2="1353.1" y2="548.1" stroke="#000" stroke-width="4.6"/>
<line x1="1366.3" y1="544.5" x2="1383.6" y2="541.2" stroke="#000" stroke-width="4.6"/>
<line x1="1397.1" y1="538.2" x2="1414.5" y2="535.2" stroke="#000" stroke-width="4.6"/>
<line x1="1427.8" y1="532.6" x2="1439.9" y2="531.1" stroke="#000" stroke-width="4.6"/>
<line x1="1218.2" y1="662.4" x2="1236.1" y2="667.3" stroke="#000" stroke-width="4.6"/>
<line x1="1248.4" y1="670.3" x2="1266.2" y2="674.3" stroke="#000" stroke-width="4.6"/>
<line x1="1279.1" y1="677.2" x2="1297.5" y2="680.2" stroke="#000" stroke-width="4.6"/>
<line x1="1310.8" y1="681.6" x2="1328.7" y2="683.6" stroke="#000" stroke-width="4.6"/>
<line x1="1342" y1="685.2" x2="1353.9" y2="686.2" stroke="#000" stroke-width="4.6"/>
<path d="M1162.9,536.6 L1173.5,549.8 M1162.9,549.8 L1173.5,536.6" stroke="#ff0000" stroke-width="2.25" fill="none"/>
<path d="M1373.2,537.6 L1383.8,550.8 M1373.2,550.8 L1383.8,537.6" stroke="#ff0000" stroke-width="2.25" fill="none"/>
<path d="M1272.2,669.2 L1282.8,682.5 M1272.2,682.5 L1282.8,669.2" stroke="#ff0000" stroke-width="2.25" fill="none"/>
<path d="M1266.3,552.6 L1278.9,552.6 M1272.6,546.3 L1272.6,558.9" stroke="#ff0000" stroke-width="2.0" fill="none"/>
<path d="M1158.2,666.3 L1170.8,666.3 M1164.5,660 L1164.5,672.6" stroke="#ff0000" stroke-width="2.0" fill="none"/>
<path d="M1376.2,666.3 L1388.8,666.3 M1382.5,660 L1382.5,672.6" stroke="#ff0000" stroke-width="2.0" fill="none"/>
</g>
<line x1="1059.4" y1="784.7" x2="1059.4" y2="777.1" stroke="#000" stroke-width="1.7"/>
<line x1="1070.3" y1="784.7" x2="1070.3" y2="780.3" stroke="#222" stroke-width="0.75"/>
<line x1="1081.2" y1="784.7" x2="1081.2" y2="780.3" stroke="#222" stroke-width="0.75"/>
<line x1="1092.1" y1="784.7" x2="1092.1" y2="780.3" stroke="#222" stroke-width="0.75"/>
<line x1="1103.1" y1="784.7" x2="1103.1" y2="780.3" stroke="#222" stroke-width="0.75"/>
<line x1="1114" y1="784.7" x2="1114" y2="777.1" stroke="#000" stroke-width="1.7"/>
<line x1="1124.9" y1="784.7" x2="1124.9" y2="780.3" stroke="#222" stroke-width="0.75"/>
<line x1="1135.8" y1="784.7" x2="1135.8" y2="780.3" stroke="#222" stroke-width="0.75"/>
<line x1="1146.7" y1="784.7" x2="1146.7" y2="780.3" stroke="#222" stroke-width="0.75"/>
<line x1="1157.6" y1="784.7" x2="1157.6" y2="780.3" stroke="#222" stroke-width="0.75"/>
<line x1="1168.6" y1="784.7" x2="1168.6" y2="777.1" stroke="#000" stroke-width="1.7"/>
<line x1="1179.5" y1="784.7" x2="1179.5" y2="780.3" stroke="#222" stroke-width="0.75"/>
<line x1="1190.4" y1="784.7" x2="1190.4" y2="780.3" stroke="#222" stroke-width="0.75"/>
<line x1="1201.3" y1="784.7" x2="1201.3" y2="780.3" stroke="#222" stroke-width="0.75"/>
<line x1="1212.2" y1="784.7" x2="1212.2" y2="780.3" stroke="#222" stroke-width="0.75"/>
<line x1="1223.1" y1="784.7" x2="1223.1" y2="777.1" stroke="#000" stroke-width="1.7"/>
<line x1="1234" y1="784.7" x2="1234" y2="780.3" stroke="#222" stroke-width="0.75"/>
<line x1="1245" y1="784.7" x2="1245" y2="780.3" stroke="#222" stroke-width="0.75"/>
<line x1="1255.9" y1="784.7" x2="1255.9" y2="780.3" stroke="#222" stroke-width="0.75"/>
<line x1="1266.8" y1="784.7" x2="1266.8" y2="780.3" stroke="#222" stroke-width="0.75"/>
<line x1="1277.7" y1="784.7" x2="1277.7" y2="777.1" stroke="#000" stroke-width="1.7"/>
<line x1="1288.6" y1="784.7" x2="1288.6" y2="780.3" stroke="#222" stroke-width="0.75"/>
<line x1="1299.5" y1="784.7" x2="1299.5" y2="780.3" stroke="#222" stroke-width="0.75"/>
<line x1="1310.4" y1="784.7" x2="1310.4" y2="780.3" stroke="#222" stroke-width="0.75"/>
<line x1="1321.4" y1="784.7" x2="1321.4" y2="780.3" stroke="#222" stroke-width="0.75"/>
<line x1="1332.3" y1="784.7" x2="1332.3" y2="777.1" stroke="#000" stroke-width="1.7"/>
<line x1="1343.2" y1="784.7" x2="1343.2" y2="780.3" stroke="#222" stroke-width="0.75"/>
<line x1="1354.1" y1="784.7" x2="1354.1" y2="780.3" stroke="#222" stroke-width="0.75"/>
<line x1="1365" y1="784.7" x2="1365" y2="780.3" stroke="#222" stroke-width="0.75"/>
<line x1="1375.9" y1="784.7" x2="1375.9" y2="780.3" stroke="#222" stroke-width="0.75"/>
<line x1="1386.8" y1="784.7" x2="1386.8" y2="777.1" stroke="#000" stroke-width="1.7"/>
<line x1="1397.8" y1="784.7" x2="1397.8" y2="780.3" stroke="#222" stroke-width="0.75"/>
<line x1="1408.7" y1="784.7" x2="1408.7" y2="780.3" stroke="#222" stroke-width="0.75"/>
<line x1="1419.6" y1="784.7" x2="1419.6" y2="780.3" stroke="#222" stroke-width="0.75"/>
<line x1="1430.5" y1="784.7" x2="1430.5" y2="780.3" stroke="#222" stroke-width="0.75"/>
<line x1="1441.4" y1="784.7" x2="1441.4" y2="777.1" stroke="#000" stroke-width="1.7"/>
<line x1="1452.3" y1="784.7" x2="1452.3" y2="780.3" stroke="#222" stroke-width="0.75"/>
<line x1="1463.3" y1="784.7" x2="1463.3" y2="780.3" stroke="#222" stroke-width="0.75"/>
<line x1="1474.2" y1="784.7" x2="1474.2" y2="780.3" stroke="#222" stroke-width="0.75"/>
<line x1="1485.1" y1="784.7" x2="1485.1" y2="780.3" stroke="#222" stroke-width="0.75"/>
<line x1="1496" y1="784.7" x2="1496" y2="777.1" stroke="#000" stroke-width="1.7"/>
<line x1="1059.4" y1="449.9" x2="1063.8" y2="449.9" stroke="#222" stroke-width="0.75"/>
<line x1="1059.4" y1="459.6" x2="1063.8" y2="459.6" stroke="#222" stroke-width="0.75"/>
<line x1="1059.4" y1="469.3" x2="1067" y2="469.3" stroke="#000" stroke-width="1.7"/>
<line x1="1059.4" y1="479" x2="1063.8" y2="479" stroke="#222" stroke-width="0.75"/>
<line x1="1059.4" y1="488.7" x2="1063.8" y2="488.7" stroke="#222" stroke-width="0.75"/>
<line x1="1059.4" y1="498.4" x2="1063.8" y2="498.4" stroke="#222" stroke-width="0.75"/>
<line x1="1059.4" y1="508.1" x2="1063.8" y2="508.1" stroke="#222" stroke-width="0.75"/>
<line x1="1059.4" y1="517.8" x2="1067" y2="517.8" stroke="#000" stroke-width="1.7"/>
<line x1="1059.4" y1="527.5" x2="1063.8" y2="527.5" stroke="#222" stroke-width="0.75"/>
<line x1="1059.4" y1="537.2" x2="1063.8" y2="537.2" stroke="#222" stroke-width="0.75"/>
<line x1="1059.4" y1="546.9" x2="1063.8" y2="546.9" stroke="#222" stroke-width="0.75"/>
<line x1="1059.4" y1="556.6" x2="1063.8" y2="556.6" stroke="#222" stroke-width="0.75"/>
<line x1="1059.4" y1="566.3" x2="1067" y2="566.3" stroke="#000" stroke-width="1.7"/>
<line x1="1059.4" y1="576" x2="1063.8" y2="576" stroke="#222" stroke-width="0.75"/>
<line x1="1059.4" y1="585.7" x2="1063.8" y2="585.7" stroke="#222" stroke-width="0.75"/>
<line x1="1059.4" y1="595.4" x2="1063.8" y2="595.4" stroke="#222" stroke-width="0.75"/>
<line x1="1059.4" y1="605.1" x2="1063.8" y2="605.1" stroke="#222" stroke-width="0.75"/>
<line x1="1059.4" y1="614.9" x2="1067" y2="614.9" stroke="#000" stroke-width="1.7"/>
<line x1="1059.4" y1="624.6" x2="1063.8" y2="624.6" stroke="#222" stroke-width="0.75"/>
<line x1="1059.4" y1="634.3" x2="1063.8" y2="634.3" stroke="#222" stroke-width="0.75"/>
<line x1="1059.4" y1="644" x2="1063.8" y2="644" stroke="#222" stroke-width="0.75"/>
<line x1="1059.4" y1="653.7" x2="1063.8" y2="653.7" stroke="#222" stroke-width="0.75"/>
<line x1="1059.4" y1="663.4" x2="1067" y2="663.4" stroke="#000" stroke-width="1.7"/>
<line x1="1059.4" y1="673.1" x2="1063.8" y2="673.1" stroke="#222" stroke-width="0.75"/>
<line x1="1059.4" y1="682.8" x2="1063.8" y2="682.8" stroke="#222" stroke-width="0.75"/>
<line x1="1059.4" y1="692.5" x2="1063.8" y2="692.5" stroke="#222" stroke-width="0.75"/>
<line x1="1059.4" y1="702.2" x2="1063.8" y2="702.2" stroke="#222" stroke-width="0.75"/>
<line x1="1059.4" y1="711.9" x2="1067" y2="711.9" stroke="#000" stroke-width="1.7"/>
<line x1="1059.4" y1="721.6" x2="1063.8" y2="721.6" stroke="#222" stroke-width="0.75"/>
<line x1="1059.4" y1="731.3" x2="1063.8" y2="731.3" stroke="#222" stroke-width="0.75"/>
<line x1="1059.4" y1="741" x2="1063.8" y2="741" stroke="#222" stroke-width="0.75"/>
<line x1="1059.4" y1="750.7" x2="1063.8" y2="750.7" stroke="#222" stroke-width="0.75"/>
<line x1="1059.4" y1="760.4" x2="1067" y2="760.4" stroke="#000" stroke-width="1.7"/>
<line x1="1059.4" y1="770.1" x2="1063.8" y2="770.1" stroke="#222" stroke-width="0.75"/>
<line x1="1059.4" y1="779.8" x2="1063.8" y2="779.8" stroke="#222" stroke-width="0.75"/>
<line x1="1059.4" y1="789.6" x2="1063.8" y2="789.6" stroke="#222" stroke-width="0.75"/>
<rect x="1059.4" y="445" width="436.6" height="339.7" fill="none" stroke="#000" stroke-width="1.65"/>
<text class="tk" text-anchor="middle" x="1059.1" y="802">2</text>
<text class="tk" text-anchor="middle" x="1113.7" y="802">1.5</text>
<text class="tk" text-anchor="middle" x="1168.3" y="802">1</text>
<text class="tk" text-anchor="middle" x="1222.8" y="802">0.5</text>
<text class="tk" text-anchor="middle" x="1277.4" y="802">0</text>
<text class="tk" text-anchor="middle" x="1330.8" y="802">-0.5</text>
<text class="tk" text-anchor="middle" x="1385.3" y="802">-1</text>
<text class="tk" text-anchor="middle" x="1439.9" y="802">-1.5</text>
<text class="tk" text-anchor="middle" x="1494.5" y="802">-2</text>
<text class="tk" text-anchor="end" x="1054.4" y="767.3">-3</text>
<text class="tk" text-anchor="end" x="1054.4" y="718.8">-2</text>
<text class="tk" text-anchor="end" x="1054.4" y="670.3">-1</text>
<text class="tk" text-anchor="end" x="1054.4" y="621.8">0</text>
<text class="tk" text-anchor="end" x="1054.4" y="573.2">1</text>
<text class="tk" text-anchor="end" x="1054.4" y="524.7">2</text>
<text class="tk" text-anchor="end" x="1054.4" y="476.2">3</text>
<text class="sf" font-size="24" text-anchor="middle" x="1280.2" y="819.9">ϕ(π)</text>
<text class="sf" font-size="24" font-style="italic" text-anchor="middle" transform="translate(1031,613.6) rotate(-90)">y<tspan font-size="21" dy="-3.2">*</tspan></text>
<text class="sf" font-size="26" x="1076.7" y="479.2">(f)</text>
</g>
</svg>
</body></html>
